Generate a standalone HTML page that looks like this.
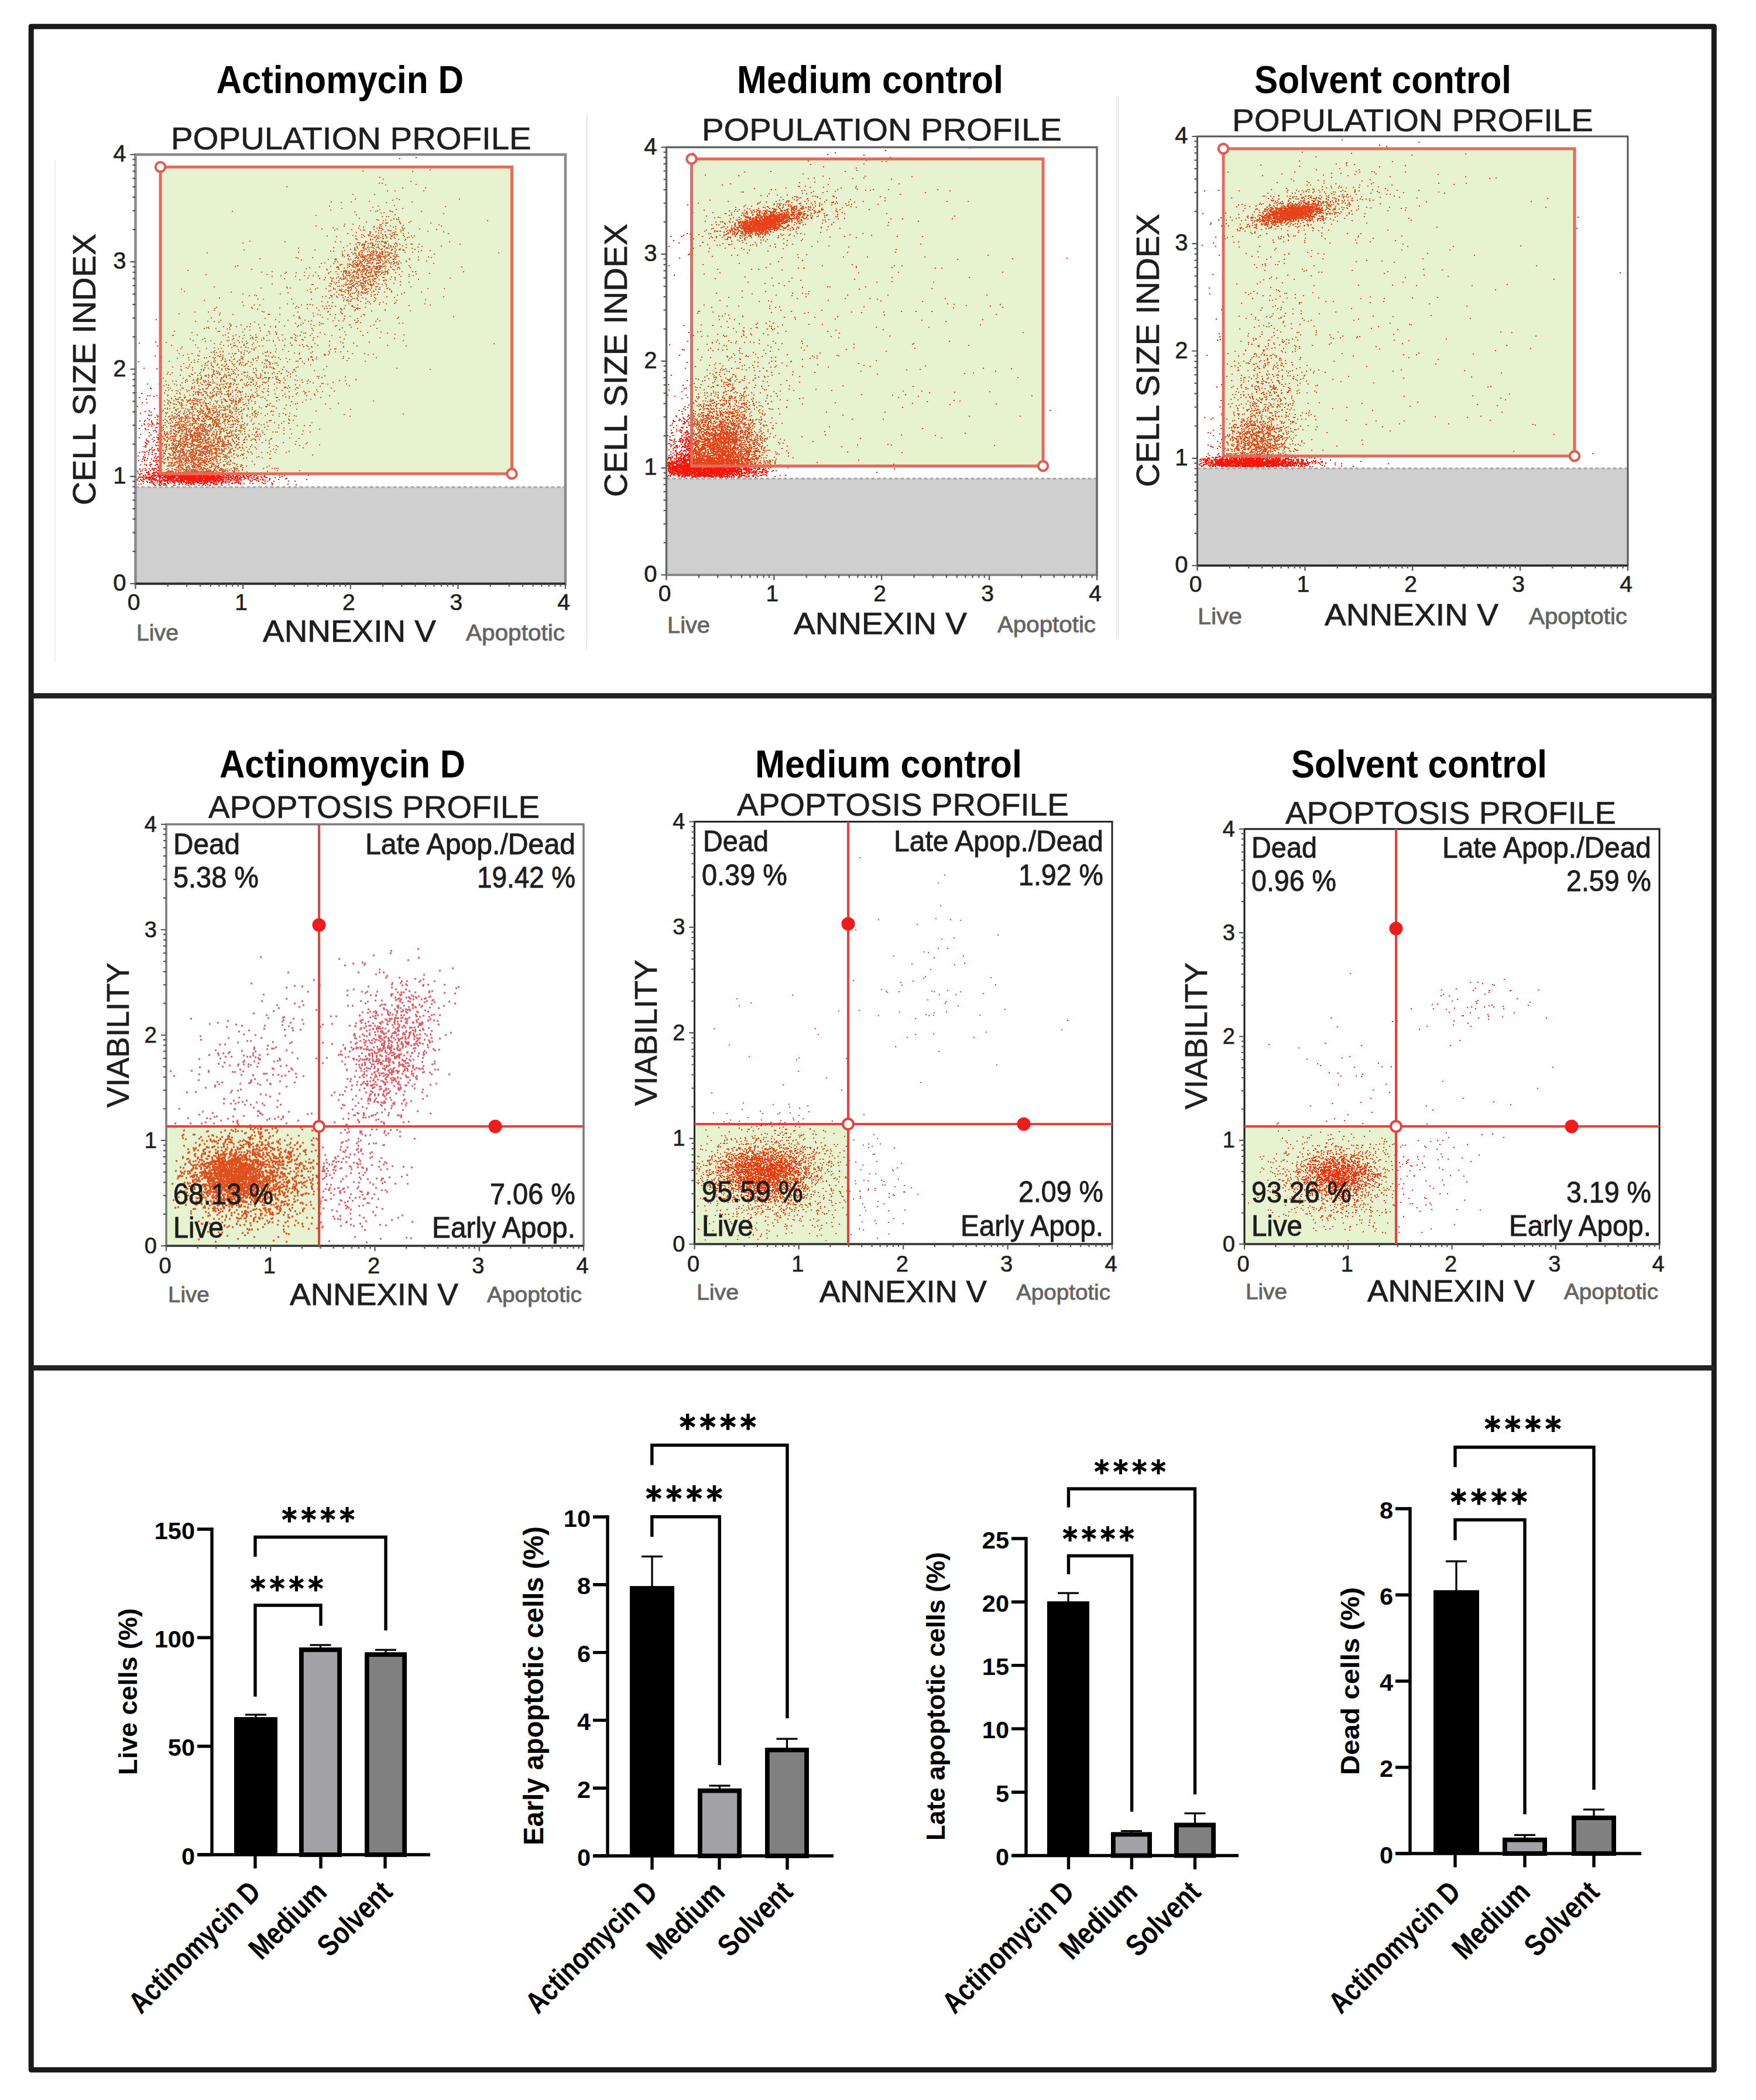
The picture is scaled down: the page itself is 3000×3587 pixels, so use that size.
<!DOCTYPE html><html><head><meta charset="utf-8"><style>html,body{margin:0;padding:0;background:#fff;width:3000px;height:3587px;overflow:hidden}text{font-family:"Liberation Sans",sans-serif}</style></head><body><svg width="3000" height="3587" viewBox="0 0 3000 3587" style="display:block;font-family:'Liberation Sans',sans-serif"><rect x="0.0" y="0.0" width="3000.0" height="3587.0" fill="#fff"/><line x1="94.0" y1="272.0" x2="94.0" y2="1131.0" stroke="#ececec" stroke-width="2"/><line x1="1002.0" y1="200.0" x2="1002.0" y2="1112.0" stroke="#ececec" stroke-width="2"/><rect x="231.5" y="264.0" width="734.5" height="733.0" fill="#ffffff"/><rect x="231.5" y="832.0" width="734.5" height="165.0" fill="#cfcfcf"/><line x1="231.5" y1="832.0" x2="966.0" y2="832.0" stroke="#a8a8a8" stroke-width="3" stroke-dasharray="6 4"/><rect x="274.0" y="285.2" width="600.5" height="524.0" fill="#e7f2d0"/><path d="M233 819h2M234 694h2M234 805h2M234 820h2M235 779h2M235 808h2M235 817h2M236 618h2M236 787h2M236 815h2M236 827h2M237 586h2M237 679h2M237 732h2M237 748h2M237 773h2M237 815h2M237 822h2M238 719h2M238 801h2M238 802h2M238 810h2M238 812h2M238 815h2M239 706h2M239 742h2M239 794h2M239 805h2M239 819h2M240 809h2M240 815h2M240 827h2M241 672h2M241 727h2M241 809h2M241 815h2M241 820h2M241 821h2M242 688h2M242 772h2M242 788h2M242 804h2M243 784h2M243 801h2M243 815h2M243 822h2M244 780h2M244 812h2M244 817h2M244 819h2M244 822h2M244 825h2M245 629h2M245 724h2M245 763h2M245 772h2M245 782h2M245 814h2M245 819h2M246 720h2M246 725h2M246 777h2M246 785h2M246 787h2M246 793h2M246 819h2M247 703h2M247 718h2M247 732h2M247 756h2M247 773h2M247 781h2M247 800h2M247 803h2M247 811h2M247 816h2M248 734h2M248 761h2M248 763h2M248 764h2M248 813h2M248 817h2M249 682h2M249 750h2M249 753h2M249 757h2M249 794h2M249 795h2M249 803h2M249 807h2M249 815h2M250 688h2M250 753h2M250 758h2M250 759h2M250 771h2M250 786h2M250 807h2M250 815h2M250 817h2M250 818h2M250 822h2M251 656h2M251 676h2M251 715h2M251 783h2M251 824h2M252 724h2M252 734h2M252 753h2M252 807h2M252 809h2M252 811h2M252 815h2M253 709h2M253 728h2M253 755h2M253 773h2M253 776h2M253 805h2M253 810h2M253 815h2M253 816h2M253 818h2M253 819h2M254 702h2M254 717h2M254 739h2M254 745h2M254 770h2M254 801h2M254 808h2M254 817h2M254 818h2M254 819h2M254 820h2M255 676h2M255 710h2M255 725h2M255 768h2M255 790h2M255 794h2M255 811h2M255 815h2M255 818h2M255 824h2M255 825h2M256 663h2M256 796h2M256 804h2M256 817h2M256 818h2M257 664h2M257 704h2M257 743h2M257 793h2M257 815h2M257 819h2M257 821h2M257 823h2M258 709h2M258 719h2M258 721h2M258 728h2M258 767h2M258 784h2M258 793h2M258 813h2M258 815h2M259 723h2M259 725h2M259 750h2M259 764h2M259 770h2M259 773h2M259 776h2M259 800h2M259 802h2M259 809h2M259 812h2M259 813h2M259 816h2M259 818h2M259 822h2M259 823h2M259 824h2M259 825h2M260 723h2M260 813h2M260 816h2M260 819h2M261 736h2M261 754h2M261 769h2M261 787h2M261 807h2M261 809h2M261 812h2M261 815h2M261 817h2M261 818h2M261 826h2M262 677h2M262 726h2M262 747h2M262 788h2M262 800h2M262 801h2M262 803h2M262 804h2M262 810h2M262 817h2M262 819h2M262 820h2M262 825h2M262 828h2M263 698h2M263 752h2M263 768h2M263 781h2M263 782h2M263 807h2M263 811h2M263 813h2M263 828h2M264 608h2M264 713h2M264 735h2M264 775h2M264 787h2M264 795h2M264 800h2M264 807h2M264 808h2M264 813h2M264 818h2M264 820h2M265 584h2M265 731h2M265 760h2M265 779h2M265 812h2M265 820h2M265 821h2M265 829h2M266 546h2M266 737h2M266 738h2M266 761h2M266 775h2M266 783h2M266 784h2M266 787h2M266 790h2M266 793h2M266 801h2M266 806h2M266 815h2M266 816h2M266 819h2M266 820h2M267 630h2M267 676h2M267 709h2M267 724h2M267 730h2M267 747h2M267 756h2M267 806h2M267 807h2M267 812h2M268 591h2M268 712h2M268 717h2M268 722h2M268 767h2M268 781h2M268 787h2M268 793h2M268 794h2M268 803h2M268 809h2M268 822h2M268 825h2M269 711h2M269 724h2M269 743h2M269 747h2M269 750h2M269 751h2M269 755h2M269 761h2M269 766h2M269 770h2M269 780h2M269 797h2M269 799h2M269 803h2M269 809h2M269 810h2M269 813h2M269 814h2M269 820h2M269 821h2M270 748h2M270 769h2M270 787h2M270 799h2M270 804h2M270 808h2M270 811h2M270 812h2M270 813h2M271 656h2M271 680h2M271 723h2M271 740h2M271 750h2M271 790h2M271 801h2M271 805h2M271 811h2M271 815h2M271 816h2M271 823h2M271 827h2M271 829h2M272 647h2M272 682h2M272 722h2M272 728h2M272 729h2M272 731h2M272 741h2M272 746h2M272 787h2M272 790h2M272 792h2M272 803h2M272 813h2M272 818h2M272 819h2M272 821h2M272 823h2M272 825h2M272 826h2M273 668h2M273 697h2M273 720h2M273 722h2M273 735h2M273 751h2M273 752h2M273 768h2M273 776h2M273 799h2M273 801h2M273 807h2M273 815h2M273 817h2M273 829h2M274 810h2M274 811h2M274 813h2M274 822h2M274 824h2M275 821h2M275 822h2M275 825h2M275 827h2M276 812h2M276 816h2M276 821h2M277 811h2M277 816h2M277 817h2M277 819h2M278 811h2M278 815h2M278 819h2M278 820h2M279 810h2M279 813h2M279 826h2M279 828h2M279 829h2M280 812h2M280 813h2M280 815h2M280 819h2M280 821h2M280 822h2M280 827h2M281 811h2M281 812h2M281 815h2M281 817h2M281 820h2M281 822h2M281 826h2M282 814h2M282 815h2M282 816h2M282 820h2M282 828h2M283 811h2M283 813h2M283 814h2M283 816h2M283 821h2M283 829h2M284 810h2M284 812h2M284 816h2M284 820h2M284 822h2M285 811h2M285 812h2M285 815h2M285 818h2M285 819h2M285 820h2M285 824h2M286 813h2M286 816h2M286 817h2M286 818h2M286 821h2M286 823h2M286 826h2M287 810h2M287 811h2M287 814h2M287 815h2M287 819h2M287 820h2M287 826h2M288 811h2M288 812h2M288 814h2M288 815h2M288 816h2M288 818h2M289 810h2M289 811h2M289 815h2M289 816h2M289 819h2M289 822h2M289 823h2M290 814h2M290 816h2M290 818h2M290 824h2M291 812h2M291 815h2M291 817h2M291 819h2M291 821h2M292 813h2M292 815h2M292 816h2M292 817h2M292 818h2M293 811h2M293 812h2M293 815h2M293 817h2M293 821h2M293 822h2M294 809h2M294 810h2M294 811h2M294 812h2M294 813h2M294 814h2M294 816h2M294 818h2M294 819h2M294 821h2M294 823h2M295 811h2M295 816h2M295 817h2M295 818h2M295 819h2M295 820h2M295 823h2M295 824h2M296 809h2M296 811h2M296 812h2M296 813h2M296 815h2M296 816h2M296 817h2M296 820h2M296 823h2M296 829h2M297 810h2M297 812h2M297 815h2M297 816h2M297 821h2M297 823h2M297 824h2M297 826h2M297 829h2M298 810h2M298 812h2M298 814h2M298 815h2M298 816h2M298 825h2M298 829h2M299 811h2M299 812h2M299 816h2M299 819h2M299 820h2M299 821h2M300 810h2M300 813h2M300 816h2M300 817h2M301 812h2M301 813h2M301 819h2M301 821h2M301 822h2M302 812h2M302 813h2M302 818h2M302 819h2M302 820h2M303 809h2M303 810h2M303 815h2M303 816h2M303 818h2M303 821h2M303 823h2M304 809h2M304 810h2M304 811h2M304 812h2M304 816h2M304 817h2M304 818h2M304 821h2M305 811h2M305 812h2M305 813h2M305 814h2M305 815h2M305 816h2M305 823h2M305 824h2M305 826h2M305 828h2M306 809h2M306 812h2M306 813h2M306 816h2M306 817h2M306 821h2M306 822h2M307 809h2M307 811h2M307 814h2M307 815h2M307 816h2M307 818h2M307 819h2M307 821h2M307 822h2M308 809h2M308 811h2M308 812h2M308 813h2M308 814h2M308 815h2M308 816h2M308 818h2M308 820h2M308 821h2M308 823h2M308 824h2M309 814h2M309 815h2M309 818h2M309 820h2M309 823h2M309 825h2M310 809h2M310 813h2M310 814h2M310 815h2M310 816h2M310 819h2M310 821h2M310 822h2M311 812h2M311 813h2M311 814h2M311 815h2M311 816h2M311 817h2M311 818h2M311 821h2M311 827h2M312 809h2M312 811h2M312 812h2M312 813h2M312 814h2M312 816h2M312 819h2M312 820h2M312 821h2M312 822h2M313 813h2M313 814h2M313 819h2M313 821h2M313 823h2M313 824h2M314 809h2M314 811h2M314 813h2M314 815h2M314 816h2M314 818h2M314 819h2M314 820h2M314 822h2M314 823h2M315 810h2M315 811h2M315 814h2M315 815h2M315 816h2M316 810h2M316 812h2M316 813h2M316 814h2M316 815h2M316 817h2M316 819h2M316 824h2M316 827h2M317 811h2M317 812h2M317 813h2M317 814h2M317 815h2M317 816h2M318 809h2M318 811h2M318 812h2M318 813h2M318 814h2M318 816h2M318 817h2M318 818h2M318 819h2M318 820h2M318 821h2M318 822h2M318 824h2M318 826h2M318 827h2M319 812h2M319 814h2M319 817h2M319 818h2M319 819h2M319 821h2M320 811h2M320 813h2M320 814h2M320 815h2M320 817h2M320 820h2M320 821h2M320 824h2M321 810h2M321 811h2M321 812h2M321 813h2M321 816h2M321 818h2M321 820h2M321 822h2M321 824h2M321 825h2M321 829h2M322 809h2M322 810h2M322 811h2M322 814h2M322 815h2M322 816h2M322 818h2M322 819h2M322 823h2M322 825h2M322 826h2M323 809h2M323 811h2M323 812h2M323 813h2M323 815h2M323 816h2M323 817h2M323 818h2M323 819h2M323 820h2M323 822h2M324 810h2M324 811h2M324 814h2M324 815h2M324 816h2M324 819h2M324 824h2M324 825h2M325 810h2M325 811h2M325 812h2M325 814h2M325 815h2M325 816h2M325 817h2M325 818h2M325 819h2M325 821h2M325 827h2M326 809h2M326 810h2M326 811h2M326 812h2M326 813h2M326 814h2M326 816h2M326 817h2M326 819h2M326 820h2M326 821h2M326 822h2M326 823h2M326 826h2M326 827h2M326 828h2M327 809h2M327 810h2M327 811h2M327 813h2M327 814h2M327 815h2M327 816h2M327 818h2M327 819h2M327 820h2M327 821h2M327 824h2M328 809h2M328 810h2M328 811h2M328 812h2M328 813h2M328 815h2M328 816h2M328 817h2M328 818h2M328 819h2M328 820h2M328 822h2M328 824h2M328 825h2M329 809h2M329 810h2M329 811h2M329 812h2M329 813h2M329 814h2M329 815h2M329 817h2M329 818h2M329 819h2M329 820h2M329 821h2M329 823h2M329 827h2M330 810h2M330 811h2M330 812h2M330 813h2M330 814h2M330 815h2M330 816h2M330 817h2M330 818h2M330 819h2M330 820h2M330 821h2M330 822h2M330 823h2M330 825h2M331 809h2M331 811h2M331 812h2M331 813h2M331 814h2M331 815h2M331 816h2M331 819h2M331 820h2M331 828h2M332 811h2M332 813h2M332 814h2M332 815h2M332 816h2M332 817h2M332 818h2M332 819h2M332 821h2M332 825h2M333 811h2M333 813h2M333 814h2M333 816h2M333 817h2M333 818h2M333 819h2M333 820h2M333 821h2M333 823h2M334 809h2M334 810h2M334 811h2M334 812h2M334 814h2M334 815h2M334 816h2M334 817h2M334 818h2M334 820h2M334 821h2M335 810h2M335 812h2M335 813h2M335 816h2M335 817h2M335 818h2M335 819h2M335 821h2M335 823h2M336 811h2M336 812h2M336 813h2M336 816h2M336 818h2M336 819h2M336 822h2M336 823h2M336 824h2M337 810h2M337 811h2M337 813h2M337 814h2M337 815h2M337 816h2M337 817h2M337 818h2M337 822h2M337 825h2M338 810h2M338 812h2M338 814h2M338 815h2M338 816h2M338 817h2M338 820h2M338 822h2M338 823h2M338 824h2M339 810h2M339 811h2M339 812h2M339 813h2M339 815h2M339 817h2M339 818h2M339 819h2M339 821h2M339 823h2M339 829h2M340 809h2M340 811h2M340 812h2M340 813h2M340 814h2M340 815h2M340 816h2M340 818h2M340 821h2M340 826h2M341 810h2M341 811h2M341 812h2M341 813h2M341 814h2M341 815h2M341 817h2M341 818h2M341 820h2M341 822h2M341 823h2M341 826h2M342 809h2M342 810h2M342 811h2M342 813h2M342 814h2M342 815h2M342 816h2M342 817h2M342 818h2M342 819h2M342 821h2M343 809h2M343 811h2M343 812h2M343 814h2M343 815h2M343 816h2M343 817h2M343 818h2M343 820h2M343 821h2M343 823h2M343 826h2M344 809h2M344 810h2M344 811h2M344 812h2M344 818h2M344 819h2M344 825h2M345 811h2M345 812h2M345 813h2M345 816h2M345 817h2M345 818h2M345 819h2M345 820h2M345 829h2M346 811h2M346 812h2M346 815h2M346 817h2M346 820h2M346 822h2M346 825h2M346 828h2M347 810h2M347 812h2M347 813h2M347 814h2M347 815h2M347 816h2M347 821h2M347 825h2M347 827h2M348 809h2M348 811h2M348 812h2M348 813h2M348 814h2M348 816h2M348 817h2M348 823h2M349 812h2M349 814h2M349 815h2M349 817h2M349 819h2M349 820h2M349 821h2M349 823h2M349 825h2M349 826h2M350 809h2M350 810h2M350 812h2M350 813h2M350 814h2M350 816h2M350 817h2M350 818h2M350 821h2M350 823h2M350 824h2M350 829h2M351 810h2M351 811h2M351 812h2M351 814h2M351 816h2M351 817h2M351 818h2M351 819h2M351 821h2M351 822h2M351 823h2M351 824h2M352 810h2M352 812h2M352 814h2M352 816h2M352 817h2M352 820h2M352 821h2M352 822h2M352 826h2M353 809h2M353 811h2M353 813h2M353 814h2M353 816h2M353 817h2M353 818h2M353 822h2M353 823h2M354 810h2M354 813h2M354 815h2M354 816h2M354 817h2M354 818h2M354 819h2M354 821h2M354 823h2M354 824h2M354 828h2M355 811h2M355 812h2M355 817h2M355 818h2M355 821h2M356 810h2M356 813h2M356 815h2M356 816h2M356 819h2M356 820h2M356 821h2M357 809h2M357 810h2M357 817h2M357 818h2M357 819h2M357 820h2M357 821h2M357 822h2M357 823h2M357 829h2M358 810h2M358 811h2M358 814h2M358 815h2M358 816h2M358 817h2M358 819h2M358 828h2M358 829h2M359 809h2M359 810h2M359 811h2M359 812h2M359 813h2M359 814h2M359 817h2M359 818h2M359 819h2M359 820h2M359 823h2M359 825h2M360 810h2M360 811h2M360 812h2M360 814h2M360 815h2M360 816h2M360 818h2M360 819h2M360 822h2M360 823h2M360 824h2M360 825h2M361 809h2M361 810h2M361 811h2M361 812h2M361 815h2M361 816h2M361 817h2M361 819h2M362 809h2M362 811h2M362 813h2M362 815h2M362 817h2M362 818h2M362 819h2M362 820h2M362 824h2M363 809h2M363 811h2M363 812h2M363 814h2M363 815h2M363 819h2M363 820h2M363 821h2M363 825h2M364 812h2M364 813h2M364 815h2M364 816h2M364 817h2M364 818h2M364 819h2M364 820h2M364 821h2M364 822h2M364 825h2M364 827h2M365 810h2M365 811h2M365 812h2M365 813h2M365 815h2M365 816h2M365 817h2M365 818h2M365 819h2M365 820h2M365 825h2M366 810h2M366 815h2M366 816h2M366 817h2M366 821h2M366 823h2M366 828h2M367 809h2M367 810h2M367 814h2M367 816h2M367 817h2M367 820h2M367 822h2M367 827h2M368 813h2M368 819h2M368 820h2M368 821h2M368 823h2M369 809h2M369 810h2M369 813h2M369 817h2M369 820h2M369 825h2M369 828h2M370 812h2M370 814h2M370 816h2M370 818h2M370 819h2M370 827h2M371 813h2M371 814h2M371 815h2M371 817h2M371 820h2M371 822h2M372 809h2M372 812h2M372 814h2M372 816h2M372 821h2M372 824h2M373 809h2M373 812h2M373 813h2M373 814h2M373 815h2M373 816h2M373 817h2M373 818h2M373 821h2M373 822h2M374 810h2M374 815h2M375 813h2M375 814h2M375 815h2M375 817h2M375 818h2M375 819h2M375 821h2M375 822h2M377 809h2M377 811h2M377 814h2M377 817h2M377 819h2M377 820h2M377 825h2M377 826h2M377 827h2M378 811h2M378 815h2M378 817h2M378 818h2M378 824h2M378 829h2M379 810h2M379 815h2M379 816h2M379 819h2M379 821h2M379 825h2M380 809h2M380 813h2M380 814h2M380 816h2M380 820h2M380 821h2M380 823h2M381 810h2M381 811h2M381 816h2M381 819h2M381 822h2M381 823h2M382 813h2M382 817h2M382 822h2M383 809h2M383 815h2M384 811h2M384 824h2M385 815h2M385 816h2M385 818h2M385 819h2M385 821h2M385 822h2M385 824h2M385 825h2M386 813h2M387 810h2M387 812h2M387 813h2M387 816h2M388 811h2M388 819h2M388 820h2M388 823h2M389 811h2M389 812h2M389 814h2M389 815h2M389 818h2M389 820h2M390 816h2M390 818h2M390 824h2M390 828h2M391 811h2M391 812h2M391 823h2M392 811h2M392 812h2M392 815h2M392 819h2M392 820h2M393 814h2M393 816h2M393 821h2M394 814h2M394 816h2M395 817h2M395 818h2M395 820h2M395 826h2M396 809h2M396 813h2M396 825h2M397 811h2M397 812h2M397 816h2M397 817h2M397 826h2M398 814h2M398 820h2M399 819h2M400 815h2M400 818h2M400 825h2M401 810h2M401 816h2M401 821h2M401 824h2M402 814h2M402 818h2M402 821h2M403 813h2M403 814h2M403 815h2M403 821h2M403 824h2M404 811h2M404 814h2M404 818h2M404 820h2M404 822h2M405 811h2M405 814h2M405 816h2M406 809h2M406 813h2M406 820h2M406 824h2M407 818h2M407 822h2M407 823h2M407 824h2M407 826h2M408 810h2M408 812h2M408 816h2M409 811h2M409 817h2M409 818h2M409 819h2M410 814h2M410 817h2M410 820h2M410 825h2M410 827h2M411 816h2M412 816h2M412 820h2M414 812h2M414 814h2M415 815h2M416 813h2M416 815h2M416 819h2M416 826h2M417 816h2M417 817h2M419 817h2M420 813h2M421 809h2M421 811h2M422 814h2M423 816h2M423 818h2M423 819h2M424 809h2M424 810h2M424 814h2M425 810h2M425 813h2M426 820h2M426 825h2M427 809h2M427 812h2M427 822h2M428 811h2M428 813h2M428 816h2M428 822h2M430 817h2M430 818h2M430 821h2M431 826h2M433 813h2M433 814h2M433 816h2M433 819h2M434 809h2M434 812h2M435 819h2M436 819h2M437 812h2M437 817h2M437 821h2M438 816h2M439 816h2M439 818h2M440 814h2M440 818h2M440 821h2M441 822h2M444 819h2M445 810h2M445 814h2M446 816h2M447 824h2M448 818h2M448 819h2M448 820h2M449 820h2M449 826h2M450 814h2M451 812h2M451 814h2M452 815h2M452 820h2M452 823h2M452 826h2M454 816h2M455 816h2M456 822h2M459 820h2M460 817h2M460 819h2M463 825h2M464 828h2M465 826h2M467 822h2M469 816h2M475 819h2M476 812h2M477 815h2M481 814h2M485 812h2M487 818h2M489 817h2M491 827h2M492 822h2M495 810h2M503 822h2M505 828h2M523 819h2M526 812h2M682 271h2M710 269h2" stroke="#ff1a10" stroke-width="2"/><path d="M274 720h2M274 726h2M274 735h2M274 741h2M274 750h2M274 751h2M274 756h2M274 763h2M274 767h2M274 768h2M274 769h2M274 770h2M274 776h2M274 777h2M274 779h2M274 783h2M274 787h2M274 788h2M274 791h2M274 793h2M275 610h2M275 627h2M275 728h2M275 743h2M275 751h2M275 752h2M275 758h2M275 782h2M275 803h2M275 806h2M276 703h2M276 731h2M276 736h2M276 746h2M276 759h2M276 777h2M276 782h2M276 783h2M276 789h2M277 757h2M277 762h2M277 769h2M278 646h2M278 701h2M278 718h2M278 727h2M278 730h2M278 734h2M278 745h2M278 749h2M278 770h2M278 780h2M278 789h2M278 807h2M279 659h2M279 749h2M279 773h2M279 775h2M279 779h2M279 785h2M279 792h2M280 671h2M280 685h2M280 692h2M280 737h2M280 739h2M280 741h2M280 750h2M280 760h2M280 774h2M280 785h2M280 791h2M281 698h2M281 716h2M281 722h2M281 726h2M281 742h2M281 745h2M281 751h2M281 752h2M281 759h2M281 769h2M281 775h2M281 790h2M281 807h2M282 651h2M282 667h2M282 705h2M282 711h2M282 743h2M282 764h2M282 771h2M282 783h2M282 808h2M283 585h2M283 657h2M283 707h2M283 759h2M283 761h2M283 765h2M283 766h2M283 802h2M283 807h2M283 808h2M284 718h2M284 729h2M284 740h2M284 742h2M284 747h2M284 754h2M284 763h2M284 768h2M284 806h2M285 639h2M285 676h2M285 683h2M285 697h2M285 699h2M285 705h2M285 720h2M285 738h2M285 741h2M285 746h2M285 752h2M285 754h2M285 781h2M285 782h2M285 796h2M286 636h2M286 662h2M286 675h2M286 688h2M286 690h2M286 748h2M286 784h2M286 786h2M286 800h2M286 801h2M286 804h2M286 806h2M286 808h2M287 658h2M287 666h2M287 685h2M287 712h2M287 723h2M287 742h2M287 750h2M287 775h2M287 781h2M287 791h2M287 796h2M287 805h2M288 617h2M288 685h2M288 759h2M288 761h2M288 767h2M288 781h2M288 794h2M288 804h2M288 807h2M289 693h2M289 698h2M289 711h2M289 717h2M289 738h2M289 749h2M289 767h2M289 775h2M289 777h2M289 790h2M289 796h2M289 807h2M290 640h2M290 663h2M290 687h2M290 716h2M290 723h2M290 741h2M290 746h2M290 749h2M290 765h2M290 782h2M290 790h2M290 805h2M290 807h2M291 688h2M291 715h2M291 727h2M291 729h2M291 732h2M291 735h2M291 737h2M291 752h2M291 753h2M291 765h2M291 778h2M291 794h2M291 805h2M292 590h2M292 680h2M292 681h2M292 719h2M292 740h2M292 745h2M292 752h2M292 766h2M292 767h2M292 783h2M292 790h2M292 792h2M292 796h2M292 806h2M293 637h2M293 667h2M293 704h2M293 709h2M293 710h2M293 714h2M293 746h2M293 749h2M293 757h2M293 758h2M293 761h2M293 765h2M293 769h2M293 783h2M293 790h2M293 792h2M293 801h2M293 804h2M294 573h2M294 627h2M294 651h2M294 721h2M294 728h2M294 729h2M294 745h2M294 749h2M294 756h2M294 759h2M294 771h2M294 777h2M294 786h2M294 796h2M294 805h2M295 573h2M295 690h2M295 712h2M295 728h2M295 734h2M295 752h2M295 764h2M295 766h2M295 776h2M295 778h2M295 806h2M295 807h2M296 684h2M296 697h2M296 713h2M296 716h2M296 740h2M296 745h2M296 746h2M296 750h2M296 752h2M296 754h2M296 758h2M296 759h2M296 760h2M296 764h2M296 767h2M296 768h2M296 772h2M296 774h2M296 781h2M296 783h2M296 793h2M296 795h2M296 808h2M297 566h2M297 656h2M297 690h2M297 696h2M297 714h2M297 727h2M297 735h2M297 742h2M297 750h2M297 753h2M297 754h2M297 761h2M297 765h2M297 781h2M297 783h2M297 790h2M297 795h2M297 802h2M297 808h2M298 677h2M298 706h2M298 711h2M298 725h2M298 726h2M298 729h2M298 731h2M298 736h2M298 741h2M298 746h2M298 749h2M298 750h2M298 771h2M298 773h2M298 774h2M298 780h2M298 783h2M298 791h2M298 802h2M299 681h2M299 700h2M299 718h2M299 722h2M299 737h2M299 744h2M299 746h2M299 752h2M299 759h2M299 762h2M299 763h2M299 766h2M299 768h2M299 769h2M299 774h2M299 777h2M299 785h2M299 790h2M299 794h2M299 806h2M299 808h2M299 809h2M300 651h2M300 667h2M300 683h2M300 691h2M300 702h2M300 714h2M300 726h2M300 737h2M300 738h2M300 743h2M300 753h2M300 761h2M300 765h2M300 778h2M300 782h2M300 784h2M300 799h2M300 802h2M300 804h2M300 808h2M301 658h2M301 672h2M301 700h2M301 708h2M301 712h2M301 721h2M301 727h2M301 737h2M301 742h2M301 757h2M301 764h2M301 767h2M301 768h2M301 771h2M301 784h2M301 788h2M301 789h2M301 803h2M301 808h2M302 599h2M302 612h2M302 682h2M302 707h2M302 725h2M302 753h2M302 761h2M302 763h2M302 764h2M302 791h2M302 798h2M303 668h2M303 686h2M303 698h2M303 710h2M303 723h2M303 725h2M303 732h2M303 739h2M303 771h2M303 772h2M303 773h2M303 780h2M303 782h2M303 783h2M303 788h2M303 797h2M304 682h2M304 687h2M304 704h2M304 715h2M304 721h2M304 725h2M304 730h2M304 731h2M304 737h2M304 754h2M304 758h2M304 760h2M304 761h2M304 770h2M304 772h2M304 795h2M304 797h2M304 798h2M304 800h2M304 804h2M304 806h2M304 809h2M305 536h2M305 604h2M305 679h2M305 709h2M305 711h2M305 720h2M305 721h2M305 726h2M305 730h2M305 735h2M305 739h2M305 753h2M305 756h2M305 759h2M305 776h2M305 778h2M305 779h2M305 784h2M305 787h2M305 790h2M305 792h2M305 795h2M305 796h2M305 801h2M305 807h2M306 671h2M306 688h2M306 689h2M306 704h2M306 715h2M306 717h2M306 728h2M306 731h2M306 732h2M306 735h2M306 736h2M306 745h2M306 754h2M306 758h2M306 764h2M306 770h2M306 778h2M306 779h2M306 781h2M306 784h2M306 786h2M306 788h2M306 793h2M306 795h2M306 803h2M306 807h2M307 641h2M307 658h2M307 666h2M307 673h2M307 679h2M307 702h2M307 714h2M307 724h2M307 730h2M307 744h2M307 749h2M307 751h2M307 752h2M307 754h2M307 759h2M307 762h2M307 770h2M307 771h2M307 773h2M307 774h2M307 775h2M307 782h2M307 786h2M307 794h2M307 795h2M308 596h2M308 626h2M308 631h2M308 692h2M308 719h2M308 720h2M308 733h2M308 744h2M308 745h2M308 746h2M308 749h2M308 750h2M308 756h2M308 759h2M308 760h2M308 761h2M308 767h2M308 768h2M308 772h2M308 785h2M308 787h2M308 790h2M308 795h2M308 797h2M308 799h2M308 803h2M308 806h2M308 808h2M309 494h2M309 633h2M309 683h2M309 688h2M309 689h2M309 691h2M309 694h2M309 697h2M309 713h2M309 717h2M309 720h2M309 727h2M309 736h2M309 741h2M309 760h2M309 766h2M309 778h2M309 779h2M309 780h2M309 788h2M309 791h2M309 799h2M310 593h2M310 654h2M310 663h2M310 712h2M310 714h2M310 715h2M310 725h2M310 729h2M310 730h2M310 734h2M310 740h2M310 741h2M310 749h2M310 757h2M310 768h2M310 769h2M310 773h2M310 779h2M310 783h2M310 789h2M310 794h2M310 799h2M310 800h2M310 801h2M311 683h2M311 692h2M311 729h2M311 733h2M311 737h2M311 740h2M311 750h2M311 754h2M311 762h2M311 767h2M311 770h2M311 771h2M311 772h2M311 778h2M311 783h2M311 793h2M311 800h2M311 807h2M311 808h2M312 607h2M312 646h2M312 663h2M312 685h2M312 697h2M312 720h2M312 727h2M312 736h2M312 747h2M312 750h2M312 753h2M312 754h2M312 758h2M312 762h2M312 764h2M312 769h2M312 772h2M312 774h2M312 777h2M312 785h2M312 795h2M312 796h2M312 801h2M313 621h2M313 706h2M313 707h2M313 714h2M313 725h2M313 726h2M313 729h2M313 730h2M313 744h2M313 754h2M313 755h2M313 759h2M313 767h2M313 771h2M313 774h2M313 776h2M313 782h2M313 783h2M313 790h2M313 803h2M313 806h2M313 807h2M314 498h2M314 675h2M314 679h2M314 680h2M314 702h2M314 705h2M314 721h2M314 734h2M314 746h2M314 754h2M314 756h2M314 762h2M314 764h2M314 773h2M314 777h2M314 779h2M314 782h2M314 802h2M314 806h2M314 807h2M315 711h2M315 718h2M315 726h2M315 730h2M315 733h2M315 734h2M315 740h2M315 741h2M315 746h2M315 749h2M315 750h2M315 754h2M315 759h2M315 761h2M315 762h2M315 776h2M315 786h2M315 788h2M315 793h2M316 650h2M316 653h2M316 678h2M316 679h2M316 698h2M316 710h2M316 712h2M316 715h2M316 716h2M316 718h2M316 723h2M316 744h2M316 745h2M316 752h2M316 761h2M316 776h2M316 784h2M316 792h2M316 795h2M316 803h2M316 805h2M316 808h2M317 628h2M317 692h2M317 713h2M317 722h2M317 726h2M317 729h2M317 732h2M317 737h2M317 738h2M317 742h2M317 748h2M317 749h2M317 757h2M317 758h2M317 759h2M317 769h2M317 774h2M317 778h2M317 781h2M317 784h2M317 786h2M317 787h2M317 788h2M317 789h2M317 790h2M317 798h2M317 801h2M317 805h2M317 806h2M317 807h2M317 808h2M318 648h2M318 666h2M318 683h2M318 704h2M318 714h2M318 733h2M318 734h2M318 736h2M318 740h2M318 746h2M318 748h2M318 749h2M318 750h2M318 751h2M318 752h2M318 755h2M318 775h2M318 780h2M318 782h2M318 783h2M318 799h2M318 803h2M318 805h2M319 651h2M319 669h2M319 687h2M319 708h2M319 709h2M319 712h2M319 721h2M319 742h2M319 744h2M319 748h2M319 759h2M319 760h2M319 762h2M319 772h2M319 781h2M319 787h2M319 791h2M319 797h2M319 799h2M319 802h2M319 808h2M320 462h2M320 605h2M320 629h2M320 685h2M320 699h2M320 715h2M320 718h2M320 721h2M320 727h2M320 732h2M320 744h2M320 751h2M320 756h2M320 761h2M320 764h2M320 770h2M320 782h2M320 785h2M320 787h2M320 806h2M321 611h2M321 684h2M321 685h2M321 702h2M321 711h2M321 721h2M321 736h2M321 738h2M321 756h2M321 764h2M321 769h2M321 779h2M321 783h2M321 784h2M321 785h2M321 786h2M321 795h2M321 796h2M321 804h2M321 808h2M322 615h2M322 626h2M322 642h2M322 667h2M322 684h2M322 714h2M322 734h2M322 736h2M322 743h2M322 751h2M322 774h2M322 788h2M322 791h2M322 797h2M322 798h2M322 800h2M322 803h2M322 806h2M322 808h2M323 623h2M323 675h2M323 689h2M323 700h2M323 704h2M323 707h2M323 719h2M323 726h2M323 733h2M323 738h2M323 758h2M323 764h2M323 770h2M323 771h2M323 776h2M323 779h2M323 787h2M323 801h2M323 806h2M324 579h2M324 643h2M324 681h2M324 683h2M324 684h2M324 705h2M324 714h2M324 723h2M324 724h2M324 727h2M324 731h2M324 740h2M324 742h2M324 745h2M324 749h2M324 774h2M324 776h2M324 779h2M324 780h2M324 801h2M325 690h2M325 695h2M325 735h2M325 738h2M325 742h2M325 744h2M325 745h2M325 746h2M325 747h2M325 757h2M325 759h2M325 764h2M325 767h2M325 768h2M325 773h2M325 778h2M325 780h2M325 782h2M325 790h2M325 804h2M326 619h2M326 639h2M326 664h2M326 696h2M326 735h2M326 737h2M326 742h2M326 743h2M326 745h2M326 746h2M326 753h2M326 757h2M326 761h2M326 763h2M326 768h2M326 772h2M326 773h2M326 777h2M326 784h2M326 786h2M326 789h2M326 790h2M326 793h2M326 803h2M326 805h2M326 806h2M326 807h2M327 568h2M327 604h2M327 661h2M327 663h2M327 664h2M327 684h2M327 687h2M327 698h2M327 699h2M327 705h2M327 707h2M327 714h2M327 724h2M327 726h2M327 727h2M327 745h2M327 746h2M327 748h2M327 753h2M327 754h2M327 768h2M327 771h2M327 772h2M327 774h2M327 775h2M327 782h2M327 783h2M327 786h2M327 788h2M327 789h2M327 796h2M327 802h2M327 803h2M327 804h2M328 628h2M328 632h2M328 640h2M328 655h2M328 694h2M328 696h2M328 711h2M328 714h2M328 718h2M328 725h2M328 735h2M328 743h2M328 745h2M328 746h2M328 748h2M328 750h2M328 751h2M328 752h2M328 754h2M328 756h2M328 758h2M328 761h2M328 770h2M328 772h2M328 776h2M328 779h2M328 781h2M328 782h2M328 798h2M328 804h2M328 806h2M328 808h2M329 582h2M329 649h2M329 674h2M329 675h2M329 684h2M329 690h2M329 700h2M329 703h2M329 709h2M329 716h2M329 723h2M329 731h2M329 744h2M329 750h2M329 751h2M329 754h2M329 760h2M329 762h2M329 767h2M329 768h2M329 769h2M329 770h2M329 772h2M329 777h2M329 784h2M329 786h2M329 789h2M329 790h2M329 791h2M329 795h2M329 797h2M329 799h2M329 802h2M329 803h2M330 649h2M330 669h2M330 680h2M330 688h2M330 691h2M330 692h2M330 714h2M330 720h2M330 741h2M330 753h2M330 754h2M330 759h2M330 765h2M330 772h2M330 774h2M330 778h2M330 779h2M330 784h2M330 786h2M330 790h2M330 793h2M330 796h2M330 798h2M330 802h2M330 806h2M330 807h2M330 808h2M330 809h2M331 615h2M331 619h2M331 653h2M331 660h2M331 663h2M331 681h2M331 684h2M331 709h2M331 715h2M331 717h2M331 723h2M331 728h2M331 730h2M331 738h2M331 739h2M331 743h2M331 750h2M331 759h2M331 779h2M331 780h2M331 784h2M331 785h2M331 786h2M331 791h2M331 803h2M331 804h2M331 807h2M332 533h2M332 637h2M332 690h2M332 695h2M332 698h2M332 719h2M332 732h2M332 733h2M332 739h2M332 741h2M332 744h2M332 745h2M332 747h2M332 751h2M332 753h2M332 761h2M332 768h2M332 774h2M332 777h2M332 781h2M332 782h2M332 784h2M332 785h2M332 791h2M332 792h2M332 793h2M332 796h2M332 798h2M332 799h2M332 803h2M332 804h2M332 805h2M333 549h2M333 589h2M333 670h2M333 673h2M333 682h2M333 721h2M333 739h2M333 740h2M333 745h2M333 750h2M333 766h2M333 771h2M333 774h2M333 775h2M333 779h2M333 785h2M333 793h2M333 794h2M333 803h2M333 806h2M333 808h2M333 809h2M334 681h2M334 685h2M334 689h2M334 690h2M334 699h2M334 718h2M334 719h2M334 720h2M334 723h2M334 732h2M334 735h2M334 736h2M334 741h2M334 747h2M334 753h2M334 762h2M334 765h2M334 766h2M334 769h2M334 771h2M334 776h2M334 784h2M334 786h2M334 801h2M334 804h2M334 805h2M334 807h2M334 808h2M334 809h2M335 649h2M335 650h2M335 715h2M335 724h2M335 731h2M335 735h2M335 736h2M335 740h2M335 744h2M335 751h2M335 753h2M335 754h2M335 760h2M335 766h2M335 769h2M335 772h2M335 774h2M335 775h2M335 782h2M335 793h2M335 798h2M335 805h2M335 808h2M335 809h2M336 572h2M336 650h2M336 655h2M336 669h2M336 670h2M336 683h2M336 685h2M336 690h2M336 703h2M336 710h2M336 715h2M336 730h2M336 733h2M336 734h2M336 739h2M336 743h2M336 748h2M336 751h2M336 752h2M336 753h2M336 764h2M336 769h2M336 781h2M336 795h2M336 796h2M336 804h2M336 805h2M336 807h2M337 594h2M337 607h2M337 618h2M337 641h2M337 646h2M337 648h2M337 652h2M337 653h2M337 673h2M337 686h2M337 692h2M337 701h2M337 711h2M337 716h2M337 732h2M337 734h2M337 738h2M337 741h2M337 745h2M337 746h2M337 749h2M337 755h2M337 760h2M337 761h2M337 763h2M337 764h2M337 769h2M337 784h2M337 785h2M337 787h2M337 790h2M337 795h2M337 801h2M337 806h2M337 808h2M338 614h2M338 664h2M338 669h2M338 671h2M338 674h2M338 675h2M338 682h2M338 705h2M338 710h2M338 713h2M338 714h2M338 724h2M338 728h2M338 732h2M338 735h2M338 738h2M338 741h2M338 742h2M338 746h2M338 751h2M338 752h2M338 756h2M338 761h2M338 769h2M338 770h2M338 778h2M338 783h2M338 788h2M338 790h2M338 793h2M338 796h2M338 798h2M338 807h2M338 808h2M339 608h2M339 659h2M339 704h2M339 715h2M339 718h2M339 728h2M339 731h2M339 741h2M339 743h2M339 745h2M339 746h2M339 756h2M339 759h2M339 762h2M339 763h2M339 775h2M339 776h2M339 778h2M339 782h2M339 786h2M339 787h2M339 790h2M339 795h2M339 797h2M339 805h2M339 806h2M339 807h2M340 600h2M340 638h2M340 666h2M340 670h2M340 685h2M340 688h2M340 708h2M340 715h2M340 738h2M340 740h2M340 742h2M340 745h2M340 751h2M340 754h2M340 756h2M340 764h2M340 769h2M340 770h2M340 772h2M340 775h2M340 776h2M340 777h2M340 778h2M340 786h2M340 792h2M340 796h2M340 801h2M340 802h2M340 808h2M341 648h2M341 666h2M341 683h2M341 697h2M341 702h2M341 703h2M341 707h2M341 726h2M341 728h2M341 731h2M341 739h2M341 746h2M341 747h2M341 749h2M341 760h2M341 761h2M341 764h2M341 771h2M341 772h2M341 775h2M341 776h2M341 778h2M341 782h2M341 785h2M341 794h2M341 795h2M341 797h2M341 801h2M342 636h2M342 641h2M342 654h2M342 671h2M342 683h2M342 688h2M342 692h2M342 699h2M342 704h2M342 707h2M342 724h2M342 728h2M342 731h2M342 733h2M342 743h2M342 746h2M342 747h2M342 751h2M342 755h2M342 758h2M342 763h2M342 771h2M342 773h2M342 775h2M342 777h2M342 778h2M342 784h2M342 790h2M342 792h2M342 794h2M342 800h2M342 806h2M342 808h2M343 631h2M343 644h2M343 645h2M343 647h2M343 671h2M343 694h2M343 726h2M343 736h2M343 740h2M343 742h2M343 747h2M343 750h2M343 755h2M343 756h2M343 763h2M343 768h2M343 774h2M343 779h2M343 783h2M343 786h2M343 790h2M343 798h2M343 799h2M343 801h2M343 804h2M343 808h2M344 625h2M344 657h2M344 675h2M344 682h2M344 693h2M344 700h2M344 702h2M344 712h2M344 718h2M344 720h2M344 725h2M344 736h2M344 740h2M344 755h2M344 762h2M344 766h2M344 771h2M344 779h2M344 783h2M344 787h2M344 806h2M344 808h2M345 580h2M345 657h2M345 664h2M345 702h2M345 705h2M345 706h2M345 711h2M345 719h2M345 729h2M345 732h2M345 734h2M345 737h2M345 751h2M345 752h2M345 755h2M345 767h2M345 773h2M345 777h2M345 778h2M345 783h2M345 790h2M345 794h2M345 802h2M345 806h2M346 665h2M346 674h2M346 675h2M346 688h2M346 703h2M346 706h2M346 715h2M346 725h2M346 727h2M346 728h2M346 730h2M346 736h2M346 741h2M346 743h2M346 753h2M346 758h2M346 764h2M346 771h2M346 773h2M346 775h2M346 786h2M346 789h2M346 803h2M346 806h2M346 807h2M347 631h2M347 633h2M347 650h2M347 651h2M347 668h2M347 688h2M347 697h2M347 702h2M347 714h2M347 716h2M347 720h2M347 726h2M347 730h2M347 737h2M347 749h2M347 750h2M347 766h2M347 773h2M347 775h2M347 786h2M347 787h2M347 799h2M347 801h2M347 805h2M348 513h2M348 561h2M348 611h2M348 653h2M348 685h2M348 708h2M348 709h2M348 720h2M348 723h2M348 731h2M348 733h2M348 734h2M348 737h2M348 744h2M348 745h2M348 748h2M348 757h2M348 763h2M348 765h2M348 771h2M348 774h2M348 788h2M348 789h2M348 791h2M348 795h2M348 806h2M348 808h2M349 578h2M349 624h2M349 628h2M349 642h2M349 669h2M349 679h2M349 707h2M349 718h2M349 719h2M349 732h2M349 735h2M349 743h2M349 753h2M349 762h2M349 763h2M349 766h2M349 768h2M349 771h2M349 776h2M349 781h2M349 782h2M349 785h2M349 787h2M349 792h2M349 800h2M349 807h2M349 808h2M350 583h2M350 621h2M350 650h2M350 669h2M350 681h2M350 688h2M350 690h2M350 693h2M350 705h2M350 711h2M350 712h2M350 719h2M350 723h2M350 727h2M350 729h2M350 733h2M350 739h2M350 743h2M350 746h2M350 748h2M350 751h2M350 753h2M350 755h2M350 764h2M350 765h2M350 766h2M350 775h2M350 777h2M350 782h2M350 790h2M350 791h2M350 796h2M350 801h2M350 806h2M351 469h2M351 641h2M351 643h2M351 652h2M351 658h2M351 664h2M351 672h2M351 689h2M351 708h2M351 710h2M351 714h2M351 735h2M351 736h2M351 737h2M351 738h2M351 741h2M351 752h2M351 756h2M351 757h2M351 761h2M351 763h2M351 766h2M351 767h2M351 773h2M351 776h2M351 779h2M351 787h2M351 793h2M351 805h2M351 806h2M352 560h2M352 595h2M352 611h2M352 664h2M352 670h2M352 690h2M352 693h2M352 695h2M352 698h2M352 709h2M352 711h2M352 715h2M352 725h2M352 734h2M352 753h2M352 764h2M352 768h2M352 771h2M352 773h2M352 780h2M352 783h2M352 789h2M352 793h2M352 802h2M352 804h2M352 806h2M352 807h2M352 808h2M353 432h2M353 619h2M353 624h2M353 656h2M353 663h2M353 674h2M353 698h2M353 700h2M353 712h2M353 740h2M353 742h2M353 743h2M353 751h2M353 756h2M353 758h2M353 763h2M353 769h2M353 771h2M353 774h2M353 783h2M353 784h2M353 785h2M353 786h2M353 801h2M353 804h2M353 806h2M354 549h2M354 663h2M354 676h2M354 695h2M354 696h2M354 698h2M354 706h2M354 710h2M354 730h2M354 736h2M354 738h2M354 744h2M354 750h2M354 762h2M354 763h2M354 766h2M354 768h2M354 774h2M354 794h2M354 800h2M354 805h2M354 807h2M355 533h2M355 559h2M355 617h2M355 629h2M355 640h2M355 645h2M355 650h2M355 657h2M355 660h2M355 689h2M355 699h2M355 703h2M355 704h2M355 707h2M355 712h2M355 717h2M355 728h2M355 735h2M355 744h2M355 748h2M355 751h2M355 754h2M355 756h2M355 762h2M355 764h2M355 770h2M355 773h2M355 779h2M355 788h2M355 790h2M356 561h2M356 642h2M356 653h2M356 656h2M356 700h2M356 704h2M356 726h2M356 727h2M356 735h2M356 742h2M356 748h2M356 758h2M356 759h2M356 762h2M356 763h2M356 788h2M356 802h2M356 804h2M356 805h2M356 807h2M357 609h2M357 658h2M357 677h2M357 680h2M357 698h2M357 701h2M357 702h2M357 705h2M357 711h2M357 715h2M357 725h2M357 737h2M357 738h2M357 747h2M357 750h2M357 761h2M357 770h2M357 772h2M357 773h2M357 775h2M357 776h2M357 779h2M357 783h2M357 785h2M357 798h2M357 804h2M357 807h2M358 657h2M358 670h2M358 687h2M358 691h2M358 700h2M358 704h2M358 706h2M358 713h2M358 715h2M358 716h2M358 727h2M358 750h2M358 754h2M358 761h2M358 766h2M358 769h2M358 770h2M358 784h2M358 787h2M358 791h2M358 799h2M358 806h2M358 807h2M359 582h2M359 653h2M359 658h2M359 672h2M359 680h2M359 714h2M359 716h2M359 726h2M359 728h2M359 731h2M359 733h2M359 735h2M359 756h2M359 760h2M359 764h2M359 768h2M359 783h2M359 791h2M359 803h2M359 804h2M359 805h2M360 543h2M360 602h2M360 620h2M360 623h2M360 624h2M360 678h2M360 683h2M360 708h2M360 713h2M360 735h2M360 755h2M360 762h2M360 763h2M360 769h2M360 772h2M360 775h2M360 787h2M360 796h2M360 798h2M361 631h2M361 641h2M361 644h2M361 698h2M361 715h2M361 743h2M361 745h2M361 752h2M361 758h2M361 761h2M361 767h2M361 771h2M361 772h2M361 775h2M361 776h2M361 778h2M361 781h2M361 784h2M361 791h2M361 794h2M361 797h2M361 806h2M361 808h2M362 626h2M362 643h2M362 648h2M362 671h2M362 675h2M362 678h2M362 694h2M362 701h2M362 702h2M362 708h2M362 710h2M362 716h2M362 719h2M362 721h2M362 731h2M362 732h2M362 740h2M362 760h2M362 761h2M362 774h2M362 781h2M362 791h2M362 808h2M363 611h2M363 639h2M363 651h2M363 654h2M363 666h2M363 675h2M363 677h2M363 716h2M363 718h2M363 724h2M363 726h2M363 730h2M363 742h2M363 757h2M363 761h2M363 762h2M363 763h2M363 774h2M363 784h2M363 791h2M363 793h2M363 794h2M363 805h2M363 807h2M363 808h2M364 601h2M364 617h2M364 627h2M364 632h2M364 635h2M364 636h2M364 639h2M364 666h2M364 676h2M364 690h2M364 697h2M364 701h2M364 704h2M364 706h2M364 719h2M364 724h2M364 727h2M364 737h2M364 747h2M364 750h2M364 752h2M364 756h2M364 762h2M364 766h2M364 774h2M364 787h2M364 806h2M365 490h2M365 530h2M365 549h2M365 587h2M365 594h2M365 602h2M365 613h2M365 634h2M365 639h2M365 663h2M365 669h2M365 675h2M365 694h2M365 704h2M365 705h2M365 713h2M365 722h2M365 725h2M365 738h2M365 742h2M365 743h2M365 752h2M365 753h2M365 754h2M365 756h2M365 761h2M365 766h2M365 767h2M365 781h2M365 783h2M365 793h2M365 796h2M365 801h2M365 802h2M365 804h2M366 527h2M366 599h2M366 606h2M366 619h2M366 654h2M366 697h2M366 718h2M366 720h2M366 721h2M366 762h2M366 773h2M366 780h2M366 803h2M367 611h2M367 616h2M367 685h2M367 704h2M367 713h2M367 716h2M367 717h2M367 723h2M367 729h2M367 734h2M367 746h2M367 749h2M367 759h2M367 765h2M367 766h2M367 767h2M367 769h2M367 773h2M367 775h2M367 798h2M367 800h2M367 808h2M368 561h2M368 661h2M368 673h2M368 694h2M368 697h2M368 703h2M368 717h2M368 720h2M368 727h2M368 729h2M368 734h2M368 744h2M368 746h2M368 747h2M368 748h2M368 769h2M368 772h2M368 776h2M368 781h2M368 783h2M368 784h2M368 787h2M368 795h2M368 803h2M368 806h2M369 525h2M369 602h2M369 634h2M369 662h2M369 672h2M369 674h2M369 676h2M369 686h2M369 688h2M369 700h2M369 701h2M369 711h2M369 717h2M369 722h2M369 724h2M369 726h2M369 728h2M369 738h2M369 740h2M369 742h2M369 743h2M369 759h2M369 766h2M369 768h2M369 769h2M369 772h2M369 774h2M369 778h2M369 780h2M369 788h2M369 797h2M370 624h2M370 637h2M370 645h2M370 656h2M370 657h2M370 669h2M370 704h2M370 707h2M370 712h2M370 715h2M370 723h2M370 728h2M370 737h2M370 743h2M370 750h2M370 755h2M370 758h2M370 763h2M370 767h2M370 771h2M370 777h2M370 785h2M370 788h2M370 791h2M370 797h2M370 805h2M371 608h2M371 622h2M371 638h2M371 663h2M371 685h2M371 708h2M371 712h2M371 718h2M371 725h2M371 750h2M371 752h2M371 756h2M371 759h2M371 800h2M372 566h2M372 596h2M372 635h2M372 665h2M372 717h2M372 727h2M372 729h2M372 748h2M372 749h2M372 753h2M372 755h2M372 761h2M372 766h2M372 779h2M372 795h2M372 796h2M372 799h2M372 807h2M373 550h2M373 628h2M373 669h2M373 673h2M373 692h2M373 696h2M373 703h2M373 705h2M373 710h2M373 717h2M373 721h2M373 723h2M373 724h2M373 728h2M373 734h2M373 747h2M373 755h2M373 763h2M373 766h2M373 767h2M373 769h2M373 774h2M373 775h2M373 779h2M373 780h2M373 792h2M373 798h2M373 809h2M374 509h2M374 538h2M374 566h2M374 609h2M374 637h2M374 640h2M374 659h2M374 704h2M374 708h2M374 716h2M374 719h2M374 731h2M374 742h2M374 746h2M374 747h2M374 749h2M374 757h2M374 769h2M374 802h2M374 804h2M374 807h2M375 535h2M375 588h2M375 601h2M375 639h2M375 657h2M375 666h2M375 670h2M375 694h2M375 701h2M375 729h2M375 736h2M375 737h2M375 738h2M375 740h2M375 748h2M375 749h2M375 750h2M375 751h2M375 754h2M375 774h2M375 780h2M375 786h2M375 803h2M376 547h2M376 606h2M376 609h2M376 648h2M376 650h2M376 651h2M376 652h2M376 663h2M376 665h2M376 678h2M376 713h2M376 724h2M376 733h2M376 739h2M376 740h2M376 746h2M376 753h2M376 784h2M376 790h2M376 800h2M377 584h2M377 595h2M377 616h2M377 645h2M377 669h2M377 673h2M377 683h2M377 696h2M377 737h2M377 762h2M377 767h2M377 770h2M377 775h2M377 800h2M377 802h2M377 803h2M377 809h2M378 624h2M378 630h2M378 632h2M378 647h2M378 656h2M378 672h2M378 686h2M378 687h2M378 689h2M378 700h2M378 731h2M378 733h2M378 754h2M378 758h2M378 768h2M378 773h2M378 803h2M378 807h2M378 808h2M379 612h2M379 614h2M379 623h2M379 708h2M379 710h2M379 712h2M379 722h2M379 750h2M379 752h2M379 755h2M379 760h2M379 762h2M379 771h2M379 801h2M379 804h2M379 806h2M380 573h2M380 600h2M380 601h2M380 607h2M380 610h2M380 645h2M380 661h2M380 693h2M380 707h2M380 709h2M380 732h2M380 752h2M380 755h2M380 756h2M380 759h2M380 763h2M380 769h2M380 771h2M380 776h2M380 781h2M380 804h2M380 805h2M380 806h2M380 808h2M381 558h2M381 590h2M381 644h2M381 650h2M381 651h2M381 657h2M381 681h2M381 696h2M381 701h2M381 714h2M381 720h2M381 734h2M381 735h2M381 736h2M381 757h2M381 758h2M381 761h2M381 762h2M381 763h2M381 776h2M381 788h2M381 794h2M381 795h2M381 802h2M382 626h2M382 642h2M382 664h2M382 682h2M382 700h2M382 701h2M382 717h2M382 721h2M382 737h2M382 754h2M382 756h2M382 759h2M382 763h2M382 767h2M382 770h2M382 771h2M382 779h2M382 796h2M382 805h2M383 617h2M383 639h2M383 651h2M383 674h2M383 683h2M383 697h2M383 701h2M383 707h2M383 719h2M383 724h2M383 731h2M383 745h2M383 747h2M383 748h2M383 759h2M383 762h2M383 766h2M383 781h2M383 785h2M383 794h2M383 804h2M384 572h2M384 613h2M384 625h2M384 630h2M384 660h2M384 683h2M384 684h2M384 685h2M384 695h2M384 698h2M384 708h2M384 711h2M384 717h2M384 727h2M384 745h2M384 750h2M384 760h2M384 777h2M384 802h2M384 804h2M384 805h2M385 617h2M385 633h2M385 641h2M385 643h2M385 655h2M385 662h2M385 684h2M385 700h2M385 707h2M385 713h2M385 717h2M385 735h2M385 745h2M385 746h2M385 767h2M385 778h2M385 780h2M385 782h2M385 788h2M386 622h2M386 623h2M386 644h2M386 645h2M386 656h2M386 669h2M386 686h2M386 711h2M386 735h2M386 739h2M386 746h2M386 759h2M386 760h2M386 792h2M387 562h2M387 582h2M387 629h2M387 674h2M387 686h2M387 693h2M387 734h2M387 741h2M387 760h2M387 779h2M387 783h2M387 801h2M387 804h2M388 654h2M388 673h2M388 694h2M388 695h2M388 699h2M388 712h2M388 717h2M388 722h2M388 730h2M388 744h2M388 752h2M388 756h2M388 763h2M388 775h2M388 790h2M388 793h2M388 805h2M388 808h2M389 569h2M389 576h2M389 591h2M389 626h2M389 630h2M389 631h2M389 636h2M389 641h2M389 663h2M389 667h2M389 669h2M389 672h2M389 674h2M389 677h2M389 709h2M389 718h2M389 719h2M389 720h2M389 740h2M389 746h2M389 752h2M389 754h2M389 756h2M389 759h2M389 773h2M389 781h2M390 582h2M390 604h2M390 661h2M390 667h2M390 676h2M390 677h2M390 678h2M390 725h2M390 757h2M390 765h2M390 781h2M390 789h2M391 560h2M391 615h2M391 631h2M391 641h2M391 656h2M391 661h2M391 682h2M391 692h2M391 695h2M391 696h2M391 700h2M391 704h2M391 715h2M391 720h2M391 738h2M391 740h2M391 745h2M391 746h2M391 758h2M391 771h2M391 774h2M391 781h2M391 794h2M391 803h2M392 553h2M392 563h2M392 616h2M392 642h2M392 646h2M392 659h2M392 674h2M392 683h2M392 684h2M392 693h2M392 694h2M392 702h2M392 710h2M392 713h2M392 719h2M392 730h2M392 746h2M392 760h2M392 769h2M392 770h2M392 771h2M392 772h2M392 786h2M392 793h2M392 808h2M393 557h2M393 588h2M393 654h2M393 656h2M393 661h2M393 672h2M393 673h2M393 674h2M393 705h2M393 735h2M393 745h2M393 757h2M393 768h2M393 786h2M393 788h2M394 499h2M394 555h2M394 610h2M394 656h2M394 684h2M394 689h2M394 702h2M394 711h2M394 726h2M394 730h2M394 738h2M394 745h2M394 760h2M394 767h2M394 773h2M394 801h2M395 594h2M395 618h2M395 631h2M395 639h2M395 680h2M395 685h2M395 688h2M395 689h2M395 707h2M395 730h2M395 737h2M395 740h2M395 743h2M395 762h2M395 779h2M395 808h2M396 361h2M396 580h2M396 604h2M396 621h2M396 647h2M396 667h2M396 670h2M396 704h2M396 705h2M396 711h2M396 712h2M396 718h2M396 725h2M396 750h2M396 751h2M396 766h2M396 804h2M397 537h2M397 574h2M397 634h2M397 677h2M397 685h2M397 697h2M397 720h2M397 729h2M397 736h2M397 744h2M397 745h2M397 753h2M397 791h2M398 578h2M398 591h2M398 608h2M398 614h2M398 623h2M398 638h2M398 649h2M398 657h2M398 682h2M398 684h2M398 687h2M398 713h2M398 724h2M398 725h2M398 726h2M398 754h2M398 769h2M398 770h2M398 776h2M398 799h2M398 805h2M398 806h2M398 807h2M399 586h2M399 590h2M399 636h2M399 655h2M399 699h2M399 741h2M399 755h2M399 775h2M399 782h2M399 807h2M400 604h2M400 613h2M400 622h2M400 626h2M400 632h2M400 648h2M400 650h2M400 692h2M400 695h2M400 715h2M400 718h2M400 748h2M400 757h2M400 770h2M400 791h2M400 792h2M400 799h2M400 801h2M400 803h2M400 805h2M400 807h2M400 809h2M401 455h2M401 590h2M401 639h2M401 651h2M401 667h2M401 686h2M401 702h2M401 719h2M401 724h2M401 736h2M401 743h2M401 764h2M402 572h2M402 604h2M402 665h2M402 674h2M402 680h2M402 684h2M402 688h2M402 690h2M402 699h2M402 707h2M402 734h2M402 737h2M402 743h2M402 765h2M402 801h2M403 558h2M403 629h2M403 644h2M403 657h2M403 666h2M403 686h2M403 691h2M403 696h2M403 698h2M403 703h2M403 717h2M403 730h2M403 734h2M403 746h2M403 747h2M403 754h2M403 759h2M403 761h2M403 777h2M403 794h2M403 800h2M404 592h2M404 618h2M404 662h2M404 712h2M404 720h2M404 744h2M404 793h2M404 804h2M405 454h2M405 617h2M405 670h2M405 677h2M405 700h2M405 718h2M405 725h2M405 758h2M405 767h2M405 780h2M405 797h2M405 801h2M406 582h2M406 597h2M406 633h2M406 640h2M406 641h2M406 656h2M406 688h2M406 715h2M406 721h2M406 749h2M406 751h2M406 760h2M406 778h2M406 807h2M407 600h2M407 667h2M407 684h2M407 685h2M407 687h2M407 699h2M407 704h2M407 720h2M407 735h2M407 736h2M407 742h2M407 747h2M407 751h2M407 756h2M407 804h2M408 575h2M408 585h2M408 615h2M408 621h2M408 623h2M408 669h2M408 681h2M408 708h2M408 764h2M408 765h2M408 808h2M409 615h2M409 683h2M409 686h2M409 727h2M409 736h2M409 764h2M410 619h2M410 620h2M410 650h2M410 669h2M410 671h2M410 682h2M410 684h2M410 703h2M410 731h2M410 739h2M410 778h2M410 796h2M411 555h2M411 593h2M411 601h2M411 603h2M411 609h2M411 612h2M411 648h2M411 675h2M411 680h2M411 696h2M411 703h2M411 726h2M411 729h2M411 736h2M411 770h2M411 794h2M411 797h2M411 808h2M412 623h2M412 639h2M412 679h2M412 701h2M412 711h2M412 714h2M412 728h2M412 731h2M412 776h2M413 516h2M413 584h2M413 612h2M413 649h2M413 669h2M413 707h2M413 715h2M413 720h2M413 742h2M413 760h2M413 764h2M413 795h2M413 802h2M413 803h2M414 415h2M414 502h2M414 567h2M414 578h2M414 610h2M414 614h2M414 619h2M414 662h2M414 682h2M414 687h2M414 725h2M414 766h2M414 776h2M414 778h2M414 799h2M415 522h2M415 625h2M415 691h2M415 700h2M415 732h2M415 752h2M415 756h2M415 783h2M416 427h2M416 573h2M416 588h2M416 590h2M416 603h2M416 606h2M416 635h2M416 636h2M416 637h2M416 656h2M416 698h2M416 726h2M416 769h2M416 775h2M417 562h2M417 599h2M417 642h2M417 691h2M417 723h2M417 733h2M417 737h2M417 741h2M417 750h2M417 751h2M417 756h2M418 624h2M418 636h2M418 659h2M418 678h2M418 730h2M418 747h2M418 808h2M419 593h2M419 622h2M419 673h2M419 677h2M419 689h2M419 746h2M420 583h2M420 587h2M420 656h2M420 764h2M420 782h2M420 796h2M421 558h2M421 600h2M421 621h2M421 644h2M421 658h2M421 659h2M421 693h2M421 709h2M421 711h2M421 726h2M421 751h2M421 806h2M422 586h2M422 636h2M422 641h2M422 653h2M422 724h2M422 771h2M423 594h2M423 617h2M423 618h2M423 677h2M423 683h2M423 697h2M423 699h2M423 773h2M424 603h2M424 648h2M424 657h2M424 685h2M424 689h2M424 743h2M424 746h2M425 505h2M425 644h2M425 735h2M425 745h2M425 767h2M426 412h2M426 558h2M426 564h2M426 601h2M426 626h2M426 682h2M426 712h2M427 553h2M427 573h2M427 578h2M427 647h2M427 653h2M427 658h2M427 677h2M427 679h2M427 763h2M428 619h2M428 666h2M428 719h2M428 752h2M428 772h2M429 460h2M429 525h2M429 596h2M429 653h2M429 685h2M429 716h2M429 760h2M430 527h2M430 576h2M430 589h2M430 623h2M430 645h2M430 648h2M430 674h2M430 677h2M430 696h2M430 699h2M430 706h2M430 742h2M430 750h2M430 775h2M430 788h2M431 577h2M431 579h2M431 613h2M431 650h2M431 709h2M431 725h2M432 586h2M432 615h2M432 630h2M432 636h2M432 649h2M432 656h2M432 676h2M432 733h2M433 521h2M433 596h2M433 598h2M433 679h2M433 704h2M433 723h2M433 750h2M434 504h2M434 550h2M434 637h2M434 679h2M434 703h2M434 712h2M434 743h2M434 793h2M434 808h2M435 659h2M435 670h2M435 686h2M435 689h2M435 702h2M435 706h2M435 709h2M435 751h2M435 764h2M436 572h2M436 576h2M436 581h2M436 594h2M436 612h2M436 629h2M436 640h2M436 731h2M436 739h2M436 746h2M436 752h2M437 505h2M437 632h2M437 633h2M437 641h2M437 644h2M437 653h2M437 656h2M437 664h2M437 706h2M437 712h2M437 737h2M437 739h2M437 756h2M437 767h2M438 576h2M438 616h2M438 668h2M438 672h2M438 677h2M438 737h2M438 745h2M438 781h2M438 808h2M439 528h2M439 584h2M439 646h2M439 660h2M439 675h2M439 708h2M439 733h2M439 742h2M440 511h2M440 609h2M440 610h2M440 612h2M440 704h2M440 745h2M441 554h2M441 646h2M441 676h2M441 724h2M441 780h2M442 591h2M442 662h2M442 695h2M442 733h2M442 751h2M443 442h2M443 521h2M443 560h2M443 659h2M443 742h2M444 565h2M444 639h2M444 643h2M444 645h2M444 745h2M445 492h2M445 641h2M445 679h2M445 697h2M445 706h2M445 726h2M445 808h2M446 465h2M446 581h2M446 773h2M447 532h2M447 619h2M447 633h2M447 657h2M447 669h2M447 736h2M447 756h2M447 782h2M448 591h2M448 604h2M448 647h2M448 653h2M448 678h2M448 739h2M449 511h2M449 577h2M449 670h2M449 800h2M450 533h2M450 579h2M450 627h2M450 653h2M450 664h2M450 725h2M451 555h2M451 621h2M451 636h2M451 645h2M451 730h2M451 742h2M452 544h2M452 602h2M452 615h2M452 638h2M452 645h2M452 654h2M452 681h2M452 710h2M453 608h2M453 615h2M453 645h2M453 694h2M453 752h2M454 608h2M454 625h2M454 628h2M454 645h2M454 653h2M454 695h2M455 469h2M455 573h2M455 582h2M455 602h2M455 617h2M455 627h2M455 684h2M455 694h2M455 721h2M455 734h2M455 798h2M456 600h2M456 615h2M456 668h2M456 691h2M456 707h2M456 773h2M456 805h2M457 537h2M457 637h2M457 651h2M457 664h2M457 675h2M457 728h2M458 566h2M458 608h2M458 618h2M458 645h2M458 646h2M458 648h2M458 659h2M458 669h2M459 537h2M459 567h2M459 581h2M459 692h2M459 719h2M459 753h2M459 757h2M459 758h2M459 764h2M459 796h2M460 570h2M460 619h2M460 622h2M460 627h2M460 645h2M460 718h2M460 776h2M460 783h2M461 558h2M461 602h2M461 603h2M461 621h2M461 689h2M461 750h2M461 771h2M461 783h2M462 703h2M462 718h2M462 750h2M463 628h2M463 702h2M463 749h2M464 464h2M464 472h2M464 485h2M464 610h2M464 611h2M464 638h2M464 694h2M464 800h2M464 808h2M465 621h2M465 645h2M465 709h2M465 738h2M466 582h2M466 583h2M466 608h2M466 628h2M466 630h2M466 703h2M466 767h2M467 636h2M467 694h2M468 630h2M468 656h2M468 666h2M468 722h2M468 800h2M469 590h2M469 610h2M469 620h2M469 673h2M469 773h2M470 546h2M470 557h2M470 559h2M470 567h2M470 601h2M470 643h2M470 738h2M471 571h2M471 596h2M471 646h2M471 648h2M471 679h2M471 697h2M471 761h2M471 768h2M471 800h2M472 569h2M472 620h2M472 648h2M472 653h2M472 663h2M472 685h2M473 638h2M473 644h2M473 679h2M473 738h2M473 804h2M474 577h2M474 624h2M474 648h2M474 763h2M474 800h2M475 611h2M475 726h2M475 731h2M476 550h2M476 581h2M476 635h2M476 650h2M476 654h2M476 683h2M476 707h2M476 711h2M477 526h2M477 537h2M477 654h2M478 502h2M478 614h2M478 651h2M479 471h2M479 638h2M480 638h2M480 723h2M481 572h2M481 667h2M482 582h2M482 597h2M482 631h2M482 676h2M483 706h2M483 756h2M484 627h2M484 646h2M484 654h2M484 720h2M484 731h2M484 735h2M484 741h2M485 476h2M485 557h2M485 590h2M485 662h2M485 698h2M486 413h2M486 467h2M486 579h2M486 649h2M486 661h2M486 673h2M487 662h2M487 678h2M487 708h2M487 709h2M488 465h2M488 612h2M488 692h2M488 773h2M489 319h2M489 490h2M489 634h2M490 492h2M490 519h2M490 618h2M490 642h2M490 663h2M491 500h2M491 547h2M492 600h2M492 636h2M492 659h2M492 716h2M492 723h2M493 669h2M493 677h2M493 680h2M493 711h2M493 717h2M493 723h2M493 771h2M494 614h2M494 662h2M494 706h2M494 718h2M494 748h2M495 492h2M495 586h2M495 639h2M495 644h2M495 693h2M495 733h2M496 577h2M497 511h2M497 590h2M497 686h2M497 741h2M498 577h2M498 589h2M499 636h2M499 677h2M500 519h2M500 718h2M501 539h2M501 632h2M502 571h2M502 603h2M502 631h2M502 710h2M503 581h2M503 649h2M504 472h2M504 526h2M504 552h2M504 573h2M504 577h2M504 634h2M504 657h2M504 665h2M504 690h2M504 759h2M505 440h2M505 466h2M505 582h2M505 617h2M505 628h2M505 642h2M505 673h2M505 711h2M505 754h2M506 523h2M506 662h2M506 699h2M507 558h2M507 574h2M507 650h2M507 671h2M507 689h2M507 727h2M508 441h2M508 533h2M508 617h2M508 627h2M508 663h2M508 809h2M509 424h2M509 431h2M509 525h2M509 556h2M510 541h2M510 543h2M510 605h2M510 749h2M511 478h2M511 590h2M511 603h2M511 613h2M511 658h2M511 761h2M511 804h2M512 544h2M512 573h2M513 555h2M513 612h2M514 444h2M514 521h2M514 567h2M515 580h2M515 649h2M515 742h2M516 589h2M516 618h2M516 653h2M516 687h2M517 552h2M517 581h2M517 736h2M517 765h2M518 569h2M518 592h2M518 668h2M519 465h2M519 471h2M519 621h2M519 727h2M520 547h2M520 576h2M520 670h2M520 673h2M521 569h2M522 459h2M522 671h2M522 683h2M522 758h2M523 590h2M523 676h2M524 496h2M524 520h2M524 527h2M524 651h2M524 655h2M524 756h2M525 475h2M525 592h2M526 549h2M526 613h2M526 615h2M526 649h2M527 471h2M527 596h2M527 669h2M528 457h2M528 727h2M529 494h2M529 520h2M529 573h2M529 652h2M529 727h2M529 738h2M530 499h2M530 554h2M530 603h2M530 610h2M530 623h2M530 682h2M531 499h2M531 511h2M531 548h2M531 592h2M531 609h2M531 610h2M532 486h2M532 561h2M532 570h2M532 593h2M532 610h2M532 722h2M533 440h2M533 521h2M533 601h2M533 614h2M533 777h2M534 471h2M534 486h2M534 535h2M534 564h2M534 581h2M534 616h2M534 654h2M535 540h2M535 556h2M535 577h2M536 633h2M536 673h2M537 427h2M537 587h2M537 675h2M538 465h2M538 494h2M539 368h2M539 386h2M539 613h2M539 702h2M540 526h2M540 610h2M540 666h2M541 492h2M541 643h2M542 537h2M542 575h2M542 590h2M542 669h2M543 471h2M543 646h2M544 530h2M544 643h2M545 456h2M545 476h2M545 551h2M545 555h2M545 733h2M545 760h2M546 538h2M546 568h2M546 660h2M547 679h2M548 450h2M548 553h2M549 391h2M549 515h2M549 645h2M549 655h2M550 507h2M550 523h2M550 542h2M550 669h2M551 553h2M551 655h2M552 631h2M553 478h2M553 527h2M553 605h2M554 449h2M554 571h2M554 607h2M554 642h2M555 474h2M555 606h2M555 690h2M556 493h2M556 506h2M556 523h2M557 460h2M557 626h2M558 403h2M558 461h2M558 527h2M559 516h2M559 533h2M559 545h2M559 656h2M560 443h2M560 467h2M560 532h2M560 606h2M561 466h2M561 488h2M561 497h2M561 522h2M561 600h2M562 352h2M562 509h2M562 583h2M562 590h2M562 603h2M562 676h2M563 484h2M563 527h2M563 537h2M563 698h2M564 359h2M564 429h2M564 455h2M564 464h2M564 474h2M564 489h2M564 496h2M564 505h2M564 597h2M565 345h2M565 485h2M565 663h2M566 476h2M566 479h2M566 481h2M566 505h2M566 507h2M566 523h2M566 573h2M567 517h2M568 389h2M568 475h2M568 548h2M568 653h2M569 423h2M569 429h2M569 450h2M569 492h2M569 493h2M569 494h2M570 482h2M570 503h2M570 668h2M571 393h2M571 443h2M571 447h2M571 543h2M571 596h2M572 413h2M572 485h2M572 494h2M572 523h2M572 537h2M572 557h2M572 601h2M573 442h2M573 444h2M573 464h2M573 596h2M574 404h2M574 457h2M574 475h2M574 483h2M574 499h2M574 506h2M574 556h2M575 391h2M575 456h2M575 508h2M576 447h2M576 468h2M576 489h2M577 456h2M577 458h2M577 473h2M577 689h2M578 460h2M578 479h2M578 482h2M578 503h2M578 548h2M579 489h2M579 496h2M579 563h2M579 650h2M580 453h2M580 476h2M580 495h2M580 576h2M581 413h2M581 452h2M581 475h2M581 496h2M581 527h2M581 533h2M581 584h2M581 601h2M582 346h2M582 464h2M582 498h2M582 504h2M582 528h2M583 356h2M583 452h2M583 477h2M583 488h2M583 494h2M583 497h2M583 529h2M583 535h2M584 430h2M584 434h2M584 437h2M584 504h2M584 536h2M584 560h2M585 436h2M585 468h2M585 470h2M585 504h2M585 508h2M585 548h2M585 586h2M585 612h2M586 423h2M586 463h2M586 465h2M586 472h2M586 475h2M586 477h2M586 489h2M586 498h2M586 514h2M586 592h2M586 593h2M586 609h2M587 386h2M587 439h2M587 458h2M587 486h2M587 511h2M587 527h2M587 544h2M587 545h2M587 579h2M587 708h2M588 383h2M588 428h2M588 463h2M588 476h2M588 497h2M588 540h2M588 567h2M589 462h2M589 464h2M589 467h2M589 473h2M589 500h2M589 507h2M589 522h2M589 644h2M589 650h2M590 465h2M590 475h2M590 483h2M590 486h2M590 487h2M590 495h2M590 572h2M591 463h2M591 465h2M591 470h2M591 513h2M591 656h2M592 420h2M592 467h2M592 477h2M592 480h2M592 486h2M592 616h2M593 399h2M593 436h2M593 437h2M593 451h2M593 454h2M593 457h2M593 471h2M593 492h2M593 496h2M593 512h2M593 513h2M593 600h2M594 435h2M594 442h2M594 479h2M594 490h2M594 498h2M594 502h2M594 508h2M594 515h2M595 444h2M595 463h2M595 465h2M595 467h2M595 470h2M595 485h2M595 492h2M595 496h2M595 500h2M595 519h2M595 612h2M596 438h2M596 451h2M596 452h2M596 455h2M596 471h2M596 555h2M596 659h2M597 416h2M597 466h2M597 475h2M597 480h2M597 481h2M597 482h2M597 486h2M597 491h2M597 504h2M597 514h2M597 540h2M597 555h2M597 711h2M598 426h2M598 443h2M598 452h2M598 469h2M598 486h2M598 495h2M598 496h2M598 502h2M598 506h2M598 515h2M598 699h2M599 345h2M599 461h2M599 480h2M599 485h2M599 490h2M599 491h2M599 493h2M599 512h2M599 559h2M600 392h2M600 431h2M600 453h2M600 473h2M600 478h2M600 479h2M600 480h2M600 507h2M600 523h2M601 449h2M601 454h2M601 466h2M601 475h2M601 480h2M601 484h2M601 488h2M601 489h2M601 501h2M601 522h2M601 604h2M602 332h2M602 383h2M602 402h2M602 434h2M602 446h2M602 454h2M602 456h2M602 471h2M602 510h2M602 524h2M603 434h2M603 447h2M603 452h2M603 456h2M603 464h2M603 465h2M603 470h2M603 473h2M603 483h2M603 487h2M603 489h2M603 586h2M604 450h2M604 462h2M604 463h2M604 464h2M604 465h2M604 478h2M604 487h2M604 501h2M605 362h2M605 423h2M605 425h2M605 427h2M605 432h2M605 445h2M605 456h2M605 464h2M605 473h2M605 476h2M605 480h2M605 510h2M605 525h2M605 531h2M605 547h2M606 340h2M606 441h2M606 445h2M606 452h2M606 464h2M606 485h2M606 491h2M606 500h2M606 529h2M607 403h2M607 408h2M607 417h2M607 428h2M607 433h2M607 436h2M607 440h2M607 449h2M607 458h2M607 493h2M607 551h2M607 648h2M607 649h2M608 367h2M608 397h2M608 440h2M608 448h2M608 452h2M608 453h2M608 455h2M608 466h2M608 468h2M608 472h2M608 473h2M608 481h2M608 484h2M608 497h2M608 527h2M609 409h2M609 421h2M609 422h2M609 438h2M609 452h2M609 453h2M609 463h2M609 464h2M609 475h2M609 489h2M609 495h2M609 509h2M609 511h2M609 550h2M609 591h2M610 414h2M610 424h2M610 441h2M610 446h2M610 450h2M610 453h2M610 455h2M610 460h2M610 465h2M610 476h2M610 484h2M610 485h2M610 504h2M610 521h2M610 526h2M610 528h2M610 544h2M610 561h2M611 441h2M611 452h2M611 462h2M611 468h2M611 473h2M611 475h2M611 481h2M611 500h2M611 506h2M611 513h2M611 527h2M611 548h2M612 390h2M612 415h2M612 432h2M612 434h2M612 436h2M612 440h2M612 444h2M612 454h2M612 461h2M612 462h2M612 470h2M612 475h2M612 488h2M612 498h2M612 502h2M613 373h2M613 386h2M613 418h2M613 434h2M613 436h2M613 450h2M613 451h2M613 459h2M613 462h2M613 481h2M614 415h2M614 430h2M614 446h2M614 448h2M614 461h2M614 462h2M614 487h2M614 527h2M615 393h2M615 438h2M615 446h2M615 455h2M615 465h2M615 479h2M615 483h2M615 487h2M615 515h2M615 551h2M615 566h2M616 428h2M616 435h2M616 440h2M616 448h2M616 450h2M616 453h2M616 469h2M616 473h2M616 485h2M616 500h2M616 504h2M616 540h2M617 401h2M617 405h2M617 419h2M617 428h2M617 431h2M617 440h2M617 463h2M617 483h2M617 484h2M617 488h2M617 490h2M617 498h2M617 500h2M618 417h2M618 431h2M618 432h2M618 435h2M618 438h2M618 440h2M618 447h2M618 451h2M618 461h2M618 462h2M618 465h2M618 468h2M618 469h2M618 472h2M618 484h2M618 489h2M618 491h2M618 494h2M618 500h2M618 509h2M619 292h2M619 418h2M619 423h2M619 436h2M619 437h2M619 443h2M619 446h2M619 453h2M619 455h2M619 456h2M619 460h2M619 473h2M619 478h2M619 479h2M619 489h2M619 493h2M619 501h2M619 573h2M620 388h2M620 393h2M620 402h2M620 417h2M620 424h2M620 428h2M620 438h2M620 439h2M620 445h2M620 454h2M620 464h2M620 474h2M620 476h2M620 477h2M620 484h2M620 486h2M620 537h2M621 420h2M621 422h2M621 425h2M621 428h2M621 438h2M621 440h2M621 458h2M621 460h2M621 461h2M621 463h2M621 474h2M621 481h2M621 488h2M621 491h2M621 500h2M622 393h2M622 404h2M622 417h2M622 418h2M622 419h2M622 440h2M622 442h2M622 443h2M622 449h2M622 454h2M622 456h2M622 460h2M622 475h2M622 481h2M622 495h2M622 538h2M622 604h2M623 414h2M623 437h2M623 441h2M623 445h2M623 446h2M623 459h2M623 467h2M623 468h2M623 469h2M623 474h2M623 480h2M623 482h2M623 484h2M623 496h2M623 501h2M623 525h2M623 617h2M624 412h2M624 425h2M624 437h2M624 461h2M624 467h2M624 475h2M624 479h2M624 489h2M624 493h2M624 500h2M624 510h2M624 511h2M624 518h2M625 379h2M625 413h2M625 426h2M625 438h2M625 443h2M625 453h2M625 458h2M625 465h2M625 466h2M625 467h2M625 470h2M625 493h2M625 495h2M626 446h2M626 450h2M626 454h2M626 461h2M626 463h2M626 480h2M626 494h2M626 499h2M627 423h2M627 430h2M627 435h2M627 436h2M627 444h2M627 454h2M627 472h2M627 474h2M627 483h2M627 502h2M627 515h2M627 568h2M628 401h2M628 416h2M628 420h2M628 435h2M628 441h2M628 447h2M628 448h2M628 450h2M628 457h2M628 462h2M628 478h2M628 485h2M628 498h2M628 606h2M629 403h2M629 426h2M629 446h2M629 455h2M629 465h2M629 467h2M629 472h2M629 473h2M629 478h2M629 486h2M629 493h2M630 344h2M630 402h2M630 423h2M630 429h2M630 435h2M630 439h2M630 457h2M630 516h2M630 584h2M631 396h2M631 399h2M631 402h2M631 416h2M631 437h2M631 438h2M631 442h2M631 445h2M631 448h2M631 450h2M631 455h2M631 457h2M631 458h2M631 461h2M631 465h2M631 471h2M631 477h2M631 481h2M632 360h2M632 396h2M632 398h2M632 408h2M632 410h2M632 432h2M632 435h2M632 441h2M632 468h2M632 472h2M632 480h2M632 481h2M632 482h2M632 485h2M632 487h2M632 488h2M632 495h2M632 519h2M632 557h2M633 415h2M633 423h2M633 437h2M633 444h2M633 465h2M633 466h2M633 472h2M633 487h2M633 503h2M633 506h2M634 404h2M634 430h2M634 433h2M634 442h2M634 451h2M634 459h2M634 461h2M634 462h2M634 463h2M634 486h2M634 489h2M634 492h2M634 499h2M634 531h2M635 415h2M635 418h2M635 420h2M635 429h2M635 435h2M635 441h2M635 448h2M635 449h2M635 458h2M635 470h2M635 471h2M635 477h2M636 354h2M636 401h2M636 409h2M636 416h2M636 423h2M636 432h2M636 436h2M636 439h2M636 444h2M636 449h2M636 473h2M636 480h2M636 487h2M637 419h2M637 428h2M637 444h2M637 454h2M637 456h2M637 471h2M637 479h2M637 484h2M637 486h2M637 497h2M637 605h2M637 685h2M638 387h2M638 388h2M638 392h2M638 424h2M638 430h2M638 432h2M638 435h2M638 442h2M638 463h2M638 476h2M638 498h2M638 504h2M638 515h2M638 555h2M639 332h2M639 405h2M639 406h2M639 420h2M639 443h2M639 455h2M639 465h2M639 476h2M639 477h2M639 481h2M639 508h2M640 405h2M640 458h2M640 459h2M640 466h2M640 467h2M640 469h2M640 481h2M640 503h2M640 513h2M641 361h2M641 396h2M641 412h2M641 417h2M641 427h2M641 430h2M641 436h2M641 442h2M641 458h2M641 464h2M641 468h2M641 470h2M641 476h2M641 490h2M641 494h2M641 510h2M641 549h2M642 402h2M642 403h2M642 409h2M642 423h2M642 433h2M642 436h2M642 445h2M642 451h2M642 455h2M642 456h2M642 460h2M642 469h2M642 472h2M642 483h2M642 490h2M642 611h2M643 375h2M643 390h2M643 430h2M643 432h2M643 437h2M643 439h2M643 449h2M643 455h2M643 458h2M643 459h2M643 464h2M643 465h2M643 468h2M643 561h2M644 360h2M644 405h2M644 407h2M644 413h2M644 442h2M644 449h2M644 450h2M644 456h2M644 458h2M644 474h2M644 489h2M644 503h2M644 545h2M645 352h2M645 376h2M645 417h2M645 418h2M645 421h2M645 423h2M645 436h2M645 439h2M645 441h2M645 445h2M645 450h2M645 461h2M645 464h2M645 465h2M645 485h2M646 394h2M646 398h2M646 403h2M646 407h2M646 423h2M646 435h2M646 440h2M646 449h2M646 450h2M646 454h2M646 471h2M646 485h2M646 494h2M646 499h2M647 313h2M647 388h2M647 390h2M647 413h2M647 425h2M647 438h2M647 440h2M647 444h2M647 445h2M647 454h2M647 455h2M647 457h2M647 460h2M647 465h2M647 478h2M647 520h2M648 303h2M648 358h2M648 384h2M648 431h2M648 433h2M648 436h2M648 446h2M648 447h2M648 458h2M648 464h2M648 491h2M648 494h2M648 517h2M648 548h2M648 577h2M649 406h2M649 438h2M649 440h2M649 441h2M649 443h2M649 449h2M649 454h2M649 456h2M649 459h2M649 469h2M650 364h2M650 384h2M650 387h2M650 390h2M650 394h2M650 398h2M650 417h2M650 426h2M650 434h2M650 454h2M650 567h2M651 412h2M651 413h2M651 426h2M651 430h2M651 434h2M651 438h2M651 444h2M651 456h2M651 466h2M651 467h2M652 313h2M652 370h2M652 391h2M652 412h2M652 425h2M652 429h2M652 432h2M652 463h2M652 466h2M652 486h2M653 381h2M653 392h2M653 401h2M653 404h2M653 408h2M653 420h2M653 430h2M653 431h2M653 434h2M653 435h2M653 446h2M653 452h2M653 456h2M653 474h2M654 306h2M654 377h2M654 407h2M654 413h2M654 438h2M654 439h2M654 450h2M654 465h2M654 479h2M654 516h2M655 363h2M655 421h2M655 455h2M655 469h2M655 474h2M655 480h2M656 415h2M656 422h2M656 427h2M656 439h2M656 442h2M656 449h2M656 499h2M657 396h2M657 401h2M657 413h2M657 416h2M657 420h2M657 430h2M657 431h2M657 432h2M657 436h2M657 437h2M657 439h2M657 441h2M657 446h2M657 449h2M657 453h2M657 459h2M657 463h2M657 465h2M657 468h2M657 478h2M657 484h2M657 529h2M657 530h2M658 316h2M658 376h2M658 381h2M658 385h2M658 402h2M658 403h2M658 414h2M658 416h2M658 456h2M658 464h2M658 478h2M659 346h2M659 370h2M659 381h2M659 415h2M659 424h2M659 446h2M659 479h2M659 486h2M659 489h2M659 519h2M660 405h2M660 406h2M660 423h2M660 430h2M660 437h2M660 438h2M660 448h2M660 464h2M660 493h2M660 507h2M661 326h2M661 381h2M661 412h2M661 423h2M661 424h2M661 444h2M661 463h2M661 465h2M661 468h2M661 569h2M661 590h2M662 393h2M662 394h2M662 431h2M662 435h2M662 466h2M662 467h2M662 492h2M663 370h2M663 417h2M663 420h2M663 434h2M663 437h2M663 446h2M663 461h2M664 424h2M664 435h2M664 442h2M664 449h2M665 360h2M665 394h2M665 400h2M665 432h2M665 433h2M665 449h2M665 494h2M665 495h2M666 386h2M666 407h2M666 420h2M666 439h2M666 455h2M666 477h2M667 361h2M667 376h2M667 394h2M667 403h2M667 408h2M667 420h2M667 422h2M667 432h2M667 440h2M667 451h2M667 457h2M668 404h2M668 426h2M668 428h2M668 448h2M668 473h2M668 497h2M668 499h2M669 398h2M669 403h2M669 433h2M670 342h2M670 362h2M670 426h2M670 443h2M670 460h2M671 388h2M671 401h2M671 421h2M671 422h2M671 437h2M671 447h2M671 451h2M672 374h2M672 397h2M672 405h2M672 443h2M672 446h2M672 461h2M672 484h2M673 351h2M673 398h2M673 401h2M673 417h2M673 438h2M673 441h2M673 449h2M673 450h2M673 461h2M673 508h2M673 518h2M673 578h2M674 326h2M674 367h2M674 407h2M674 424h2M674 429h2M674 431h2M674 432h2M674 435h2M674 474h2M674 475h2M674 478h2M674 571h2M675 387h2M675 391h2M675 396h2M675 415h2M675 421h2M675 439h2M675 443h2M675 454h2M675 466h2M675 517h2M676 358h2M676 401h2M676 416h2M676 427h2M676 449h2M677 339h2M677 374h2M677 375h2M677 417h2M677 435h2M677 437h2M677 438h2M677 447h2M677 513h2M677 629h2M678 401h2M678 420h2M678 460h2M678 504h2M678 544h2M679 449h2M679 452h2M679 457h2M680 372h2M680 375h2M680 409h2M680 438h2M680 451h2M680 542h2M681 341h2M681 379h2M681 426h2M681 446h2M681 457h2M681 469h2M681 552h2M682 378h2M682 417h2M682 427h2M682 459h2M683 381h2M683 382h2M683 425h2M683 481h2M683 487h2M684 393h2M684 396h2M684 449h2M684 472h2M685 502h2M686 388h2M686 464h2M687 321h2M687 356h2M687 390h2M687 393h2M687 420h2M687 427h2M687 552h2M688 385h2M688 393h2M688 399h2M688 402h2M688 582h2M688 707h2M689 427h2M689 428h2M689 572h2M690 390h2M690 404h2M690 500h2M691 410h2M691 431h2M692 409h2M693 418h2M693 423h2M693 446h2M693 447h2M693 591h2M695 406h2M697 398h2M698 380h2M698 405h2M698 442h2M698 454h2M698 469h2M698 472h2M698 482h2M698 522h2M699 443h2M700 457h2M700 531h2M701 310h2M701 378h2M701 417h2M701 490h2M702 403h2M703 345h2M703 417h2M703 424h2M704 293h2M704 406h2M704 431h2M704 464h2M705 471h2M707 403h2M708 426h2M709 464h2M710 315h2M710 468h2M713 422h2M714 430h2M714 439h2M714 444h2M714 477h2M715 417h2M716 391h2M719 361h2M719 428h2M719 499h2M720 421h2M723 326h2M725 519h2M726 321h2M726 512h2M728 446h2M730 395h2M730 493h2M731 439h2M733 467h2M734 290h2M734 428h2M734 521h2M734 631h2M735 381h2M736 440h2M740 450h2M741 434h2M745 392h2M749 384h2M753 386h2M753 420h2M757 365h2M757 396h2M757 507h2M758 493h2M760 353h2M765 399h2M767 413h2M768 475h2M774 541h2M784 340h2M785 417h2M788 456h2M791 464h2M832 377h2M843 587h2M851 432h2" stroke="#d9552c" stroke-width="2"/><rect x="274.0" y="285.2" width="600.5" height="524.0" fill="none" stroke="#e46a5c" stroke-width="5"/><circle cx="274" cy="285.2" r="8.2" fill="#fff" stroke="#dc5e55" stroke-width="4.2"/><circle cx="874.5" cy="809.2" r="8.2" fill="#fff" stroke="#dc5e55" stroke-width="4.2"/><rect x="231.5" y="264.0" width="734.5" height="733.0" fill="none" stroke="#8a8a8a" stroke-width="4.5"/><line x1="231.5" y1="997.0" x2="966.0" y2="997.0" stroke="#2a2a2a" stroke-width="3.5"/><path d="M222.5 997.0H231.5M226.5 941.8H231.5M226.5 909.6H231.5M226.5 886.7H231.5M226.5 868.9H231.5M226.5 854.4H231.5M226.5 842.1H231.5M226.5 831.5H231.5M226.5 822.1H231.5M222.5 813.8H231.5M226.5 758.6H231.5M226.5 726.3H231.5M226.5 703.4H231.5M226.5 685.7H231.5M226.5 671.2H231.5M226.5 658.9H231.5M226.5 648.3H231.5M226.5 638.9H231.5M222.5 630.5H231.5M226.5 575.3H231.5M226.5 543.1H231.5M226.5 520.2H231.5M226.5 502.4H231.5M226.5 487.9H231.5M226.5 475.6H231.5M226.5 465.0H231.5M226.5 455.6H231.5M222.5 447.2H231.5M226.5 392.1H231.5M226.5 359.8H231.5M226.5 336.9H231.5M226.5 319.2H231.5M226.5 304.7H231.5M226.5 292.4H231.5M226.5 281.8H231.5M226.5 272.4H231.5M222.5 264.0H231.5" stroke="#555" stroke-width="2.2" fill="none"/><path d="M231.5 997.0V1006.0M286.8 997.0V1002.0M319.1 997.0V1002.0M342.1 997.0V1002.0M359.8 997.0V1002.0M374.4 997.0V1002.0M386.7 997.0V1002.0M397.3 997.0V1002.0M406.7 997.0V1002.0M415.1 997.0V1006.0M470.4 997.0V1002.0M502.7 997.0V1002.0M525.7 997.0V1002.0M543.5 997.0V1002.0M558.0 997.0V1002.0M570.3 997.0V1002.0M581.0 997.0V1002.0M590.3 997.0V1002.0M598.8 997.0V1006.0M654.0 997.0V1002.0M686.4 997.0V1002.0M709.3 997.0V1002.0M727.1 997.0V1002.0M741.6 997.0V1002.0M753.9 997.0V1002.0M764.6 997.0V1002.0M774.0 997.0V1002.0M782.4 997.0V1006.0M837.7 997.0V1002.0M870.0 997.0V1002.0M892.9 997.0V1002.0M910.7 997.0V1002.0M925.3 997.0V1002.0M937.6 997.0V1002.0M948.2 997.0V1002.0M957.6 997.0V1002.0M966.0 997.0V1006.0" stroke="#555" stroke-width="2.2" fill="none"/><text x="215.5" y="1009.0" font-size="40" font-weight="normal" fill="#1e1e1e" text-anchor="end" stroke="#222" stroke-width="0.6">0</text><text x="228.5" y="1042.0" font-size="39" font-weight="normal" fill="#1e1e1e" text-anchor="middle" stroke="#222" stroke-width="0.6">0</text><text x="215.5" y="825.8" font-size="40" font-weight="normal" fill="#1e1e1e" text-anchor="end" stroke="#222" stroke-width="0.6">1</text><text x="412.1" y="1042.0" font-size="39" font-weight="normal" fill="#1e1e1e" text-anchor="middle" stroke="#222" stroke-width="0.6">1</text><text x="215.5" y="642.5" font-size="40" font-weight="normal" fill="#1e1e1e" text-anchor="end" stroke="#222" stroke-width="0.6">2</text><text x="595.8" y="1042.0" font-size="39" font-weight="normal" fill="#1e1e1e" text-anchor="middle" stroke="#222" stroke-width="0.6">2</text><text x="215.5" y="459.2" font-size="40" font-weight="normal" fill="#1e1e1e" text-anchor="end" stroke="#222" stroke-width="0.6">3</text><text x="779.4" y="1042.0" font-size="39" font-weight="normal" fill="#1e1e1e" text-anchor="middle" stroke="#222" stroke-width="0.6">3</text><text x="215.5" y="276.0" font-size="40" font-weight="normal" fill="#1e1e1e" text-anchor="end" stroke="#222" stroke-width="0.6">4</text><text x="963.0" y="1042.0" font-size="39" font-weight="normal" fill="#1e1e1e" text-anchor="middle" stroke="#222" stroke-width="0.6">4</text><text x="369.5" y="159.0" font-size="67" font-weight="bold" fill="#000" text-anchor="start" textLength="422.5" lengthAdjust="spacingAndGlyphs">Actinomycin D</text><text x="292.0" y="254.9" font-size="53.5" font-weight="normal" fill="#1e1e1e" text-anchor="start" textLength="615.6" lengthAdjust="spacingAndGlyphs" stroke="#1e1e1e" stroke-width="0.6">POPULATION PROFILE</text><text transform="translate(163.0,863.0) rotate(-90)" x="0" y="0" font-size="56" font-weight="normal" fill="#1e1e1e" text-anchor="start" textLength="464.0" lengthAdjust="spacingAndGlyphs" stroke="#1e1e1e" stroke-width="0.6">CELL SIZE INDEX</text><text x="233.0" y="1094.0" font-size="39" font-weight="normal" fill="#646464" text-anchor="start" textLength="72.0" lengthAdjust="spacingAndGlyphs" stroke="#646464" stroke-width="0.8">Live</text><text x="449.0" y="1096.0" font-size="52" font-weight="normal" fill="#1e1e1e" text-anchor="start" textLength="296.0" lengthAdjust="spacingAndGlyphs" stroke="#1e1e1e" stroke-width="0.8">ANNEXIN V</text><text x="796.0" y="1094.0" font-size="39" font-weight="normal" fill="#646464" text-anchor="start" textLength="169.0" lengthAdjust="spacingAndGlyphs" stroke="#646464" stroke-width="0.8">Apoptotic</text><line x1="1003.0" y1="194.0" x2="1003.0" y2="1091.0" stroke="#ececec" stroke-width="2"/><line x1="1911.0" y1="163.0" x2="1911.0" y2="1091.0" stroke="#ececec" stroke-width="2"/><rect x="1138.5" y="251.5" width="735.5" height="730.5" fill="#ffffff"/><rect x="1138.5" y="817.5" width="735.5" height="164.5" fill="#cfcfcf"/><line x1="1138.5" y1="817.5" x2="1874.0" y2="817.5" stroke="#a8a8a8" stroke-width="3" stroke-dasharray="6 4"/><rect x="1181.5" y="271.5" width="600.5" height="524.5" fill="#e7f2d0"/><path d="M1181 432h2M1181 700h2M1181 742h2M1181 750h2M1181 755h2M1181 759h2M1181 765h2M1181 775h2M1181 787h2M1181 793h2M1181 794h2M1181 795h2M1182 392h2M1182 629h2M1182 672h2M1182 690h2M1182 723h2M1182 729h2M1182 736h2M1182 737h2M1182 751h2M1182 755h2M1182 759h2M1182 767h2M1182 778h2M1182 780h2M1182 781h2M1182 784h2M1182 787h2M1182 788h2M1182 789h2M1182 791h2M1182 792h2M1182 793h2M1183 363h2M1183 715h2M1183 733h2M1183 752h2M1183 760h2M1183 763h2M1183 774h2M1183 775h2M1183 779h2M1183 782h2M1183 785h2M1183 787h2M1183 788h2M1183 790h2M1183 792h2M1183 793h2M1183 794h2M1183 795h2M1184 408h2M1184 424h2M1184 573h2M1184 688h2M1184 689h2M1184 701h2M1184 706h2M1184 709h2M1184 712h2M1184 718h2M1184 724h2M1184 726h2M1184 729h2M1184 736h2M1184 739h2M1184 740h2M1184 741h2M1184 745h2M1184 750h2M1184 752h2M1184 758h2M1184 759h2M1184 769h2M1184 771h2M1184 773h2M1184 776h2M1184 783h2M1184 786h2M1184 787h2M1184 790h2M1184 791h2M1184 792h2M1184 794h2M1184 795h2M1185 655h2M1185 711h2M1185 723h2M1185 736h2M1185 743h2M1185 751h2M1185 757h2M1185 767h2M1185 779h2M1185 782h2M1185 784h2M1185 786h2M1185 787h2M1185 788h2M1185 790h2M1185 792h2M1185 793h2M1185 794h2M1185 795h2M1186 715h2M1186 720h2M1186 721h2M1186 722h2M1186 726h2M1186 754h2M1186 756h2M1186 757h2M1186 759h2M1186 766h2M1186 768h2M1186 769h2M1186 771h2M1186 775h2M1186 779h2M1186 780h2M1186 784h2M1186 785h2M1186 787h2M1186 790h2M1186 791h2M1186 792h2M1186 794h2M1186 795h2M1187 626h2M1187 661h2M1187 684h2M1187 703h2M1187 707h2M1187 717h2M1187 724h2M1187 741h2M1187 742h2M1187 747h2M1187 754h2M1187 756h2M1187 758h2M1187 761h2M1187 764h2M1187 766h2M1187 767h2M1187 768h2M1187 770h2M1187 771h2M1187 772h2M1187 773h2M1187 786h2M1187 787h2M1187 790h2M1187 791h2M1187 792h2M1187 794h2M1187 795h2M1188 647h2M1188 666h2M1188 728h2M1188 748h2M1188 749h2M1188 751h2M1188 755h2M1188 759h2M1188 761h2M1188 764h2M1188 768h2M1188 773h2M1188 775h2M1188 777h2M1188 785h2M1188 786h2M1189 678h2M1189 686h2M1189 717h2M1189 725h2M1189 731h2M1189 741h2M1189 743h2M1189 748h2M1189 753h2M1189 758h2M1189 760h2M1189 761h2M1189 762h2M1189 769h2M1189 772h2M1189 774h2M1189 779h2M1189 781h2M1189 782h2M1189 784h2M1189 788h2M1189 789h2M1189 791h2M1189 792h2M1189 793h2M1189 794h2M1190 662h2M1190 693h2M1190 716h2M1190 719h2M1190 722h2M1190 723h2M1190 727h2M1190 754h2M1190 757h2M1190 761h2M1190 763h2M1190 771h2M1190 775h2M1190 777h2M1190 783h2M1190 785h2M1190 786h2M1190 787h2M1190 789h2M1190 792h2M1190 793h2M1190 794h2M1190 795h2M1191 535h2M1191 567h2M1191 597h2M1191 681h2M1191 709h2M1191 719h2M1191 720h2M1191 725h2M1191 734h2M1191 741h2M1191 745h2M1191 752h2M1191 754h2M1191 755h2M1191 756h2M1191 760h2M1191 764h2M1191 765h2M1191 772h2M1191 777h2M1191 782h2M1191 787h2M1191 789h2M1191 790h2M1191 791h2M1191 793h2M1191 794h2M1192 347h2M1192 532h2M1192 648h2M1192 673h2M1192 678h2M1192 721h2M1192 724h2M1192 731h2M1192 738h2M1192 759h2M1192 763h2M1192 766h2M1192 768h2M1192 774h2M1192 776h2M1192 777h2M1192 778h2M1192 781h2M1192 783h2M1192 784h2M1192 785h2M1192 786h2M1192 788h2M1192 789h2M1192 793h2M1192 794h2M1192 795h2M1193 401h2M1193 678h2M1193 679h2M1193 691h2M1193 694h2M1193 707h2M1193 712h2M1193 725h2M1193 729h2M1193 733h2M1193 739h2M1193 740h2M1193 745h2M1193 746h2M1193 747h2M1193 748h2M1193 752h2M1193 754h2M1193 755h2M1193 757h2M1193 764h2M1193 768h2M1193 769h2M1193 771h2M1193 772h2M1193 779h2M1193 782h2M1193 783h2M1193 786h2M1193 788h2M1193 790h2M1193 791h2M1193 793h2M1193 794h2M1193 795h2M1194 532h2M1194 700h2M1194 711h2M1194 722h2M1194 725h2M1194 727h2M1194 735h2M1194 736h2M1194 738h2M1194 743h2M1194 753h2M1194 767h2M1194 774h2M1194 776h2M1194 778h2M1194 783h2M1194 784h2M1194 786h2M1194 787h2M1194 788h2M1194 789h2M1194 790h2M1194 791h2M1194 792h2M1194 794h2M1194 795h2M1195 420h2M1195 662h2M1195 708h2M1195 719h2M1195 726h2M1195 728h2M1195 734h2M1195 735h2M1195 744h2M1195 748h2M1195 749h2M1195 761h2M1195 766h2M1195 767h2M1195 769h2M1195 772h2M1195 776h2M1195 779h2M1195 780h2M1195 782h2M1195 783h2M1195 785h2M1195 786h2M1195 788h2M1195 789h2M1195 790h2M1195 791h2M1195 792h2M1195 793h2M1195 795h2M1196 566h2M1196 615h2M1196 691h2M1196 692h2M1196 699h2M1196 716h2M1196 719h2M1196 730h2M1196 735h2M1196 746h2M1196 749h2M1196 754h2M1196 767h2M1196 768h2M1196 769h2M1196 771h2M1196 772h2M1196 775h2M1196 776h2M1196 780h2M1196 785h2M1196 786h2M1196 787h2M1196 788h2M1196 789h2M1196 790h2M1196 795h2M1197 555h2M1197 657h2M1197 694h2M1197 705h2M1197 711h2M1197 732h2M1197 737h2M1197 738h2M1197 740h2M1197 747h2M1197 748h2M1197 750h2M1197 751h2M1197 755h2M1197 765h2M1197 770h2M1197 777h2M1197 783h2M1197 784h2M1197 790h2M1197 793h2M1197 795h2M1198 575h2M1198 610h2M1198 706h2M1198 717h2M1198 718h2M1198 722h2M1198 723h2M1198 732h2M1198 733h2M1198 750h2M1198 751h2M1198 755h2M1198 759h2M1198 763h2M1198 764h2M1198 766h2M1198 767h2M1198 768h2M1198 769h2M1198 775h2M1198 778h2M1198 779h2M1198 782h2M1198 784h2M1198 786h2M1198 787h2M1198 788h2M1198 789h2M1198 790h2M1198 791h2M1198 793h2M1199 404h2M1199 414h2M1199 651h2M1199 709h2M1199 720h2M1199 742h2M1199 743h2M1199 755h2M1199 761h2M1199 763h2M1199 764h2M1199 765h2M1199 766h2M1199 768h2M1199 773h2M1199 779h2M1199 781h2M1199 783h2M1199 785h2M1199 786h2M1199 790h2M1199 791h2M1199 792h2M1200 414h2M1200 452h2M1200 685h2M1200 697h2M1200 705h2M1200 710h2M1200 713h2M1200 714h2M1200 717h2M1200 718h2M1200 722h2M1200 727h2M1200 728h2M1200 732h2M1200 737h2M1200 744h2M1200 746h2M1200 751h2M1200 754h2M1200 755h2M1200 759h2M1200 760h2M1200 762h2M1200 764h2M1200 766h2M1200 768h2M1200 773h2M1200 778h2M1200 781h2M1200 784h2M1200 785h2M1200 790h2M1200 792h2M1200 793h2M1200 794h2M1201 690h2M1201 693h2M1201 695h2M1201 700h2M1201 705h2M1201 709h2M1201 710h2M1201 711h2M1201 725h2M1201 727h2M1201 733h2M1201 737h2M1201 742h2M1201 745h2M1201 746h2M1201 755h2M1201 756h2M1201 760h2M1201 765h2M1201 766h2M1201 773h2M1201 775h2M1201 776h2M1201 783h2M1201 784h2M1201 786h2M1201 787h2M1201 790h2M1201 791h2M1201 793h2M1201 794h2M1201 795h2M1202 359h2M1202 468h2M1202 521h2M1202 666h2M1202 690h2M1202 716h2M1202 729h2M1202 739h2M1202 741h2M1202 745h2M1202 748h2M1202 750h2M1202 751h2M1202 755h2M1202 758h2M1202 759h2M1202 760h2M1202 763h2M1202 766h2M1202 767h2M1202 774h2M1202 776h2M1202 777h2M1202 779h2M1202 780h2M1202 783h2M1202 784h2M1202 785h2M1202 786h2M1202 791h2M1202 792h2M1202 793h2M1202 794h2M1203 395h2M1203 644h2M1203 650h2M1203 671h2M1203 675h2M1203 698h2M1203 715h2M1203 719h2M1203 722h2M1203 725h2M1203 734h2M1203 735h2M1203 740h2M1203 741h2M1203 750h2M1203 753h2M1203 754h2M1203 760h2M1203 761h2M1203 765h2M1203 773h2M1203 776h2M1203 779h2M1203 780h2M1203 786h2M1203 788h2M1203 790h2M1203 793h2M1203 795h2M1204 299h2M1204 378h2M1204 685h2M1204 710h2M1204 715h2M1204 720h2M1204 722h2M1204 727h2M1204 739h2M1204 740h2M1204 748h2M1204 751h2M1204 753h2M1204 754h2M1204 757h2M1204 758h2M1204 760h2M1204 761h2M1204 762h2M1204 765h2M1204 767h2M1204 769h2M1204 772h2M1204 774h2M1204 781h2M1204 786h2M1204 787h2M1204 790h2M1204 791h2M1204 792h2M1204 793h2M1204 794h2M1205 680h2M1205 692h2M1205 711h2M1205 718h2M1205 719h2M1205 721h2M1205 722h2M1205 734h2M1205 742h2M1205 757h2M1205 758h2M1205 761h2M1205 762h2M1205 765h2M1205 769h2M1205 770h2M1205 772h2M1205 778h2M1205 779h2M1205 784h2M1205 785h2M1205 787h2M1205 788h2M1205 793h2M1205 794h2M1205 795h2M1206 369h2M1206 393h2M1206 698h2M1206 710h2M1206 711h2M1206 712h2M1206 729h2M1206 737h2M1206 739h2M1206 742h2M1206 743h2M1206 750h2M1206 751h2M1206 753h2M1206 761h2M1206 780h2M1206 784h2M1206 786h2M1206 788h2M1206 789h2M1206 792h2M1206 794h2M1207 588h2M1207 632h2M1207 642h2M1207 671h2M1207 692h2M1207 709h2M1207 713h2M1207 715h2M1207 717h2M1207 718h2M1207 726h2M1207 732h2M1207 733h2M1207 734h2M1207 737h2M1207 741h2M1207 744h2M1207 747h2M1207 749h2M1207 750h2M1207 751h2M1207 753h2M1207 779h2M1207 780h2M1207 782h2M1207 783h2M1207 784h2M1207 785h2M1207 786h2M1207 787h2M1207 788h2M1207 789h2M1207 790h2M1207 793h2M1207 795h2M1208 418h2M1208 574h2M1208 677h2M1208 686h2M1208 698h2M1208 707h2M1208 713h2M1208 725h2M1208 727h2M1208 730h2M1208 738h2M1208 750h2M1208 756h2M1208 758h2M1208 759h2M1208 760h2M1208 761h2M1208 762h2M1208 764h2M1208 768h2M1208 769h2M1208 773h2M1208 774h2M1208 776h2M1208 777h2M1208 779h2M1208 780h2M1208 781h2M1208 782h2M1208 784h2M1208 786h2M1208 788h2M1208 789h2M1208 792h2M1208 794h2M1208 795h2M1209 598h2M1209 660h2M1209 693h2M1209 698h2M1209 700h2M1209 703h2M1209 708h2M1209 710h2M1209 714h2M1209 715h2M1209 721h2M1209 723h2M1209 725h2M1209 728h2M1209 729h2M1209 731h2M1209 734h2M1209 740h2M1209 741h2M1209 749h2M1209 750h2M1209 752h2M1209 755h2M1209 757h2M1209 759h2M1209 761h2M1209 763h2M1209 768h2M1209 771h2M1209 772h2M1209 773h2M1209 775h2M1209 776h2M1209 777h2M1209 779h2M1209 781h2M1209 782h2M1209 785h2M1209 788h2M1209 790h2M1209 791h2M1209 792h2M1209 793h2M1209 794h2M1209 795h2M1210 399h2M1210 430h2M1210 647h2M1210 692h2M1210 693h2M1210 711h2M1210 723h2M1210 731h2M1210 732h2M1210 738h2M1210 741h2M1210 745h2M1210 751h2M1210 752h2M1210 753h2M1210 772h2M1210 779h2M1210 781h2M1210 782h2M1210 783h2M1210 784h2M1210 785h2M1210 786h2M1210 790h2M1210 791h2M1210 792h2M1210 793h2M1210 794h2M1210 795h2M1211 407h2M1211 424h2M1211 624h2M1211 706h2M1211 710h2M1211 716h2M1211 720h2M1211 730h2M1211 733h2M1211 740h2M1211 742h2M1211 743h2M1211 746h2M1211 750h2M1211 752h2M1211 754h2M1211 756h2M1211 762h2M1211 764h2M1211 765h2M1211 775h2M1211 779h2M1211 780h2M1211 781h2M1211 784h2M1211 786h2M1211 788h2M1211 789h2M1211 790h2M1211 791h2M1211 795h2M1212 342h2M1212 638h2M1212 685h2M1212 690h2M1212 702h2M1212 703h2M1212 704h2M1212 714h2M1212 735h2M1212 741h2M1212 750h2M1212 751h2M1212 753h2M1212 757h2M1212 759h2M1212 761h2M1212 762h2M1212 765h2M1212 767h2M1212 775h2M1212 780h2M1212 782h2M1212 783h2M1212 784h2M1212 786h2M1212 787h2M1212 789h2M1212 790h2M1212 793h2M1212 794h2M1213 399h2M1213 595h2M1213 611h2M1213 682h2M1213 692h2M1213 697h2M1213 717h2M1213 718h2M1213 719h2M1213 722h2M1213 727h2M1213 729h2M1213 744h2M1213 750h2M1213 756h2M1213 760h2M1213 762h2M1213 764h2M1213 765h2M1213 768h2M1213 770h2M1213 774h2M1213 778h2M1213 779h2M1213 780h2M1213 783h2M1213 784h2M1213 786h2M1213 787h2M1213 788h2M1213 789h2M1213 791h2M1213 793h2M1213 794h2M1213 795h2M1214 404h2M1214 662h2M1214 672h2M1214 675h2M1214 685h2M1214 686h2M1214 693h2M1214 698h2M1214 699h2M1214 704h2M1214 710h2M1214 712h2M1214 721h2M1214 722h2M1214 733h2M1214 739h2M1214 740h2M1214 741h2M1214 743h2M1214 748h2M1214 749h2M1214 758h2M1214 761h2M1214 765h2M1214 766h2M1214 768h2M1214 771h2M1214 774h2M1214 782h2M1214 783h2M1214 784h2M1214 786h2M1214 787h2M1214 788h2M1214 789h2M1214 791h2M1214 792h2M1214 793h2M1214 794h2M1214 795h2M1215 384h2M1215 391h2M1215 525h2M1215 715h2M1215 724h2M1215 733h2M1215 739h2M1215 744h2M1215 758h2M1215 762h2M1215 772h2M1215 773h2M1215 778h2M1215 782h2M1215 784h2M1215 786h2M1215 789h2M1215 790h2M1215 791h2M1215 792h2M1215 793h2M1215 794h2M1215 795h2M1216 406h2M1216 438h2M1216 585h2M1216 586h2M1216 684h2M1216 689h2M1216 699h2M1216 705h2M1216 706h2M1216 712h2M1216 732h2M1216 734h2M1216 739h2M1216 743h2M1216 750h2M1216 755h2M1216 758h2M1216 759h2M1216 761h2M1216 765h2M1216 766h2M1216 767h2M1216 768h2M1216 769h2M1216 773h2M1216 774h2M1216 778h2M1216 783h2M1216 784h2M1216 785h2M1216 786h2M1216 787h2M1216 788h2M1216 791h2M1216 792h2M1216 793h2M1216 794h2M1217 363h2M1217 533h2M1217 556h2M1217 599h2M1217 639h2M1217 654h2M1217 660h2M1217 683h2M1217 689h2M1217 713h2M1217 728h2M1217 731h2M1217 735h2M1217 736h2M1217 741h2M1217 742h2M1217 745h2M1217 747h2M1217 748h2M1217 750h2M1217 751h2M1217 752h2M1217 756h2M1217 759h2M1217 763h2M1217 764h2M1217 766h2M1217 767h2M1217 768h2M1217 770h2M1217 773h2M1217 774h2M1217 777h2M1217 779h2M1217 781h2M1217 782h2M1217 783h2M1217 784h2M1217 787h2M1217 791h2M1217 792h2M1217 793h2M1217 794h2M1217 795h2M1218 390h2M1218 661h2M1218 668h2M1218 671h2M1218 684h2M1218 693h2M1218 698h2M1218 703h2M1218 710h2M1218 712h2M1218 715h2M1218 723h2M1218 724h2M1218 727h2M1218 732h2M1218 733h2M1218 735h2M1218 741h2M1218 746h2M1218 748h2M1218 750h2M1218 753h2M1218 755h2M1218 756h2M1218 761h2M1218 771h2M1218 773h2M1218 777h2M1218 784h2M1218 786h2M1218 788h2M1218 789h2M1218 791h2M1218 793h2M1218 794h2M1218 795h2M1219 642h2M1219 645h2M1219 688h2M1219 700h2M1219 720h2M1219 728h2M1219 732h2M1219 736h2M1219 743h2M1219 745h2M1219 746h2M1219 747h2M1219 749h2M1219 756h2M1219 757h2M1219 759h2M1219 760h2M1219 763h2M1219 765h2M1219 767h2M1219 768h2M1219 769h2M1219 771h2M1219 775h2M1219 778h2M1219 784h2M1219 786h2M1219 787h2M1219 790h2M1219 791h2M1219 793h2M1219 794h2M1219 795h2M1220 372h2M1220 394h2M1220 395h2M1220 396h2M1220 411h2M1220 623h2M1220 652h2M1220 677h2M1220 687h2M1220 703h2M1220 719h2M1220 729h2M1220 736h2M1220 741h2M1220 743h2M1220 745h2M1220 747h2M1220 749h2M1220 753h2M1220 756h2M1220 760h2M1220 763h2M1220 765h2M1220 771h2M1220 775h2M1220 777h2M1220 781h2M1220 783h2M1220 784h2M1220 787h2M1220 789h2M1220 793h2M1220 794h2M1220 795h2M1221 476h2M1221 629h2M1221 648h2M1221 713h2M1221 721h2M1221 723h2M1221 731h2M1221 735h2M1221 737h2M1221 739h2M1221 742h2M1221 746h2M1221 747h2M1221 750h2M1221 751h2M1221 752h2M1221 754h2M1221 758h2M1221 759h2M1221 760h2M1221 763h2M1221 767h2M1221 771h2M1221 773h2M1221 774h2M1221 781h2M1221 787h2M1221 788h2M1221 789h2M1221 791h2M1221 794h2M1221 795h2M1222 379h2M1222 620h2M1222 637h2M1222 644h2M1222 670h2M1222 673h2M1222 693h2M1222 695h2M1222 714h2M1222 715h2M1222 729h2M1222 730h2M1222 739h2M1222 741h2M1222 743h2M1222 744h2M1222 748h2M1222 749h2M1222 750h2M1222 752h2M1222 757h2M1222 758h2M1222 768h2M1222 775h2M1222 776h2M1222 777h2M1222 783h2M1222 787h2M1222 788h2M1222 790h2M1222 792h2M1222 794h2M1223 384h2M1223 395h2M1223 404h2M1223 406h2M1223 501h2M1223 584h2M1223 636h2M1223 645h2M1223 686h2M1223 690h2M1223 692h2M1223 698h2M1223 702h2M1223 707h2M1223 713h2M1223 730h2M1223 731h2M1223 739h2M1223 753h2M1223 755h2M1223 758h2M1223 762h2M1223 763h2M1223 764h2M1223 766h2M1223 767h2M1223 772h2M1223 775h2M1223 776h2M1223 777h2M1223 778h2M1223 779h2M1223 780h2M1223 787h2M1223 788h2M1223 789h2M1223 791h2M1223 792h2M1223 793h2M1223 794h2M1223 795h2M1224 419h2M1224 658h2M1224 690h2M1224 697h2M1224 704h2M1224 707h2M1224 709h2M1224 716h2M1224 721h2M1224 727h2M1224 729h2M1224 730h2M1224 732h2M1224 740h2M1224 741h2M1224 744h2M1224 745h2M1224 750h2M1224 751h2M1224 760h2M1224 761h2M1224 762h2M1224 770h2M1224 771h2M1224 772h2M1224 773h2M1224 774h2M1224 782h2M1224 783h2M1224 784h2M1224 787h2M1224 790h2M1224 791h2M1224 792h2M1224 794h2M1224 795h2M1225 395h2M1225 460h2M1225 571h2M1225 581h2M1225 678h2M1225 710h2M1225 714h2M1225 726h2M1225 735h2M1225 742h2M1225 743h2M1225 749h2M1225 751h2M1225 756h2M1225 757h2M1225 759h2M1225 761h2M1225 764h2M1225 765h2M1225 766h2M1225 769h2M1225 771h2M1225 774h2M1225 775h2M1225 776h2M1225 782h2M1225 783h2M1225 784h2M1225 785h2M1225 789h2M1225 791h2M1225 792h2M1225 795h2M1226 371h2M1226 597h2M1226 658h2M1226 670h2M1226 675h2M1226 680h2M1226 709h2M1226 713h2M1226 716h2M1226 726h2M1226 734h2M1226 745h2M1226 749h2M1226 752h2M1226 754h2M1226 761h2M1226 764h2M1226 767h2M1226 772h2M1226 778h2M1226 779h2M1226 783h2M1226 788h2M1226 789h2M1226 792h2M1226 794h2M1226 795h2M1227 384h2M1227 540h2M1227 689h2M1227 729h2M1227 734h2M1227 735h2M1227 741h2M1227 742h2M1227 745h2M1227 748h2M1227 750h2M1227 751h2M1227 752h2M1227 759h2M1227 763h2M1227 764h2M1227 765h2M1227 769h2M1227 770h2M1227 771h2M1227 776h2M1227 778h2M1227 780h2M1227 781h2M1227 783h2M1227 785h2M1227 786h2M1227 789h2M1227 790h2M1227 791h2M1227 792h2M1227 794h2M1227 795h2M1228 546h2M1228 587h2M1228 640h2M1228 698h2M1228 702h2M1228 720h2M1228 724h2M1228 726h2M1228 728h2M1228 731h2M1228 740h2M1228 743h2M1228 744h2M1228 748h2M1228 754h2M1228 757h2M1228 762h2M1228 764h2M1228 767h2M1228 768h2M1228 772h2M1228 775h2M1228 777h2M1228 779h2M1228 783h2M1228 784h2M1228 785h2M1228 786h2M1228 787h2M1228 788h2M1228 792h2M1228 794h2M1228 795h2M1229 372h2M1229 395h2M1229 402h2M1229 419h2M1229 466h2M1229 513h2M1229 621h2M1229 636h2M1229 684h2M1229 705h2M1229 711h2M1229 718h2M1229 721h2M1229 729h2M1229 736h2M1229 740h2M1229 741h2M1229 742h2M1229 743h2M1229 746h2M1229 751h2M1229 754h2M1229 755h2M1229 760h2M1229 761h2M1229 764h2M1229 771h2M1229 776h2M1229 781h2M1229 782h2M1229 787h2M1229 788h2M1229 789h2M1230 379h2M1230 395h2M1230 632h2M1230 643h2M1230 685h2M1230 692h2M1230 703h2M1230 707h2M1230 709h2M1230 710h2M1230 720h2M1230 721h2M1230 723h2M1230 725h2M1230 726h2M1230 738h2M1230 741h2M1230 743h2M1230 745h2M1230 746h2M1230 748h2M1230 749h2M1230 751h2M1230 753h2M1230 754h2M1230 756h2M1230 757h2M1230 765h2M1230 767h2M1230 768h2M1230 769h2M1230 770h2M1230 773h2M1230 778h2M1230 779h2M1230 780h2M1230 781h2M1230 784h2M1230 789h2M1230 790h2M1230 792h2M1230 794h2M1230 795h2M1231 389h2M1231 558h2M1231 691h2M1231 697h2M1231 705h2M1231 707h2M1231 729h2M1231 731h2M1231 732h2M1231 733h2M1231 736h2M1231 740h2M1231 742h2M1231 743h2M1231 746h2M1231 748h2M1231 753h2M1231 755h2M1231 756h2M1231 758h2M1231 759h2M1231 763h2M1231 767h2M1231 769h2M1231 770h2M1231 773h2M1231 778h2M1231 779h2M1231 780h2M1231 781h2M1231 783h2M1231 784h2M1231 786h2M1231 788h2M1231 789h2M1231 791h2M1231 792h2M1231 795h2M1232 629h2M1232 649h2M1232 651h2M1232 660h2M1232 683h2M1232 701h2M1232 708h2M1232 714h2M1232 720h2M1232 722h2M1232 723h2M1232 725h2M1232 728h2M1232 733h2M1232 734h2M1232 736h2M1232 737h2M1232 747h2M1232 749h2M1232 750h2M1232 753h2M1232 755h2M1232 761h2M1232 762h2M1232 769h2M1232 771h2M1232 775h2M1232 777h2M1232 780h2M1232 785h2M1232 786h2M1232 788h2M1232 789h2M1232 790h2M1232 791h2M1232 792h2M1232 794h2M1233 316h2M1233 379h2M1233 406h2M1233 540h2M1233 632h2M1233 678h2M1233 679h2M1233 690h2M1233 692h2M1233 720h2M1233 726h2M1233 730h2M1233 732h2M1233 736h2M1233 737h2M1233 739h2M1233 740h2M1233 747h2M1233 755h2M1233 756h2M1233 757h2M1233 765h2M1233 767h2M1233 770h2M1233 771h2M1233 773h2M1233 775h2M1233 779h2M1233 780h2M1233 781h2M1233 783h2M1233 785h2M1233 787h2M1233 790h2M1233 792h2M1233 794h2M1233 795h2M1234 379h2M1234 388h2M1234 416h2M1234 598h2M1234 625h2M1234 693h2M1234 704h2M1234 708h2M1234 710h2M1234 711h2M1234 716h2M1234 717h2M1234 720h2M1234 721h2M1234 729h2M1234 733h2M1234 734h2M1234 743h2M1234 745h2M1234 749h2M1234 750h2M1234 755h2M1234 756h2M1234 757h2M1234 763h2M1234 764h2M1234 766h2M1234 767h2M1234 768h2M1234 770h2M1234 771h2M1234 773h2M1234 774h2M1234 775h2M1234 777h2M1234 778h2M1234 783h2M1234 785h2M1234 786h2M1234 787h2M1234 788h2M1234 789h2M1234 791h2M1234 792h2M1234 793h2M1234 794h2M1235 573h2M1235 656h2M1235 670h2M1235 671h2M1235 676h2M1235 684h2M1235 693h2M1235 720h2M1235 721h2M1235 724h2M1235 728h2M1235 735h2M1235 739h2M1235 742h2M1235 744h2M1235 751h2M1235 752h2M1235 756h2M1235 757h2M1235 759h2M1235 761h2M1235 763h2M1235 764h2M1235 765h2M1235 766h2M1235 773h2M1235 775h2M1235 776h2M1235 778h2M1235 782h2M1235 784h2M1235 786h2M1235 788h2M1235 792h2M1235 793h2M1235 794h2M1236 387h2M1236 396h2M1236 397h2M1236 401h2M1236 402h2M1236 403h2M1236 590h2M1236 631h2M1236 653h2M1236 660h2M1236 671h2M1236 680h2M1236 681h2M1236 689h2M1236 690h2M1236 699h2M1236 705h2M1236 716h2M1236 719h2M1236 728h2M1236 731h2M1236 736h2M1236 737h2M1236 738h2M1236 740h2M1236 742h2M1236 746h2M1236 748h2M1236 749h2M1236 752h2M1236 754h2M1236 758h2M1236 759h2M1236 763h2M1236 765h2M1236 770h2M1236 771h2M1236 775h2M1236 777h2M1236 783h2M1236 784h2M1236 786h2M1236 788h2M1236 789h2M1236 791h2M1236 792h2M1236 794h2M1236 795h2M1237 381h2M1237 575h2M1237 639h2M1237 680h2M1237 684h2M1237 691h2M1237 725h2M1237 726h2M1237 728h2M1237 738h2M1237 741h2M1237 746h2M1237 748h2M1237 755h2M1237 756h2M1237 757h2M1237 759h2M1237 764h2M1237 769h2M1237 772h2M1237 773h2M1237 776h2M1237 778h2M1237 785h2M1237 787h2M1237 791h2M1237 795h2M1238 365h2M1238 383h2M1238 409h2M1238 424h2M1238 536h2M1238 653h2M1238 664h2M1238 668h2M1238 703h2M1238 711h2M1238 718h2M1238 721h2M1238 730h2M1238 731h2M1238 734h2M1238 739h2M1238 740h2M1238 748h2M1238 749h2M1238 751h2M1238 752h2M1238 754h2M1238 756h2M1238 758h2M1238 761h2M1238 762h2M1238 763h2M1238 766h2M1238 767h2M1238 768h2M1238 769h2M1238 771h2M1238 773h2M1238 774h2M1238 775h2M1238 781h2M1238 786h2M1238 787h2M1239 365h2M1239 391h2M1239 401h2M1239 630h2M1239 646h2M1239 703h2M1239 706h2M1239 712h2M1239 714h2M1239 721h2M1239 726h2M1239 733h2M1239 735h2M1239 738h2M1239 740h2M1239 741h2M1239 742h2M1239 748h2M1239 751h2M1239 752h2M1239 755h2M1239 757h2M1239 758h2M1239 761h2M1239 767h2M1239 768h2M1239 773h2M1239 775h2M1239 777h2M1239 779h2M1239 783h2M1239 785h2M1239 786h2M1239 787h2M1239 790h2M1239 791h2M1239 792h2M1239 793h2M1239 794h2M1240 395h2M1240 400h2M1240 574h2M1240 591h2M1240 657h2M1240 669h2M1240 674h2M1240 684h2M1240 686h2M1240 687h2M1240 689h2M1240 705h2M1240 713h2M1240 723h2M1240 737h2M1240 739h2M1240 743h2M1240 745h2M1240 750h2M1240 752h2M1240 756h2M1240 763h2M1240 765h2M1240 771h2M1240 778h2M1240 780h2M1240 784h2M1240 786h2M1240 788h2M1240 789h2M1240 791h2M1240 793h2M1240 795h2M1241 409h2M1241 523h2M1241 549h2M1241 597h2M1241 608h2M1241 634h2M1241 653h2M1241 699h2M1241 706h2M1241 713h2M1241 717h2M1241 722h2M1241 723h2M1241 729h2M1241 730h2M1241 731h2M1241 733h2M1241 740h2M1241 741h2M1241 742h2M1241 743h2M1241 744h2M1241 747h2M1241 748h2M1241 749h2M1241 750h2M1241 754h2M1241 756h2M1241 765h2M1241 767h2M1241 770h2M1241 772h2M1241 778h2M1241 781h2M1241 782h2M1241 783h2M1241 785h2M1241 786h2M1241 787h2M1241 789h2M1241 791h2M1241 792h2M1241 793h2M1241 795h2M1242 388h2M1242 394h2M1242 399h2M1242 407h2M1242 409h2M1242 610h2M1242 648h2M1242 658h2M1242 705h2M1242 706h2M1242 716h2M1242 718h2M1242 727h2M1242 730h2M1242 737h2M1242 739h2M1242 742h2M1242 746h2M1242 748h2M1242 756h2M1242 757h2M1242 762h2M1242 763h2M1242 767h2M1242 768h2M1242 769h2M1242 771h2M1242 776h2M1242 780h2M1242 781h2M1242 783h2M1242 784h2M1242 786h2M1242 788h2M1242 789h2M1242 790h2M1242 791h2M1242 794h2M1242 795h2M1243 344h2M1243 397h2M1243 398h2M1243 405h2M1243 559h2M1243 649h2M1243 657h2M1243 660h2M1243 667h2M1243 695h2M1243 702h2M1243 705h2M1243 712h2M1243 716h2M1243 717h2M1243 728h2M1243 734h2M1243 740h2M1243 742h2M1243 745h2M1243 747h2M1243 751h2M1243 753h2M1243 755h2M1243 756h2M1243 757h2M1243 759h2M1243 761h2M1243 763h2M1243 769h2M1243 771h2M1243 773h2M1243 774h2M1243 777h2M1243 778h2M1243 781h2M1243 784h2M1243 785h2M1243 788h2M1243 791h2M1243 792h2M1243 793h2M1243 794h2M1244 399h2M1244 418h2M1244 508h2M1244 538h2M1244 582h2M1244 615h2M1244 650h2M1244 656h2M1244 684h2M1244 687h2M1244 694h2M1244 708h2M1244 711h2M1244 712h2M1244 723h2M1244 725h2M1244 730h2M1244 734h2M1244 740h2M1244 742h2M1244 744h2M1244 748h2M1244 750h2M1244 754h2M1244 756h2M1244 759h2M1244 764h2M1244 765h2M1244 766h2M1244 770h2M1244 771h2M1244 773h2M1244 775h2M1244 776h2M1244 780h2M1244 782h2M1244 784h2M1244 787h2M1244 788h2M1244 790h2M1244 791h2M1244 792h2M1244 795h2M1245 360h2M1245 368h2M1245 378h2M1245 393h2M1245 405h2M1245 635h2M1245 649h2M1245 677h2M1245 678h2M1245 679h2M1245 680h2M1245 681h2M1245 690h2M1245 705h2M1245 708h2M1245 713h2M1245 721h2M1245 729h2M1245 730h2M1245 736h2M1245 739h2M1245 743h2M1245 744h2M1245 747h2M1245 749h2M1245 750h2M1245 751h2M1245 753h2M1245 757h2M1245 772h2M1245 777h2M1245 779h2M1245 783h2M1245 784h2M1245 785h2M1245 786h2M1245 787h2M1245 789h2M1245 792h2M1246 380h2M1246 395h2M1246 418h2M1246 544h2M1246 612h2M1246 648h2M1246 656h2M1246 684h2M1246 689h2M1246 690h2M1246 692h2M1246 698h2M1246 703h2M1246 718h2M1246 730h2M1246 735h2M1246 736h2M1246 737h2M1246 738h2M1246 740h2M1246 746h2M1246 749h2M1246 750h2M1246 757h2M1246 760h2M1246 762h2M1246 766h2M1246 768h2M1246 773h2M1246 776h2M1246 779h2M1246 780h2M1246 786h2M1246 787h2M1246 789h2M1246 793h2M1246 794h2M1246 795h2M1247 314h2M1247 374h2M1247 396h2M1247 397h2M1247 405h2M1247 407h2M1247 646h2M1247 650h2M1247 651h2M1247 657h2M1247 668h2M1247 681h2M1247 695h2M1247 705h2M1247 720h2M1247 733h2M1247 734h2M1247 738h2M1247 744h2M1247 746h2M1247 751h2M1247 754h2M1247 756h2M1247 760h2M1247 762h2M1247 764h2M1247 766h2M1247 768h2M1247 770h2M1247 771h2M1247 774h2M1247 777h2M1247 780h2M1247 782h2M1247 783h2M1247 784h2M1247 787h2M1247 789h2M1247 790h2M1247 792h2M1247 793h2M1247 795h2M1248 391h2M1248 394h2M1248 585h2M1248 676h2M1248 677h2M1248 679h2M1248 704h2M1248 705h2M1248 706h2M1248 722h2M1248 724h2M1248 730h2M1248 731h2M1248 740h2M1248 744h2M1248 750h2M1248 751h2M1248 760h2M1248 768h2M1248 779h2M1248 780h2M1248 785h2M1248 786h2M1248 788h2M1248 789h2M1248 791h2M1248 792h2M1248 794h2M1249 364h2M1249 367h2M1249 386h2M1249 389h2M1249 392h2M1249 412h2M1249 417h2M1249 436h2M1249 610h2M1249 629h2M1249 667h2M1249 707h2M1249 712h2M1249 715h2M1249 723h2M1249 725h2M1249 726h2M1249 739h2M1249 740h2M1249 742h2M1249 746h2M1249 750h2M1249 755h2M1249 756h2M1249 757h2M1249 768h2M1249 769h2M1249 772h2M1249 773h2M1249 775h2M1249 777h2M1249 779h2M1249 780h2M1249 785h2M1249 787h2M1249 788h2M1249 790h2M1249 791h2M1249 792h2M1249 794h2M1249 795h2M1250 393h2M1250 401h2M1250 644h2M1250 662h2M1250 665h2M1250 678h2M1250 705h2M1250 706h2M1250 710h2M1250 715h2M1250 723h2M1250 727h2M1250 733h2M1250 743h2M1250 748h2M1250 752h2M1250 754h2M1250 765h2M1250 766h2M1250 773h2M1250 782h2M1250 787h2M1250 790h2M1250 791h2M1250 792h2M1250 793h2M1250 794h2M1251 379h2M1251 391h2M1251 395h2M1251 398h2M1251 400h2M1251 640h2M1251 656h2M1251 659h2M1251 681h2M1251 699h2M1251 703h2M1251 704h2M1251 707h2M1251 710h2M1251 711h2M1251 717h2M1251 718h2M1251 720h2M1251 726h2M1251 733h2M1251 737h2M1251 741h2M1251 742h2M1251 747h2M1251 748h2M1251 750h2M1251 751h2M1251 753h2M1251 758h2M1251 768h2M1251 769h2M1251 770h2M1251 773h2M1251 775h2M1251 776h2M1251 777h2M1251 780h2M1251 787h2M1251 788h2M1251 789h2M1251 790h2M1251 791h2M1251 795h2M1252 372h2M1252 561h2M1252 604h2M1252 663h2M1252 665h2M1252 706h2M1252 712h2M1252 722h2M1252 724h2M1252 731h2M1252 734h2M1252 737h2M1252 739h2M1252 740h2M1252 742h2M1252 744h2M1252 745h2M1252 749h2M1252 753h2M1252 754h2M1252 755h2M1252 756h2M1252 763h2M1252 764h2M1252 765h2M1252 766h2M1252 770h2M1252 771h2M1252 772h2M1252 774h2M1252 777h2M1252 778h2M1252 779h2M1252 783h2M1252 784h2M1252 785h2M1252 789h2M1252 790h2M1252 791h2M1252 792h2M1252 793h2M1252 794h2M1253 389h2M1253 390h2M1253 396h2M1253 640h2M1253 671h2M1253 694h2M1253 700h2M1253 710h2M1253 726h2M1253 727h2M1253 728h2M1253 731h2M1253 732h2M1253 740h2M1253 743h2M1253 748h2M1253 751h2M1253 754h2M1253 756h2M1253 762h2M1253 765h2M1253 766h2M1253 774h2M1253 777h2M1253 781h2M1253 782h2M1253 783h2M1253 785h2M1253 787h2M1253 789h2M1253 790h2M1253 791h2M1253 793h2M1254 361h2M1254 383h2M1254 385h2M1254 393h2M1254 396h2M1254 399h2M1254 400h2M1254 401h2M1254 424h2M1254 546h2M1254 607h2M1254 663h2M1254 680h2M1254 684h2M1254 698h2M1254 699h2M1254 707h2M1254 710h2M1254 719h2M1254 724h2M1254 727h2M1254 734h2M1254 739h2M1254 740h2M1254 752h2M1254 755h2M1254 757h2M1254 759h2M1254 761h2M1254 762h2M1254 763h2M1254 770h2M1254 772h2M1254 774h2M1254 781h2M1254 785h2M1254 786h2M1254 788h2M1254 789h2M1254 792h2M1254 793h2M1254 795h2M1255 381h2M1255 383h2M1255 387h2M1255 391h2M1255 392h2M1255 393h2M1255 397h2M1255 403h2M1255 404h2M1255 618h2M1255 651h2M1255 678h2M1255 680h2M1255 690h2M1255 702h2M1255 711h2M1255 712h2M1255 723h2M1255 727h2M1255 730h2M1255 731h2M1255 742h2M1255 743h2M1255 745h2M1255 747h2M1255 750h2M1255 751h2M1255 754h2M1255 756h2M1255 758h2M1255 759h2M1255 765h2M1255 766h2M1255 767h2M1255 775h2M1255 777h2M1255 780h2M1255 782h2M1255 785h2M1256 354h2M1256 358h2M1256 386h2M1256 392h2M1256 393h2M1256 586h2M1256 642h2M1256 644h2M1256 669h2M1256 678h2M1256 704h2M1256 716h2M1256 726h2M1256 727h2M1256 736h2M1256 739h2M1256 741h2M1256 749h2M1256 750h2M1256 751h2M1256 752h2M1256 753h2M1256 754h2M1256 755h2M1256 760h2M1256 764h2M1256 772h2M1256 773h2M1256 774h2M1256 780h2M1256 784h2M1256 785h2M1256 787h2M1256 790h2M1257 376h2M1257 393h2M1257 399h2M1257 400h2M1257 401h2M1257 567h2M1257 583h2M1257 684h2M1257 686h2M1257 687h2M1257 693h2M1257 701h2M1257 715h2M1257 719h2M1257 726h2M1257 728h2M1257 735h2M1257 736h2M1257 738h2M1257 739h2M1257 741h2M1257 742h2M1257 746h2M1257 754h2M1257 757h2M1257 766h2M1257 769h2M1257 777h2M1257 780h2M1257 781h2M1257 785h2M1257 787h2M1257 788h2M1257 789h2M1257 790h2M1257 791h2M1257 795h2M1258 389h2M1258 393h2M1258 629h2M1258 648h2M1258 671h2M1258 705h2M1258 709h2M1258 710h2M1258 713h2M1258 721h2M1258 726h2M1258 728h2M1258 736h2M1258 738h2M1258 745h2M1258 748h2M1258 749h2M1258 751h2M1258 753h2M1258 754h2M1258 756h2M1258 760h2M1258 776h2M1258 778h2M1258 779h2M1258 781h2M1258 785h2M1258 786h2M1258 787h2M1258 788h2M1258 791h2M1258 793h2M1258 794h2M1258 795h2M1259 361h2M1259 376h2M1259 388h2M1259 390h2M1259 397h2M1259 398h2M1259 399h2M1259 410h2M1259 436h2M1259 671h2M1259 702h2M1259 708h2M1259 713h2M1259 714h2M1259 732h2M1259 733h2M1259 738h2M1259 743h2M1259 750h2M1259 751h2M1259 759h2M1259 760h2M1259 764h2M1259 766h2M1259 768h2M1259 778h2M1259 787h2M1259 788h2M1259 790h2M1259 791h2M1259 795h2M1260 379h2M1260 392h2M1260 396h2M1260 694h2M1260 695h2M1260 699h2M1260 705h2M1260 709h2M1260 713h2M1260 715h2M1260 719h2M1260 723h2M1260 724h2M1260 729h2M1260 730h2M1260 738h2M1260 743h2M1260 752h2M1260 764h2M1260 766h2M1260 773h2M1260 775h2M1260 780h2M1260 782h2M1260 785h2M1260 787h2M1260 789h2M1260 790h2M1260 791h2M1260 792h2M1260 793h2M1260 795h2M1261 300h2M1261 379h2M1261 381h2M1261 383h2M1261 389h2M1261 393h2M1261 394h2M1261 395h2M1261 523h2M1261 629h2M1261 688h2M1261 727h2M1261 732h2M1261 742h2M1261 752h2M1261 761h2M1261 769h2M1261 772h2M1261 773h2M1261 775h2M1261 776h2M1261 779h2M1261 782h2M1261 784h2M1261 785h2M1261 786h2M1261 787h2M1261 789h2M1261 792h2M1261 793h2M1261 795h2M1262 358h2M1262 371h2M1262 375h2M1262 385h2M1262 387h2M1262 394h2M1262 412h2M1262 450h2M1262 553h2M1262 599h2M1262 653h2M1262 702h2M1262 711h2M1262 718h2M1262 724h2M1262 725h2M1262 729h2M1262 747h2M1262 750h2M1262 753h2M1262 762h2M1262 772h2M1262 777h2M1262 781h2M1262 788h2M1262 791h2M1262 792h2M1262 794h2M1263 380h2M1263 381h2M1263 387h2M1263 402h2M1263 406h2M1263 595h2M1263 603h2M1263 613h2M1263 619h2M1263 676h2M1263 684h2M1263 695h2M1263 698h2M1263 708h2M1263 709h2M1263 716h2M1263 721h2M1263 729h2M1263 737h2M1263 747h2M1263 751h2M1263 752h2M1263 758h2M1263 760h2M1263 761h2M1263 768h2M1263 771h2M1263 777h2M1263 781h2M1263 785h2M1263 788h2M1263 792h2M1263 793h2M1263 795h2M1264 378h2M1264 379h2M1264 380h2M1264 385h2M1264 387h2M1264 388h2M1264 395h2M1264 402h2M1264 407h2M1264 614h2M1264 652h2M1264 672h2M1264 720h2M1264 729h2M1264 730h2M1264 736h2M1264 737h2M1264 740h2M1264 741h2M1264 745h2M1264 746h2M1264 752h2M1264 753h2M1264 757h2M1264 760h2M1264 763h2M1264 771h2M1264 773h2M1264 776h2M1264 778h2M1264 779h2M1264 780h2M1264 793h2M1264 795h2M1265 374h2M1265 379h2M1265 381h2M1265 384h2M1265 385h2M1265 390h2M1265 395h2M1265 398h2M1265 403h2M1265 680h2M1265 683h2M1265 696h2M1265 705h2M1265 712h2M1265 720h2M1265 723h2M1265 732h2M1265 735h2M1265 739h2M1265 745h2M1265 748h2M1265 749h2M1265 753h2M1265 754h2M1265 763h2M1265 766h2M1265 769h2M1265 770h2M1265 771h2M1265 773h2M1265 775h2M1265 783h2M1265 784h2M1265 787h2M1265 794h2M1265 795h2M1266 328h2M1266 368h2M1266 383h2M1266 385h2M1266 390h2M1266 391h2M1266 398h2M1266 399h2M1266 424h2M1266 575h2M1266 675h2M1266 679h2M1266 690h2M1266 691h2M1266 695h2M1266 712h2M1266 736h2M1266 748h2M1266 756h2M1266 759h2M1266 762h2M1266 763h2M1266 764h2M1266 768h2M1266 771h2M1266 777h2M1266 781h2M1266 784h2M1266 785h2M1266 787h2M1266 788h2M1266 789h2M1266 790h2M1266 792h2M1266 794h2M1266 795h2M1267 364h2M1267 378h2M1267 386h2M1267 388h2M1267 391h2M1267 396h2M1267 397h2M1267 405h2M1267 411h2M1267 497h2M1267 508h2M1267 604h2M1267 625h2M1267 631h2M1267 649h2M1267 676h2M1267 689h2M1267 695h2M1267 704h2M1267 708h2M1267 713h2M1267 718h2M1267 721h2M1267 735h2M1267 738h2M1267 746h2M1267 759h2M1267 764h2M1267 771h2M1267 775h2M1267 779h2M1267 780h2M1267 781h2M1267 782h2M1267 783h2M1267 785h2M1267 788h2M1267 789h2M1267 790h2M1267 794h2M1267 795h2M1268 380h2M1268 381h2M1268 385h2M1268 390h2M1268 391h2M1268 395h2M1268 397h2M1268 398h2M1268 399h2M1268 402h2M1268 414h2M1268 540h2M1268 541h2M1268 565h2M1268 715h2M1268 717h2M1268 724h2M1268 737h2M1268 739h2M1268 746h2M1268 752h2M1268 764h2M1268 767h2M1268 780h2M1268 781h2M1268 783h2M1268 788h2M1268 792h2M1268 793h2M1268 794h2M1269 328h2M1269 379h2M1269 381h2M1269 383h2M1269 385h2M1269 386h2M1269 387h2M1269 388h2M1269 389h2M1269 391h2M1269 571h2M1269 674h2M1269 677h2M1269 690h2M1269 696h2M1269 709h2M1269 724h2M1269 742h2M1269 745h2M1269 748h2M1269 749h2M1269 756h2M1269 759h2M1269 763h2M1269 764h2M1269 768h2M1269 777h2M1269 780h2M1269 781h2M1269 782h2M1269 792h2M1269 794h2M1269 795h2M1270 353h2M1270 364h2M1270 367h2M1270 369h2M1270 382h2M1270 383h2M1270 384h2M1270 385h2M1270 387h2M1270 389h2M1270 392h2M1270 393h2M1270 400h2M1270 426h2M1270 560h2M1270 566h2M1270 567h2M1270 573h2M1270 650h2M1270 664h2M1270 671h2M1270 681h2M1270 684h2M1270 688h2M1270 703h2M1270 712h2M1270 714h2M1270 723h2M1270 725h2M1270 729h2M1270 730h2M1270 747h2M1270 756h2M1270 759h2M1270 768h2M1270 771h2M1270 778h2M1270 782h2M1270 783h2M1270 784h2M1270 790h2M1270 793h2M1270 795h2M1271 294h2M1271 359h2M1271 378h2M1271 380h2M1271 382h2M1271 384h2M1271 390h2M1271 391h2M1271 393h2M1271 395h2M1271 403h2M1271 408h2M1271 409h2M1271 585h2M1271 624h2M1271 643h2M1271 646h2M1271 663h2M1271 669h2M1271 678h2M1271 689h2M1271 692h2M1271 698h2M1271 702h2M1271 708h2M1271 710h2M1271 711h2M1271 715h2M1271 723h2M1271 738h2M1271 742h2M1271 752h2M1271 759h2M1271 766h2M1271 775h2M1271 776h2M1271 783h2M1271 787h2M1271 792h2M1271 795h2M1272 351h2M1272 369h2M1272 375h2M1272 382h2M1272 385h2M1272 388h2M1272 389h2M1272 391h2M1272 392h2M1272 396h2M1272 398h2M1272 401h2M1272 402h2M1272 406h2M1272 407h2M1272 410h2M1272 473h2M1272 669h2M1272 690h2M1272 702h2M1272 715h2M1272 716h2M1272 722h2M1272 725h2M1272 726h2M1272 727h2M1272 735h2M1272 740h2M1272 742h2M1272 754h2M1272 755h2M1272 759h2M1272 762h2M1272 767h2M1272 770h2M1272 774h2M1272 775h2M1272 783h2M1272 785h2M1272 794h2M1273 365h2M1273 371h2M1273 375h2M1273 378h2M1273 379h2M1273 381h2M1273 384h2M1273 385h2M1273 386h2M1273 389h2M1273 391h2M1273 394h2M1273 400h2M1273 609h2M1273 715h2M1273 731h2M1273 736h2M1273 738h2M1273 743h2M1273 747h2M1273 768h2M1273 770h2M1273 774h2M1273 778h2M1273 780h2M1273 783h2M1273 784h2M1273 785h2M1273 787h2M1273 788h2M1273 789h2M1273 793h2M1273 794h2M1273 795h2M1274 363h2M1274 370h2M1274 371h2M1274 372h2M1274 377h2M1274 378h2M1274 379h2M1274 381h2M1274 383h2M1274 384h2M1274 385h2M1274 387h2M1274 390h2M1274 391h2M1274 392h2M1274 394h2M1274 396h2M1274 397h2M1274 399h2M1274 416h2M1274 576h2M1274 607h2M1274 632h2M1274 661h2M1274 676h2M1274 688h2M1274 691h2M1274 695h2M1274 700h2M1274 704h2M1274 713h2M1274 725h2M1274 730h2M1274 735h2M1274 749h2M1274 750h2M1274 759h2M1274 763h2M1274 770h2M1274 771h2M1274 773h2M1274 785h2M1274 789h2M1274 790h2M1275 361h2M1275 363h2M1275 371h2M1275 372h2M1275 377h2M1275 380h2M1275 381h2M1275 388h2M1275 389h2M1275 395h2M1275 405h2M1275 663h2M1275 746h2M1275 748h2M1275 749h2M1275 750h2M1275 752h2M1275 766h2M1275 769h2M1275 775h2M1275 776h2M1275 783h2M1275 789h2M1275 790h2M1275 791h2M1275 792h2M1275 793h2M1276 356h2M1276 365h2M1276 366h2M1276 372h2M1276 376h2M1276 378h2M1276 379h2M1276 384h2M1276 385h2M1276 386h2M1276 387h2M1276 388h2M1276 390h2M1276 391h2M1276 392h2M1276 395h2M1276 396h2M1276 432h2M1276 684h2M1276 696h2M1276 732h2M1276 733h2M1276 737h2M1276 742h2M1276 743h2M1276 745h2M1276 747h2M1276 748h2M1276 754h2M1276 764h2M1276 770h2M1276 771h2M1276 773h2M1276 777h2M1276 781h2M1276 783h2M1276 785h2M1276 787h2M1276 791h2M1276 792h2M1276 795h2M1277 370h2M1277 380h2M1277 382h2M1277 384h2M1277 386h2M1277 389h2M1277 390h2M1277 392h2M1277 393h2M1277 395h2M1277 397h2M1277 399h2M1277 482h2M1277 609h2M1277 699h2M1277 718h2M1277 730h2M1277 731h2M1277 738h2M1277 741h2M1277 754h2M1277 756h2M1277 766h2M1277 770h2M1277 778h2M1277 779h2M1277 784h2M1277 786h2M1277 790h2M1277 791h2M1278 372h2M1278 381h2M1278 384h2M1278 386h2M1278 388h2M1278 391h2M1278 392h2M1278 395h2M1278 396h2M1278 399h2M1278 403h2M1278 675h2M1278 723h2M1278 724h2M1278 726h2M1278 733h2M1278 734h2M1278 735h2M1278 739h2M1278 747h2M1278 756h2M1278 766h2M1278 772h2M1278 774h2M1278 775h2M1278 776h2M1278 779h2M1278 781h2M1278 785h2M1278 787h2M1278 792h2M1279 374h2M1279 377h2M1279 380h2M1279 389h2M1279 391h2M1279 393h2M1279 396h2M1279 403h2M1279 427h2M1279 628h2M1279 654h2M1279 687h2M1279 693h2M1279 698h2M1279 728h2M1279 733h2M1279 741h2M1279 742h2M1279 746h2M1279 750h2M1279 756h2M1279 759h2M1279 761h2M1279 764h2M1279 768h2M1279 770h2M1279 774h2M1280 357h2M1280 372h2M1280 375h2M1280 379h2M1280 381h2M1280 384h2M1280 385h2M1280 386h2M1280 387h2M1280 388h2M1280 391h2M1280 393h2M1280 394h2M1280 397h2M1280 400h2M1280 401h2M1280 699h2M1280 707h2M1280 711h2M1280 718h2M1280 726h2M1280 731h2M1280 738h2M1280 740h2M1280 754h2M1280 759h2M1280 765h2M1280 772h2M1280 776h2M1280 777h2M1280 785h2M1280 786h2M1280 788h2M1280 789h2M1281 371h2M1281 372h2M1281 373h2M1281 375h2M1281 378h2M1281 379h2M1281 380h2M1281 381h2M1281 382h2M1281 383h2M1281 384h2M1281 385h2M1281 386h2M1281 387h2M1281 389h2M1281 390h2M1281 391h2M1281 394h2M1281 396h2M1281 398h2M1281 404h2M1281 419h2M1281 570h2M1281 584h2M1281 716h2M1281 730h2M1281 744h2M1281 751h2M1281 762h2M1281 765h2M1281 769h2M1281 789h2M1281 791h2M1281 794h2M1281 795h2M1282 360h2M1282 375h2M1282 380h2M1282 381h2M1282 385h2M1282 389h2M1282 391h2M1282 392h2M1282 394h2M1282 396h2M1282 402h2M1282 404h2M1282 561h2M1282 704h2M1282 718h2M1282 724h2M1282 734h2M1282 743h2M1282 752h2M1282 760h2M1282 765h2M1282 766h2M1282 771h2M1282 783h2M1282 785h2M1282 792h2M1282 793h2M1282 794h2M1283 352h2M1283 364h2M1283 378h2M1283 382h2M1283 383h2M1283 384h2M1283 385h2M1283 388h2M1283 389h2M1283 390h2M1283 391h2M1283 394h2M1283 398h2M1283 406h2M1283 460h2M1283 572h2M1283 671h2M1283 682h2M1283 710h2M1283 722h2M1283 735h2M1283 738h2M1283 739h2M1283 746h2M1283 750h2M1283 751h2M1283 764h2M1283 766h2M1283 777h2M1283 782h2M1283 788h2M1283 791h2M1284 362h2M1284 373h2M1284 376h2M1284 377h2M1284 379h2M1284 380h2M1284 382h2M1284 383h2M1284 384h2M1284 388h2M1284 392h2M1284 393h2M1284 394h2M1284 396h2M1284 397h2M1284 502h2M1284 728h2M1284 739h2M1284 742h2M1284 753h2M1284 788h2M1284 791h2M1284 793h2M1284 795h2M1285 366h2M1285 368h2M1285 374h2M1285 375h2M1285 379h2M1285 380h2M1285 384h2M1285 385h2M1285 386h2M1285 387h2M1285 389h2M1285 391h2M1285 392h2M1285 393h2M1285 396h2M1285 400h2M1285 418h2M1285 624h2M1285 685h2M1285 686h2M1285 717h2M1285 718h2M1285 720h2M1285 721h2M1285 727h2M1285 732h2M1285 757h2M1285 776h2M1285 780h2M1285 783h2M1285 784h2M1285 785h2M1285 793h2M1286 359h2M1286 372h2M1286 374h2M1286 377h2M1286 379h2M1286 381h2M1286 384h2M1286 385h2M1286 387h2M1286 388h2M1286 389h2M1286 391h2M1286 392h2M1286 393h2M1286 602h2M1286 649h2M1286 650h2M1286 680h2M1286 681h2M1286 689h2M1286 692h2M1286 724h2M1286 743h2M1286 753h2M1286 756h2M1286 758h2M1286 763h2M1286 771h2M1286 772h2M1287 359h2M1287 374h2M1287 379h2M1287 380h2M1287 381h2M1287 382h2M1287 383h2M1287 384h2M1287 386h2M1287 387h2M1287 388h2M1287 389h2M1287 390h2M1287 391h2M1287 392h2M1287 393h2M1287 395h2M1287 585h2M1287 628h2M1287 675h2M1287 690h2M1287 724h2M1287 753h2M1287 759h2M1287 766h2M1287 772h2M1287 776h2M1287 779h2M1287 784h2M1287 789h2M1288 322h2M1288 362h2M1288 377h2M1288 379h2M1288 381h2M1288 382h2M1288 384h2M1288 385h2M1288 386h2M1288 387h2M1288 388h2M1288 389h2M1288 390h2M1288 391h2M1288 394h2M1288 395h2M1288 618h2M1288 633h2M1288 662h2M1288 693h2M1288 699h2M1288 729h2M1288 737h2M1288 750h2M1288 753h2M1288 756h2M1288 757h2M1288 763h2M1288 773h2M1288 785h2M1288 786h2M1288 792h2M1289 372h2M1289 375h2M1289 376h2M1289 377h2M1289 379h2M1289 381h2M1289 384h2M1289 385h2M1289 386h2M1289 387h2M1289 388h2M1289 389h2M1289 391h2M1289 392h2M1289 394h2M1289 395h2M1289 398h2M1289 414h2M1289 641h2M1289 646h2M1289 724h2M1289 752h2M1289 753h2M1289 760h2M1289 769h2M1289 771h2M1289 772h2M1289 775h2M1289 778h2M1289 780h2M1289 790h2M1289 793h2M1289 795h2M1290 370h2M1290 374h2M1290 376h2M1290 377h2M1290 379h2M1290 380h2M1290 381h2M1290 382h2M1290 384h2M1290 385h2M1290 386h2M1290 387h2M1290 390h2M1290 393h2M1290 395h2M1290 399h2M1290 401h2M1290 402h2M1290 605h2M1290 646h2M1290 658h2M1290 717h2M1290 739h2M1290 745h2M1290 748h2M1290 751h2M1290 761h2M1290 766h2M1290 769h2M1290 778h2M1290 783h2M1290 792h2M1291 362h2M1291 372h2M1291 373h2M1291 375h2M1291 376h2M1291 378h2M1291 381h2M1291 383h2M1291 384h2M1291 387h2M1291 391h2M1291 394h2M1291 396h2M1291 397h2M1291 399h2M1291 417h2M1291 554h2M1291 559h2M1291 687h2M1291 751h2M1291 755h2M1291 770h2M1291 771h2M1291 778h2M1291 782h2M1291 784h2M1292 358h2M1292 366h2M1292 369h2M1292 371h2M1292 373h2M1292 374h2M1292 375h2M1292 376h2M1292 377h2M1292 379h2M1292 382h2M1292 384h2M1292 385h2M1292 387h2M1292 388h2M1292 389h2M1292 390h2M1292 392h2M1292 395h2M1292 420h2M1292 696h2M1292 716h2M1292 742h2M1292 756h2M1292 757h2M1292 766h2M1292 781h2M1292 783h2M1292 789h2M1293 349h2M1293 360h2M1293 365h2M1293 368h2M1293 376h2M1293 377h2M1293 379h2M1293 380h2M1293 383h2M1293 384h2M1293 386h2M1293 387h2M1293 389h2M1293 392h2M1293 395h2M1293 400h2M1293 552h2M1293 560h2M1293 742h2M1293 744h2M1293 745h2M1293 748h2M1293 752h2M1293 755h2M1293 759h2M1293 765h2M1293 769h2M1293 771h2M1293 783h2M1293 786h2M1293 794h2M1294 347h2M1294 367h2M1294 372h2M1294 377h2M1294 378h2M1294 380h2M1294 381h2M1294 382h2M1294 383h2M1294 384h2M1294 385h2M1294 387h2M1294 389h2M1294 391h2M1294 392h2M1294 394h2M1294 399h2M1294 401h2M1294 611h2M1294 619h2M1294 626h2M1294 749h2M1294 752h2M1294 784h2M1294 794h2M1295 356h2M1295 359h2M1295 368h2M1295 371h2M1295 377h2M1295 379h2M1295 381h2M1295 383h2M1295 384h2M1295 385h2M1295 386h2M1295 387h2M1295 388h2M1295 389h2M1295 390h2M1295 391h2M1295 393h2M1295 394h2M1295 395h2M1295 402h2M1295 404h2M1295 460h2M1295 644h2M1295 702h2M1295 758h2M1295 761h2M1295 768h2M1295 771h2M1295 782h2M1296 347h2M1296 361h2M1296 363h2M1296 369h2M1296 374h2M1296 377h2M1296 378h2M1296 379h2M1296 381h2M1296 383h2M1296 385h2M1296 386h2M1296 388h2M1296 390h2M1296 391h2M1296 393h2M1296 394h2M1296 395h2M1296 397h2M1296 401h2M1296 515h2M1296 581h2M1296 587h2M1296 687h2M1296 693h2M1296 717h2M1296 721h2M1296 738h2M1296 778h2M1296 780h2M1296 790h2M1296 791h2M1297 363h2M1297 365h2M1297 367h2M1297 373h2M1297 374h2M1297 375h2M1297 376h2M1297 378h2M1297 379h2M1297 380h2M1297 381h2M1297 382h2M1297 384h2M1297 386h2M1297 388h2M1297 392h2M1297 395h2M1297 398h2M1297 634h2M1297 700h2M1297 705h2M1297 734h2M1297 746h2M1297 759h2M1297 762h2M1297 771h2M1297 773h2M1298 345h2M1298 360h2M1298 361h2M1298 369h2M1298 372h2M1298 375h2M1298 377h2M1298 381h2M1298 382h2M1298 383h2M1298 384h2M1298 386h2M1298 387h2M1298 388h2M1298 391h2M1298 392h2M1298 393h2M1298 399h2M1298 400h2M1298 405h2M1298 671h2M1298 725h2M1298 744h2M1298 749h2M1298 751h2M1298 779h2M1298 787h2M1298 790h2M1299 334h2M1299 371h2M1299 372h2M1299 377h2M1299 378h2M1299 382h2M1299 383h2M1299 384h2M1299 385h2M1299 386h2M1299 387h2M1299 388h2M1299 390h2M1299 391h2M1299 393h2M1299 397h2M1299 398h2M1299 399h2M1299 410h2M1299 415h2M1299 693h2M1299 712h2M1299 718h2M1299 723h2M1299 731h2M1299 736h2M1299 737h2M1299 752h2M1299 792h2M1300 369h2M1300 370h2M1300 372h2M1300 373h2M1300 376h2M1300 377h2M1300 378h2M1300 379h2M1300 380h2M1300 381h2M1300 382h2M1300 383h2M1300 385h2M1300 386h2M1300 387h2M1300 388h2M1300 389h2M1300 390h2M1300 391h2M1300 393h2M1300 394h2M1300 396h2M1300 660h2M1300 716h2M1300 741h2M1300 746h2M1300 747h2M1300 756h2M1300 763h2M1300 765h2M1300 767h2M1300 782h2M1300 795h2M1301 364h2M1301 370h2M1301 371h2M1301 373h2M1301 376h2M1301 379h2M1301 380h2M1301 381h2M1301 382h2M1301 383h2M1301 384h2M1301 385h2M1301 386h2M1301 387h2M1301 389h2M1301 390h2M1301 391h2M1301 393h2M1301 395h2M1301 398h2M1301 609h2M1301 706h2M1301 741h2M1301 777h2M1302 374h2M1302 375h2M1302 376h2M1302 379h2M1302 381h2M1302 382h2M1302 383h2M1302 384h2M1302 385h2M1302 386h2M1302 387h2M1302 389h2M1302 390h2M1302 391h2M1302 392h2M1302 394h2M1302 396h2M1302 400h2M1302 406h2M1302 663h2M1302 695h2M1302 702h2M1302 708h2M1302 749h2M1302 753h2M1302 757h2M1302 762h2M1302 773h2M1302 777h2M1303 354h2M1303 360h2M1303 369h2M1303 374h2M1303 376h2M1303 377h2M1303 378h2M1303 380h2M1303 381h2M1303 383h2M1303 384h2M1303 385h2M1303 386h2M1303 390h2M1303 392h2M1303 394h2M1303 395h2M1303 396h2M1303 404h2M1303 410h2M1303 570h2M1303 629h2M1303 651h2M1303 726h2M1303 739h2M1303 769h2M1304 364h2M1304 366h2M1304 368h2M1304 369h2M1304 374h2M1304 375h2M1304 377h2M1304 378h2M1304 379h2M1304 380h2M1304 381h2M1304 382h2M1304 383h2M1304 384h2M1304 385h2M1304 387h2M1304 388h2M1304 392h2M1304 393h2M1304 395h2M1304 399h2M1304 598h2M1304 726h2M1304 728h2M1304 766h2M1304 769h2M1304 782h2M1304 786h2M1304 789h2M1304 793h2M1304 794h2M1305 366h2M1305 369h2M1305 371h2M1305 372h2M1305 373h2M1305 374h2M1305 375h2M1305 377h2M1305 378h2M1305 381h2M1305 382h2M1305 383h2M1305 384h2M1305 385h2M1305 387h2M1305 389h2M1305 391h2M1305 393h2M1305 643h2M1305 666h2M1305 709h2M1305 744h2M1305 750h2M1305 753h2M1305 765h2M1305 770h2M1305 773h2M1306 355h2M1306 360h2M1306 363h2M1306 365h2M1306 366h2M1306 371h2M1306 374h2M1306 375h2M1306 376h2M1306 377h2M1306 378h2M1306 380h2M1306 381h2M1306 383h2M1306 384h2M1306 386h2M1306 387h2M1306 388h2M1306 391h2M1306 392h2M1306 397h2M1306 400h2M1306 402h2M1306 484h2M1306 645h2M1306 707h2M1306 720h2M1306 754h2M1306 764h2M1306 788h2M1306 791h2M1307 361h2M1307 368h2M1307 371h2M1307 372h2M1307 373h2M1307 374h2M1307 375h2M1307 377h2M1307 379h2M1307 380h2M1307 382h2M1307 385h2M1307 387h2M1307 388h2M1307 389h2M1307 390h2M1307 391h2M1307 395h2M1307 399h2M1307 400h2M1307 412h2M1307 498h2M1307 604h2M1307 685h2M1307 749h2M1307 791h2M1308 345h2M1308 359h2M1308 362h2M1308 365h2M1308 369h2M1308 371h2M1308 372h2M1308 373h2M1308 374h2M1308 376h2M1308 377h2M1308 378h2M1308 379h2M1308 380h2M1308 381h2M1308 382h2M1308 384h2M1308 386h2M1308 387h2M1308 388h2M1308 389h2M1308 392h2M1308 393h2M1308 397h2M1308 398h2M1308 457h2M1308 552h2M1308 666h2M1308 726h2M1308 770h2M1308 782h2M1308 794h2M1309 362h2M1309 364h2M1309 365h2M1309 369h2M1309 370h2M1309 371h2M1309 373h2M1309 374h2M1309 375h2M1309 377h2M1309 378h2M1309 380h2M1309 382h2M1309 384h2M1309 385h2M1309 386h2M1309 388h2M1309 389h2M1309 390h2M1309 391h2M1309 394h2M1309 633h2M1309 634h2M1309 680h2M1309 727h2M1309 750h2M1309 778h2M1309 787h2M1309 794h2M1310 335h2M1310 353h2M1310 359h2M1310 369h2M1310 370h2M1310 372h2M1310 375h2M1310 377h2M1310 379h2M1310 380h2M1310 381h2M1310 382h2M1310 384h2M1310 385h2M1310 387h2M1310 389h2M1310 390h2M1310 396h2M1310 409h2M1310 562h2M1310 652h2M1310 675h2M1310 676h2M1310 748h2M1310 761h2M1311 366h2M1311 370h2M1311 371h2M1311 373h2M1311 375h2M1311 376h2M1311 377h2M1311 380h2M1311 381h2M1311 382h2M1311 384h2M1311 387h2M1311 388h2M1311 390h2M1311 391h2M1311 395h2M1311 397h2M1311 399h2M1311 429h2M1311 572h2M1311 590h2M1311 643h2M1311 689h2M1311 690h2M1311 734h2M1311 737h2M1311 769h2M1311 788h2M1311 789h2M1311 791h2M1312 354h2M1312 361h2M1312 371h2M1312 372h2M1312 373h2M1312 374h2M1312 376h2M1312 377h2M1312 378h2M1312 379h2M1312 381h2M1312 382h2M1312 384h2M1312 387h2M1312 388h2M1312 390h2M1312 391h2M1312 392h2M1312 514h2M1312 659h2M1312 794h2M1313 331h2M1313 361h2M1313 368h2M1313 370h2M1313 371h2M1313 373h2M1313 374h2M1313 375h2M1313 377h2M1313 378h2M1313 379h2M1313 380h2M1313 381h2M1313 383h2M1313 384h2M1313 385h2M1313 386h2M1313 387h2M1313 388h2M1313 389h2M1313 390h2M1313 620h2M1313 698h2M1314 356h2M1314 361h2M1314 369h2M1314 370h2M1314 372h2M1314 373h2M1314 374h2M1314 375h2M1314 376h2M1314 377h2M1314 378h2M1314 379h2M1314 380h2M1314 381h2M1314 382h2M1314 383h2M1314 386h2M1314 392h2M1314 394h2M1314 401h2M1314 523h2M1314 527h2M1314 549h2M1314 557h2M1314 746h2M1314 769h2M1314 786h2M1314 788h2M1314 791h2M1315 363h2M1315 364h2M1315 366h2M1315 368h2M1315 369h2M1315 370h2M1315 372h2M1315 373h2M1315 374h2M1315 375h2M1315 376h2M1315 377h2M1315 380h2M1315 381h2M1315 382h2M1315 383h2M1315 384h2M1315 385h2M1315 386h2M1315 388h2M1315 389h2M1315 392h2M1315 395h2M1315 396h2M1315 420h2M1315 451h2M1315 600h2M1315 741h2M1315 787h2M1315 789h2M1315 793h2M1316 293h2M1316 362h2M1316 364h2M1316 369h2M1316 373h2M1316 375h2M1316 377h2M1316 378h2M1316 379h2M1316 384h2M1316 385h2M1316 389h2M1316 390h2M1316 391h2M1316 396h2M1316 593h2M1316 627h2M1316 677h2M1316 699h2M1316 722h2M1317 324h2M1317 364h2M1317 367h2M1317 370h2M1317 372h2M1317 373h2M1317 374h2M1317 375h2M1317 376h2M1317 378h2M1317 379h2M1317 380h2M1317 382h2M1317 383h2M1317 384h2M1317 385h2M1317 386h2M1317 387h2M1317 388h2M1317 515h2M1317 534h2M1317 558h2M1317 561h2M1317 611h2M1317 617h2M1317 636h2M1317 686h2M1318 362h2M1318 363h2M1318 366h2M1318 368h2M1318 370h2M1318 374h2M1318 375h2M1318 377h2M1318 378h2M1318 379h2M1318 381h2M1318 382h2M1318 383h2M1318 392h2M1318 475h2M1318 641h2M1318 714h2M1318 731h2M1319 356h2M1319 367h2M1319 375h2M1319 376h2M1319 377h2M1319 378h2M1319 380h2M1319 381h2M1319 382h2M1319 383h2M1319 384h2M1319 385h2M1319 386h2M1319 389h2M1319 563h2M1319 699h2M1319 786h2M1320 362h2M1320 366h2M1320 368h2M1320 369h2M1320 370h2M1320 371h2M1320 372h2M1320 374h2M1320 375h2M1320 376h2M1320 377h2M1320 378h2M1320 379h2M1320 381h2M1320 382h2M1320 384h2M1320 385h2M1320 387h2M1320 388h2M1320 390h2M1320 391h2M1320 397h2M1320 488h2M1320 552h2M1320 583h2M1320 727h2M1320 732h2M1321 350h2M1321 357h2M1321 359h2M1321 361h2M1321 364h2M1321 365h2M1321 366h2M1321 367h2M1321 370h2M1321 373h2M1321 374h2M1321 377h2M1321 378h2M1321 379h2M1321 380h2M1321 381h2M1321 382h2M1321 386h2M1321 669h2M1321 747h2M1322 348h2M1322 361h2M1322 363h2M1322 369h2M1322 370h2M1322 372h2M1322 375h2M1322 377h2M1322 379h2M1322 380h2M1322 381h2M1322 383h2M1322 385h2M1322 387h2M1322 388h2M1322 389h2M1322 391h2M1322 392h2M1322 394h2M1322 562h2M1322 781h2M1323 357h2M1323 367h2M1323 369h2M1323 371h2M1323 373h2M1323 374h2M1323 376h2M1323 377h2M1323 378h2M1323 379h2M1323 380h2M1323 382h2M1323 385h2M1323 386h2M1323 387h2M1323 388h2M1323 390h2M1323 417h2M1323 627h2M1323 789h2M1323 790h2M1323 792h2M1324 324h2M1324 358h2M1324 359h2M1324 361h2M1324 369h2M1324 371h2M1324 372h2M1324 373h2M1324 374h2M1324 375h2M1324 378h2M1324 379h2M1324 380h2M1324 381h2M1324 384h2M1324 386h2M1324 391h2M1324 422h2M1324 525h2M1324 586h2M1324 610h2M1324 617h2M1324 744h2M1324 772h2M1324 787h2M1325 344h2M1325 365h2M1325 368h2M1325 370h2M1325 371h2M1325 376h2M1325 378h2M1325 379h2M1325 382h2M1325 384h2M1325 387h2M1325 389h2M1325 391h2M1325 394h2M1325 504h2M1325 625h2M1325 672h2M1325 723h2M1325 776h2M1325 784h2M1326 352h2M1326 358h2M1326 363h2M1326 369h2M1326 370h2M1326 372h2M1326 373h2M1326 374h2M1326 375h2M1326 377h2M1326 378h2M1326 379h2M1326 382h2M1326 384h2M1326 388h2M1326 390h2M1327 333h2M1327 348h2M1327 373h2M1327 375h2M1327 376h2M1327 379h2M1327 380h2M1327 387h2M1327 388h2M1327 390h2M1327 392h2M1327 677h2M1327 774h2M1328 366h2M1328 368h2M1328 370h2M1328 371h2M1328 372h2M1328 373h2M1328 374h2M1328 376h2M1328 377h2M1328 378h2M1328 380h2M1328 383h2M1328 406h2M1328 558h2M1328 569h2M1329 353h2M1329 355h2M1329 363h2M1329 367h2M1329 368h2M1329 370h2M1329 371h2M1329 372h2M1329 374h2M1329 375h2M1329 376h2M1329 378h2M1329 379h2M1329 380h2M1329 382h2M1329 383h2M1329 385h2M1329 386h2M1329 389h2M1329 403h2M1329 406h2M1329 447h2M1329 597h2M1329 698h2M1329 756h2M1330 348h2M1330 363h2M1330 368h2M1330 372h2M1330 373h2M1330 375h2M1330 379h2M1330 380h2M1330 381h2M1330 382h2M1330 384h2M1330 389h2M1330 390h2M1330 391h2M1330 484h2M1330 638h2M1330 776h2M1331 342h2M1331 350h2M1331 356h2M1331 365h2M1331 366h2M1331 368h2M1331 369h2M1331 370h2M1331 371h2M1331 372h2M1331 374h2M1331 376h2M1331 377h2M1331 379h2M1331 382h2M1331 386h2M1331 387h2M1331 524h2M1331 707h2M1331 758h2M1332 351h2M1332 357h2M1332 365h2M1332 366h2M1332 367h2M1332 376h2M1332 377h2M1332 378h2M1332 383h2M1332 385h2M1332 386h2M1332 668h2M1332 683h2M1332 750h2M1332 794h2M1333 337h2M1333 348h2M1333 359h2M1333 361h2M1333 366h2M1333 367h2M1333 371h2M1333 372h2M1333 375h2M1333 377h2M1333 378h2M1333 379h2M1333 385h2M1333 386h2M1333 392h2M1333 400h2M1333 530h2M1333 657h2M1334 370h2M1334 375h2M1334 376h2M1334 379h2M1334 382h2M1334 387h2M1335 360h2M1335 361h2M1335 364h2M1335 366h2M1335 368h2M1335 369h2M1335 371h2M1335 372h2M1335 374h2M1335 375h2M1335 376h2M1335 377h2M1335 380h2M1335 382h2M1335 402h2M1335 440h2M1335 461h2M1335 587h2M1335 620h2M1335 723h2M1335 766h2M1336 355h2M1336 366h2M1336 370h2M1336 382h2M1336 387h2M1336 555h2M1337 341h2M1337 351h2M1337 354h2M1337 367h2M1337 370h2M1337 371h2M1337 373h2M1337 374h2M1337 375h2M1337 376h2M1337 377h2M1337 379h2M1337 380h2M1337 389h2M1337 393h2M1337 425h2M1337 757h2M1338 349h2M1338 363h2M1338 368h2M1338 374h2M1338 375h2M1338 381h2M1338 390h2M1338 401h2M1338 408h2M1338 416h2M1339 359h2M1339 364h2M1339 365h2M1339 366h2M1339 368h2M1339 369h2M1339 371h2M1339 372h2M1339 373h2M1339 374h2M1339 378h2M1339 382h2M1339 488h2M1339 542h2M1339 752h2M1340 360h2M1340 365h2M1340 369h2M1340 371h2M1340 373h2M1340 378h2M1340 380h2M1340 381h2M1340 389h2M1340 390h2M1341 350h2M1341 359h2M1341 367h2M1341 368h2M1341 369h2M1341 370h2M1341 371h2M1341 373h2M1341 378h2M1341 380h2M1342 321h2M1342 346h2M1342 362h2M1342 363h2M1342 367h2M1342 368h2M1342 369h2M1342 370h2M1342 376h2M1342 378h2M1342 389h2M1342 566h2M1343 344h2M1343 358h2M1343 362h2M1343 365h2M1343 367h2M1343 368h2M1343 369h2M1343 370h2M1343 371h2M1343 372h2M1343 375h2M1343 376h2M1343 380h2M1343 419h2M1343 625h2M1343 650h2M1343 695h2M1343 696h2M1343 770h2M1344 333h2M1344 359h2M1344 367h2M1344 368h2M1344 373h2M1344 376h2M1344 377h2M1344 378h2M1344 379h2M1344 385h2M1344 387h2M1344 411h2M1344 606h2M1344 684h2M1344 762h2M1345 343h2M1345 357h2M1345 360h2M1345 362h2M1345 366h2M1345 370h2M1345 378h2M1345 392h2M1346 345h2M1346 349h2M1346 352h2M1346 357h2M1346 363h2M1346 366h2M1346 367h2M1346 371h2M1346 372h2M1346 375h2M1346 384h2M1346 385h2M1346 386h2M1346 774h2M1346 779h2M1347 343h2M1347 352h2M1347 364h2M1347 368h2M1347 372h2M1347 374h2M1347 378h2M1347 385h2M1347 402h2M1347 481h2M1347 665h2M1348 370h2M1348 371h2M1348 374h2M1348 377h2M1348 378h2M1348 659h2M1349 350h2M1349 373h2M1349 391h2M1349 394h2M1349 400h2M1350 353h2M1350 366h2M1350 367h2M1350 375h2M1350 618h2M1351 352h2M1351 356h2M1351 358h2M1351 360h2M1351 368h2M1351 373h2M1351 374h2M1351 532h2M1351 617h2M1352 346h2M1352 354h2M1352 362h2M1352 363h2M1352 366h2M1352 368h2M1352 369h2M1352 373h2M1352 375h2M1352 377h2M1352 378h2M1352 379h2M1352 388h2M1352 475h2M1352 505h2M1353 338h2M1353 356h2M1353 358h2M1353 362h2M1353 364h2M1353 365h2M1353 367h2M1353 373h2M1353 389h2M1353 417h2M1353 501h2M1353 640h2M1354 355h2M1354 357h2M1354 363h2M1354 364h2M1354 365h2M1354 366h2M1354 367h2M1354 392h2M1354 635h2M1354 782h2M1355 353h2M1355 359h2M1355 366h2M1355 367h2M1355 370h2M1355 373h2M1355 374h2M1355 391h2M1355 667h2M1356 341h2M1356 355h2M1356 356h2M1356 359h2M1356 361h2M1356 363h2M1356 366h2M1356 368h2M1356 371h2M1356 372h2M1356 384h2M1356 403h2M1357 336h2M1357 352h2M1357 353h2M1357 380h2M1357 542h2M1358 357h2M1358 358h2M1358 374h2M1358 545h2M1359 358h2M1359 362h2M1359 366h2M1359 370h2M1359 371h2M1359 372h2M1359 373h2M1359 396h2M1360 336h2M1360 343h2M1360 352h2M1360 354h2M1360 355h2M1360 357h2M1360 366h2M1360 382h2M1360 391h2M1361 337h2M1361 341h2M1361 368h2M1361 369h2M1361 372h2M1361 374h2M1361 376h2M1361 388h2M1361 399h2M1361 510h2M1362 360h2M1362 365h2M1362 370h2M1362 379h2M1362 435h2M1363 318h2M1363 359h2M1363 363h2M1363 365h2M1363 367h2M1363 374h2M1363 378h2M1363 390h2M1363 440h2M1363 458h2M1364 338h2M1364 348h2M1364 362h2M1364 370h2M1364 371h2M1364 374h2M1364 377h2M1364 381h2M1364 388h2M1365 312h2M1365 319h2M1365 359h2M1365 364h2M1365 366h2M1365 367h2M1365 372h2M1365 382h2M1365 643h2M1365 653h2M1365 681h2M1366 348h2M1366 356h2M1366 362h2M1366 364h2M1366 368h2M1366 379h2M1366 382h2M1367 338h2M1367 347h2M1367 351h2M1367 366h2M1367 376h2M1367 399h2M1367 479h2M1368 356h2M1368 357h2M1368 363h2M1368 375h2M1368 411h2M1368 594h2M1369 326h2M1369 354h2M1369 357h2M1369 364h2M1369 365h2M1369 371h2M1369 377h2M1369 380h2M1369 583h2M1369 746h2M1370 330h2M1370 357h2M1370 370h2M1370 371h2M1370 409h2M1370 445h2M1370 491h2M1370 501h2M1370 587h2M1370 614h2M1370 626h2M1370 690h2M1371 297h2M1371 352h2M1371 353h2M1371 355h2M1371 367h2M1371 371h2M1371 384h2M1371 680h2M1372 356h2M1372 362h2M1372 365h2M1372 373h2M1372 458h2M1373 366h2M1373 368h2M1373 458h2M1373 598h2M1374 325h2M1374 344h2M1374 361h2M1374 365h2M1374 374h2M1374 400h2M1374 535h2M1375 318h2M1375 365h2M1375 383h2M1376 354h2M1376 355h2M1376 373h2M1376 502h2M1376 507h2M1377 331h2M1377 348h2M1377 371h2M1377 435h2M1378 340h2M1378 367h2M1378 369h2M1378 591h2M1379 339h2M1379 361h2M1379 374h2M1380 275h2M1380 305h2M1380 343h2M1380 353h2M1380 357h2M1380 368h2M1380 502h2M1380 534h2M1381 354h2M1381 358h2M1381 498h2M1381 554h2M1383 320h2M1383 359h2M1383 612h2M1384 281h2M1384 353h2M1384 355h2M1384 368h2M1385 329h2M1385 347h2M1385 364h2M1385 365h2M1385 371h2M1385 373h2M1386 373h2M1386 421h2M1387 350h2M1387 358h2M1387 369h2M1387 608h2M1388 335h2M1388 754h2M1389 327h2M1389 355h2M1390 304h2M1390 360h2M1390 364h2M1390 610h2M1391 311h2M1391 344h2M1391 542h2M1391 636h2M1392 335h2M1392 347h2M1392 352h2M1392 361h2M1392 363h2M1393 665h2M1395 336h2M1395 363h2M1395 370h2M1395 608h2M1395 612h2M1395 790h2M1396 337h2M1396 413h2M1396 623h2M1397 369h2M1398 360h2M1398 362h2M1399 347h2M1399 350h2M1399 352h2M1400 339h2M1400 361h2M1400 362h2M1400 603h2M1401 397h2M1402 388h2M1402 389h2M1403 349h2M1403 356h2M1403 358h2M1403 359h2M1403 530h2M1404 381h2M1404 454h2M1404 554h2M1405 301h2M1405 329h2M1405 358h2M1405 376h2M1406 285h2M1406 320h2M1407 365h2M1408 345h2M1408 368h2M1408 371h2M1408 737h2M1409 376h2M1409 743h2M1410 379h2M1411 342h2M1411 368h2M1411 704h2M1412 327h2M1412 367h2M1412 393h2M1413 490h2M1413 566h2M1414 315h2M1414 387h2M1414 513h2M1414 627h2M1415 375h2M1415 420h2M1416 305h2M1416 729h2M1417 405h2M1417 490h2M1419 575h2M1420 346h2M1420 350h2M1420 383h2M1420 384h2M1420 667h2M1422 335h2M1422 346h2M1423 335h2M1423 345h2M1423 380h2M1424 336h2M1426 327h2M1426 348h2M1426 545h2M1426 688h2M1427 360h2M1427 370h2M1427 564h2M1428 338h2M1428 345h2M1428 357h2M1428 361h2M1429 607h2M1430 324h2M1430 347h2M1430 362h2M1430 366h2M1430 367h2M1430 370h2M1430 541h2M1431 374h2M1432 577h2M1432 608h2M1433 569h2M1434 358h2M1434 390h2M1436 321h2M1437 763h2M1438 355h2M1438 363h2M1439 659h2M1439 709h2M1440 439h2M1442 365h2M1442 373h2M1442 404h2M1443 293h2M1443 510h2M1444 348h2M1445 597h2M1446 351h2M1447 431h2M1447 504h2M1447 772h2M1449 345h2M1449 350h2M1449 422h2M1451 401h2M1452 341h2M1453 353h2M1454 349h2M1454 533h2M1455 452h2M1455 716h2M1456 305h2M1458 588h2M1458 594h2M1459 345h2M1459 477h2M1461 321h2M1462 287h2M1462 318h2M1462 354h2M1462 406h2M1462 455h2M1462 457h2M1463 291h2M1464 323h2M1464 760h2M1466 466h2M1466 621h2M1466 786h2M1467 494h2M1469 749h2M1470 634h2M1471 534h2M1471 674h2M1473 399h2M1474 344h2M1475 280h2M1475 304h2M1475 524h2M1475 624h2M1477 301h2M1478 325h2M1478 490h2M1479 274h2M1481 439h2M1484 358h2M1485 510h2M1486 325h2M1486 626h2M1488 402h2M1491 324h2M1496 559h2M1496 616h2M1497 482h2M1498 511h2M1498 639h2M1499 349h2M1503 336h2M1504 514h2M1506 276h2M1508 563h2M1508 716h2M1509 533h2M1510 538h2M1511 338h2M1511 343h2M1511 704h2M1513 276h2M1513 600h2M1514 365h2M1516 385h2M1516 504h2M1516 759h2M1517 324h2M1517 380h2M1519 574h2M1521 374h2M1522 306h2M1522 760h2M1523 457h2M1523 474h2M1523 481h2M1524 675h2M1526 793h2M1527 454h2M1529 431h2M1530 426h2M1532 404h2M1534 465h2M1534 679h2M1535 314h2M1537 332h2M1539 532h2M1539 743h2M1540 454h2M1540 773h2M1541 374h2M1541 696h2M1542 668h2M1546 674h2M1548 632h2M1557 302h2M1558 588h2M1558 689h2M1559 660h2M1560 587h2M1562 595h2M1564 532h2M1568 378h2M1568 677h2M1571 631h2M1572 417h2M1574 547h2M1574 668h2M1575 404h2M1575 515h2M1575 732h2M1579 439h2M1580 329h2M1580 625h2M1583 686h2M1586 559h2M1587 671h2M1591 493h2M1591 532h2M1594 482h2M1597 458h2M1597 744h2M1601 324h2M1608 458h2M1608 748h2M1614 510h2M1615 549h2M1617 344h2M1618 519h2M1621 583h2M1622 326h2M1622 691h2M1626 374h2M1628 526h2M1629 520h2M1629 684h2M1630 369h2M1630 670h2M1635 443h2M1639 685h2M1647 638h2M1648 740h2M1650 522h2M1653 344h2M1654 590h2M1655 474h2M1655 711h2M1662 637h2M1674 555h2M1678 546h2M1679 629h2M1685 504h2M1687 436h2M1690 669h2M1691 523h2M1698 761h2M1700 634h2M1701 537h2M1701 690h2M1708 520h2M1712 465h2M1712 525h2M1727 630h2M1729 442h2M1738 645h2M1742 711h2M1747 568h2M1762 676h2" stroke="#e8421a" stroke-width="2"/><path d="M1140 675h2M1140 744h2M1140 785h2M1140 791h2M1140 792h2M1140 795h2M1140 796h2M1140 814h2M1141 657h2M1141 758h2M1141 781h2M1141 783h2M1141 790h2M1141 793h2M1141 795h2M1141 797h2M1141 800h2M1141 802h2M1141 803h2M1141 804h2M1141 812h2M1142 421h2M1142 454h2M1142 666h2M1142 768h2M1142 778h2M1142 789h2M1142 791h2M1142 796h2M1142 797h2M1142 799h2M1142 801h2M1142 806h2M1143 589h2M1143 746h2M1143 751h2M1143 758h2M1143 782h2M1143 790h2M1143 792h2M1143 795h2M1143 805h2M1143 808h2M1144 727h2M1144 746h2M1144 781h2M1144 786h2M1144 791h2M1144 792h2M1144 793h2M1144 797h2M1144 799h2M1144 800h2M1144 801h2M1144 803h2M1144 805h2M1144 806h2M1144 807h2M1144 812h2M1144 814h2M1145 404h2M1145 752h2M1145 760h2M1145 763h2M1145 772h2M1145 776h2M1145 783h2M1145 785h2M1145 793h2M1145 794h2M1145 798h2M1145 801h2M1145 802h2M1145 803h2M1145 806h2M1145 811h2M1146 641h2M1146 735h2M1146 740h2M1146 782h2M1146 789h2M1146 790h2M1146 792h2M1146 793h2M1146 794h2M1146 801h2M1146 802h2M1146 807h2M1146 808h2M1146 810h2M1147 726h2M1147 739h2M1147 752h2M1147 761h2M1147 779h2M1147 782h2M1147 787h2M1147 788h2M1147 790h2M1147 793h2M1147 795h2M1147 798h2M1147 800h2M1147 801h2M1147 802h2M1147 805h2M1148 723h2M1148 739h2M1148 781h2M1148 789h2M1148 790h2M1148 793h2M1148 794h2M1148 795h2M1148 797h2M1148 798h2M1148 799h2M1148 800h2M1148 804h2M1148 806h2M1148 807h2M1148 809h2M1149 718h2M1149 744h2M1149 766h2M1149 769h2M1149 774h2M1149 791h2M1149 793h2M1149 795h2M1149 800h2M1149 802h2M1149 806h2M1149 807h2M1149 810h2M1149 811h2M1150 411h2M1150 720h2M1150 730h2M1150 755h2M1150 759h2M1150 789h2M1150 791h2M1150 792h2M1150 797h2M1150 799h2M1150 801h2M1150 804h2M1150 810h2M1150 811h2M1151 470h2M1151 750h2M1151 753h2M1151 764h2M1151 777h2M1151 783h2M1151 786h2M1151 790h2M1151 791h2M1151 796h2M1151 797h2M1151 798h2M1151 799h2M1151 801h2M1151 808h2M1151 809h2M1151 810h2M1151 812h2M1152 677h2M1152 720h2M1152 750h2M1152 757h2M1152 765h2M1152 783h2M1152 789h2M1152 792h2M1152 796h2M1152 799h2M1152 801h2M1152 802h2M1152 804h2M1152 805h2M1152 806h2M1152 807h2M1153 770h2M1153 771h2M1153 792h2M1153 796h2M1153 797h2M1153 798h2M1153 799h2M1153 800h2M1153 801h2M1153 802h2M1153 804h2M1153 809h2M1154 710h2M1154 754h2M1154 761h2M1154 763h2M1154 769h2M1154 772h2M1154 778h2M1154 785h2M1154 788h2M1154 790h2M1154 791h2M1154 792h2M1154 797h2M1154 799h2M1154 802h2M1154 803h2M1154 804h2M1154 806h2M1154 809h2M1155 712h2M1155 727h2M1155 733h2M1155 736h2M1155 774h2M1155 775h2M1155 777h2M1155 778h2M1155 780h2M1155 781h2M1155 783h2M1155 787h2M1155 791h2M1155 792h2M1155 794h2M1155 795h2M1155 797h2M1155 798h2M1155 799h2M1155 801h2M1155 802h2M1155 804h2M1155 806h2M1155 809h2M1156 761h2M1156 763h2M1156 765h2M1156 787h2M1156 788h2M1156 790h2M1156 794h2M1156 795h2M1156 796h2M1156 798h2M1156 800h2M1156 801h2M1156 802h2M1156 805h2M1156 808h2M1156 809h2M1156 811h2M1157 774h2M1157 793h2M1157 794h2M1157 796h2M1157 797h2M1157 799h2M1157 800h2M1157 803h2M1157 804h2M1157 805h2M1157 806h2M1157 809h2M1157 811h2M1158 776h2M1158 782h2M1158 783h2M1158 784h2M1158 785h2M1158 787h2M1158 788h2M1158 794h2M1158 795h2M1158 799h2M1158 800h2M1158 803h2M1158 804h2M1158 805h2M1158 807h2M1158 810h2M1158 813h2M1158 814h2M1159 415h2M1159 701h2M1159 718h2M1159 736h2M1159 754h2M1159 783h2M1159 791h2M1159 792h2M1159 794h2M1159 795h2M1159 796h2M1159 799h2M1159 802h2M1159 803h2M1159 805h2M1159 806h2M1159 808h2M1159 812h2M1159 813h2M1160 441h2M1160 607h2M1160 716h2M1160 751h2M1160 754h2M1160 762h2M1160 773h2M1160 776h2M1160 782h2M1160 786h2M1160 789h2M1160 794h2M1160 796h2M1160 797h2M1160 798h2M1160 799h2M1160 802h2M1160 803h2M1160 804h2M1160 805h2M1160 806h2M1160 807h2M1160 811h2M1160 812h2M1160 813h2M1161 717h2M1161 734h2M1161 749h2M1161 753h2M1161 771h2M1161 776h2M1161 781h2M1161 783h2M1161 786h2M1161 787h2M1161 788h2M1161 795h2M1161 796h2M1161 797h2M1161 798h2M1161 799h2M1161 802h2M1161 803h2M1161 807h2M1161 809h2M1161 811h2M1162 735h2M1162 738h2M1162 752h2M1162 755h2M1162 771h2M1162 780h2M1162 783h2M1162 791h2M1162 792h2M1162 794h2M1162 795h2M1162 796h2M1162 797h2M1162 799h2M1162 800h2M1162 805h2M1162 807h2M1162 808h2M1162 809h2M1163 730h2M1163 739h2M1163 749h2M1163 759h2M1163 769h2M1163 774h2M1163 775h2M1163 776h2M1163 777h2M1163 779h2M1163 783h2M1163 784h2M1163 786h2M1163 792h2M1163 793h2M1163 795h2M1163 796h2M1163 797h2M1163 800h2M1163 801h2M1163 804h2M1163 805h2M1164 404h2M1164 669h2M1164 681h2M1164 703h2M1164 719h2M1164 730h2M1164 736h2M1164 744h2M1164 746h2M1164 750h2M1164 764h2M1164 765h2M1164 779h2M1164 785h2M1164 788h2M1164 790h2M1164 795h2M1164 798h2M1164 799h2M1164 800h2M1164 801h2M1164 802h2M1164 803h2M1164 804h2M1164 805h2M1164 806h2M1164 808h2M1164 809h2M1164 812h2M1164 813h2M1164 815h2M1165 597h2M1165 707h2M1165 731h2M1165 753h2M1165 755h2M1165 756h2M1165 762h2M1165 774h2M1165 784h2M1165 788h2M1165 789h2M1165 791h2M1165 794h2M1165 795h2M1165 796h2M1165 797h2M1165 799h2M1165 800h2M1165 801h2M1165 805h2M1165 808h2M1165 809h2M1165 813h2M1165 814h2M1166 658h2M1166 713h2M1166 724h2M1166 730h2M1166 751h2M1166 752h2M1166 763h2M1166 771h2M1166 776h2M1166 782h2M1166 783h2M1166 789h2M1166 795h2M1166 799h2M1166 800h2M1166 802h2M1166 803h2M1166 805h2M1166 807h2M1166 809h2M1166 811h2M1167 402h2M1167 556h2M1167 698h2M1167 715h2M1167 742h2M1167 753h2M1167 763h2M1167 770h2M1167 778h2M1167 781h2M1167 784h2M1167 786h2M1167 788h2M1167 789h2M1167 790h2M1167 791h2M1167 792h2M1167 795h2M1167 796h2M1167 797h2M1167 798h2M1167 799h2M1167 801h2M1167 802h2M1167 804h2M1167 806h2M1167 808h2M1167 810h2M1168 598h2M1168 664h2M1168 720h2M1168 722h2M1168 724h2M1168 747h2M1168 748h2M1168 760h2M1168 764h2M1168 770h2M1168 779h2M1168 782h2M1168 783h2M1168 785h2M1168 787h2M1168 789h2M1168 790h2M1168 793h2M1168 794h2M1168 795h2M1168 796h2M1168 797h2M1168 799h2M1168 800h2M1168 801h2M1168 802h2M1168 804h2M1168 806h2M1168 807h2M1168 808h2M1168 809h2M1168 810h2M1168 811h2M1168 812h2M1168 815h2M1169 695h2M1169 716h2M1169 739h2M1169 758h2M1169 769h2M1169 778h2M1169 779h2M1169 781h2M1169 782h2M1169 784h2M1169 786h2M1169 788h2M1169 789h2M1169 791h2M1169 792h2M1169 793h2M1169 795h2M1169 796h2M1169 797h2M1169 800h2M1169 801h2M1169 803h2M1169 804h2M1169 805h2M1169 806h2M1169 807h2M1169 809h2M1169 810h2M1169 812h2M1169 814h2M1170 629h2M1170 700h2M1170 722h2M1170 751h2M1170 757h2M1170 760h2M1170 761h2M1170 763h2M1170 764h2M1170 770h2M1170 775h2M1170 776h2M1170 780h2M1170 784h2M1170 791h2M1170 796h2M1170 797h2M1170 798h2M1170 803h2M1170 804h2M1170 805h2M1170 808h2M1170 810h2M1170 812h2M1170 814h2M1171 663h2M1171 675h2M1171 738h2M1171 740h2M1171 743h2M1171 746h2M1171 748h2M1171 752h2M1171 754h2M1171 755h2M1171 756h2M1171 762h2M1171 765h2M1171 772h2M1171 777h2M1171 785h2M1171 787h2M1171 789h2M1171 791h2M1171 794h2M1171 796h2M1171 801h2M1171 802h2M1171 803h2M1171 805h2M1171 807h2M1171 808h2M1171 812h2M1172 719h2M1172 730h2M1172 736h2M1172 743h2M1172 750h2M1172 755h2M1172 767h2M1172 768h2M1172 777h2M1172 778h2M1172 779h2M1172 785h2M1172 786h2M1172 787h2M1172 788h2M1172 789h2M1172 791h2M1172 792h2M1172 793h2M1172 794h2M1172 795h2M1172 798h2M1172 799h2M1172 801h2M1172 802h2M1172 803h2M1172 806h2M1172 807h2M1172 810h2M1172 811h2M1173 399h2M1173 619h2M1173 650h2M1173 718h2M1173 720h2M1173 730h2M1173 736h2M1173 762h2M1173 776h2M1173 777h2M1173 778h2M1173 785h2M1173 787h2M1173 792h2M1173 794h2M1173 796h2M1173 799h2M1173 800h2M1173 803h2M1173 804h2M1173 806h2M1173 807h2M1173 808h2M1173 809h2M1173 812h2M1173 813h2M1174 350h2M1174 583h2M1174 679h2M1174 696h2M1174 712h2M1174 737h2M1174 739h2M1174 742h2M1174 748h2M1174 749h2M1174 750h2M1174 752h2M1174 758h2M1174 759h2M1174 764h2M1174 767h2M1174 769h2M1174 778h2M1174 782h2M1174 785h2M1174 787h2M1174 792h2M1174 793h2M1174 794h2M1174 795h2M1174 796h2M1174 797h2M1174 798h2M1174 799h2M1174 801h2M1174 802h2M1174 803h2M1174 806h2M1174 807h2M1174 809h2M1174 810h2M1174 811h2M1175 435h2M1175 709h2M1175 716h2M1175 724h2M1175 740h2M1175 746h2M1175 752h2M1175 754h2M1175 760h2M1175 762h2M1175 766h2M1175 767h2M1175 770h2M1175 775h2M1175 777h2M1175 780h2M1175 781h2M1175 784h2M1175 785h2M1175 792h2M1175 794h2M1175 795h2M1175 796h2M1175 798h2M1175 799h2M1175 800h2M1175 802h2M1175 803h2M1175 804h2M1175 809h2M1175 810h2M1175 812h2M1175 813h2M1176 568h2M1176 692h2M1176 710h2M1176 721h2M1176 727h2M1176 741h2M1176 754h2M1176 757h2M1176 767h2M1176 770h2M1176 774h2M1176 784h2M1176 785h2M1176 786h2M1176 792h2M1176 793h2M1176 795h2M1176 797h2M1176 798h2M1176 799h2M1176 800h2M1176 801h2M1176 804h2M1176 806h2M1176 810h2M1176 811h2M1176 812h2M1177 434h2M1177 714h2M1177 746h2M1177 747h2M1177 750h2M1177 753h2M1177 755h2M1177 758h2M1177 762h2M1177 765h2M1177 770h2M1177 773h2M1177 777h2M1177 778h2M1177 779h2M1177 781h2M1177 785h2M1177 786h2M1177 787h2M1177 789h2M1177 790h2M1177 794h2M1177 796h2M1177 800h2M1177 802h2M1177 804h2M1177 807h2M1177 809h2M1177 810h2M1177 811h2M1177 812h2M1177 813h2M1178 400h2M1178 658h2M1178 726h2M1178 750h2M1178 753h2M1178 757h2M1178 759h2M1178 766h2M1178 768h2M1178 771h2M1178 783h2M1178 784h2M1178 785h2M1178 787h2M1178 792h2M1178 793h2M1178 796h2M1178 797h2M1178 799h2M1178 800h2M1178 801h2M1178 805h2M1178 806h2M1178 808h2M1178 809h2M1178 810h2M1179 374h2M1179 702h2M1179 703h2M1179 743h2M1179 751h2M1179 753h2M1179 761h2M1179 764h2M1179 765h2M1179 773h2M1179 776h2M1179 780h2M1179 781h2M1179 783h2M1179 784h2M1179 785h2M1179 786h2M1179 787h2M1179 788h2M1179 790h2M1179 791h2M1179 793h2M1179 795h2M1179 796h2M1179 797h2M1179 799h2M1179 800h2M1179 801h2M1179 803h2M1179 804h2M1179 806h2M1179 808h2M1179 811h2M1180 358h2M1180 622h2M1180 627h2M1180 697h2M1180 736h2M1180 738h2M1180 740h2M1180 751h2M1180 759h2M1180 761h2M1180 765h2M1180 770h2M1180 775h2M1180 777h2M1180 781h2M1180 782h2M1180 786h2M1180 787h2M1180 792h2M1180 793h2M1180 794h2M1180 797h2M1180 798h2M1180 799h2M1180 800h2M1180 801h2M1180 802h2M1180 804h2M1180 805h2M1180 806h2M1180 807h2M1181 392h2M1181 397h2M1181 666h2M1181 698h2M1181 760h2M1181 779h2M1181 786h2M1181 788h2M1181 789h2M1181 791h2M1181 792h2M1181 793h2M1181 798h2M1181 799h2M1181 802h2M1181 805h2M1181 806h2M1181 807h2M1181 808h2M1181 809h2M1181 811h2M1181 812h2M1181 813h2M1181 815h2M1182 796h2M1182 797h2M1182 798h2M1182 799h2M1182 801h2M1182 802h2M1182 805h2M1182 806h2M1182 807h2M1182 809h2M1182 810h2M1182 813h2M1183 262h2M1183 796h2M1183 797h2M1183 798h2M1183 801h2M1183 802h2M1183 804h2M1183 805h2M1183 806h2M1183 808h2M1183 815h2M1184 796h2M1184 797h2M1184 798h2M1184 799h2M1184 800h2M1184 801h2M1184 802h2M1184 803h2M1184 804h2M1184 806h2M1184 807h2M1184 809h2M1184 810h2M1184 814h2M1185 796h2M1185 798h2M1185 799h2M1185 800h2M1185 801h2M1185 803h2M1185 804h2M1185 805h2M1185 806h2M1185 807h2M1185 808h2M1185 809h2M1185 810h2M1185 811h2M1185 812h2M1185 814h2M1186 796h2M1186 797h2M1186 798h2M1186 801h2M1186 803h2M1186 804h2M1186 806h2M1186 807h2M1186 812h2M1187 797h2M1187 798h2M1187 799h2M1187 800h2M1187 802h2M1187 803h2M1187 804h2M1187 805h2M1187 806h2M1187 808h2M1187 809h2M1187 810h2M1187 811h2M1187 812h2M1187 813h2M1187 814h2M1187 815h2M1188 796h2M1188 797h2M1188 798h2M1188 800h2M1188 801h2M1188 802h2M1188 803h2M1188 804h2M1188 807h2M1188 808h2M1188 809h2M1188 810h2M1188 811h2M1188 815h2M1189 796h2M1189 797h2M1189 799h2M1189 800h2M1189 801h2M1189 802h2M1189 805h2M1189 806h2M1190 797h2M1190 798h2M1190 800h2M1190 803h2M1190 805h2M1190 806h2M1190 809h2M1190 810h2M1190 811h2M1190 812h2M1190 813h2M1190 814h2M1191 796h2M1191 797h2M1191 798h2M1191 799h2M1191 801h2M1191 804h2M1191 805h2M1191 806h2M1191 807h2M1191 809h2M1191 810h2M1191 812h2M1191 813h2M1192 797h2M1192 798h2M1192 799h2M1192 800h2M1192 801h2M1192 802h2M1192 803h2M1192 804h2M1192 805h2M1192 806h2M1192 807h2M1192 808h2M1192 809h2M1192 812h2M1193 796h2M1193 798h2M1193 799h2M1193 800h2M1193 801h2M1193 802h2M1193 803h2M1193 804h2M1193 806h2M1193 807h2M1193 808h2M1193 809h2M1193 810h2M1193 811h2M1193 814h2M1194 796h2M1194 797h2M1194 798h2M1194 799h2M1194 800h2M1194 802h2M1194 806h2M1194 808h2M1194 809h2M1194 810h2M1194 811h2M1194 813h2M1195 797h2M1195 798h2M1195 799h2M1195 801h2M1195 802h2M1195 803h2M1195 805h2M1195 806h2M1195 807h2M1195 810h2M1195 813h2M1195 814h2M1196 796h2M1196 797h2M1196 798h2M1196 799h2M1196 800h2M1196 801h2M1196 802h2M1196 803h2M1196 804h2M1196 805h2M1196 806h2M1196 807h2M1196 808h2M1196 809h2M1196 810h2M1196 812h2M1197 796h2M1197 797h2M1197 799h2M1197 800h2M1197 801h2M1197 802h2M1197 805h2M1197 806h2M1197 807h2M1197 808h2M1197 809h2M1197 810h2M1197 812h2M1197 813h2M1198 796h2M1198 797h2M1198 799h2M1198 801h2M1198 802h2M1198 803h2M1198 806h2M1198 807h2M1198 808h2M1198 812h2M1199 796h2M1199 797h2M1199 806h2M1199 807h2M1199 809h2M1199 810h2M1199 813h2M1200 796h2M1200 797h2M1200 798h2M1200 802h2M1200 803h2M1200 804h2M1200 805h2M1200 806h2M1200 807h2M1200 811h2M1201 796h2M1201 799h2M1201 801h2M1201 802h2M1201 803h2M1201 805h2M1201 806h2M1201 807h2M1201 808h2M1201 812h2M1201 814h2M1202 796h2M1202 797h2M1202 798h2M1202 799h2M1202 800h2M1202 801h2M1202 802h2M1202 804h2M1202 805h2M1202 806h2M1202 807h2M1202 810h2M1202 811h2M1203 796h2M1203 800h2M1203 802h2M1203 803h2M1203 804h2M1203 806h2M1203 807h2M1203 808h2M1203 809h2M1203 810h2M1203 811h2M1203 813h2M1203 815h2M1204 796h2M1204 797h2M1204 800h2M1204 801h2M1204 802h2M1204 803h2M1204 804h2M1204 805h2M1204 806h2M1204 807h2M1204 809h2M1204 812h2M1204 814h2M1205 797h2M1205 798h2M1205 799h2M1205 800h2M1205 801h2M1205 802h2M1205 803h2M1205 804h2M1205 805h2M1205 807h2M1205 808h2M1205 810h2M1205 811h2M1205 813h2M1206 796h2M1206 797h2M1206 798h2M1206 799h2M1206 800h2M1206 801h2M1206 802h2M1206 806h2M1206 807h2M1206 809h2M1206 811h2M1206 812h2M1207 796h2M1207 797h2M1207 798h2M1207 801h2M1207 806h2M1207 807h2M1207 809h2M1207 810h2M1207 813h2M1208 796h2M1208 798h2M1208 799h2M1208 800h2M1208 802h2M1208 803h2M1208 804h2M1208 810h2M1208 811h2M1208 812h2M1208 813h2M1208 814h2M1209 797h2M1209 798h2M1209 800h2M1209 801h2M1209 806h2M1209 807h2M1209 808h2M1209 813h2M1209 814h2M1210 796h2M1210 798h2M1210 799h2M1210 800h2M1210 801h2M1210 802h2M1210 803h2M1210 804h2M1210 805h2M1210 808h2M1210 810h2M1210 811h2M1210 812h2M1210 814h2M1211 796h2M1211 800h2M1211 802h2M1211 803h2M1211 805h2M1211 808h2M1211 809h2M1211 812h2M1211 813h2M1211 814h2M1212 798h2M1212 799h2M1212 801h2M1212 802h2M1212 803h2M1212 806h2M1212 807h2M1212 809h2M1212 813h2M1213 797h2M1213 798h2M1213 799h2M1213 800h2M1213 802h2M1213 803h2M1213 804h2M1213 806h2M1213 807h2M1213 808h2M1213 810h2M1213 811h2M1213 812h2M1213 813h2M1213 814h2M1214 796h2M1214 797h2M1214 798h2M1214 799h2M1214 800h2M1214 801h2M1214 803h2M1214 804h2M1214 806h2M1214 808h2M1214 812h2M1214 813h2M1214 814h2M1214 815h2M1215 796h2M1215 797h2M1215 799h2M1215 800h2M1215 801h2M1215 802h2M1215 803h2M1215 804h2M1215 805h2M1215 806h2M1215 807h2M1215 811h2M1216 796h2M1216 797h2M1216 798h2M1216 799h2M1216 800h2M1216 801h2M1216 802h2M1216 803h2M1216 805h2M1216 806h2M1216 807h2M1216 809h2M1216 810h2M1216 811h2M1216 813h2M1216 815h2M1217 796h2M1217 797h2M1217 798h2M1217 799h2M1217 800h2M1217 801h2M1217 802h2M1217 804h2M1217 805h2M1217 806h2M1217 808h2M1217 809h2M1217 810h2M1217 815h2M1218 796h2M1218 798h2M1218 801h2M1218 802h2M1218 803h2M1218 804h2M1218 805h2M1218 808h2M1218 810h2M1218 814h2M1219 796h2M1219 797h2M1219 798h2M1219 801h2M1219 802h2M1219 803h2M1219 804h2M1219 806h2M1219 807h2M1219 810h2M1219 812h2M1220 796h2M1220 798h2M1220 799h2M1220 801h2M1220 802h2M1220 803h2M1220 804h2M1220 805h2M1220 806h2M1220 807h2M1220 809h2M1220 810h2M1220 813h2M1221 796h2M1221 797h2M1221 799h2M1221 800h2M1221 801h2M1221 806h2M1221 813h2M1222 796h2M1222 797h2M1222 799h2M1222 800h2M1222 801h2M1222 802h2M1222 803h2M1222 804h2M1222 805h2M1222 806h2M1222 807h2M1222 808h2M1222 809h2M1222 811h2M1222 812h2M1222 813h2M1222 815h2M1223 796h2M1223 799h2M1223 800h2M1223 802h2M1223 803h2M1223 804h2M1223 807h2M1223 808h2M1223 809h2M1223 811h2M1223 813h2M1224 797h2M1224 798h2M1224 800h2M1224 801h2M1224 803h2M1224 804h2M1224 805h2M1224 806h2M1224 812h2M1225 796h2M1225 798h2M1225 801h2M1225 803h2M1225 804h2M1225 805h2M1225 806h2M1225 808h2M1225 809h2M1225 810h2M1225 813h2M1226 796h2M1226 797h2M1226 798h2M1226 799h2M1226 801h2M1226 802h2M1226 803h2M1226 804h2M1226 807h2M1226 810h2M1226 813h2M1227 796h2M1227 797h2M1227 798h2M1227 799h2M1227 801h2M1227 802h2M1227 806h2M1227 809h2M1227 812h2M1227 814h2M1228 797h2M1228 798h2M1228 799h2M1228 800h2M1228 801h2M1228 802h2M1228 803h2M1228 804h2M1228 805h2M1228 807h2M1228 809h2M1228 810h2M1228 812h2M1228 813h2M1229 796h2M1229 799h2M1229 800h2M1229 801h2M1229 802h2M1229 803h2M1229 804h2M1229 805h2M1229 807h2M1229 808h2M1229 810h2M1229 812h2M1229 814h2M1229 815h2M1230 797h2M1230 798h2M1230 799h2M1230 800h2M1230 803h2M1230 810h2M1230 814h2M1231 799h2M1231 800h2M1231 801h2M1231 803h2M1231 804h2M1231 808h2M1231 812h2M1231 814h2M1231 815h2M1232 796h2M1232 797h2M1232 799h2M1232 800h2M1232 801h2M1232 802h2M1232 803h2M1232 805h2M1232 806h2M1232 809h2M1232 810h2M1233 796h2M1233 797h2M1233 798h2M1233 799h2M1233 800h2M1233 801h2M1233 802h2M1233 803h2M1233 804h2M1233 805h2M1233 808h2M1233 809h2M1233 810h2M1233 812h2M1233 813h2M1233 815h2M1234 797h2M1234 799h2M1234 800h2M1234 801h2M1234 802h2M1234 805h2M1234 806h2M1234 807h2M1234 808h2M1234 809h2M1234 810h2M1234 813h2M1234 814h2M1234 815h2M1235 797h2M1235 798h2M1235 799h2M1235 800h2M1235 802h2M1235 803h2M1235 804h2M1235 805h2M1235 806h2M1235 808h2M1235 809h2M1235 813h2M1236 796h2M1236 797h2M1236 799h2M1236 801h2M1236 802h2M1236 805h2M1236 807h2M1236 808h2M1236 812h2M1237 796h2M1237 797h2M1237 798h2M1237 799h2M1237 800h2M1237 802h2M1237 803h2M1237 804h2M1237 805h2M1237 806h2M1237 808h2M1237 809h2M1237 811h2M1237 814h2M1238 796h2M1238 797h2M1238 798h2M1238 800h2M1238 801h2M1238 802h2M1238 803h2M1238 805h2M1238 806h2M1238 811h2M1238 815h2M1239 798h2M1239 803h2M1239 805h2M1239 810h2M1239 811h2M1240 797h2M1240 798h2M1240 801h2M1240 802h2M1240 805h2M1240 806h2M1240 807h2M1240 809h2M1240 811h2M1240 814h2M1241 797h2M1241 798h2M1241 799h2M1241 801h2M1241 802h2M1241 803h2M1241 804h2M1241 805h2M1241 808h2M1241 809h2M1241 811h2M1241 813h2M1242 797h2M1242 800h2M1242 805h2M1242 807h2M1242 808h2M1242 809h2M1242 810h2M1242 812h2M1242 813h2M1242 815h2M1243 798h2M1243 799h2M1243 800h2M1243 805h2M1243 806h2M1243 807h2M1243 809h2M1244 796h2M1244 798h2M1244 799h2M1244 800h2M1244 801h2M1244 802h2M1244 804h2M1244 806h2M1244 807h2M1244 809h2M1244 813h2M1245 796h2M1245 797h2M1245 798h2M1245 800h2M1245 804h2M1245 805h2M1245 806h2M1245 808h2M1245 810h2M1245 811h2M1245 814h2M1245 815h2M1246 797h2M1246 799h2M1246 800h2M1246 801h2M1246 803h2M1246 805h2M1246 810h2M1246 811h2M1246 814h2M1247 796h2M1247 797h2M1247 799h2M1247 801h2M1247 804h2M1247 805h2M1247 806h2M1247 809h2M1248 797h2M1248 800h2M1248 802h2M1248 803h2M1248 804h2M1248 805h2M1248 806h2M1248 807h2M1248 810h2M1249 796h2M1249 799h2M1249 800h2M1249 802h2M1249 804h2M1249 805h2M1249 807h2M1249 808h2M1249 809h2M1249 813h2M1249 815h2M1250 796h2M1250 798h2M1250 799h2M1250 800h2M1250 801h2M1250 802h2M1250 803h2M1250 804h2M1250 806h2M1250 807h2M1250 808h2M1250 809h2M1250 810h2M1250 813h2M1251 797h2M1251 806h2M1251 810h2M1251 812h2M1252 796h2M1252 799h2M1252 801h2M1252 802h2M1252 804h2M1252 806h2M1252 811h2M1253 797h2M1253 800h2M1253 802h2M1253 804h2M1253 807h2M1253 808h2M1253 809h2M1253 812h2M1253 813h2M1253 814h2M1253 815h2M1254 799h2M1254 801h2M1254 802h2M1254 805h2M1254 806h2M1255 797h2M1255 799h2M1255 800h2M1255 801h2M1255 802h2M1255 803h2M1255 806h2M1255 810h2M1255 811h2M1256 799h2M1256 800h2M1256 802h2M1256 803h2M1256 804h2M1256 805h2M1256 806h2M1257 797h2M1257 798h2M1257 799h2M1257 806h2M1257 807h2M1257 808h2M1257 812h2M1258 796h2M1258 803h2M1258 804h2M1258 806h2M1258 811h2M1258 812h2M1259 796h2M1259 797h2M1259 798h2M1259 799h2M1259 800h2M1259 802h2M1259 804h2M1259 806h2M1259 807h2M1259 808h2M1259 810h2M1260 796h2M1260 798h2M1260 799h2M1260 801h2M1260 802h2M1260 804h2M1260 805h2M1260 808h2M1260 809h2M1260 815h2M1261 796h2M1261 798h2M1261 802h2M1261 805h2M1261 806h2M1261 807h2M1262 800h2M1262 805h2M1262 806h2M1262 809h2M1262 810h2M1262 811h2M1262 813h2M1262 815h2M1263 796h2M1263 797h2M1263 798h2M1263 800h2M1263 801h2M1263 802h2M1263 805h2M1263 806h2M1263 809h2M1263 811h2M1263 815h2M1264 796h2M1264 797h2M1264 806h2M1265 796h2M1265 797h2M1265 802h2M1265 804h2M1265 805h2M1265 811h2M1265 813h2M1265 814h2M1266 797h2M1266 798h2M1266 801h2M1266 802h2M1266 804h2M1266 806h2M1266 807h2M1266 808h2M1266 810h2M1267 808h2M1267 809h2M1267 812h2M1268 797h2M1268 812h2M1269 800h2M1269 802h2M1269 808h2M1270 800h2M1270 802h2M1270 808h2M1270 812h2M1270 813h2M1271 800h2M1271 802h2M1271 807h2M1271 808h2M1272 799h2M1272 800h2M1272 803h2M1272 808h2M1272 810h2M1272 813h2M1273 797h2M1273 799h2M1273 800h2M1273 801h2M1273 802h2M1274 798h2M1274 799h2M1274 800h2M1274 802h2M1274 804h2M1274 805h2M1274 806h2M1274 808h2M1274 814h2M1275 799h2M1275 800h2M1275 801h2M1275 804h2M1275 807h2M1275 815h2M1276 804h2M1276 810h2M1277 796h2M1277 801h2M1277 803h2M1277 805h2M1277 810h2M1278 796h2M1278 798h2M1278 800h2M1278 808h2M1278 813h2M1278 814h2M1279 801h2M1279 802h2M1279 805h2M1279 806h2M1279 809h2M1279 813h2M1280 797h2M1280 804h2M1280 807h2M1281 797h2M1281 798h2M1281 801h2M1282 803h2M1282 806h2M1283 797h2M1283 801h2M1283 802h2M1283 803h2M1283 808h2M1284 798h2M1284 802h2M1284 813h2M1285 797h2M1285 806h2M1285 807h2M1285 813h2M1286 797h2M1286 805h2M1286 807h2M1286 812h2M1286 814h2M1287 798h2M1287 800h2M1287 804h2M1287 807h2M1287 808h2M1287 811h2M1288 799h2M1288 807h2M1288 808h2M1288 811h2M1289 799h2M1289 805h2M1289 806h2M1290 801h2M1290 806h2M1290 808h2M1290 811h2M1290 815h2M1291 796h2M1292 798h2M1292 804h2M1292 806h2M1292 809h2M1292 812h2M1293 801h2M1294 802h2M1294 814h2M1295 799h2M1295 800h2M1295 809h2M1296 799h2M1296 801h2M1296 806h2M1297 800h2M1297 801h2M1297 802h2M1297 806h2M1298 796h2M1298 812h2M1299 798h2M1299 806h2M1300 806h2M1300 808h2M1300 812h2M1301 807h2M1302 798h2M1302 802h2M1302 803h2M1302 805h2M1302 807h2M1302 811h2M1303 811h2M1304 800h2M1304 801h2M1304 803h2M1305 797h2M1305 803h2M1306 806h2M1306 811h2M1307 800h2M1307 803h2M1307 807h2M1308 796h2M1308 804h2M1308 811h2M1309 806h2M1309 808h2M1309 813h2M1311 805h2M1312 800h2M1316 799h2M1318 805h2M1319 796h2M1320 804h2M1323 814h2M1325 797h2M1325 804h2M1332 797h2M1332 812h2M1341 812h2M1345 799h2M1348 797h2M1413 264h2M1426 261h2M1475 265h2M1497 807h2M1512 257h2M1520 269h2M1527 801h2M1656 253h2M1793 701h2M1822 441h2" stroke="#ff1408" stroke-width="2"/><rect x="1181.5" y="271.5" width="600.5" height="524.5" fill="none" stroke="#e46a5c" stroke-width="5"/><circle cx="1181.5" cy="271.5" r="8.2" fill="#fff" stroke="#dc5e55" stroke-width="4.2"/><circle cx="1782" cy="796" r="8.2" fill="#fff" stroke="#dc5e55" stroke-width="4.2"/><rect x="1138.5" y="251.5" width="735.5" height="730.5" fill="none" stroke="#666" stroke-width="3.5"/><line x1="1138.5" y1="982.0" x2="1874.0" y2="982.0" stroke="#8a8a8a" stroke-width="3.5"/><path d="M1129.5 982.0H1138.5M1133.5 927.0H1138.5M1133.5 894.9H1138.5M1133.5 872.0H1138.5M1133.5 854.4H1138.5M1133.5 839.9H1138.5M1133.5 827.7H1138.5M1133.5 817.1H1138.5M1133.5 807.7H1138.5M1129.5 799.4H1138.5M1133.5 744.4H1138.5M1133.5 712.2H1138.5M1133.5 689.4H1138.5M1133.5 671.7H1138.5M1133.5 657.3H1138.5M1133.5 645.0H1138.5M1133.5 634.4H1138.5M1133.5 625.1H1138.5M1129.5 616.8H1138.5M1133.5 561.8H1138.5M1133.5 529.6H1138.5M1133.5 506.8H1138.5M1133.5 489.1H1138.5M1133.5 474.6H1138.5M1133.5 462.4H1138.5M1133.5 451.8H1138.5M1133.5 442.5H1138.5M1129.5 434.1H1138.5M1133.5 379.1H1138.5M1133.5 347.0H1138.5M1133.5 324.2H1138.5M1133.5 306.5H1138.5M1133.5 292.0H1138.5M1133.5 279.8H1138.5M1133.5 269.2H1138.5M1133.5 259.9H1138.5M1129.5 251.5H1138.5" stroke="#555" stroke-width="2.2" fill="none"/><path d="M1138.5 982.0V991.0M1193.9 982.0V987.0M1226.2 982.0V987.0M1249.2 982.0V987.0M1267.0 982.0V987.0M1281.6 982.0V987.0M1293.9 982.0V987.0M1304.6 982.0V987.0M1314.0 982.0V987.0M1322.4 982.0V991.0M1377.7 982.0V987.0M1410.1 982.0V987.0M1433.1 982.0V987.0M1450.9 982.0V987.0M1465.5 982.0V987.0M1477.8 982.0V987.0M1488.4 982.0V987.0M1497.8 982.0V987.0M1506.2 982.0V991.0M1561.6 982.0V987.0M1594.0 982.0V987.0M1617.0 982.0V987.0M1634.8 982.0V987.0M1649.3 982.0V987.0M1661.6 982.0V987.0M1672.3 982.0V987.0M1681.7 982.0V987.0M1690.1 982.0V991.0M1745.5 982.0V987.0M1777.9 982.0V987.0M1800.8 982.0V987.0M1818.6 982.0V987.0M1833.2 982.0V987.0M1845.5 982.0V987.0M1856.2 982.0V987.0M1865.6 982.0V987.0M1874.0 982.0V991.0" stroke="#555" stroke-width="2.2" fill="none"/><text x="1122.5" y="994.0" font-size="40" font-weight="normal" fill="#1e1e1e" text-anchor="end" stroke="#222" stroke-width="0.6">0</text><text x="1135.5" y="1027.0" font-size="39" font-weight="normal" fill="#1e1e1e" text-anchor="middle" stroke="#222" stroke-width="0.6">0</text><text x="1122.5" y="811.4" font-size="40" font-weight="normal" fill="#1e1e1e" text-anchor="end" stroke="#222" stroke-width="0.6">1</text><text x="1319.4" y="1027.0" font-size="39" font-weight="normal" fill="#1e1e1e" text-anchor="middle" stroke="#222" stroke-width="0.6">1</text><text x="1122.5" y="628.8" font-size="40" font-weight="normal" fill="#1e1e1e" text-anchor="end" stroke="#222" stroke-width="0.6">2</text><text x="1503.2" y="1027.0" font-size="39" font-weight="normal" fill="#1e1e1e" text-anchor="middle" stroke="#222" stroke-width="0.6">2</text><text x="1122.5" y="446.1" font-size="40" font-weight="normal" fill="#1e1e1e" text-anchor="end" stroke="#222" stroke-width="0.6">3</text><text x="1687.1" y="1027.0" font-size="39" font-weight="normal" fill="#1e1e1e" text-anchor="middle" stroke="#222" stroke-width="0.6">3</text><text x="1122.5" y="263.5" font-size="40" font-weight="normal" fill="#1e1e1e" text-anchor="end" stroke="#222" stroke-width="0.6">4</text><text x="1871.0" y="1027.0" font-size="39" font-weight="normal" fill="#1e1e1e" text-anchor="middle" stroke="#222" stroke-width="0.6">4</text><text x="1259.0" y="159.0" font-size="67" font-weight="bold" fill="#000" text-anchor="start" textLength="455.0" lengthAdjust="spacingAndGlyphs">Medium control</text><text x="1199.0" y="239.5" font-size="53.5" font-weight="normal" fill="#1e1e1e" text-anchor="start" textLength="615.0" lengthAdjust="spacingAndGlyphs" stroke="#1e1e1e" stroke-width="0.6">POPULATION PROFILE</text><text transform="translate(1071.0,849.0) rotate(-90)" x="0" y="0" font-size="56" font-weight="normal" fill="#1e1e1e" text-anchor="start" textLength="467.0" lengthAdjust="spacingAndGlyphs" stroke="#1e1e1e" stroke-width="0.6">CELL SIZE INDEX</text><text x="1140.0" y="1081.0" font-size="38" font-weight="normal" fill="#646464" text-anchor="start" textLength="73.0" lengthAdjust="spacingAndGlyphs" stroke="#646464" stroke-width="0.8">Live</text><text x="1356.0" y="1082.5" font-size="51" font-weight="normal" fill="#1e1e1e" text-anchor="start" textLength="296.0" lengthAdjust="spacingAndGlyphs" stroke="#1e1e1e" stroke-width="0.8">ANNEXIN V</text><text x="1704.0" y="1080.0" font-size="38.5" font-weight="normal" fill="#646464" text-anchor="start" textLength="168.0" lengthAdjust="spacingAndGlyphs" stroke="#646464" stroke-width="0.8">Apoptotic</text><line x1="1908.0" y1="163.0" x2="1908.0" y2="1091.0" stroke="#ececec" stroke-width="2"/><rect x="2045.5" y="233.0" width="735.5" height="733.0" fill="#ffffff"/><rect x="2045.5" y="800.0" width="735.5" height="166.0" fill="#cfcfcf"/><line x1="2045.5" y1="800.0" x2="2781.0" y2="800.0" stroke="#a8a8a8" stroke-width="3" stroke-dasharray="6 4"/><rect x="2090.0" y="254.0" width="600.0" height="525.0" fill="#e7f2d0"/><path d="M2090 700h2M2090 767h2M2091 403h2M2091 751h2M2092 408h2M2092 748h2M2092 766h2M2093 364h2M2093 746h2M2094 376h2M2094 382h2M2095 643h2M2095 716h2M2095 755h2M2095 769h2M2095 775h2M2096 406h2M2096 622h2M2096 743h2M2096 744h2M2096 756h2M2096 778h2M2097 294h2M2097 604h2M2097 757h2M2097 760h2M2097 767h2M2097 776h2M2097 778h2M2098 386h2M2098 690h2M2098 746h2M2098 769h2M2099 731h2M2099 744h2M2099 775h2M2100 724h2M2100 742h2M2101 371h2M2101 695h2M2101 750h2M2101 752h2M2102 682h2M2102 767h2M2102 775h2M2102 777h2M2103 338h2M2103 626h2M2103 650h2M2103 662h2M2103 730h2M2103 731h2M2103 735h2M2103 760h2M2104 376h2M2104 639h2M2104 689h2M2104 746h2M2104 748h2M2104 749h2M2104 759h2M2104 761h2M2104 768h2M2104 771h2M2105 404h2M2105 674h2M2105 719h2M2105 736h2M2105 738h2M2105 741h2M2105 746h2M2105 753h2M2105 778h2M2106 660h2M2106 727h2M2106 729h2M2106 751h2M2106 752h2M2106 762h2M2106 775h2M2106 778h2M2107 414h2M2107 704h2M2107 707h2M2107 729h2M2107 736h2M2107 748h2M2107 759h2M2108 617h2M2108 679h2M2108 710h2M2108 718h2M2108 725h2M2108 731h2M2108 738h2M2108 767h2M2108 770h2M2108 771h2M2109 600h2M2109 625h2M2109 749h2M2109 776h2M2110 674h2M2110 725h2M2110 730h2M2110 766h2M2110 774h2M2110 776h2M2111 373h2M2111 669h2M2111 693h2M2111 726h2M2111 750h2M2111 755h2M2111 764h2M2111 766h2M2111 775h2M2111 778h2M2112 353h2M2112 485h2M2112 740h2M2112 746h2M2112 749h2M2112 751h2M2112 762h2M2112 763h2M2112 767h2M2112 778h2M2113 392h2M2113 664h2M2113 697h2M2113 730h2M2113 731h2M2113 753h2M2113 754h2M2113 756h2M2113 759h2M2113 769h2M2114 394h2M2114 628h2M2114 633h2M2114 683h2M2114 698h2M2114 701h2M2114 707h2M2114 737h2M2114 746h2M2114 756h2M2114 760h2M2114 761h2M2114 763h2M2114 764h2M2114 766h2M2114 768h2M2114 774h2M2115 350h2M2115 366h2M2115 413h2M2115 608h2M2115 620h2M2115 632h2M2115 670h2M2115 709h2M2115 715h2M2115 730h2M2115 739h2M2115 750h2M2115 753h2M2115 754h2M2115 760h2M2115 769h2M2116 326h2M2116 372h2M2116 422h2M2116 540h2M2116 692h2M2116 707h2M2116 739h2M2116 745h2M2116 757h2M2116 760h2M2116 767h2M2116 770h2M2117 394h2M2117 562h2M2117 742h2M2117 746h2M2117 777h2M2118 383h2M2118 389h2M2118 391h2M2118 625h2M2118 727h2M2118 739h2M2118 741h2M2118 746h2M2118 748h2M2118 749h2M2118 762h2M2118 773h2M2119 583h2M2119 646h2M2119 650h2M2119 659h2M2119 674h2M2119 679h2M2119 721h2M2119 728h2M2119 741h2M2119 746h2M2119 750h2M2119 758h2M2120 377h2M2120 389h2M2120 518h2M2120 641h2M2120 657h2M2120 662h2M2120 690h2M2120 725h2M2120 732h2M2120 736h2M2120 749h2M2120 750h2M2120 753h2M2120 755h2M2120 757h2M2120 766h2M2120 774h2M2120 775h2M2121 349h2M2121 716h2M2121 719h2M2121 722h2M2121 733h2M2121 739h2M2121 763h2M2121 773h2M2121 777h2M2122 708h2M2122 719h2M2122 728h2M2122 743h2M2122 746h2M2122 764h2M2122 770h2M2122 775h2M2122 778h2M2123 360h2M2123 391h2M2123 669h2M2123 697h2M2123 737h2M2123 741h2M2123 751h2M2123 752h2M2123 755h2M2123 764h2M2123 765h2M2123 772h2M2123 773h2M2124 605h2M2124 617h2M2124 645h2M2124 649h2M2124 653h2M2124 674h2M2124 676h2M2124 716h2M2124 718h2M2124 733h2M2124 750h2M2124 752h2M2124 756h2M2124 760h2M2124 768h2M2125 707h2M2125 719h2M2125 725h2M2125 727h2M2125 733h2M2125 736h2M2125 743h2M2125 748h2M2125 749h2M2125 751h2M2125 752h2M2125 762h2M2125 765h2M2125 775h2M2126 351h2M2126 356h2M2126 395h2M2126 645h2M2126 740h2M2126 741h2M2126 745h2M2126 753h2M2126 757h2M2126 758h2M2126 760h2M2126 761h2M2126 764h2M2126 765h2M2126 767h2M2126 768h2M2126 773h2M2126 776h2M2127 376h2M2127 500h2M2127 598h2M2127 599h2M2127 662h2M2127 724h2M2127 731h2M2127 740h2M2127 741h2M2127 746h2M2127 747h2M2127 748h2M2127 754h2M2127 757h2M2127 760h2M2127 761h2M2127 768h2M2128 388h2M2128 433h2M2128 544h2M2128 620h2M2128 662h2M2128 665h2M2128 679h2M2128 690h2M2128 731h2M2128 738h2M2128 746h2M2128 748h2M2128 754h2M2129 700h2M2129 720h2M2129 721h2M2129 725h2M2129 728h2M2129 741h2M2129 742h2M2129 775h2M2130 370h2M2130 384h2M2130 387h2M2130 702h2M2130 715h2M2130 724h2M2130 730h2M2130 737h2M2130 739h2M2130 740h2M2130 747h2M2130 752h2M2130 757h2M2130 758h2M2130 767h2M2131 369h2M2131 372h2M2131 574h2M2131 620h2M2131 633h2M2131 664h2M2131 685h2M2131 700h2M2131 718h2M2131 727h2M2131 740h2M2131 749h2M2131 753h2M2131 760h2M2131 761h2M2131 775h2M2132 383h2M2132 503h2M2132 570h2M2132 585h2M2132 588h2M2132 651h2M2132 674h2M2132 713h2M2132 724h2M2132 729h2M2132 733h2M2132 736h2M2132 737h2M2132 753h2M2132 756h2M2132 759h2M2132 760h2M2132 766h2M2132 767h2M2132 768h2M2133 621h2M2133 644h2M2133 699h2M2133 739h2M2133 740h2M2133 746h2M2133 747h2M2133 750h2M2133 753h2M2133 757h2M2133 759h2M2133 765h2M2133 767h2M2134 353h2M2134 386h2M2134 388h2M2134 678h2M2134 720h2M2134 722h2M2134 727h2M2134 732h2M2134 738h2M2134 739h2M2134 740h2M2134 746h2M2134 750h2M2134 754h2M2134 762h2M2134 773h2M2134 778h2M2135 617h2M2135 680h2M2135 688h2M2135 692h2M2135 716h2M2135 737h2M2135 743h2M2135 756h2M2135 764h2M2135 772h2M2135 773h2M2135 776h2M2136 372h2M2136 397h2M2136 501h2M2136 614h2M2136 695h2M2136 703h2M2136 708h2M2136 711h2M2136 712h2M2136 715h2M2136 719h2M2136 721h2M2136 724h2M2136 726h2M2136 742h2M2136 762h2M2136 765h2M2136 772h2M2136 776h2M2137 371h2M2137 376h2M2137 537h2M2137 588h2M2137 647h2M2137 698h2M2137 742h2M2137 745h2M2137 747h2M2137 748h2M2137 758h2M2137 761h2M2137 769h2M2137 771h2M2137 777h2M2138 373h2M2138 399h2M2138 438h2M2138 588h2M2138 611h2M2138 658h2M2138 660h2M2138 673h2M2138 677h2M2138 701h2M2138 706h2M2138 711h2M2138 719h2M2138 725h2M2138 727h2M2138 730h2M2138 733h2M2138 735h2M2138 736h2M2138 742h2M2138 744h2M2138 746h2M2138 749h2M2138 756h2M2138 759h2M2138 768h2M2138 771h2M2138 774h2M2139 367h2M2139 372h2M2139 377h2M2139 381h2M2139 385h2M2139 510h2M2139 677h2M2139 679h2M2139 680h2M2139 689h2M2139 692h2M2139 724h2M2139 736h2M2139 738h2M2139 739h2M2139 753h2M2139 754h2M2139 756h2M2139 759h2M2139 760h2M2139 773h2M2139 778h2M2140 371h2M2140 578h2M2140 622h2M2140 682h2M2140 693h2M2140 709h2M2140 727h2M2140 743h2M2140 751h2M2140 753h2M2140 767h2M2140 777h2M2140 778h2M2141 498h2M2141 581h2M2141 609h2M2141 632h2M2141 642h2M2141 686h2M2141 690h2M2141 702h2M2141 721h2M2141 725h2M2141 726h2M2141 727h2M2141 733h2M2141 734h2M2141 740h2M2141 742h2M2141 748h2M2141 749h2M2141 751h2M2141 758h2M2141 759h2M2141 760h2M2141 768h2M2141 772h2M2141 777h2M2141 778h2M2142 362h2M2142 379h2M2142 389h2M2142 452h2M2142 559h2M2142 605h2M2142 623h2M2142 633h2M2142 695h2M2142 710h2M2142 720h2M2142 721h2M2142 727h2M2142 731h2M2142 743h2M2142 750h2M2142 752h2M2142 761h2M2142 762h2M2142 775h2M2142 777h2M2143 377h2M2143 384h2M2143 389h2M2143 396h2M2143 398h2M2143 604h2M2143 629h2M2143 661h2M2143 664h2M2143 688h2M2143 701h2M2143 709h2M2143 723h2M2143 740h2M2143 753h2M2143 759h2M2143 762h2M2143 767h2M2143 778h2M2144 358h2M2144 372h2M2144 542h2M2144 545h2M2144 579h2M2144 690h2M2144 698h2M2144 712h2M2144 713h2M2144 725h2M2144 727h2M2144 733h2M2144 744h2M2144 750h2M2144 751h2M2144 761h2M2144 765h2M2144 769h2M2144 772h2M2145 352h2M2145 357h2M2145 385h2M2145 386h2M2145 388h2M2145 579h2M2145 605h2M2145 621h2M2145 647h2M2145 659h2M2145 665h2M2145 706h2M2145 719h2M2145 738h2M2145 741h2M2145 742h2M2145 747h2M2145 754h2M2145 760h2M2145 763h2M2145 769h2M2145 775h2M2145 776h2M2146 357h2M2146 377h2M2146 383h2M2146 390h2M2146 457h2M2146 608h2M2146 652h2M2146 666h2M2146 669h2M2146 670h2M2146 682h2M2146 689h2M2146 693h2M2146 694h2M2146 701h2M2146 705h2M2146 732h2M2146 738h2M2146 743h2M2146 745h2M2146 747h2M2146 748h2M2146 749h2M2146 752h2M2146 759h2M2146 763h2M2146 764h2M2146 765h2M2146 767h2M2146 769h2M2146 775h2M2146 777h2M2147 357h2M2147 375h2M2147 377h2M2147 378h2M2147 485h2M2147 501h2M2147 626h2M2147 639h2M2147 642h2M2147 652h2M2147 700h2M2147 706h2M2147 716h2M2147 719h2M2147 722h2M2147 728h2M2147 739h2M2147 755h2M2147 756h2M2147 757h2M2147 758h2M2147 759h2M2147 771h2M2147 773h2M2147 776h2M2148 369h2M2148 430h2M2148 591h2M2148 627h2M2148 645h2M2148 654h2M2148 661h2M2148 684h2M2148 699h2M2148 727h2M2148 738h2M2148 740h2M2148 744h2M2148 745h2M2148 750h2M2148 754h2M2148 756h2M2148 760h2M2148 762h2M2148 765h2M2148 776h2M2148 777h2M2149 376h2M2149 405h2M2149 439h2M2149 547h2M2149 652h2M2149 660h2M2149 694h2M2149 710h2M2149 729h2M2149 730h2M2149 736h2M2149 739h2M2149 740h2M2149 745h2M2149 758h2M2149 760h2M2149 763h2M2149 765h2M2150 359h2M2150 367h2M2150 375h2M2150 557h2M2150 590h2M2150 592h2M2150 610h2M2150 630h2M2150 663h2M2150 685h2M2150 700h2M2150 704h2M2150 729h2M2150 737h2M2150 740h2M2150 744h2M2150 745h2M2150 764h2M2150 766h2M2150 767h2M2150 771h2M2150 776h2M2151 349h2M2151 363h2M2151 372h2M2151 374h2M2151 379h2M2151 421h2M2151 618h2M2151 629h2M2151 636h2M2151 666h2M2151 680h2M2151 704h2M2151 706h2M2151 722h2M2151 731h2M2151 733h2M2151 737h2M2151 739h2M2151 747h2M2151 753h2M2151 764h2M2151 765h2M2151 766h2M2151 772h2M2151 775h2M2151 777h2M2152 347h2M2152 368h2M2152 375h2M2152 378h2M2152 402h2M2152 482h2M2152 575h2M2152 703h2M2152 706h2M2152 720h2M2152 721h2M2152 737h2M2152 739h2M2152 755h2M2152 762h2M2153 282h2M2153 368h2M2153 378h2M2153 530h2M2153 616h2M2153 682h2M2153 687h2M2153 711h2M2153 721h2M2153 725h2M2153 749h2M2153 750h2M2153 754h2M2153 766h2M2153 769h2M2153 770h2M2153 776h2M2154 349h2M2154 369h2M2154 376h2M2154 382h2M2154 384h2M2154 392h2M2154 606h2M2154 655h2M2154 672h2M2154 688h2M2154 715h2M2154 716h2M2154 726h2M2154 733h2M2154 738h2M2154 747h2M2154 752h2M2154 753h2M2154 757h2M2154 763h2M2154 765h2M2154 775h2M2154 778h2M2155 370h2M2155 526h2M2155 567h2M2155 571h2M2155 643h2M2155 652h2M2155 663h2M2155 683h2M2155 709h2M2155 713h2M2155 731h2M2155 734h2M2155 735h2M2155 736h2M2155 739h2M2155 748h2M2155 750h2M2155 751h2M2155 754h2M2155 757h2M2155 768h2M2155 773h2M2155 775h2M2155 778h2M2156 300h2M2156 363h2M2156 369h2M2156 370h2M2156 371h2M2156 373h2M2156 374h2M2156 376h2M2156 377h2M2156 379h2M2156 384h2M2156 452h2M2156 603h2M2156 647h2M2156 648h2M2156 656h2M2156 671h2M2156 681h2M2156 703h2M2156 724h2M2156 728h2M2156 730h2M2156 731h2M2156 734h2M2156 751h2M2156 756h2M2156 760h2M2156 763h2M2156 772h2M2156 774h2M2157 335h2M2157 348h2M2157 364h2M2157 366h2M2157 371h2M2157 372h2M2157 375h2M2157 376h2M2157 382h2M2157 505h2M2157 598h2M2157 655h2M2157 700h2M2157 703h2M2157 719h2M2157 721h2M2157 737h2M2157 740h2M2157 741h2M2157 745h2M2157 746h2M2157 749h2M2157 750h2M2157 752h2M2157 754h2M2157 765h2M2157 770h2M2157 771h2M2158 361h2M2158 370h2M2158 375h2M2158 376h2M2158 378h2M2158 478h2M2158 556h2M2158 600h2M2158 625h2M2158 628h2M2158 651h2M2158 670h2M2158 671h2M2158 674h2M2158 700h2M2158 726h2M2158 731h2M2158 742h2M2158 744h2M2158 745h2M2158 746h2M2158 759h2M2158 764h2M2158 768h2M2158 774h2M2159 369h2M2159 371h2M2159 379h2M2159 598h2M2159 605h2M2159 607h2M2159 616h2M2159 628h2M2159 674h2M2159 678h2M2159 691h2M2159 697h2M2159 720h2M2159 728h2M2159 743h2M2159 747h2M2159 753h2M2159 762h2M2159 764h2M2159 767h2M2159 771h2M2159 778h2M2160 335h2M2160 357h2M2160 359h2M2160 361h2M2160 368h2M2160 373h2M2160 377h2M2160 378h2M2160 379h2M2160 382h2M2160 383h2M2160 385h2M2160 451h2M2160 462h2M2160 621h2M2160 664h2M2160 724h2M2160 729h2M2160 735h2M2160 749h2M2160 753h2M2160 757h2M2160 758h2M2160 766h2M2160 768h2M2160 770h2M2160 775h2M2161 367h2M2161 368h2M2161 371h2M2161 374h2M2161 375h2M2161 384h2M2161 451h2M2161 454h2M2161 592h2M2161 623h2M2161 625h2M2161 652h2M2161 695h2M2161 700h2M2161 702h2M2161 723h2M2161 741h2M2161 750h2M2161 757h2M2161 767h2M2161 769h2M2161 772h2M2162 357h2M2162 362h2M2162 367h2M2162 368h2M2162 380h2M2162 381h2M2162 382h2M2162 384h2M2162 390h2M2162 391h2M2162 652h2M2162 679h2M2162 682h2M2162 683h2M2162 691h2M2162 711h2M2162 740h2M2162 741h2M2162 753h2M2162 759h2M2162 765h2M2162 767h2M2162 768h2M2162 769h2M2162 770h2M2163 354h2M2163 359h2M2163 365h2M2163 366h2M2163 368h2M2163 371h2M2163 372h2M2163 373h2M2163 377h2M2163 380h2M2163 399h2M2163 443h2M2163 541h2M2163 558h2M2163 607h2M2163 639h2M2163 653h2M2163 672h2M2163 677h2M2163 682h2M2163 730h2M2163 732h2M2163 740h2M2163 753h2M2163 760h2M2163 762h2M2163 767h2M2163 768h2M2163 777h2M2163 778h2M2164 354h2M2164 359h2M2164 365h2M2164 368h2M2164 370h2M2164 375h2M2164 377h2M2164 383h2M2164 385h2M2164 596h2M2164 607h2M2164 612h2M2164 615h2M2164 641h2M2164 647h2M2164 726h2M2164 727h2M2164 729h2M2164 731h2M2164 734h2M2164 737h2M2164 738h2M2164 739h2M2164 747h2M2164 754h2M2164 772h2M2164 776h2M2165 330h2M2165 358h2M2165 362h2M2165 365h2M2165 369h2M2165 371h2M2165 375h2M2165 382h2M2165 387h2M2165 614h2M2165 619h2M2165 622h2M2165 634h2M2165 647h2M2165 696h2M2165 699h2M2165 702h2M2165 715h2M2165 722h2M2165 743h2M2165 751h2M2165 755h2M2165 757h2M2165 760h2M2165 762h2M2165 765h2M2165 774h2M2165 776h2M2166 339h2M2166 356h2M2166 362h2M2166 369h2M2166 371h2M2166 373h2M2166 377h2M2166 379h2M2166 381h2M2166 581h2M2166 587h2M2166 590h2M2166 645h2M2166 668h2M2166 698h2M2166 731h2M2166 733h2M2166 739h2M2166 741h2M2166 744h2M2166 746h2M2166 747h2M2166 751h2M2166 772h2M2167 352h2M2167 364h2M2167 367h2M2167 368h2M2167 370h2M2167 372h2M2167 373h2M2167 376h2M2167 384h2M2167 390h2M2167 552h2M2167 558h2M2167 619h2M2167 639h2M2167 654h2M2167 688h2M2167 694h2M2167 713h2M2167 720h2M2167 727h2M2167 731h2M2167 734h2M2167 736h2M2167 751h2M2167 757h2M2167 763h2M2167 765h2M2167 770h2M2167 776h2M2168 349h2M2168 359h2M2168 365h2M2168 369h2M2168 370h2M2168 373h2M2168 374h2M2168 377h2M2168 476h2M2168 513h2M2168 581h2M2168 671h2M2168 675h2M2168 705h2M2168 716h2M2168 729h2M2168 730h2M2168 736h2M2168 740h2M2168 742h2M2168 750h2M2168 757h2M2168 764h2M2169 351h2M2169 355h2M2169 358h2M2169 359h2M2169 361h2M2169 366h2M2169 368h2M2169 369h2M2169 371h2M2169 374h2M2169 389h2M2169 505h2M2169 542h2M2169 608h2M2169 659h2M2169 661h2M2169 670h2M2169 671h2M2169 705h2M2169 713h2M2169 729h2M2169 732h2M2169 738h2M2169 741h2M2169 743h2M2169 744h2M2169 745h2M2169 751h2M2169 753h2M2169 758h2M2169 759h2M2169 760h2M2169 761h2M2169 763h2M2170 335h2M2170 355h2M2170 361h2M2170 362h2M2170 366h2M2170 368h2M2170 374h2M2170 378h2M2170 439h2M2170 491h2M2170 690h2M2170 692h2M2170 718h2M2170 735h2M2170 757h2M2170 758h2M2170 765h2M2170 767h2M2170 770h2M2170 772h2M2170 778h2M2171 324h2M2171 342h2M2171 358h2M2171 360h2M2171 361h2M2171 362h2M2171 363h2M2171 366h2M2171 372h2M2171 378h2M2171 381h2M2171 382h2M2171 386h2M2171 388h2M2171 389h2M2171 473h2M2171 556h2M2171 607h2M2171 612h2M2171 649h2M2171 666h2M2171 675h2M2171 692h2M2171 705h2M2171 721h2M2171 724h2M2171 726h2M2171 729h2M2171 734h2M2171 750h2M2171 776h2M2172 343h2M2172 354h2M2172 356h2M2172 363h2M2172 367h2M2172 375h2M2172 379h2M2172 540h2M2172 576h2M2172 595h2M2172 661h2M2172 682h2M2172 695h2M2172 705h2M2172 706h2M2172 715h2M2172 744h2M2172 751h2M2172 761h2M2172 764h2M2173 339h2M2173 362h2M2173 364h2M2173 365h2M2173 367h2M2173 369h2M2173 377h2M2173 380h2M2173 384h2M2173 513h2M2173 640h2M2173 653h2M2173 664h2M2173 695h2M2173 710h2M2173 715h2M2173 717h2M2173 732h2M2173 734h2M2173 745h2M2173 760h2M2173 771h2M2174 343h2M2174 356h2M2174 358h2M2174 361h2M2174 364h2M2174 366h2M2174 369h2M2174 373h2M2174 380h2M2174 382h2M2174 410h2M2174 524h2M2174 536h2M2174 605h2M2174 630h2M2174 631h2M2174 664h2M2174 681h2M2174 695h2M2174 710h2M2174 715h2M2174 717h2M2174 730h2M2174 745h2M2174 762h2M2174 765h2M2174 767h2M2174 775h2M2175 336h2M2175 342h2M2175 351h2M2175 361h2M2175 363h2M2175 364h2M2175 366h2M2175 367h2M2175 368h2M2175 369h2M2175 370h2M2175 371h2M2175 372h2M2175 374h2M2175 377h2M2175 378h2M2175 414h2M2175 568h2M2175 586h2M2175 627h2M2175 643h2M2175 658h2M2175 659h2M2175 661h2M2175 663h2M2175 664h2M2175 669h2M2175 690h2M2175 717h2M2175 728h2M2175 731h2M2175 747h2M2175 748h2M2176 347h2M2176 353h2M2176 360h2M2176 362h2M2176 365h2M2176 366h2M2176 367h2M2176 368h2M2176 371h2M2176 373h2M2176 377h2M2176 378h2M2176 380h2M2176 384h2M2176 385h2M2176 561h2M2176 573h2M2176 588h2M2176 624h2M2176 661h2M2176 664h2M2176 665h2M2176 683h2M2176 734h2M2176 737h2M2176 744h2M2176 745h2M2176 747h2M2176 750h2M2176 754h2M2176 761h2M2176 762h2M2176 766h2M2176 769h2M2177 360h2M2177 361h2M2177 362h2M2177 363h2M2177 365h2M2177 367h2M2177 370h2M2177 371h2M2177 372h2M2177 374h2M2177 379h2M2177 381h2M2177 384h2M2177 385h2M2177 427h2M2177 594h2M2177 607h2M2177 665h2M2177 670h2M2177 672h2M2177 703h2M2177 732h2M2177 750h2M2177 752h2M2177 753h2M2177 755h2M2177 757h2M2177 760h2M2177 766h2M2177 778h2M2178 344h2M2178 355h2M2178 361h2M2178 363h2M2178 364h2M2178 367h2M2178 369h2M2178 372h2M2178 376h2M2178 378h2M2178 381h2M2178 391h2M2178 452h2M2178 522h2M2178 663h2M2178 707h2M2178 710h2M2178 711h2M2178 738h2M2178 752h2M2178 758h2M2178 760h2M2178 764h2M2178 770h2M2178 777h2M2179 347h2M2179 356h2M2179 357h2M2179 358h2M2179 362h2M2179 365h2M2179 367h2M2179 368h2M2179 369h2M2179 373h2M2179 380h2M2179 383h2M2179 424h2M2179 511h2M2179 610h2M2179 627h2M2179 662h2M2179 681h2M2179 703h2M2179 711h2M2179 739h2M2179 749h2M2179 778h2M2180 355h2M2180 357h2M2180 358h2M2180 360h2M2180 363h2M2180 364h2M2180 365h2M2180 366h2M2180 371h2M2180 372h2M2180 374h2M2180 375h2M2180 379h2M2180 380h2M2180 475h2M2180 495h2M2180 608h2M2180 620h2M2180 641h2M2180 670h2M2180 716h2M2180 732h2M2180 747h2M2180 754h2M2180 760h2M2180 763h2M2180 766h2M2180 777h2M2180 778h2M2181 312h2M2181 346h2M2181 350h2M2181 351h2M2181 355h2M2181 357h2M2181 362h2M2181 363h2M2181 369h2M2181 370h2M2181 371h2M2181 372h2M2181 373h2M2181 374h2M2181 376h2M2181 377h2M2181 387h2M2181 564h2M2181 650h2M2181 665h2M2181 676h2M2181 694h2M2181 696h2M2181 705h2M2181 726h2M2181 731h2M2181 747h2M2181 752h2M2181 753h2M2181 754h2M2181 767h2M2182 343h2M2182 362h2M2182 363h2M2182 364h2M2182 365h2M2182 366h2M2182 367h2M2182 368h2M2182 369h2M2182 373h2M2182 379h2M2182 380h2M2182 452h2M2182 527h2M2182 577h2M2182 624h2M2182 629h2M2182 640h2M2182 645h2M2182 650h2M2182 685h2M2182 691h2M2182 746h2M2182 758h2M2182 765h2M2182 777h2M2183 334h2M2183 340h2M2183 356h2M2183 357h2M2183 358h2M2183 359h2M2183 362h2M2183 363h2M2183 364h2M2183 365h2M2183 369h2M2183 370h2M2183 374h2M2183 376h2M2183 386h2M2183 405h2M2183 496h2M2183 641h2M2183 650h2M2183 652h2M2183 675h2M2183 677h2M2183 712h2M2183 732h2M2183 744h2M2183 752h2M2183 760h2M2183 773h2M2184 335h2M2184 340h2M2184 348h2M2184 360h2M2184 362h2M2184 363h2M2184 370h2M2184 373h2M2184 374h2M2184 375h2M2184 379h2M2184 408h2M2184 447h2M2184 544h2M2184 635h2M2184 651h2M2184 692h2M2184 693h2M2184 703h2M2184 711h2M2184 732h2M2184 737h2M2184 742h2M2184 746h2M2184 749h2M2184 752h2M2184 768h2M2184 775h2M2185 356h2M2185 359h2M2185 361h2M2185 364h2M2185 366h2M2185 371h2M2185 372h2M2185 374h2M2185 375h2M2185 376h2M2185 377h2M2185 378h2M2185 380h2M2185 498h2M2185 589h2M2185 612h2M2185 615h2M2185 654h2M2185 655h2M2185 681h2M2185 736h2M2185 737h2M2185 750h2M2185 759h2M2185 764h2M2186 346h2M2186 347h2M2186 355h2M2186 356h2M2186 357h2M2186 358h2M2186 364h2M2186 365h2M2186 366h2M2186 367h2M2186 368h2M2186 369h2M2186 370h2M2186 372h2M2186 373h2M2186 375h2M2186 376h2M2186 378h2M2186 379h2M2186 380h2M2186 506h2M2186 686h2M2186 695h2M2186 719h2M2186 731h2M2186 763h2M2186 777h2M2187 356h2M2187 358h2M2187 359h2M2187 360h2M2187 362h2M2187 363h2M2187 365h2M2187 366h2M2187 367h2M2187 368h2M2187 370h2M2187 371h2M2187 372h2M2187 373h2M2187 377h2M2187 380h2M2187 383h2M2187 408h2M2187 529h2M2187 543h2M2187 567h2M2187 612h2M2187 624h2M2187 682h2M2187 684h2M2187 690h2M2187 730h2M2187 734h2M2187 744h2M2187 747h2M2187 775h2M2187 777h2M2188 348h2M2188 352h2M2188 355h2M2188 356h2M2188 362h2M2188 363h2M2188 364h2M2188 367h2M2188 371h2M2188 372h2M2188 376h2M2188 377h2M2188 378h2M2188 381h2M2188 391h2M2188 404h2M2188 525h2M2188 542h2M2188 599h2M2188 615h2M2188 620h2M2188 667h2M2188 672h2M2188 684h2M2188 722h2M2188 734h2M2188 736h2M2188 757h2M2188 758h2M2189 297h2M2189 357h2M2189 358h2M2189 359h2M2189 361h2M2189 362h2M2189 364h2M2189 366h2M2189 368h2M2189 369h2M2189 370h2M2189 374h2M2189 377h2M2189 379h2M2189 380h2M2189 381h2M2189 385h2M2189 624h2M2189 632h2M2189 657h2M2189 671h2M2189 701h2M2189 711h2M2189 720h2M2189 723h2M2189 730h2M2189 745h2M2189 747h2M2189 759h2M2189 761h2M2189 763h2M2190 344h2M2190 348h2M2190 355h2M2190 360h2M2190 361h2M2190 362h2M2190 363h2M2190 365h2M2190 367h2M2190 369h2M2190 371h2M2190 372h2M2190 374h2M2190 376h2M2190 377h2M2190 378h2M2190 483h2M2190 580h2M2190 583h2M2190 601h2M2190 621h2M2190 632h2M2190 642h2M2190 644h2M2190 648h2M2190 690h2M2190 700h2M2190 745h2M2190 751h2M2191 347h2M2191 348h2M2191 351h2M2191 352h2M2191 354h2M2191 355h2M2191 362h2M2191 365h2M2191 366h2M2191 367h2M2191 368h2M2191 370h2M2191 371h2M2191 372h2M2191 373h2M2191 374h2M2191 516h2M2191 551h2M2191 585h2M2191 740h2M2191 749h2M2191 759h2M2191 770h2M2191 774h2M2192 356h2M2192 359h2M2192 361h2M2192 362h2M2192 364h2M2192 365h2M2192 369h2M2192 371h2M2192 372h2M2192 373h2M2192 374h2M2192 375h2M2192 376h2M2192 405h2M2192 413h2M2192 549h2M2192 595h2M2192 626h2M2192 660h2M2192 723h2M2192 728h2M2192 741h2M2192 758h2M2193 364h2M2193 365h2M2193 367h2M2193 368h2M2193 369h2M2193 370h2M2193 371h2M2193 372h2M2193 373h2M2193 374h2M2193 381h2M2193 443h2M2193 450h2M2193 540h2M2193 583h2M2193 679h2M2193 758h2M2193 765h2M2193 767h2M2193 778h2M2194 352h2M2194 354h2M2194 355h2M2194 356h2M2194 358h2M2194 359h2M2194 360h2M2194 361h2M2194 362h2M2194 363h2M2194 364h2M2194 365h2M2194 366h2M2194 367h2M2194 368h2M2194 369h2M2194 372h2M2194 373h2M2194 375h2M2194 380h2M2194 435h2M2194 501h2M2194 557h2M2194 696h2M2194 721h2M2194 732h2M2194 748h2M2194 756h2M2194 762h2M2194 764h2M2194 772h2M2194 777h2M2195 354h2M2195 355h2M2195 356h2M2195 357h2M2195 359h2M2195 360h2M2195 362h2M2195 363h2M2195 364h2M2195 367h2M2195 368h2M2195 369h2M2195 370h2M2195 371h2M2195 373h2M2195 375h2M2195 377h2M2195 378h2M2195 535h2M2195 602h2M2195 616h2M2195 656h2M2195 681h2M2195 690h2M2195 713h2M2195 753h2M2196 356h2M2196 358h2M2196 361h2M2196 362h2M2196 363h2M2196 364h2M2196 365h2M2196 367h2M2196 368h2M2196 371h2M2196 375h2M2196 376h2M2196 377h2M2196 378h2M2196 384h2M2196 588h2M2196 621h2M2196 689h2M2196 704h2M2196 709h2M2196 736h2M2196 764h2M2196 776h2M2197 322h2M2197 356h2M2197 357h2M2197 358h2M2197 359h2M2197 361h2M2197 362h2M2197 364h2M2197 366h2M2197 367h2M2197 372h2M2197 373h2M2197 374h2M2197 375h2M2197 501h2M2197 580h2M2197 634h2M2197 705h2M2197 711h2M2197 730h2M2197 739h2M2197 748h2M2197 751h2M2197 777h2M2198 328h2M2198 335h2M2198 351h2M2198 353h2M2198 356h2M2198 359h2M2198 360h2M2198 362h2M2198 364h2M2198 365h2M2198 367h2M2198 368h2M2198 369h2M2198 370h2M2198 371h2M2198 375h2M2198 376h2M2198 381h2M2198 383h2M2198 509h2M2198 670h2M2198 699h2M2198 742h2M2198 748h2M2199 325h2M2199 348h2M2199 358h2M2199 359h2M2199 360h2M2199 361h2M2199 362h2M2199 364h2M2199 365h2M2199 366h2M2199 367h2M2199 368h2M2199 369h2M2199 372h2M2199 373h2M2199 375h2M2199 394h2M2199 400h2M2199 470h2M2199 642h2M2199 748h2M2199 765h2M2200 344h2M2200 349h2M2200 350h2M2200 352h2M2200 354h2M2200 356h2M2200 357h2M2200 358h2M2200 360h2M2200 361h2M2200 362h2M2200 363h2M2200 364h2M2200 365h2M2200 366h2M2200 367h2M2200 368h2M2200 370h2M2200 371h2M2200 373h2M2200 375h2M2200 376h2M2200 381h2M2200 402h2M2200 410h2M2200 411h2M2200 637h2M2200 662h2M2200 669h2M2200 670h2M2200 691h2M2200 693h2M2200 711h2M2200 729h2M2200 737h2M2200 740h2M2201 342h2M2201 349h2M2201 352h2M2201 353h2M2201 355h2M2201 356h2M2201 357h2M2201 360h2M2201 361h2M2201 363h2M2201 364h2M2201 366h2M2201 367h2M2201 368h2M2201 370h2M2201 371h2M2201 373h2M2201 374h2M2201 375h2M2201 379h2M2201 387h2M2201 404h2M2201 433h2M2201 434h2M2201 581h2M2201 586h2M2201 667h2M2201 717h2M2201 766h2M2201 778h2M2202 339h2M2202 347h2M2202 360h2M2202 361h2M2202 362h2M2202 363h2M2202 364h2M2202 366h2M2202 367h2M2202 368h2M2202 371h2M2202 372h2M2202 373h2M2202 379h2M2202 655h2M2202 663h2M2202 707h2M2202 746h2M2202 770h2M2203 335h2M2203 354h2M2203 355h2M2203 357h2M2203 358h2M2203 359h2M2203 360h2M2203 363h2M2203 364h2M2203 365h2M2203 367h2M2203 369h2M2203 370h2M2203 371h2M2203 375h2M2203 376h2M2203 378h2M2203 384h2M2203 634h2M2203 642h2M2203 664h2M2203 667h2M2203 690h2M2203 700h2M2203 759h2M2204 340h2M2204 346h2M2204 350h2M2204 351h2M2204 354h2M2204 355h2M2204 357h2M2204 359h2M2204 360h2M2204 361h2M2204 362h2M2204 365h2M2204 366h2M2204 367h2M2204 369h2M2204 370h2M2204 372h2M2204 375h2M2204 376h2M2204 378h2M2204 381h2M2204 720h2M2204 724h2M2204 732h2M2204 771h2M2205 306h2M2205 347h2M2205 353h2M2205 354h2M2205 355h2M2205 357h2M2205 358h2M2205 359h2M2205 360h2M2205 361h2M2205 362h2M2205 363h2M2205 364h2M2205 366h2M2205 367h2M2205 371h2M2205 374h2M2205 377h2M2205 381h2M2205 553h2M2205 697h2M2205 737h2M2205 750h2M2206 351h2M2206 353h2M2206 354h2M2206 356h2M2206 357h2M2206 358h2M2206 359h2M2206 360h2M2206 361h2M2206 362h2M2206 363h2M2206 365h2M2206 366h2M2206 369h2M2206 371h2M2206 372h2M2206 561h2M2206 619h2M2206 677h2M2206 680h2M2207 330h2M2207 348h2M2207 350h2M2207 351h2M2207 354h2M2207 358h2M2207 360h2M2207 361h2M2207 362h2M2207 363h2M2207 364h2M2207 365h2M2207 366h2M2207 367h2M2207 368h2M2207 371h2M2207 374h2M2207 378h2M2207 579h2M2207 601h2M2207 623h2M2207 633h2M2207 692h2M2207 720h2M2207 722h2M2207 753h2M2207 777h2M2208 336h2M2208 338h2M2208 350h2M2208 352h2M2208 356h2M2208 357h2M2208 359h2M2208 360h2M2208 361h2M2208 362h2M2208 363h2M2208 364h2M2208 365h2M2208 366h2M2208 367h2M2208 369h2M2208 370h2M2208 371h2M2208 372h2M2208 374h2M2208 384h2M2208 528h2M2208 536h2M2208 646h2M2208 684h2M2208 689h2M2208 738h2M2208 758h2M2209 309h2M2209 344h2M2209 354h2M2209 355h2M2209 356h2M2209 357h2M2209 358h2M2209 359h2M2209 360h2M2209 362h2M2209 365h2M2209 366h2M2209 369h2M2209 374h2M2209 375h2M2209 377h2M2209 384h2M2209 403h2M2209 643h2M2209 647h2M2209 713h2M2209 720h2M2209 721h2M2209 748h2M2209 771h2M2209 778h2M2210 351h2M2210 354h2M2210 357h2M2210 358h2M2210 359h2M2210 360h2M2210 361h2M2210 363h2M2210 364h2M2210 365h2M2210 367h2M2210 368h2M2210 370h2M2210 371h2M2210 372h2M2210 373h2M2210 378h2M2210 477h2M2210 686h2M2210 700h2M2211 294h2M2211 336h2M2211 350h2M2211 351h2M2211 352h2M2211 353h2M2211 354h2M2211 355h2M2211 357h2M2211 359h2M2211 360h2M2211 362h2M2211 363h2M2211 364h2M2211 366h2M2211 367h2M2211 368h2M2211 369h2M2211 370h2M2211 371h2M2211 374h2M2211 590h2M2211 713h2M2211 734h2M2211 767h2M2212 330h2M2212 348h2M2212 349h2M2212 354h2M2212 355h2M2212 356h2M2212 357h2M2212 358h2M2212 360h2M2212 361h2M2212 363h2M2212 364h2M2212 365h2M2212 366h2M2212 367h2M2212 368h2M2212 369h2M2212 370h2M2212 371h2M2212 372h2M2212 373h2M2212 382h2M2212 403h2M2212 503h2M2212 509h2M2212 596h2M2212 600h2M2212 708h2M2212 760h2M2212 768h2M2213 340h2M2213 349h2M2213 353h2M2213 354h2M2213 355h2M2213 356h2M2213 358h2M2213 359h2M2213 360h2M2213 361h2M2213 363h2M2213 364h2M2213 365h2M2213 366h2M2213 368h2M2213 371h2M2213 372h2M2213 374h2M2213 375h2M2213 377h2M2213 387h2M2213 576h2M2213 592h2M2213 648h2M2213 723h2M2213 734h2M2213 744h2M2214 325h2M2214 336h2M2214 351h2M2214 354h2M2214 357h2M2214 360h2M2214 362h2M2214 365h2M2214 366h2M2214 367h2M2214 369h2M2214 371h2M2214 374h2M2214 630h2M2214 769h2M2215 349h2M2215 351h2M2215 355h2M2215 357h2M2215 358h2M2215 359h2M2215 363h2M2215 365h2M2215 367h2M2215 368h2M2215 369h2M2215 371h2M2215 374h2M2215 568h2M2215 650h2M2215 668h2M2215 672h2M2216 340h2M2216 351h2M2216 356h2M2216 358h2M2216 359h2M2216 361h2M2216 363h2M2216 364h2M2216 367h2M2216 368h2M2216 382h2M2216 383h2M2216 389h2M2216 581h2M2216 641h2M2216 658h2M2216 716h2M2216 769h2M2217 340h2M2217 348h2M2217 352h2M2217 353h2M2217 354h2M2217 356h2M2217 357h2M2217 358h2M2217 359h2M2217 361h2M2217 363h2M2217 365h2M2217 366h2M2217 367h2M2217 369h2M2217 371h2M2217 372h2M2217 374h2M2217 378h2M2217 387h2M2217 397h2M2217 733h2M2217 759h2M2218 327h2M2218 345h2M2218 354h2M2218 355h2M2218 357h2M2218 359h2M2218 360h2M2218 361h2M2218 362h2M2218 363h2M2218 364h2M2218 365h2M2218 367h2M2218 368h2M2218 376h2M2218 378h2M2218 379h2M2218 394h2M2218 568h2M2218 666h2M2219 275h2M2219 284h2M2219 346h2M2219 349h2M2219 352h2M2219 353h2M2219 355h2M2219 356h2M2219 358h2M2219 359h2M2219 360h2M2219 361h2M2219 362h2M2219 364h2M2219 365h2M2219 366h2M2219 369h2M2219 372h2M2219 517h2M2219 519h2M2219 592h2M2219 595h2M2219 671h2M2220 350h2M2220 352h2M2220 356h2M2220 357h2M2220 359h2M2220 360h2M2220 361h2M2220 362h2M2220 364h2M2220 365h2M2220 366h2M2220 367h2M2220 369h2M2220 370h2M2220 373h2M2220 386h2M2220 554h2M2220 614h2M2220 628h2M2220 655h2M2220 761h2M2221 332h2M2221 343h2M2221 355h2M2221 356h2M2221 358h2M2221 359h2M2221 360h2M2221 361h2M2221 364h2M2221 365h2M2221 366h2M2221 369h2M2221 370h2M2221 371h2M2221 372h2M2221 382h2M2221 572h2M2221 611h2M2221 648h2M2221 710h2M2221 728h2M2222 333h2M2222 343h2M2222 346h2M2222 347h2M2222 348h2M2222 354h2M2222 355h2M2222 356h2M2222 358h2M2222 360h2M2222 363h2M2222 364h2M2222 365h2M2222 366h2M2222 367h2M2222 368h2M2222 370h2M2222 372h2M2222 373h2M2222 517h2M2222 531h2M2222 536h2M2223 338h2M2223 353h2M2223 354h2M2223 355h2M2223 356h2M2223 358h2M2223 360h2M2223 362h2M2223 363h2M2223 365h2M2223 367h2M2223 370h2M2223 371h2M2223 373h2M2223 376h2M2223 636h2M2223 716h2M2223 753h2M2223 755h2M2224 260h2M2224 325h2M2224 337h2M2224 339h2M2224 351h2M2224 352h2M2224 354h2M2224 355h2M2224 357h2M2224 358h2M2224 359h2M2224 360h2M2224 361h2M2224 362h2M2224 364h2M2224 369h2M2224 377h2M2224 460h2M2224 544h2M2224 705h2M2225 344h2M2225 352h2M2225 353h2M2225 356h2M2225 357h2M2225 358h2M2225 359h2M2225 362h2M2225 364h2M2225 365h2M2225 366h2M2225 367h2M2225 369h2M2225 370h2M2225 371h2M2225 374h2M2225 734h2M2225 778h2M2226 328h2M2226 337h2M2226 342h2M2226 346h2M2226 349h2M2226 354h2M2226 357h2M2226 360h2M2226 361h2M2226 364h2M2226 365h2M2226 367h2M2226 370h2M2226 373h2M2226 380h2M2226 505h2M2226 646h2M2227 351h2M2227 353h2M2227 354h2M2227 355h2M2227 361h2M2227 363h2M2227 365h2M2227 366h2M2227 367h2M2227 372h2M2227 386h2M2227 393h2M2227 463h2M2227 547h2M2227 642h2M2227 757h2M2228 339h2M2228 342h2M2228 345h2M2228 346h2M2228 352h2M2228 353h2M2228 354h2M2228 356h2M2228 357h2M2228 358h2M2228 359h2M2228 361h2M2228 362h2M2228 363h2M2228 365h2M2228 367h2M2228 368h2M2228 375h2M2228 385h2M2228 411h2M2228 414h2M2228 641h2M2229 335h2M2229 348h2M2229 352h2M2229 354h2M2229 356h2M2229 358h2M2229 360h2M2229 361h2M2229 362h2M2229 366h2M2229 368h2M2229 369h2M2229 371h2M2229 374h2M2229 400h2M2229 407h2M2229 778h2M2230 327h2M2230 335h2M2230 347h2M2230 349h2M2230 352h2M2230 353h2M2230 354h2M2230 356h2M2230 357h2M2230 359h2M2230 360h2M2230 363h2M2230 364h2M2230 365h2M2230 366h2M2230 369h2M2230 370h2M2230 373h2M2230 716h2M2231 326h2M2231 349h2M2231 353h2M2231 354h2M2231 355h2M2231 359h2M2231 360h2M2231 361h2M2231 363h2M2231 364h2M2231 365h2M2231 366h2M2231 370h2M2231 377h2M2231 462h2M2231 634h2M2231 651h2M2231 706h2M2232 310h2M2232 316h2M2232 347h2M2232 350h2M2232 353h2M2232 354h2M2232 355h2M2232 356h2M2232 360h2M2232 362h2M2232 364h2M2232 365h2M2232 368h2M2232 369h2M2232 383h2M2232 624h2M2232 671h2M2233 324h2M2233 347h2M2233 352h2M2233 354h2M2233 355h2M2233 356h2M2233 358h2M2233 359h2M2233 360h2M2233 362h2M2233 365h2M2233 366h2M2233 368h2M2233 369h2M2233 370h2M2233 376h2M2233 379h2M2233 431h2M2234 335h2M2234 339h2M2234 344h2M2234 345h2M2234 348h2M2234 349h2M2234 354h2M2234 355h2M2234 357h2M2234 360h2M2234 366h2M2234 367h2M2234 368h2M2234 384h2M2234 386h2M2234 549h2M2234 656h2M2234 689h2M2234 727h2M2235 312h2M2235 328h2M2235 346h2M2235 350h2M2235 351h2M2235 353h2M2235 355h2M2235 359h2M2235 360h2M2235 361h2M2235 362h2M2235 364h2M2235 368h2M2235 370h2M2235 372h2M2235 376h2M2235 705h2M2235 710h2M2236 324h2M2236 334h2M2236 345h2M2236 349h2M2236 355h2M2236 356h2M2236 358h2M2236 359h2M2236 360h2M2236 362h2M2236 363h2M2236 364h2M2236 367h2M2236 370h2M2236 374h2M2236 702h2M2237 354h2M2237 355h2M2237 357h2M2237 358h2M2237 359h2M2237 361h2M2237 362h2M2237 364h2M2237 371h2M2237 372h2M2237 373h2M2237 376h2M2237 378h2M2238 316h2M2238 337h2M2238 352h2M2238 354h2M2238 355h2M2238 356h2M2238 357h2M2238 358h2M2238 365h2M2238 366h2M2238 367h2M2238 369h2M2238 370h2M2238 373h2M2238 632h2M2239 335h2M2239 338h2M2239 349h2M2239 353h2M2239 360h2M2239 363h2M2239 366h2M2239 370h2M2239 376h2M2239 384h2M2239 438h2M2239 471h2M2239 547h2M2239 708h2M2240 342h2M2240 350h2M2240 355h2M2240 358h2M2240 359h2M2240 360h2M2240 361h2M2240 364h2M2240 369h2M2240 375h2M2240 428h2M2240 751h2M2240 769h2M2241 347h2M2241 352h2M2241 354h2M2241 356h2M2241 363h2M2241 371h2M2241 373h2M2241 389h2M2241 590h2M2242 323h2M2242 329h2M2242 343h2M2242 349h2M2242 353h2M2242 354h2M2242 355h2M2242 356h2M2242 357h2M2242 360h2M2242 362h2M2242 366h2M2242 370h2M2242 376h2M2242 394h2M2242 500h2M2243 339h2M2243 345h2M2243 348h2M2243 353h2M2243 358h2M2243 369h2M2243 379h2M2243 390h2M2243 637h2M2244 324h2M2244 327h2M2244 343h2M2244 350h2M2244 355h2M2244 359h2M2244 360h2M2244 362h2M2244 369h2M2244 370h2M2244 454h2M2244 488h2M2244 557h2M2244 634h2M2245 339h2M2245 343h2M2245 344h2M2245 349h2M2245 350h2M2245 353h2M2245 358h2M2245 366h2M2245 367h2M2245 371h2M2245 668h2M2245 711h2M2246 339h2M2246 347h2M2246 356h2M2246 358h2M2246 366h2M2247 268h2M2247 341h2M2247 349h2M2247 351h2M2247 360h2M2247 361h2M2247 364h2M2247 365h2M2247 366h2M2247 367h2M2247 572h2M2247 659h2M2247 717h2M2247 734h2M2248 290h2M2248 337h2M2248 338h2M2248 352h2M2248 353h2M2248 355h2M2248 356h2M2248 357h2M2248 358h2M2248 361h2M2248 364h2M2248 367h2M2248 565h2M2248 568h2M2248 670h2M2249 351h2M2249 353h2M2249 356h2M2249 358h2M2249 363h2M2249 729h2M2250 343h2M2250 349h2M2250 356h2M2250 357h2M2250 359h2M2250 362h2M2250 363h2M2250 374h2M2250 376h2M2250 377h2M2250 658h2M2251 308h2M2251 343h2M2251 346h2M2251 348h2M2251 349h2M2251 350h2M2251 358h2M2251 361h2M2251 365h2M2251 374h2M2251 433h2M2252 325h2M2252 338h2M2252 345h2M2252 347h2M2252 351h2M2252 355h2M2252 356h2M2252 357h2M2252 361h2M2252 374h2M2252 394h2M2252 465h2M2252 509h2M2252 632h2M2253 339h2M2253 344h2M2253 351h2M2253 355h2M2253 356h2M2253 357h2M2253 360h2M2253 364h2M2253 369h2M2253 373h2M2253 536h2M2253 688h2M2254 328h2M2254 334h2M2254 354h2M2254 359h2M2254 362h2M2255 340h2M2255 345h2M2255 358h2M2255 361h2M2255 362h2M2255 364h2M2255 373h2M2255 377h2M2256 347h2M2256 349h2M2256 350h2M2256 351h2M2256 357h2M2256 358h2M2256 360h2M2256 363h2M2256 370h2M2257 337h2M2257 356h2M2257 359h2M2257 363h2M2257 369h2M2257 398h2M2257 403h2M2257 465h2M2258 319h2M2258 324h2M2258 354h2M2258 355h2M2258 370h2M2258 374h2M2258 389h2M2259 345h2M2259 347h2M2259 348h2M2259 358h2M2259 360h2M2259 364h2M2259 369h2M2259 371h2M2259 375h2M2259 442h2M2259 769h2M2260 299h2M2260 344h2M2260 346h2M2260 364h2M2260 370h2M2260 373h2M2260 374h2M2260 377h2M2261 309h2M2261 313h2M2261 381h2M2261 434h2M2262 328h2M2262 351h2M2263 345h2M2263 359h2M2263 374h2M2263 408h2M2263 636h2M2264 331h2M2264 364h2M2264 515h2M2265 321h2M2265 335h2M2265 339h2M2265 340h2M2265 344h2M2265 345h2M2265 351h2M2265 354h2M2265 357h2M2265 367h2M2265 372h2M2266 348h2M2266 365h2M2266 366h2M2266 739h2M2267 346h2M2267 355h2M2267 365h2M2268 337h2M2268 341h2M2268 342h2M2268 349h2M2268 352h2M2268 356h2M2268 361h2M2269 334h2M2269 337h2M2269 351h2M2269 393h2M2270 349h2M2270 357h2M2270 364h2M2270 588h2M2271 353h2M2271 358h2M2271 366h2M2271 415h2M2271 572h2M2272 344h2M2272 346h2M2272 351h2M2272 353h2M2272 364h2M2272 374h2M2273 318h2M2273 576h2M2273 586h2M2274 296h2M2274 303h2M2274 321h2M2274 331h2M2274 350h2M2274 383h2M2275 343h2M2275 365h2M2276 338h2M2276 359h2M2276 648h2M2276 698h2M2277 328h2M2277 346h2M2277 349h2M2277 376h2M2277 515h2M2277 578h2M2278 332h2M2278 357h2M2278 358h2M2278 362h2M2278 617h2M2279 338h2M2279 366h2M2280 328h2M2280 339h2M2280 355h2M2280 356h2M2280 358h2M2280 364h2M2280 371h2M2281 314h2M2281 343h2M2281 345h2M2281 352h2M2281 363h2M2281 533h2M2282 280h2M2282 340h2M2282 344h2M2282 364h2M2283 762h2M2284 348h2M2284 369h2M2284 378h2M2285 348h2M2285 363h2M2285 567h2M2286 321h2M2286 341h2M2286 342h2M2286 343h2M2286 349h2M2287 318h2M2287 335h2M2287 357h2M2288 288h2M2288 365h2M2289 577h2M2290 296h2M2290 320h2M2290 327h2M2290 362h2M2290 652h2M2291 354h2M2292 335h2M2292 343h2M2292 347h2M2292 604h2M2293 325h2M2293 332h2M2293 358h2M2293 574h2M2294 338h2M2294 345h2M2295 335h2M2295 336h2M2295 355h2M2296 342h2M2296 373h2M2297 327h2M2297 347h2M2299 280h2M2299 321h2M2299 336h2M2299 718h2M2300 278h2M2300 283h2M2300 333h2M2300 351h2M2300 355h2M2300 368h2M2300 696h2M2301 332h2M2301 356h2M2301 399h2M2302 300h2M2302 337h2M2302 342h2M2302 349h2M2303 643h2M2304 346h2M2304 347h2M2304 352h2M2304 363h2M2304 365h2M2305 349h2M2306 335h2M2306 350h2M2308 262h2M2308 342h2M2308 360h2M2308 527h2M2309 339h2M2309 366h2M2309 377h2M2309 462h2M2310 343h2M2311 320h2M2311 608h2M2312 547h2M2313 281h2M2313 328h2M2314 298h2M2314 324h2M2314 326h2M2314 328h2M2315 410h2M2316 293h2M2316 332h2M2316 447h2M2317 359h2M2317 415h2M2317 577h2M2318 342h2M2318 575h2M2319 405h2M2320 352h2M2320 357h2M2320 403h2M2320 487h2M2320 545h2M2321 290h2M2321 320h2M2321 326h2M2322 294h2M2322 316h2M2322 575h2M2323 340h2M2324 399h2M2324 510h2M2325 336h2M2326 309h2M2326 689h2M2326 752h2M2327 341h2M2327 759h2M2330 370h2M2331 365h2M2333 340h2M2333 725h2M2334 354h2M2334 381h2M2334 445h2M2334 626h2M2336 318h2M2339 340h2M2339 343h2M2340 307h2M2340 413h2M2340 507h2M2340 517h2M2341 330h2M2341 355h2M2342 314h2M2342 561h2M2343 293h2M2344 324h2M2344 701h2M2345 312h2M2345 342h2M2345 407h2M2345 540h2M2346 654h2M2347 294h2M2350 297h2M2350 592h2M2350 719h2M2352 327h2M2354 319h2M2354 558h2M2355 329h2M2356 285h2M2356 596h2M2357 337h2M2357 348h2M2360 446h2M2361 729h2M2363 515h2M2364 467h2M2364 510h2M2366 322h2M2368 332h2M2370 325h2M2370 360h2M2370 393h2M2370 464h2M2373 354h2M2374 302h2M2374 332h2M2374 552h2M2374 736h2M2377 316h2M2378 276h2M2378 487h2M2379 541h2M2379 634h2M2380 571h2M2381 335h2M2381 448h2M2381 581h2M2383 411h2M2386 325h2M2387 563h2M2390 337h2M2390 724h2M2393 356h2M2393 632h2M2394 403h2M2394 427h2M2395 587h2M2396 417h2M2396 482h2M2397 329h2M2397 606h2M2397 646h2M2398 677h2M2398 719h2M2400 283h2M2400 294h2M2400 359h2M2400 474h2M2401 355h2M2404 421h2M2406 373h2M2406 582h2M2406 611h2M2407 554h2M2408 694h2M2410 376h2M2410 555h2M2411 265h2M2412 509h2M2419 488h2M2419 606h2M2420 338h2M2421 687h2M2423 325h2M2423 603h2M2424 352h2M2430 442h2M2431 460h2M2432 470h2M2436 345h2M2438 433h2M2441 519h2M2444 539h2M2451 712h2M2452 622h2M2454 388h2M2455 508h2M2456 298h2M2456 614h2M2457 313h2M2457 328h2M2463 461h2M2467 330h2M2470 579h2M2473 472h2M2474 724h2M2476 427h2M2482 421h2M2483 315h2M2501 633h2M2503 263h2M2503 302h2M2504 313h2M2505 523h2M2506 713h2M2511 544h2M2513 644h2M2514 488h2M2515 676h2M2516 605h2M2518 436h2M2523 691h2M2529 711h2M2541 661h2M2544 305h2M2545 718h2M2546 660h2M2554 495h2M2554 599h2M2555 304h2M2557 693h2M2563 567h2M2563 680h2M2564 637h2M2565 704h2M2571 683h2M2573 590h2M2574 486h2M2578 673h2M2582 568h2M2585 771h2M2597 420h2M2614 595h2M2615 344h2M2618 725h2M2622 726h2M2623 574h2M2624 454h2M2640 354h2M2643 339h2M2654 477h2M2654 742h2" stroke="#e8421a" stroke-width="2"/><path d="M2048 793h2M2049 785h2M2049 788h2M2049 795h2M2050 785h2M2050 792h2M2051 784h2M2052 787h2M2052 791h2M2052 796h2M2052 797h2M2053 419h2M2053 796h2M2054 365h2M2054 784h2M2055 786h2M2055 790h2M2055 793h2M2055 794h2M2055 795h2M2056 784h2M2057 326h2M2057 713h2M2057 793h2M2058 784h2M2058 785h2M2058 787h2M2058 789h2M2058 790h2M2059 785h2M2059 788h2M2059 793h2M2060 780h2M2060 787h2M2060 788h2M2060 789h2M2060 790h2M2060 791h2M2060 793h2M2061 607h2M2061 786h2M2061 791h2M2061 793h2M2062 783h2M2062 785h2M2062 786h2M2062 787h2M2063 739h2M2063 760h2M2063 775h2M2063 783h2M2063 787h2M2064 782h2M2064 789h2M2064 791h2M2064 794h2M2064 795h2M2065 492h2M2065 778h2M2065 783h2M2065 785h2M2065 794h2M2066 502h2M2066 791h2M2066 797h2M2067 383h2M2067 740h2M2067 762h2M2067 791h2M2067 794h2M2067 795h2M2068 381h2M2068 716h2M2068 786h2M2068 787h2M2068 788h2M2068 790h2M2068 791h2M2068 794h2M2069 763h2M2069 786h2M2069 791h2M2069 792h2M2070 781h2M2070 786h2M2070 787h2M2070 790h2M2070 796h2M2071 469h2M2071 714h2M2071 764h2M2071 788h2M2071 789h2M2071 793h2M2071 795h2M2071 797h2M2072 415h2M2072 735h2M2072 744h2M2072 782h2M2072 791h2M2072 795h2M2072 796h2M2073 785h2M2073 794h2M2074 786h2M2074 793h2M2075 783h2M2075 785h2M2075 787h2M2075 788h2M2075 792h2M2075 795h2M2075 796h2M2076 405h2M2076 421h2M2076 781h2M2076 782h2M2076 786h2M2076 787h2M2076 790h2M2076 793h2M2076 795h2M2076 797h2M2077 545h2M2077 781h2M2077 782h2M2077 785h2M2077 789h2M2077 792h2M2077 793h2M2078 661h2M2078 781h2M2078 785h2M2078 788h2M2078 789h2M2078 791h2M2079 581h2M2079 754h2M2079 766h2M2079 777h2M2079 781h2M2079 785h2M2079 786h2M2079 789h2M2079 791h2M2079 793h2M2079 794h2M2079 795h2M2080 781h2M2080 787h2M2080 791h2M2080 795h2M2081 325h2M2081 376h2M2081 775h2M2081 787h2M2081 788h2M2081 789h2M2081 793h2M2081 795h2M2082 436h2M2082 570h2M2082 762h2M2082 779h2M2082 785h2M2082 786h2M2082 789h2M2082 790h2M2082 792h2M2082 794h2M2083 575h2M2083 695h2M2083 741h2M2083 781h2M2083 784h2M2083 788h2M2083 790h2M2083 791h2M2083 793h2M2083 795h2M2083 796h2M2084 580h2M2084 727h2M2084 757h2M2084 764h2M2084 780h2M2084 785h2M2084 787h2M2084 790h2M2084 791h2M2084 793h2M2084 794h2M2085 372h2M2085 684h2M2085 732h2M2085 784h2M2085 788h2M2085 789h2M2085 791h2M2085 793h2M2085 794h2M2086 386h2M2086 529h2M2086 657h2M2086 707h2M2086 751h2M2086 783h2M2086 786h2M2086 792h2M2086 795h2M2086 796h2M2086 797h2M2087 710h2M2087 781h2M2087 784h2M2087 786h2M2087 787h2M2087 788h2M2087 790h2M2087 794h2M2087 795h2M2087 797h2M2088 379h2M2088 731h2M2088 749h2M2088 754h2M2088 781h2M2088 782h2M2088 784h2M2088 786h2M2088 789h2M2088 792h2M2088 793h2M2088 794h2M2088 795h2M2089 727h2M2089 779h2M2089 786h2M2089 789h2M2089 790h2M2089 794h2M2089 795h2M2089 796h2M2090 781h2M2090 782h2M2090 785h2M2090 792h2M2090 793h2M2090 796h2M2091 780h2M2091 785h2M2091 789h2M2091 793h2M2091 794h2M2092 786h2M2092 787h2M2092 789h2M2092 790h2M2092 792h2M2092 793h2M2092 795h2M2093 779h2M2093 784h2M2093 788h2M2093 790h2M2093 791h2M2093 792h2M2093 793h2M2093 796h2M2093 797h2M2094 781h2M2094 785h2M2094 787h2M2094 790h2M2094 793h2M2094 795h2M2094 796h2M2095 783h2M2095 786h2M2095 787h2M2095 789h2M2095 791h2M2095 792h2M2095 793h2M2095 795h2M2095 796h2M2095 797h2M2096 784h2M2096 788h2M2096 790h2M2096 792h2M2096 793h2M2096 796h2M2097 780h2M2097 785h2M2097 786h2M2097 787h2M2097 788h2M2097 790h2M2097 792h2M2097 793h2M2097 795h2M2098 787h2M2098 788h2M2098 789h2M2098 792h2M2098 794h2M2098 796h2M2099 787h2M2099 788h2M2099 789h2M2099 790h2M2099 791h2M2099 792h2M2099 793h2M2099 794h2M2099 795h2M2099 796h2M2100 780h2M2100 783h2M2100 784h2M2100 785h2M2100 788h2M2100 789h2M2100 790h2M2100 793h2M2100 795h2M2101 781h2M2101 782h2M2101 785h2M2101 786h2M2101 787h2M2101 788h2M2101 789h2M2101 790h2M2101 792h2M2101 793h2M2101 794h2M2102 780h2M2102 782h2M2102 785h2M2102 786h2M2102 787h2M2102 788h2M2102 789h2M2102 790h2M2102 791h2M2102 795h2M2102 797h2M2103 784h2M2103 788h2M2103 790h2M2103 791h2M2103 792h2M2103 796h2M2104 779h2M2104 780h2M2104 782h2M2104 787h2M2104 788h2M2104 790h2M2104 791h2M2104 794h2M2104 796h2M2105 780h2M2105 782h2M2105 786h2M2105 788h2M2105 789h2M2105 791h2M2105 794h2M2105 795h2M2105 797h2M2106 784h2M2106 789h2M2106 790h2M2106 794h2M2106 796h2M2107 783h2M2107 785h2M2107 788h2M2107 790h2M2107 791h2M2107 793h2M2107 796h2M2108 784h2M2108 786h2M2108 788h2M2108 791h2M2108 795h2M2109 782h2M2109 783h2M2109 784h2M2109 787h2M2109 790h2M2109 791h2M2109 795h2M2109 796h2M2110 783h2M2110 784h2M2110 786h2M2110 787h2M2110 788h2M2110 789h2M2110 790h2M2110 791h2M2110 792h2M2110 793h2M2110 794h2M2110 797h2M2111 783h2M2111 787h2M2111 791h2M2111 793h2M2111 795h2M2111 796h2M2111 797h2M2112 781h2M2112 782h2M2112 783h2M2112 785h2M2112 787h2M2112 788h2M2112 791h2M2112 792h2M2112 793h2M2112 795h2M2113 779h2M2113 782h2M2113 786h2M2113 787h2M2113 788h2M2113 789h2M2113 790h2M2113 793h2M2113 794h2M2113 795h2M2113 796h2M2114 786h2M2114 792h2M2114 793h2M2114 794h2M2114 796h2M2114 797h2M2115 788h2M2115 789h2M2115 790h2M2115 791h2M2115 792h2M2115 794h2M2115 796h2M2116 782h2M2116 784h2M2116 785h2M2116 788h2M2116 791h2M2116 793h2M2116 794h2M2116 795h2M2117 783h2M2117 784h2M2117 785h2M2117 787h2M2117 790h2M2117 791h2M2117 792h2M2117 795h2M2118 779h2M2118 786h2M2118 787h2M2118 789h2M2118 790h2M2118 792h2M2118 796h2M2118 797h2M2119 785h2M2119 787h2M2119 789h2M2119 790h2M2119 793h2M2119 794h2M2120 781h2M2120 782h2M2120 783h2M2120 785h2M2120 787h2M2120 788h2M2120 790h2M2120 792h2M2120 793h2M2121 782h2M2121 783h2M2121 787h2M2121 790h2M2121 792h2M2121 794h2M2121 795h2M2121 797h2M2122 782h2M2122 784h2M2122 787h2M2122 791h2M2122 792h2M2122 793h2M2122 794h2M2122 795h2M2122 797h2M2123 779h2M2123 782h2M2123 784h2M2123 785h2M2123 786h2M2123 788h2M2123 791h2M2123 792h2M2123 793h2M2123 797h2M2124 779h2M2124 785h2M2124 788h2M2124 790h2M2124 792h2M2124 793h2M2124 795h2M2124 797h2M2125 780h2M2125 786h2M2125 789h2M2125 790h2M2125 791h2M2125 792h2M2125 793h2M2125 794h2M2125 795h2M2125 796h2M2126 781h2M2126 783h2M2126 785h2M2126 786h2M2126 788h2M2126 789h2M2126 790h2M2126 792h2M2126 793h2M2126 794h2M2126 797h2M2127 781h2M2127 783h2M2127 784h2M2127 786h2M2127 788h2M2127 789h2M2127 790h2M2127 792h2M2127 794h2M2127 795h2M2127 796h2M2127 797h2M2128 779h2M2128 785h2M2128 786h2M2128 787h2M2128 789h2M2128 790h2M2128 791h2M2128 792h2M2128 793h2M2128 794h2M2129 781h2M2129 783h2M2129 785h2M2129 788h2M2129 789h2M2129 790h2M2129 791h2M2129 793h2M2129 795h2M2129 796h2M2130 779h2M2130 784h2M2130 785h2M2130 787h2M2130 789h2M2130 790h2M2130 792h2M2130 793h2M2130 796h2M2130 797h2M2131 779h2M2131 780h2M2131 783h2M2131 786h2M2131 787h2M2131 789h2M2131 790h2M2131 792h2M2131 793h2M2131 794h2M2131 795h2M2131 796h2M2132 780h2M2132 785h2M2132 786h2M2132 787h2M2132 788h2M2132 789h2M2132 790h2M2132 791h2M2132 795h2M2132 796h2M2133 783h2M2133 788h2M2133 789h2M2133 791h2M2133 793h2M2133 794h2M2133 795h2M2133 796h2M2133 797h2M2134 782h2M2134 785h2M2134 786h2M2134 788h2M2134 790h2M2134 791h2M2134 792h2M2134 794h2M2134 795h2M2134 797h2M2135 781h2M2135 782h2M2135 783h2M2135 784h2M2135 785h2M2135 787h2M2135 790h2M2135 791h2M2135 792h2M2135 793h2M2135 796h2M2135 797h2M2136 783h2M2136 785h2M2136 786h2M2136 787h2M2136 788h2M2136 789h2M2136 791h2M2136 794h2M2136 795h2M2136 797h2M2137 780h2M2137 781h2M2137 785h2M2137 786h2M2137 791h2M2137 792h2M2137 795h2M2137 796h2M2137 797h2M2138 783h2M2138 785h2M2138 786h2M2138 788h2M2138 789h2M2138 790h2M2138 792h2M2138 795h2M2138 796h2M2138 797h2M2139 782h2M2139 784h2M2139 787h2M2139 788h2M2139 789h2M2139 790h2M2139 792h2M2139 794h2M2139 795h2M2140 783h2M2140 784h2M2140 785h2M2140 789h2M2140 790h2M2140 792h2M2140 794h2M2140 795h2M2140 797h2M2141 780h2M2141 785h2M2141 787h2M2141 789h2M2141 790h2M2141 791h2M2141 793h2M2141 794h2M2142 780h2M2142 783h2M2142 787h2M2142 788h2M2142 790h2M2142 791h2M2142 792h2M2142 793h2M2142 795h2M2142 796h2M2143 782h2M2143 786h2M2143 789h2M2143 790h2M2143 791h2M2143 795h2M2143 796h2M2143 797h2M2144 781h2M2144 782h2M2144 786h2M2144 787h2M2144 789h2M2144 790h2M2144 791h2M2144 792h2M2144 793h2M2144 794h2M2144 795h2M2145 782h2M2145 783h2M2145 784h2M2145 786h2M2145 787h2M2145 788h2M2145 793h2M2145 794h2M2146 780h2M2146 783h2M2146 784h2M2146 785h2M2146 786h2M2146 787h2M2146 789h2M2146 790h2M2146 791h2M2146 793h2M2146 794h2M2146 795h2M2146 796h2M2146 797h2M2147 782h2M2147 784h2M2147 785h2M2147 787h2M2147 788h2M2147 789h2M2147 790h2M2147 791h2M2147 792h2M2147 795h2M2147 796h2M2147 797h2M2148 781h2M2148 783h2M2148 784h2M2148 787h2M2148 789h2M2148 790h2M2148 793h2M2148 794h2M2148 795h2M2148 796h2M2148 797h2M2149 779h2M2149 780h2M2149 782h2M2149 787h2M2149 789h2M2149 790h2M2149 791h2M2149 793h2M2149 794h2M2149 795h2M2149 796h2M2149 797h2M2150 779h2M2150 784h2M2150 786h2M2150 787h2M2150 788h2M2150 789h2M2150 790h2M2150 791h2M2150 792h2M2150 793h2M2150 794h2M2150 795h2M2150 796h2M2150 797h2M2151 780h2M2151 781h2M2151 782h2M2151 785h2M2151 786h2M2151 787h2M2151 789h2M2151 790h2M2151 791h2M2151 793h2M2151 794h2M2151 795h2M2151 796h2M2152 781h2M2152 782h2M2152 783h2M2152 785h2M2152 786h2M2152 787h2M2152 788h2M2152 789h2M2152 790h2M2152 791h2M2152 792h2M2152 793h2M2152 795h2M2153 785h2M2153 786h2M2153 789h2M2153 790h2M2153 793h2M2153 794h2M2153 795h2M2153 797h2M2154 783h2M2154 786h2M2154 790h2M2154 792h2M2154 793h2M2154 794h2M2154 796h2M2154 797h2M2155 779h2M2155 784h2M2155 786h2M2155 787h2M2155 788h2M2155 789h2M2155 790h2M2155 791h2M2155 792h2M2155 794h2M2155 795h2M2156 781h2M2156 785h2M2156 786h2M2156 787h2M2156 789h2M2156 790h2M2156 792h2M2156 793h2M2156 794h2M2156 795h2M2156 796h2M2157 783h2M2157 784h2M2157 786h2M2157 789h2M2157 790h2M2157 792h2M2157 793h2M2157 794h2M2157 796h2M2158 784h2M2158 792h2M2158 794h2M2158 796h2M2158 797h2M2159 783h2M2159 784h2M2159 789h2M2159 791h2M2159 793h2M2159 794h2M2159 795h2M2160 784h2M2160 789h2M2160 791h2M2160 792h2M2160 793h2M2160 794h2M2160 795h2M2161 780h2M2161 781h2M2161 788h2M2161 791h2M2161 792h2M2161 795h2M2162 781h2M2162 784h2M2162 785h2M2162 786h2M2162 788h2M2162 789h2M2162 790h2M2162 791h2M2162 793h2M2162 795h2M2163 780h2M2163 783h2M2163 786h2M2163 787h2M2163 788h2M2163 789h2M2163 791h2M2163 792h2M2163 794h2M2163 796h2M2163 797h2M2164 783h2M2164 784h2M2164 787h2M2164 791h2M2164 794h2M2164 796h2M2164 797h2M2165 779h2M2165 781h2M2165 785h2M2165 786h2M2165 787h2M2165 788h2M2165 789h2M2165 792h2M2165 793h2M2165 794h2M2165 795h2M2165 796h2M2166 785h2M2166 786h2M2166 788h2M2166 789h2M2166 790h2M2166 791h2M2166 793h2M2166 795h2M2166 796h2M2166 797h2M2167 780h2M2167 784h2M2167 787h2M2167 788h2M2167 789h2M2167 790h2M2167 792h2M2167 796h2M2167 797h2M2168 782h2M2168 787h2M2168 788h2M2168 789h2M2168 790h2M2168 791h2M2168 793h2M2168 796h2M2168 797h2M2169 780h2M2169 781h2M2169 786h2M2169 787h2M2169 788h2M2169 789h2M2169 790h2M2169 791h2M2169 792h2M2169 796h2M2170 790h2M2170 795h2M2171 781h2M2171 786h2M2171 787h2M2171 788h2M2171 789h2M2171 791h2M2171 793h2M2171 794h2M2171 796h2M2172 782h2M2172 784h2M2172 787h2M2172 788h2M2172 790h2M2172 791h2M2172 793h2M2172 794h2M2172 796h2M2172 797h2M2173 779h2M2173 784h2M2173 785h2M2173 786h2M2173 787h2M2173 791h2M2173 792h2M2173 793h2M2173 794h2M2173 796h2M2173 797h2M2174 786h2M2174 789h2M2174 790h2M2174 791h2M2174 793h2M2174 795h2M2175 780h2M2175 783h2M2175 784h2M2175 787h2M2175 788h2M2175 789h2M2175 793h2M2175 794h2M2175 795h2M2175 796h2M2176 786h2M2176 788h2M2176 789h2M2176 791h2M2176 792h2M2176 793h2M2177 781h2M2177 788h2M2177 789h2M2177 792h2M2177 793h2M2177 794h2M2177 796h2M2178 781h2M2178 782h2M2178 784h2M2178 786h2M2178 790h2M2178 793h2M2178 796h2M2179 780h2M2179 781h2M2179 788h2M2179 790h2M2179 791h2M2179 794h2M2179 795h2M2180 782h2M2180 784h2M2180 787h2M2180 788h2M2180 789h2M2180 790h2M2180 791h2M2180 793h2M2180 795h2M2180 797h2M2181 786h2M2181 789h2M2181 791h2M2181 795h2M2182 784h2M2182 786h2M2182 787h2M2182 788h2M2182 791h2M2182 792h2M2182 793h2M2183 781h2M2183 782h2M2183 784h2M2183 787h2M2183 788h2M2183 790h2M2183 793h2M2183 794h2M2183 797h2M2184 779h2M2184 784h2M2184 785h2M2184 786h2M2184 791h2M2184 793h2M2184 794h2M2184 795h2M2184 796h2M2185 779h2M2185 784h2M2185 785h2M2185 786h2M2185 788h2M2185 792h2M2185 794h2M2186 781h2M2186 782h2M2186 787h2M2186 792h2M2186 793h2M2187 784h2M2187 787h2M2187 790h2M2187 793h2M2187 794h2M2188 789h2M2188 791h2M2188 795h2M2189 789h2M2189 790h2M2189 792h2M2189 794h2M2189 796h2M2190 787h2M2190 790h2M2190 792h2M2190 795h2M2190 796h2M2191 781h2M2191 784h2M2191 785h2M2191 788h2M2191 790h2M2191 794h2M2191 795h2M2192 781h2M2192 785h2M2192 786h2M2192 787h2M2192 791h2M2192 792h2M2192 797h2M2193 785h2M2193 787h2M2193 790h2M2193 791h2M2193 796h2M2194 780h2M2194 787h2M2194 788h2M2194 789h2M2194 791h2M2194 794h2M2194 795h2M2194 796h2M2195 783h2M2195 785h2M2195 787h2M2195 789h2M2195 790h2M2195 792h2M2195 795h2M2195 797h2M2196 782h2M2196 785h2M2196 789h2M2196 790h2M2197 780h2M2197 783h2M2197 789h2M2197 792h2M2197 793h2M2197 795h2M2198 783h2M2198 793h2M2198 797h2M2199 780h2M2199 784h2M2199 789h2M2199 790h2M2199 793h2M2199 794h2M2199 795h2M2199 796h2M2200 782h2M2200 784h2M2200 785h2M2200 786h2M2200 789h2M2200 790h2M2200 792h2M2200 794h2M2200 795h2M2201 785h2M2201 786h2M2201 789h2M2201 790h2M2201 795h2M2202 792h2M2203 785h2M2203 789h2M2203 791h2M2203 794h2M2203 796h2M2204 781h2M2204 785h2M2204 791h2M2204 793h2M2205 780h2M2205 781h2M2205 786h2M2205 788h2M2205 790h2M2205 792h2M2205 796h2M2206 782h2M2206 785h2M2206 795h2M2207 789h2M2207 793h2M2208 787h2M2208 789h2M2208 790h2M2208 791h2M2208 793h2M2208 794h2M2208 795h2M2209 785h2M2209 787h2M2209 791h2M2209 792h2M2210 792h2M2210 793h2M2210 796h2M2211 782h2M2211 790h2M2211 795h2M2211 796h2M2212 789h2M2212 792h2M2213 782h2M2213 790h2M2213 792h2M2214 785h2M2214 792h2M2214 794h2M2214 795h2M2215 786h2M2215 788h2M2215 792h2M2216 785h2M2216 787h2M2216 790h2M2216 791h2M2217 784h2M2217 786h2M2217 788h2M2217 795h2M2218 789h2M2218 797h2M2219 791h2M2220 792h2M2220 794h2M2221 791h2M2221 792h2M2221 797h2M2222 784h2M2222 789h2M2222 790h2M2222 792h2M2222 795h2M2223 786h2M2223 788h2M2223 792h2M2223 794h2M2223 795h2M2224 785h2M2224 786h2M2224 788h2M2224 789h2M2224 792h2M2224 793h2M2224 797h2M2225 787h2M2225 788h2M2225 790h2M2225 792h2M2226 786h2M2227 792h2M2227 794h2M2228 781h2M2228 791h2M2228 792h2M2228 794h2M2228 797h2M2229 791h2M2229 793h2M2230 795h2M2231 786h2M2231 792h2M2232 784h2M2232 788h2M2232 792h2M2232 795h2M2233 789h2M2233 790h2M2234 791h2M2234 794h2M2235 792h2M2236 782h2M2236 790h2M2237 790h2M2237 797h2M2240 782h2M2240 788h2M2241 790h2M2241 791h2M2241 797h2M2243 787h2M2244 789h2M2245 783h2M2246 788h2M2246 792h2M2247 787h2M2247 790h2M2251 790h2M2253 791h2M2255 784h2M2255 793h2M2256 789h2M2258 788h2M2258 790h2M2258 795h2M2262 796h2M2264 791h2M2264 792h2M2272 786h2M2280 791h2M2280 794h2M2291 792h2M2291 796h2M2292 239h2M2311 797h2M2324 788h2M2356 248h2M2368 250h2M2371 792h2M2423 243h2M2693 390h2M2695 371h2M2720 775h2M2767 466h2" stroke="#ff1408" stroke-width="2"/><rect x="2090.0" y="254.0" width="600.0" height="525.0" fill="none" stroke="#e46a5c" stroke-width="5"/><circle cx="2090" cy="254" r="8.2" fill="#fff" stroke="#dc5e55" stroke-width="4.2"/><circle cx="2690" cy="779" r="8.2" fill="#fff" stroke="#dc5e55" stroke-width="4.2"/><rect x="2045.5" y="233.0" width="735.5" height="733.0" fill="none" stroke="#555" stroke-width="3"/><line x1="2045.5" y1="966.0" x2="2781.0" y2="966.0" stroke="#2a2a2a" stroke-width="3.5"/><path d="M2036.5 966.0H2045.5M2040.5 910.8H2045.5M2040.5 878.6H2045.5M2040.5 855.7H2045.5M2040.5 837.9H2045.5M2040.5 823.4H2045.5M2040.5 811.1H2045.5M2040.5 800.5H2045.5M2040.5 791.1H2045.5M2036.5 782.8H2045.5M2040.5 727.6H2045.5M2040.5 695.3H2045.5M2040.5 672.4H2045.5M2040.5 654.7H2045.5M2040.5 640.2H2045.5M2040.5 627.9H2045.5M2040.5 617.3H2045.5M2040.5 607.9H2045.5M2036.5 599.5H2045.5M2040.5 544.3H2045.5M2040.5 512.1H2045.5M2040.5 489.2H2045.5M2040.5 471.4H2045.5M2040.5 456.9H2045.5M2040.5 444.6H2045.5M2040.5 434.0H2045.5M2040.5 424.6H2045.5M2036.5 416.2H2045.5M2040.5 361.1H2045.5M2040.5 328.8H2045.5M2040.5 305.9H2045.5M2040.5 288.2H2045.5M2040.5 273.7H2045.5M2040.5 261.4H2045.5M2040.5 250.8H2045.5M2040.5 241.4H2045.5M2036.5 233.0H2045.5" stroke="#555" stroke-width="2.2" fill="none"/><path d="M2045.5 966.0V975.0M2100.9 966.0V971.0M2133.2 966.0V971.0M2156.2 966.0V971.0M2174.0 966.0V971.0M2188.6 966.0V971.0M2200.9 966.0V971.0M2211.6 966.0V971.0M2221.0 966.0V971.0M2229.4 966.0V975.0M2284.7 966.0V971.0M2317.1 966.0V971.0M2340.1 966.0V971.0M2357.9 966.0V971.0M2372.5 966.0V971.0M2384.8 966.0V971.0M2395.4 966.0V971.0M2404.8 966.0V971.0M2413.2 966.0V975.0M2468.6 966.0V971.0M2501.0 966.0V971.0M2524.0 966.0V971.0M2541.8 966.0V971.0M2556.3 966.0V971.0M2568.6 966.0V971.0M2579.3 966.0V971.0M2588.7 966.0V971.0M2597.1 966.0V975.0M2652.5 966.0V971.0M2684.9 966.0V971.0M2707.8 966.0V971.0M2725.6 966.0V971.0M2740.2 966.0V971.0M2752.5 966.0V971.0M2763.2 966.0V971.0M2772.6 966.0V971.0M2781.0 966.0V975.0" stroke="#555" stroke-width="2.2" fill="none"/><text x="2029.5" y="978.0" font-size="40" font-weight="normal" fill="#1e1e1e" text-anchor="end" stroke="#222" stroke-width="0.6">0</text><text x="2042.5" y="1011.0" font-size="39" font-weight="normal" fill="#1e1e1e" text-anchor="middle" stroke="#222" stroke-width="0.6">0</text><text x="2029.5" y="794.8" font-size="40" font-weight="normal" fill="#1e1e1e" text-anchor="end" stroke="#222" stroke-width="0.6">1</text><text x="2226.4" y="1011.0" font-size="39" font-weight="normal" fill="#1e1e1e" text-anchor="middle" stroke="#222" stroke-width="0.6">1</text><text x="2029.5" y="611.5" font-size="40" font-weight="normal" fill="#1e1e1e" text-anchor="end" stroke="#222" stroke-width="0.6">2</text><text x="2410.2" y="1011.0" font-size="39" font-weight="normal" fill="#1e1e1e" text-anchor="middle" stroke="#222" stroke-width="0.6">2</text><text x="2029.5" y="428.2" font-size="40" font-weight="normal" fill="#1e1e1e" text-anchor="end" stroke="#222" stroke-width="0.6">3</text><text x="2594.1" y="1011.0" font-size="39" font-weight="normal" fill="#1e1e1e" text-anchor="middle" stroke="#222" stroke-width="0.6">3</text><text x="2029.5" y="245.0" font-size="40" font-weight="normal" fill="#1e1e1e" text-anchor="end" stroke="#222" stroke-width="0.6">4</text><text x="2778.0" y="1011.0" font-size="39" font-weight="normal" fill="#1e1e1e" text-anchor="middle" stroke="#222" stroke-width="0.6">4</text><text x="2143.0" y="159.0" font-size="67" font-weight="bold" fill="#000" text-anchor="start" textLength="439.0" lengthAdjust="spacingAndGlyphs">Solvent control</text><text x="2105.0" y="224.0" font-size="53.5" font-weight="normal" fill="#1e1e1e" text-anchor="start" textLength="617.0" lengthAdjust="spacingAndGlyphs" stroke="#1e1e1e" stroke-width="0.6">POPULATION PROFILE</text><text transform="translate(1979.5,832.0) rotate(-90)" x="0" y="0" font-size="56" font-weight="normal" fill="#1e1e1e" text-anchor="start" textLength="467.0" lengthAdjust="spacingAndGlyphs" stroke="#1e1e1e" stroke-width="0.6">CELL SIZE INDEX</text><text x="2046.0" y="1066.0" font-size="39" font-weight="normal" fill="#646464" text-anchor="start" textLength="76.0" lengthAdjust="spacingAndGlyphs" stroke="#646464" stroke-width="0.8">Live</text><text x="2263.0" y="1068.0" font-size="52" font-weight="normal" fill="#1e1e1e" text-anchor="start" textLength="297.0" lengthAdjust="spacingAndGlyphs" stroke="#1e1e1e" stroke-width="0.8">ANNEXIN V</text><text x="2612.0" y="1066.0" font-size="39" font-weight="normal" fill="#646464" text-anchor="start" textLength="168.0" lengthAdjust="spacingAndGlyphs" stroke="#646464" stroke-width="0.8">Apoptotic</text><rect x="284.0" y="1408.0" width="713.0" height="720.0" fill="#ffffff"/><rect x="284.0" y="1924.0" width="261.0" height="204.0" fill="#e7f2d0"/><path d="M293 2022h3M295 2050h3M298 2063h3M299 2000h3M300 1983h3M300 2030h3M302 2013h3M303 2009h3M303 2062h3M304 2010h3M304 2025h3M304 2045h3M306 2008h3M307 1994h3M307 2001h3M307 2033h3M308 2009h3M309 2004h3M310 1940h3M310 2003h3M310 2009h3M311 1944h3M311 1976h3M311 1978h3M312 1938h3M312 1995h3M312 2022h3M313 1931h3M313 1957h3M313 2005h3M313 2022h3M314 2001h3M314 2020h3M314 2035h3M315 1988h3M315 1989h3M315 2026h3M315 2041h3M316 1946h3M316 2028h3M316 2058h3M317 2012h3M317 2031h3M318 1980h3M318 2030h3M318 2037h3M318 2049h3M319 2001h3M319 2020h3M319 2030h3M320 1963h3M320 1969h3M320 1979h3M320 2005h3M320 2022h3M320 2042h3M321 1985h3M322 1968h3M322 2001h3M322 2026h3M323 1982h3M323 1986h3M323 2004h3M323 2021h3M324 2010h3M324 2043h3M325 1989h3M325 1999h3M325 2069h3M325 2073h3M326 2000h3M326 2009h3M326 2091h3M327 1997h3M327 2046h3M328 1991h3M328 2008h3M328 2011h3M328 2016h3M328 2019h3M328 2026h3M328 2031h3M329 1938h3M329 1961h3M329 1984h3M329 1994h3M329 1996h3M329 2016h3M329 2026h3M329 2065h3M330 1965h3M330 1990h3M330 2007h3M330 2010h3M330 2027h3M330 2065h3M331 1938h3M331 1963h3M331 1972h3M331 1990h3M331 2020h3M331 2029h3M331 2031h3M332 1971h3M332 1975h3M332 2003h3M332 2015h3M332 2021h3M332 2057h3M332 2065h3M333 1952h3M333 1961h3M333 1962h3M333 1983h3M333 1994h3M333 1996h3M333 2007h3M333 2014h3M334 1990h3M334 2046h3M334 2052h3M334 2058h3M335 1996h3M335 2007h3M335 2010h3M335 2016h3M335 2018h3M336 1979h3M336 1989h3M336 2047h3M336 2053h3M337 1965h3M337 1977h3M337 2016h3M337 2024h3M338 1985h3M338 2012h3M338 2015h3M338 2086h3M338 2117h3M339 1945h3M339 1957h3M339 1992h3M339 2018h3M339 2024h3M339 2026h3M339 2029h3M339 2046h3M340 1955h3M340 1981h3M340 2003h3M340 2017h3M340 2018h3M340 2031h3M340 2033h3M340 2040h3M340 2046h3M341 1990h3M341 2009h3M341 2025h3M341 2034h3M342 1942h3M342 1989h3M342 1994h3M342 1997h3M342 2035h3M342 2043h3M342 2047h3M343 1974h3M343 1977h3M343 1981h3M343 2002h3M343 2003h3M343 2005h3M343 2025h3M343 2026h3M343 2035h3M343 2036h3M343 2039h3M343 2056h3M343 2057h3M343 2090h3M344 1948h3M344 1971h3M344 1982h3M344 1987h3M344 2008h3M344 2014h3M344 2024h3M344 2041h3M344 2046h3M344 2091h3M345 1989h3M345 2004h3M345 2080h3M346 1964h3M346 1967h3M346 1971h3M346 1991h3M346 2001h3M346 2023h3M346 2041h3M346 2063h3M347 1984h3M347 1989h3M347 1991h3M347 1992h3M347 2002h3M347 2012h3M347 2027h3M347 2036h3M347 2045h3M348 1954h3M348 1997h3M348 2004h3M348 2007h3M348 2009h3M348 2023h3M348 2025h3M348 2060h3M349 1963h3M349 1969h3M349 1971h3M349 1988h3M349 1992h3M349 2000h3M349 2002h3M349 2004h3M349 2011h3M349 2012h3M349 2027h3M349 2031h3M349 2037h3M349 2063h3M350 2002h3M350 2011h3M350 2012h3M350 2025h3M350 2032h3M350 2046h3M350 2070h3M351 1979h3M351 1987h3M351 1988h3M351 1995h3M351 2008h3M351 2011h3M351 2023h3M351 2030h3M351 2036h3M351 2050h3M352 1933h3M352 1949h3M352 1959h3M352 1960h3M352 1994h3M352 2003h3M352 2004h3M352 2006h3M352 2037h3M352 2039h3M352 2092h3M353 1980h3M353 1986h3M353 1992h3M353 1994h3M353 1995h3M353 2006h3M353 2012h3M353 2018h3M353 2042h3M353 2057h3M354 1932h3M354 1975h3M354 2003h3M354 2010h3M354 2012h3M354 2013h3M354 2015h3M354 2025h3M354 2034h3M354 2035h3M354 2036h3M354 2043h3M354 2077h3M354 2104h3M355 1941h3M355 1960h3M355 1974h3M355 1988h3M355 1992h3M355 2005h3M355 2020h3M355 2021h3M355 2064h3M355 2072h3M356 1968h3M356 1975h3M356 1986h3M356 1988h3M356 1990h3M356 1999h3M356 2001h3M356 2003h3M356 2011h3M356 2014h3M356 2015h3M356 2016h3M356 2018h3M356 2025h3M356 2033h3M356 2039h3M357 1967h3M357 1989h3M357 1990h3M357 1994h3M357 1995h3M357 2002h3M357 2003h3M357 2009h3M357 2017h3M357 2018h3M357 2022h3M357 2028h3M357 2034h3M357 2038h3M357 2040h3M357 2059h3M357 2076h3M357 2090h3M358 1946h3M358 1948h3M358 1999h3M358 2003h3M358 2006h3M358 2010h3M358 2012h3M358 2017h3M358 2018h3M358 2030h3M358 2032h3M358 2051h3M359 1984h3M359 1986h3M359 1988h3M359 2003h3M359 2005h3M359 2008h3M359 2016h3M359 2026h3M359 2027h3M359 2035h3M360 2005h3M360 2008h3M360 2012h3M360 2014h3M360 2018h3M360 2022h3M360 2036h3M360 2053h3M360 2095h3M361 1939h3M361 1950h3M361 1960h3M361 1977h3M361 1979h3M361 1985h3M361 1987h3M361 1988h3M361 1998h3M361 1999h3M361 2013h3M361 2016h3M361 2017h3M361 2044h3M361 2057h3M362 1982h3M362 1985h3M362 1992h3M362 1993h3M362 1998h3M362 2011h3M362 2025h3M362 2027h3M362 2031h3M362 2043h3M362 2047h3M362 2064h3M363 1940h3M363 1959h3M363 1990h3M363 1991h3M363 1995h3M363 2004h3M363 2012h3M363 2013h3M363 2017h3M363 2019h3M363 2022h3M363 2024h3M363 2025h3M363 2029h3M363 2036h3M363 2041h3M363 2068h3M364 1948h3M364 1974h3M364 1982h3M364 1984h3M364 1993h3M364 1994h3M364 1996h3M364 1998h3M364 2012h3M364 2015h3M364 2018h3M364 2019h3M364 2021h3M364 2025h3M364 2026h3M364 2028h3M364 2035h3M364 2037h3M364 2045h3M364 2051h3M364 2067h3M364 2068h3M364 2082h3M365 1950h3M365 1958h3M365 1974h3M365 1986h3M365 1996h3M365 1998h3M365 2000h3M365 2003h3M365 2004h3M365 2008h3M365 2023h3M365 2061h3M365 2064h3M365 2067h3M366 1983h3M366 1989h3M366 1993h3M366 1999h3M366 2001h3M366 2003h3M366 2007h3M366 2009h3M366 2013h3M366 2014h3M366 2021h3M366 2024h3M366 2031h3M366 2036h3M366 2046h3M366 2064h3M367 1964h3M367 1969h3M367 1975h3M367 1983h3M367 1987h3M367 1997h3M367 2002h3M367 2003h3M367 2004h3M367 2005h3M367 2020h3M367 2024h3M367 2033h3M367 2036h3M367 2037h3M367 2042h3M367 2047h3M367 2069h3M367 2121h3M368 1950h3M368 1970h3M368 1983h3M368 1984h3M368 1998h3M368 2004h3M368 2007h3M368 2013h3M368 2019h3M368 2030h3M368 2034h3M368 2035h3M368 2047h3M369 1942h3M369 1978h3M369 1984h3M369 1989h3M369 1993h3M369 1995h3M369 1997h3M369 2008h3M369 2010h3M369 2027h3M369 2033h3M369 2041h3M369 2044h3M370 1953h3M370 1969h3M370 1970h3M370 1978h3M370 1996h3M370 1997h3M370 1999h3M370 2005h3M370 2010h3M370 2019h3M370 2026h3M370 2027h3M370 2037h3M370 2040h3M370 2050h3M370 2051h3M370 2052h3M370 2059h3M370 2064h3M370 2075h3M371 1953h3M371 1960h3M371 1966h3M371 1977h3M371 1979h3M371 1980h3M371 1981h3M371 1995h3M371 1997h3M371 2003h3M371 2009h3M371 2011h3M371 2012h3M371 2015h3M371 2019h3M371 2020h3M371 2021h3M371 2055h3M372 1948h3M372 1972h3M372 1973h3M372 1975h3M372 1979h3M372 1984h3M372 1986h3M372 1991h3M372 1993h3M372 1996h3M372 2001h3M372 2009h3M372 2014h3M372 2022h3M372 2023h3M372 2026h3M372 2028h3M372 2036h3M372 2037h3M372 2038h3M372 2045h3M372 2050h3M372 2059h3M372 2067h3M372 2105h3M373 1977h3M373 1979h3M373 1982h3M373 1983h3M373 1987h3M373 1990h3M373 1991h3M373 2000h3M373 2002h3M373 2006h3M373 2007h3M373 2015h3M373 2016h3M373 2029h3M373 2035h3M373 2041h3M373 2072h3M373 2082h3M374 1982h3M374 1984h3M374 1988h3M374 1994h3M374 1996h3M374 2000h3M374 2002h3M374 2004h3M374 2005h3M374 2009h3M374 2015h3M374 2016h3M374 2017h3M374 2020h3M374 2021h3M374 2023h3M374 2031h3M374 2033h3M374 2035h3M374 2036h3M374 2044h3M374 2052h3M375 1945h3M375 1946h3M375 1979h3M375 1992h3M375 1993h3M375 1995h3M375 1996h3M375 1997h3M375 2000h3M375 2007h3M375 2011h3M375 2013h3M375 2014h3M375 2016h3M375 2021h3M375 2048h3M375 2070h3M376 1934h3M376 1972h3M376 1973h3M376 1974h3M376 1985h3M376 1990h3M376 1993h3M376 1998h3M376 2001h3M376 2003h3M376 2008h3M376 2009h3M376 2011h3M376 2014h3M376 2018h3M376 2024h3M376 2027h3M376 2029h3M376 2039h3M376 2045h3M376 2046h3M376 2065h3M377 1960h3M377 1965h3M377 1985h3M377 1988h3M377 1989h3M377 1990h3M377 1997h3M377 2000h3M377 2005h3M377 2007h3M377 2010h3M377 2013h3M377 2018h3M377 2026h3M377 2028h3M377 2029h3M377 2033h3M377 2036h3M377 2052h3M378 1942h3M378 1972h3M378 1978h3M378 1979h3M378 1981h3M378 1982h3M378 1984h3M378 1988h3M378 1989h3M378 1999h3M378 2001h3M378 2003h3M378 2015h3M378 2019h3M378 2023h3M378 2027h3M378 2028h3M378 2029h3M378 2030h3M378 2050h3M378 2078h3M378 2088h3M378 2105h3M379 1979h3M379 1981h3M379 1985h3M379 1988h3M379 1994h3M379 1995h3M379 1997h3M379 2001h3M379 2017h3M379 2020h3M379 2022h3M379 2027h3M379 2028h3M379 2032h3M379 2042h3M379 2048h3M379 2059h3M379 2069h3M380 1954h3M380 1968h3M380 1970h3M380 1973h3M380 1977h3M380 1991h3M380 1996h3M380 2007h3M380 2009h3M380 2015h3M380 2026h3M380 2029h3M380 2040h3M380 2041h3M380 2050h3M380 2062h3M381 1956h3M381 1959h3M381 1984h3M381 1985h3M381 1986h3M381 1989h3M381 1996h3M381 1998h3M381 2000h3M381 2001h3M381 2006h3M381 2007h3M381 2009h3M381 2012h3M381 2016h3M381 2018h3M381 2019h3M381 2020h3M381 2021h3M381 2026h3M381 2028h3M381 2044h3M381 2047h3M381 2062h3M381 2064h3M382 1952h3M382 1971h3M382 1978h3M382 1983h3M382 1984h3M382 1989h3M382 1993h3M382 1996h3M382 1999h3M382 2001h3M382 2007h3M382 2012h3M382 2018h3M382 2019h3M382 2022h3M382 2023h3M382 2027h3M382 2029h3M382 2033h3M382 2034h3M382 2051h3M382 2063h3M382 2093h3M382 2094h3M383 1931h3M383 1951h3M383 1967h3M383 1972h3M383 1975h3M383 1980h3M383 1981h3M383 1984h3M383 1990h3M383 1993h3M383 1995h3M383 2000h3M383 2003h3M383 2007h3M383 2025h3M383 2031h3M383 2033h3M383 2034h3M383 2040h3M383 2056h3M383 2084h3M384 1947h3M384 1948h3M384 1963h3M384 1984h3M384 1989h3M384 1990h3M384 1991h3M384 1998h3M384 1999h3M384 2004h3M384 2008h3M384 2010h3M384 2025h3M384 2048h3M384 2049h3M385 1988h3M385 1989h3M385 1996h3M385 1999h3M385 2007h3M385 2014h3M385 2015h3M385 2016h3M385 2018h3M385 2023h3M385 2027h3M385 2048h3M385 2059h3M385 2076h3M385 2079h3M386 1964h3M386 1971h3M386 1985h3M386 1987h3M386 1990h3M386 1991h3M386 1999h3M386 2000h3M386 2001h3M386 2002h3M386 2003h3M386 2004h3M386 2005h3M386 2007h3M386 2008h3M386 2011h3M386 2015h3M386 2020h3M386 2021h3M386 2022h3M386 2024h3M386 2032h3M386 2034h3M386 2037h3M386 2059h3M387 1946h3M387 1955h3M387 1960h3M387 1987h3M387 1994h3M387 1998h3M387 2004h3M387 2006h3M387 2008h3M387 2012h3M387 2013h3M387 2014h3M387 2015h3M387 2018h3M387 2019h3M387 2021h3M387 2024h3M387 2042h3M387 2047h3M387 2049h3M387 2050h3M387 2096h3M387 2111h3M388 1941h3M388 1945h3M388 1986h3M388 1988h3M388 2000h3M388 2002h3M388 2004h3M388 2006h3M388 2007h3M388 2008h3M388 2009h3M388 2012h3M388 2018h3M388 2019h3M388 2027h3M388 2034h3M388 2037h3M388 2041h3M388 2042h3M388 2045h3M388 2051h3M389 1940h3M389 1978h3M389 1983h3M389 1984h3M389 1985h3M389 1987h3M389 1996h3M389 2001h3M389 2003h3M389 2006h3M389 2009h3M389 2010h3M389 2012h3M389 2016h3M389 2017h3M389 2021h3M389 2026h3M390 1942h3M390 1951h3M390 1983h3M390 1988h3M390 1990h3M390 1998h3M390 2000h3M390 2002h3M390 2003h3M390 2004h3M390 2013h3M390 2015h3M390 2016h3M390 2019h3M390 2020h3M390 2027h3M390 2032h3M390 2037h3M390 2050h3M390 2051h3M390 2057h3M390 2061h3M390 2068h3M390 2094h3M391 1936h3M391 1946h3M391 1970h3M391 1971h3M391 1976h3M391 1982h3M391 1984h3M391 1985h3M391 1987h3M391 1989h3M391 1993h3M391 1998h3M391 2002h3M391 2004h3M391 2006h3M391 2013h3M391 2021h3M391 2033h3M391 2035h3M391 2037h3M391 2039h3M391 2044h3M391 2045h3M391 2056h3M391 2066h3M391 2082h3M392 1946h3M392 1967h3M392 1971h3M392 1973h3M392 1987h3M392 1994h3M392 1999h3M392 2004h3M392 2007h3M392 2008h3M392 2009h3M392 2015h3M392 2021h3M392 2024h3M392 2025h3M392 2030h3M392 2039h3M392 2044h3M392 2052h3M392 2056h3M393 1951h3M393 1981h3M393 1984h3M393 1986h3M393 1989h3M393 1996h3M393 1999h3M393 2000h3M393 2002h3M393 2004h3M393 2005h3M393 2006h3M393 2007h3M393 2009h3M393 2013h3M393 2014h3M393 2019h3M393 2020h3M393 2023h3M393 2025h3M393 2026h3M393 2032h3M393 2033h3M393 2040h3M393 2044h3M393 2047h3M393 2058h3M394 1930h3M394 1948h3M394 1963h3M394 1966h3M394 1970h3M394 1981h3M394 1990h3M394 1994h3M394 1996h3M394 2002h3M394 2003h3M394 2006h3M394 2007h3M394 2008h3M394 2011h3M394 2015h3M394 2017h3M394 2018h3M394 2025h3M394 2026h3M394 2028h3M394 2037h3M394 2048h3M394 2072h3M394 2076h3M395 1943h3M395 1952h3M395 1964h3M395 1965h3M395 1974h3M395 1979h3M395 1983h3M395 1984h3M395 1986h3M395 1988h3M395 1990h3M395 1992h3M395 1996h3M395 1998h3M395 2000h3M395 2008h3M395 2013h3M395 2014h3M395 2017h3M395 2018h3M395 2019h3M395 2021h3M395 2030h3M395 2044h3M395 2050h3M395 2060h3M395 2062h3M396 1980h3M396 1987h3M396 1988h3M396 1989h3M396 1992h3M396 1996h3M396 2001h3M396 2002h3M396 2006h3M396 2007h3M396 2008h3M396 2010h3M396 2012h3M396 2016h3M396 2019h3M396 2026h3M396 2032h3M396 2048h3M396 2054h3M396 2057h3M396 2096h3M397 1932h3M397 1980h3M397 1990h3M397 2008h3M397 2011h3M397 2012h3M397 2015h3M397 2017h3M397 2025h3M397 2035h3M397 2041h3M397 2042h3M397 2044h3M397 2058h3M398 1954h3M398 1959h3M398 1973h3M398 1976h3M398 1981h3M398 1984h3M398 1989h3M398 1994h3M398 1995h3M398 2002h3M398 2007h3M398 2011h3M398 2012h3M398 2015h3M398 2016h3M398 2024h3M398 2027h3M398 2029h3M398 2039h3M399 1925h3M399 1972h3M399 1976h3M399 1980h3M399 1981h3M399 1998h3M399 2001h3M399 2003h3M399 2007h3M399 2014h3M399 2016h3M399 2017h3M399 2019h3M399 2022h3M399 2024h3M399 2028h3M399 2034h3M399 2047h3M399 2048h3M399 2056h3M399 2057h3M399 2071h3M400 1970h3M400 1972h3M400 1976h3M400 1977h3M400 1987h3M400 1994h3M400 1999h3M400 2001h3M400 2003h3M400 2006h3M400 2009h3M400 2011h3M400 2014h3M400 2016h3M400 2017h3M400 2018h3M400 2019h3M400 2021h3M400 2022h3M400 2027h3M400 2029h3M400 2030h3M400 2038h3M400 2040h3M400 2043h3M401 1929h3M401 1933h3M401 1964h3M401 1973h3M401 1980h3M401 1983h3M401 1984h3M401 1985h3M401 1987h3M401 1990h3M401 1996h3M401 1998h3M401 2000h3M401 2001h3M401 2004h3M401 2006h3M401 2008h3M401 2013h3M401 2014h3M401 2015h3M401 2021h3M401 2023h3M401 2038h3M401 2042h3M401 2043h3M401 2044h3M401 2050h3M402 1967h3M402 1968h3M402 1969h3M402 1978h3M402 1989h3M402 1990h3M402 1991h3M402 2001h3M402 2004h3M402 2010h3M402 2012h3M402 2013h3M402 2020h3M402 2022h3M402 2027h3M402 2031h3M402 2037h3M402 2053h3M403 1971h3M403 1980h3M403 1981h3M403 1982h3M403 1983h3M403 1985h3M403 1992h3M403 1999h3M403 2000h3M403 2007h3M403 2008h3M403 2012h3M403 2013h3M403 2014h3M403 2015h3M403 2016h3M403 2029h3M403 2031h3M403 2034h3M403 2036h3M403 2059h3M403 2067h3M403 2080h3M403 2090h3M403 2091h3M404 1960h3M404 1977h3M404 1981h3M404 1983h3M404 1984h3M404 1987h3M404 1996h3M404 1998h3M404 1999h3M404 2002h3M404 2007h3M404 2009h3M404 2016h3M404 2017h3M404 2019h3M404 2027h3M404 2030h3M404 2034h3M404 2041h3M404 2046h3M405 1932h3M405 1963h3M405 1976h3M405 1979h3M405 1984h3M405 2001h3M405 2007h3M405 2010h3M405 2012h3M405 2014h3M405 2016h3M405 2017h3M405 2019h3M405 2020h3M405 2022h3M405 2024h3M405 2031h3M405 2033h3M405 2038h3M405 2041h3M405 2049h3M405 2052h3M405 2054h3M405 2081h3M405 2086h3M405 2116h3M406 1951h3M406 1962h3M406 1979h3M406 1980h3M406 1982h3M406 1983h3M406 1993h3M406 1996h3M406 1997h3M406 2004h3M406 2006h3M406 2008h3M406 2014h3M406 2018h3M406 2020h3M406 2021h3M406 2022h3M406 2032h3M406 2036h3M406 2042h3M406 2057h3M406 2074h3M407 1968h3M407 1974h3M407 1978h3M407 1986h3M407 1991h3M407 1992h3M407 1999h3M407 2001h3M407 2004h3M407 2007h3M407 2009h3M407 2011h3M407 2016h3M407 2017h3M407 2018h3M407 2021h3M407 2022h3M407 2024h3M407 2029h3M407 2031h3M407 2035h3M407 2038h3M407 2041h3M407 2046h3M407 2059h3M407 2062h3M407 2082h3M408 1983h3M408 1989h3M408 1994h3M408 1997h3M408 1999h3M408 2001h3M408 2002h3M408 2004h3M408 2005h3M408 2010h3M408 2011h3M408 2012h3M408 2013h3M408 2017h3M408 2018h3M408 2026h3M408 2034h3M408 2041h3M408 2047h3M408 2049h3M408 2053h3M408 2060h3M409 1949h3M409 1956h3M409 1963h3M409 1973h3M409 1978h3M409 1981h3M409 1989h3M409 1990h3M409 1995h3M409 1996h3M409 1998h3M409 2000h3M409 2002h3M409 2007h3M409 2013h3M409 2014h3M409 2015h3M409 2018h3M409 2023h3M409 2026h3M409 2029h3M409 2031h3M409 2034h3M409 2038h3M409 2042h3M409 2093h3M410 1961h3M410 1972h3M410 1985h3M410 1987h3M410 1988h3M410 1991h3M410 1994h3M410 1997h3M410 1999h3M410 2000h3M410 2001h3M410 2003h3M410 2004h3M410 2010h3M410 2012h3M410 2016h3M410 2025h3M410 2026h3M410 2028h3M410 2038h3M410 2040h3M410 2048h3M410 2050h3M410 2051h3M410 2061h3M410 2081h3M411 1968h3M411 1979h3M411 1988h3M411 1989h3M411 1990h3M411 1998h3M411 2001h3M411 2002h3M411 2003h3M411 2008h3M411 2011h3M411 2017h3M411 2022h3M411 2032h3M411 2039h3M411 2046h3M411 2058h3M412 1932h3M412 1957h3M412 1975h3M412 1990h3M412 1991h3M412 1994h3M412 2008h3M412 2011h3M412 2015h3M412 2017h3M412 2018h3M412 2022h3M412 2023h3M412 2026h3M412 2030h3M412 2031h3M412 2032h3M412 2035h3M412 2070h3M412 2077h3M413 1949h3M413 1958h3M413 1978h3M413 1982h3M413 1987h3M413 1991h3M413 1993h3M413 1995h3M413 1996h3M413 1997h3M413 2006h3M413 2009h3M413 2011h3M413 2013h3M413 2016h3M413 2023h3M413 2025h3M413 2026h3M413 2027h3M413 2033h3M413 2034h3M413 2035h3M413 2040h3M413 2041h3M413 2046h3M413 2053h3M413 2076h3M413 2106h3M414 1960h3M414 1997h3M414 2000h3M414 2002h3M414 2005h3M414 2008h3M414 2012h3M414 2018h3M414 2020h3M414 2021h3M414 2029h3M414 2031h3M414 2040h3M414 2050h3M414 2051h3M415 1947h3M415 1955h3M415 1973h3M415 1974h3M415 1987h3M415 1990h3M415 1993h3M415 1997h3M415 1999h3M415 2000h3M415 2001h3M415 2007h3M415 2009h3M415 2019h3M415 2022h3M415 2030h3M415 2031h3M415 2032h3M415 2035h3M415 2038h3M415 2042h3M415 2044h3M415 2052h3M415 2073h3M416 1968h3M416 1974h3M416 1976h3M416 1981h3M416 1987h3M416 1990h3M416 1993h3M416 1996h3M416 2000h3M416 2001h3M416 2004h3M416 2005h3M416 2007h3M416 2013h3M416 2014h3M416 2030h3M416 2035h3M416 2039h3M416 2041h3M416 2053h3M416 2061h3M416 2081h3M416 2092h3M417 1936h3M417 1980h3M417 1989h3M417 1990h3M417 1993h3M417 1994h3M417 1995h3M417 2000h3M417 2003h3M417 2006h3M417 2008h3M417 2010h3M417 2020h3M417 2021h3M417 2024h3M417 2025h3M417 2027h3M417 2028h3M417 2034h3M417 2035h3M417 2037h3M417 2038h3M417 2052h3M417 2061h3M417 2068h3M417 2069h3M417 2071h3M417 2110h3M418 1949h3M418 1973h3M418 1976h3M418 1979h3M418 1986h3M418 1990h3M418 1992h3M418 1994h3M418 1995h3M418 2001h3M418 2004h3M418 2008h3M418 2009h3M418 2011h3M418 2015h3M418 2016h3M418 2019h3M418 2022h3M418 2023h3M418 2024h3M418 2028h3M418 2034h3M418 2035h3M418 2038h3M418 2042h3M418 2068h3M418 2072h3M418 2073h3M418 2081h3M419 1935h3M419 1954h3M419 1972h3M419 1975h3M419 1976h3M419 1977h3M419 1979h3M419 1989h3M419 1991h3M419 1996h3M419 1997h3M419 1998h3M419 2005h3M419 2007h3M419 2009h3M419 2012h3M419 2013h3M419 2015h3M419 2019h3M419 2026h3M419 2027h3M419 2034h3M419 2037h3M419 2038h3M419 2045h3M419 2046h3M419 2054h3M419 2074h3M419 2086h3M420 1950h3M420 1982h3M420 1986h3M420 1998h3M420 2000h3M420 2004h3M420 2005h3M420 2007h3M420 2008h3M420 2010h3M420 2011h3M420 2012h3M420 2014h3M420 2015h3M420 2023h3M420 2028h3M420 2036h3M420 2037h3M420 2045h3M420 2046h3M420 2053h3M420 2075h3M420 2078h3M421 1925h3M421 1952h3M421 1965h3M421 1970h3M421 1979h3M421 1981h3M421 1982h3M421 1990h3M421 1995h3M421 2001h3M421 2002h3M421 2011h3M421 2012h3M421 2014h3M421 2030h3M421 2037h3M421 2044h3M421 2070h3M421 2099h3M422 1967h3M422 1989h3M422 1991h3M422 1995h3M422 1997h3M422 2011h3M422 2013h3M422 2022h3M422 2027h3M422 2031h3M422 2032h3M422 2034h3M422 2036h3M422 2037h3M422 2040h3M422 2062h3M422 2063h3M422 2106h3M423 1943h3M423 1951h3M423 1954h3M423 1955h3M423 1992h3M423 1995h3M423 1997h3M423 2000h3M423 2003h3M423 2012h3M423 2013h3M423 2020h3M423 2022h3M423 2024h3M423 2028h3M423 2031h3M423 2038h3M423 2039h3M423 2041h3M423 2057h3M423 2071h3M424 1957h3M424 1959h3M424 1981h3M424 1990h3M424 1993h3M424 1996h3M424 2000h3M424 2005h3M424 2011h3M424 2015h3M424 2017h3M424 2019h3M424 2020h3M424 2021h3M424 2023h3M424 2026h3M424 2030h3M424 2031h3M424 2032h3M424 2101h3M425 1925h3M425 1943h3M425 1946h3M425 1951h3M425 1954h3M425 1957h3M425 1960h3M425 1966h3M425 1974h3M425 1975h3M425 1979h3M425 1988h3M425 1993h3M425 1996h3M425 2004h3M425 2005h3M425 2010h3M425 2021h3M425 2040h3M425 2046h3M425 2100h3M426 1944h3M426 1946h3M426 1969h3M426 1982h3M426 1983h3M426 1992h3M426 1995h3M426 1996h3M426 1997h3M426 2004h3M426 2008h3M426 2011h3M426 2015h3M426 2016h3M426 2026h3M426 2030h3M426 2035h3M426 2045h3M426 2089h3M427 1927h3M427 1929h3M427 1942h3M427 1982h3M427 1984h3M427 1991h3M427 1992h3M427 1993h3M427 2000h3M427 2001h3M427 2004h3M427 2005h3M427 2011h3M427 2012h3M427 2015h3M427 2020h3M427 2024h3M427 2025h3M427 2035h3M427 2036h3M427 2039h3M427 2042h3M427 2053h3M427 2057h3M427 2069h3M427 2077h3M427 2093h3M428 1955h3M428 1983h3M428 1984h3M428 1995h3M428 1997h3M428 2011h3M428 2012h3M428 2016h3M428 2017h3M428 2041h3M428 2048h3M429 1939h3M429 1983h3M429 1989h3M429 1990h3M429 1997h3M429 1998h3M429 2009h3M429 2010h3M429 2014h3M429 2018h3M429 2020h3M429 2024h3M429 2025h3M429 2028h3M429 2034h3M429 2050h3M429 2100h3M430 1945h3M430 1966h3M430 1968h3M430 1970h3M430 1972h3M430 1973h3M430 1986h3M430 1994h3M430 2005h3M430 2010h3M430 2011h3M430 2017h3M430 2018h3M430 2022h3M430 2032h3M430 2038h3M430 2041h3M431 1930h3M431 1953h3M431 1959h3M431 1963h3M431 1966h3M431 1970h3M431 1971h3M431 1985h3M431 1990h3M431 1992h3M431 1998h3M431 2001h3M431 2002h3M431 2005h3M431 2006h3M431 2008h3M431 2011h3M431 2014h3M431 2015h3M431 2016h3M431 2019h3M431 2034h3M431 2045h3M431 2067h3M432 1963h3M432 1972h3M432 1981h3M432 1982h3M432 1987h3M432 1989h3M432 1990h3M432 1994h3M432 1997h3M432 2015h3M432 2022h3M432 2025h3M432 2027h3M432 2039h3M432 2044h3M432 2052h3M432 2053h3M432 2066h3M432 2081h3M432 2083h3M432 2086h3M433 1934h3M433 1994h3M433 1997h3M433 2009h3M433 2010h3M433 2018h3M433 2019h3M433 2026h3M433 2027h3M433 2030h3M433 2033h3M433 2041h3M433 2047h3M433 2052h3M433 2113h3M434 1927h3M434 1940h3M434 1968h3M434 1971h3M434 1973h3M434 1981h3M434 1996h3M434 1998h3M434 2002h3M434 2012h3M434 2019h3M434 2020h3M434 2023h3M434 2026h3M434 2027h3M434 2037h3M434 2040h3M434 2050h3M434 2055h3M434 2056h3M434 2057h3M434 2060h3M434 2066h3M435 1964h3M435 1976h3M435 1983h3M435 1986h3M435 1996h3M435 2001h3M435 2002h3M435 2004h3M435 2007h3M435 2009h3M435 2015h3M435 2016h3M435 2018h3M435 2030h3M435 2035h3M435 2037h3M435 2044h3M435 2047h3M435 2074h3M435 2079h3M436 1957h3M436 1972h3M436 1981h3M436 1982h3M436 1985h3M436 1996h3M436 2002h3M436 2010h3M436 2012h3M436 2018h3M436 2028h3M436 2045h3M436 2055h3M437 1962h3M437 1977h3M437 1984h3M437 1985h3M437 1996h3M437 2008h3M437 2011h3M437 2012h3M437 2015h3M437 2018h3M437 2028h3M437 2035h3M437 2042h3M437 2047h3M437 2049h3M437 2065h3M438 1955h3M438 1958h3M438 1963h3M438 1968h3M438 1972h3M438 1982h3M438 1983h3M438 1987h3M438 1988h3M438 1993h3M438 1998h3M438 2001h3M438 2006h3M438 2019h3M438 2020h3M438 2035h3M438 2045h3M438 2047h3M438 2087h3M439 1928h3M439 1956h3M439 1972h3M439 1981h3M439 1985h3M439 2007h3M439 2028h3M439 2033h3M439 2034h3M439 2036h3M439 2039h3M439 2040h3M439 2049h3M439 2051h3M439 2100h3M440 1933h3M440 1970h3M440 1974h3M440 1982h3M440 1991h3M440 1993h3M440 1998h3M440 2007h3M440 2012h3M440 2018h3M440 2023h3M440 2025h3M440 2028h3M440 2031h3M440 2040h3M440 2050h3M441 1936h3M441 1966h3M441 1988h3M441 2004h3M441 2010h3M441 2013h3M441 2080h3M442 1950h3M442 1960h3M442 1964h3M442 1971h3M442 1973h3M442 1975h3M442 1988h3M442 1997h3M442 2001h3M442 2003h3M442 2009h3M442 2010h3M442 2017h3M442 2020h3M442 2027h3M442 2034h3M442 2051h3M442 2066h3M442 2080h3M442 2082h3M443 1938h3M443 1942h3M443 1944h3M443 1965h3M443 1976h3M443 1984h3M443 1990h3M443 1998h3M443 2006h3M443 2009h3M443 2017h3M443 2022h3M443 2044h3M443 2045h3M443 2047h3M444 1927h3M444 1929h3M444 1935h3M444 1937h3M444 1945h3M444 1986h3M444 1987h3M444 1989h3M444 2009h3M444 2019h3M444 2020h3M444 2023h3M444 2024h3M444 2041h3M444 2053h3M444 2068h3M444 2073h3M444 2076h3M445 1926h3M445 1934h3M445 1956h3M445 1990h3M445 1992h3M445 1995h3M445 1996h3M445 2020h3M445 2029h3M445 2038h3M446 1941h3M446 1951h3M446 1954h3M446 1965h3M446 1976h3M446 1977h3M446 1990h3M446 2001h3M446 2003h3M446 2011h3M446 2026h3M446 2027h3M446 2031h3M446 2032h3M446 2035h3M446 2043h3M446 2053h3M446 2073h3M447 1941h3M447 1955h3M447 1985h3M447 2003h3M447 2004h3M447 2008h3M447 2018h3M447 2030h3M447 2041h3M447 2050h3M447 2052h3M447 2058h3M447 2081h3M448 1962h3M448 1969h3M448 1973h3M448 1979h3M448 1988h3M448 1989h3M448 1991h3M448 2002h3M448 2006h3M448 2016h3M448 2021h3M448 2023h3M448 2025h3M448 2026h3M448 2048h3M448 2096h3M449 1972h3M449 1980h3M449 2009h3M449 2013h3M449 2017h3M449 2030h3M449 2040h3M449 2041h3M449 2064h3M450 1985h3M450 1989h3M450 2013h3M450 2016h3M450 2026h3M450 2048h3M450 2055h3M450 2059h3M451 1960h3M451 1994h3M451 2011h3M451 2014h3M451 2019h3M451 2024h3M451 2030h3M451 2035h3M451 2065h3M451 2091h3M452 1931h3M452 1948h3M452 1956h3M452 1963h3M452 1976h3M452 1989h3M452 2000h3M452 2014h3M452 2018h3M452 2044h3M452 2047h3M452 2063h3M452 2068h3M452 2076h3M453 1947h3M453 1983h3M453 1993h3M453 1999h3M453 2013h3M453 2034h3M453 2039h3M453 2041h3M453 2067h3M454 1961h3M454 1964h3M454 1969h3M454 2000h3M454 2002h3M454 2011h3M454 2012h3M454 2016h3M454 2026h3M454 2034h3M454 2036h3M454 2048h3M454 2071h3M455 1930h3M455 1971h3M455 1973h3M455 1989h3M455 2008h3M455 2015h3M455 2019h3M455 2020h3M455 2032h3M455 2040h3M455 2041h3M455 2085h3M456 1955h3M456 1981h3M456 1982h3M456 2003h3M456 2015h3M456 2017h3M456 2022h3M456 2023h3M456 2024h3M456 2026h3M456 2029h3M456 2045h3M457 1951h3M457 2003h3M457 2009h3M457 2011h3M457 2055h3M457 2065h3M457 2089h3M458 1935h3M458 1944h3M458 1954h3M458 1958h3M458 1969h3M458 1974h3M458 1985h3M458 1989h3M458 1993h3M458 2016h3M458 2035h3M458 2046h3M458 2068h3M459 1985h3M459 2009h3M459 2014h3M459 2021h3M459 2025h3M459 2031h3M459 2045h3M459 2046h3M459 2070h3M459 2087h3M460 1941h3M460 1977h3M460 1992h3M460 1998h3M460 2000h3M460 2004h3M460 2012h3M460 2019h3M460 2034h3M460 2036h3M460 2065h3M460 2066h3M460 2072h3M460 2074h3M461 1960h3M461 1966h3M461 1979h3M461 1993h3M461 2001h3M461 2004h3M461 2006h3M461 2017h3M461 2036h3M461 2052h3M462 1982h3M462 2000h3M462 2029h3M462 2058h3M462 2082h3M463 1953h3M463 2002h3M463 2017h3M463 2033h3M463 2035h3M463 2045h3M463 2047h3M463 2073h3M463 2074h3M464 1928h3M464 1961h3M464 1963h3M464 1971h3M464 1985h3M464 1986h3M464 1994h3M464 2001h3M464 2002h3M464 2005h3M464 2008h3M464 2012h3M464 2018h3M464 2040h3M464 2050h3M464 2071h3M464 2081h3M464 2088h3M465 1940h3M465 1952h3M465 1972h3M465 1983h3M465 1990h3M465 2010h3M465 2015h3M465 2016h3M465 2019h3M465 2030h3M465 2031h3M465 2074h3M465 2075h3M466 1974h3M466 1978h3M466 1993h3M466 2024h3M466 2025h3M466 2026h3M466 2041h3M466 2058h3M466 2119h3M467 1962h3M467 1964h3M467 1975h3M467 1977h3M467 1984h3M467 1993h3M467 1999h3M467 2002h3M467 2008h3M467 2016h3M467 2027h3M467 2042h3M468 1978h3M468 2010h3M468 2014h3M468 2031h3M468 2034h3M468 2042h3M469 1927h3M469 1984h3M469 1988h3M469 1995h3M469 2008h3M469 2009h3M469 2016h3M469 2039h3M469 2041h3M469 2045h3M469 2062h3M470 1927h3M470 1976h3M470 1986h3M470 2018h3M470 2023h3M470 2027h3M470 2031h3M470 2048h3M470 2055h3M470 2056h3M471 1934h3M471 1979h3M471 1985h3M471 2002h3M471 2022h3M471 2024h3M471 2031h3M472 1950h3M472 1997h3M472 2003h3M472 2009h3M472 2022h3M472 2047h3M472 2061h3M472 2064h3M472 2065h3M472 2073h3M473 1931h3M473 1960h3M473 1979h3M473 1984h3M473 1988h3M473 1999h3M473 2007h3M473 2030h3M473 2049h3M473 2092h3M474 1949h3M474 1952h3M474 1964h3M474 1965h3M474 1978h3M474 1991h3M474 1996h3M474 2020h3M474 2029h3M474 2041h3M474 2050h3M474 2060h3M474 2085h3M474 2113h3M475 1964h3M475 1995h3M475 2027h3M475 2035h3M475 2072h3M476 1971h3M476 1973h3M476 1982h3M476 1985h3M476 1989h3M476 2012h3M476 2032h3M476 2034h3M476 2035h3M476 2037h3M476 2066h3M477 1946h3M477 1954h3M477 1972h3M477 1976h3M477 2009h3M477 2019h3M477 2026h3M477 2029h3M477 2040h3M477 2062h3M477 2068h3M477 2069h3M478 1962h3M478 1968h3M478 1985h3M478 1990h3M478 2003h3M478 2004h3M478 2011h3M478 2065h3M478 2067h3M479 1968h3M479 2028h3M479 2054h3M479 2059h3M480 1978h3M480 2002h3M480 2004h3M480 2023h3M480 2028h3M480 2035h3M480 2052h3M481 1976h3M481 1977h3M481 1984h3M481 1988h3M481 1989h3M481 1995h3M481 2006h3M481 2023h3M481 2035h3M481 2054h3M482 1982h3M482 1988h3M482 1990h3M482 2005h3M482 2010h3M482 2015h3M482 2023h3M482 2038h3M482 2053h3M483 1984h3M483 1989h3M483 1995h3M483 2027h3M483 2042h3M483 2053h3M483 2075h3M483 2094h3M483 2100h3M484 1996h3M484 2007h3M484 2019h3M484 2026h3M484 2040h3M484 2042h3M484 2058h3M484 2104h3M485 1948h3M485 1966h3M485 2005h3M485 2037h3M485 2057h3M485 2071h3M486 1968h3M486 2009h3M486 2045h3M486 2052h3M486 2088h3M487 1964h3M487 1977h3M487 1997h3M487 2014h3M487 2032h3M488 2020h3M488 2025h3M488 2027h3M488 2031h3M488 2107h3M488 2121h3M489 1956h3M489 1975h3M489 1978h3M489 1991h3M489 2011h3M489 2018h3M489 2025h3M489 2027h3M489 2043h3M489 2056h3M490 1939h3M490 1985h3M490 2021h3M490 2036h3M490 2044h3M490 2059h3M490 2086h3M491 1968h3M491 1970h3M491 1976h3M491 1986h3M491 2004h3M491 2018h3M491 2034h3M491 2075h3M491 2079h3M491 2095h3M492 1967h3M492 1969h3M492 1980h3M492 1985h3M492 2016h3M492 2050h3M492 2057h3M492 2108h3M493 1955h3M493 1972h3M493 2005h3M493 2018h3M493 2019h3M493 2030h3M493 2065h3M493 2080h3M494 1977h3M494 1984h3M494 1995h3M495 1952h3M495 1960h3M495 1968h3M495 1971h3M495 2001h3M495 2068h3M496 1945h3M496 1969h3M496 1974h3M496 1976h3M496 1984h3M496 2038h3M497 1981h3M498 1966h3M498 2012h3M498 2013h3M498 2030h3M498 2036h3M498 2058h3M498 2063h3M498 2078h3M499 1962h3M499 2015h3M499 2027h3M500 2023h3M500 2027h3M500 2029h3M501 1973h3M501 2001h3M501 2048h3M501 2053h3M502 1956h3M502 1982h3M502 2011h3M502 2012h3M502 2017h3M502 2031h3M502 2033h3M502 2043h3M502 2093h3M503 1988h3M503 2018h3M503 2027h3M503 2030h3M503 2052h3M503 2069h3M504 1995h3M504 1996h3M504 2010h3M504 2018h3M504 2025h3M504 2085h3M505 1981h3M505 1997h3M505 2004h3M505 2008h3M505 2021h3M505 2024h3M506 1953h3M506 1963h3M506 1979h3M506 1989h3M506 1995h3M506 2032h3M506 2074h3M507 1951h3M507 1963h3M507 1995h3M507 2035h3M507 2038h3M507 2042h3M507 2050h3M508 1975h3M508 1995h3M508 2001h3M508 2008h3M508 2035h3M508 2089h3M509 1940h3M509 2021h3M510 1988h3M510 1991h3M510 2020h3M511 1959h3M511 1971h3M511 2072h3M512 1926h3M512 1957h3M512 1986h3M512 2055h3M513 1988h3M513 2009h3M513 2019h3M513 2041h3M514 1987h3M514 1999h3M514 2001h3M514 2008h3M514 2028h3M514 2054h3M515 1929h3M515 2008h3M515 2022h3M515 2042h3M515 2090h3M515 2091h3M516 1952h3M516 2040h3M516 2056h3M516 2066h3M516 2069h3M516 2095h3M517 1966h3M517 1991h3M517 1995h3M517 2020h3M518 2012h3M518 2025h3M518 2064h3M519 1965h3M519 1992h3M519 1997h3M519 2025h3M520 1968h3M520 2019h3M520 2039h3M521 1964h3M521 1972h3M521 1984h3M522 2028h3M522 2038h3M522 2058h3M523 1996h3M523 2017h3M523 2080h3M525 2001h3M526 1986h3M526 2011h3M526 2039h3M526 2099h3M527 1980h3M528 1924h3M528 2015h3M529 1987h3M529 1995h3M529 2001h3M529 2053h3M530 1986h3M530 2020h3M530 2021h3M530 2058h3M531 1948h3M531 1967h3M531 1986h3M531 2026h3M531 2029h3M531 2090h3M532 1931h3M532 1955h3M532 2016h3M532 2031h3M532 2080h3M533 1993h3M533 2007h3M533 2013h3M533 2023h3M534 1944h3M534 1956h3M534 1982h3M534 1983h3M534 1996h3M534 2040h3M534 2064h3M535 2035h3M538 1965h3M539 1945h3M539 2008h3M540 1988h3M540 2011h3M540 2098h3M541 2021h3M542 1947h3M542 1975h3M542 2009h3M542 2031h3M543 1943h3M543 2011h3M543 2027h3" stroke="#e0501e" stroke-width="3"/><path d="M290 1830h3M296 1838h3M298 1919h3M305 1894h3M318 1866h3M320 1910h3M324 1919h3M325 1740h3M326 1829h3M333 1865h3M338 1845h3M339 1809h3M339 1835h3M339 1904h3M340 1823h3M341 1770h3M342 1776h3M343 1919h3M345 1899h3M350 1858h3M350 1917h3M352 1910h3M355 1829h3M355 1831h3M356 1802h3M357 1749h3M358 1911h3M362 1901h3M364 1919h3M365 1908h3M366 1854h3M366 1856h3M367 1794h3M369 1907h3M370 1848h3M371 1747h3M371 1799h3M372 1802h3M372 1817h3M373 1852h3M374 1784h3M375 1808h3M376 1914h3M378 1849h3M378 1923h3M379 1822h3M380 1799h3M381 1877h3M381 1885h3M382 1815h3M382 1877h3M383 1784h3M384 1805h3M386 1754h3M388 1744h3M388 1911h3M389 1773h3M389 1799h3M391 1797h3M391 1820h3M393 1866h3M393 1885h3M394 1805h3M395 1863h3M396 1831h3M397 1907h3M397 1916h3M398 1880h3M399 1894h3M400 1831h3M400 1895h3M401 1885h3M402 1750h3M404 1914h3M404 1916h3M404 1918h3M405 1781h3M405 1820h3M405 1863h3M406 1818h3M406 1883h3M406 1921h3M407 1762h3M407 1875h3M409 1827h3M409 1851h3M410 1861h3M411 1836h3M412 1752h3M412 1795h3M413 1882h3M414 1814h3M414 1830h3M415 1767h3M415 1803h3M415 1818h3M415 1906h3M416 1812h3M417 1887h3M420 1880h3M421 1778h3M421 1805h3M423 1818h3M423 1822h3M424 1760h3M424 1850h3M426 1805h3M426 1922h3M427 1778h3M427 1819h3M427 1847h3M427 1849h3M427 1887h3M428 1680h3M428 1845h3M431 1799h3M431 1803h3M431 1836h3M431 1837h3M432 1731h3M432 1892h3M433 1789h3M433 1792h3M433 1813h3M434 1843h3M435 1768h3M435 1796h3M435 1806h3M437 1883h3M438 1822h3M439 1851h3M439 1898h3M439 1906h3M440 1807h3M440 1816h3M441 1898h3M442 1802h3M442 1810h3M442 1923h3M443 1809h3M443 1853h3M443 1901h3M444 1635h3M444 1869h3M444 1902h3M445 1773h3M446 1710h3M447 1885h3M447 1904h3M449 1699h3M449 1834h3M450 1757h3M450 1888h3M451 1752h3M452 1834h3M453 1870h3M454 1734h3M454 1834h3M455 1792h3M455 1845h3M455 1913h3M456 1786h3M456 1801h3M457 1739h3M459 1911h3M460 1851h3M460 1873h3M461 1852h3M463 1791h3M464 1825h3M465 1780h3M465 1836h3M466 1727h3M466 1791h3M466 1826h3M467 1813h3M468 1911h3M470 1789h3M472 1717h3M472 1891h3M473 1812h3M473 1880h3M474 1836h3M474 1908h3M475 1722h3M476 1808h3M476 1868h3M477 1811h3M477 1847h3M478 1821h3M478 1887h3M479 1912h3M480 1838h3M481 1745h3M481 1751h3M482 1738h3M482 1907h3M482 1909h3M483 1742h3M484 1737h3M485 1759h3M486 1769h3M486 1837h3M488 1687h3M488 1706h3M488 1794h3M488 1820h3M488 1856h3M488 1919h3M491 1661h3M492 1753h3M492 1830h3M492 1899h3M494 1782h3M495 1747h3M496 1825h3M497 1780h3M498 1756h3M498 1798h3M498 1827h3M499 1760h3M500 1740h3M502 1684h3M502 1714h3M502 1849h3M504 1834h3M505 1840h3M507 1808h3M508 1914h3M510 1720h3M512 1759h3M515 1685h3M515 1710h3M515 1742h3M517 1717h3M517 1749h3M517 1838h3M524 1903h3M525 1694h3M531 1902h3M535 1674h3M539 1725h3M539 1808h3M543 1683h3M544 1825h3M545 1683h3M545 2047h3M545 2062h3M546 1754h3M546 2056h3M546 2073h3M547 2052h3M547 2088h3M548 1929h3M549 2000h3M549 2097h3M550 1750h3M550 1781h3M550 1816h3M550 1960h3M550 2014h3M550 2045h3M550 2095h3M551 1994h3M551 1997h3M551 2001h3M551 2035h3M551 2064h3M552 1987h3M552 1992h3M553 1999h3M553 2001h3M553 2012h3M554 1973h3M554 2050h3M555 2031h3M556 1981h3M556 2005h3M556 2009h3M556 2050h3M557 1807h3M557 1986h3M557 1996h3M557 2023h3M559 2000h3M560 2033h3M561 1989h3M561 2032h3M561 2120h3M562 2007h3M562 2029h3M564 1736h3M564 2024h3M564 2038h3M564 2048h3M565 1871h3M566 1749h3M566 1783h3M566 1989h3M566 2012h3M566 2067h3M567 1984h3M568 1998h3M568 2078h3M569 1983h3M569 2004h3M569 2041h3M570 1866h3M570 1917h3M570 1993h3M570 1994h3M570 2031h3M570 2082h3M571 1977h3M572 1979h3M572 1992h3M572 1999h3M573 1736h3M573 1985h3M574 2069h3M576 1975h3M576 2029h3M576 2082h3M577 1802h3M577 1879h3M577 1984h3M577 2029h3M578 1638h3M578 2057h3M579 1870h3M579 2036h3M580 1801h3M580 1964h3M580 1996h3M580 2034h3M580 2038h3M580 2050h3M580 2077h3M580 2083h3M581 1796h3M581 1935h3M581 1959h3M581 2018h3M581 2094h3M582 1893h3M582 1952h3M582 1985h3M582 1995h3M582 2051h3M583 1802h3M583 1813h3M584 1870h3M584 1887h3M584 1951h3M584 2014h3M584 2031h3M585 1785h3M585 1911h3M585 1967h3M585 1979h3M586 2030h3M587 1888h3M587 1968h3M587 2036h3M588 1649h3M588 1790h3M588 1792h3M588 1818h3M588 1864h3M588 1930h3M588 2054h3M589 1806h3M589 1965h3M589 2059h3M590 1857h3M590 1921h3M590 1949h3M590 1976h3M590 1985h3M590 2009h3M590 2064h3M590 2088h3M591 1827h3M591 1828h3M591 1921h3M591 2087h3M592 1692h3M592 1700h3M592 1843h3M592 1935h3M592 1960h3M592 2061h3M593 1718h3M593 2028h3M593 2052h3M594 1805h3M594 1902h3M594 1911h3M594 1928h3M594 1947h3M594 2063h3M595 1933h3M595 1977h3M596 1752h3M596 1796h3M596 1992h3M596 2046h3M597 1847h3M597 1972h3M597 2073h3M598 1780h3M598 1843h3M598 1993h3M598 2004h3M598 2040h3M598 2066h3M598 2082h3M598 2092h3M599 1789h3M599 1861h3M599 1997h3M600 1854h3M601 1718h3M601 1793h3M601 1878h3M601 1895h3M601 2051h3M602 1646h3M602 1808h3M603 1690h3M603 1768h3M603 1791h3M603 1808h3M603 1810h3M603 1905h3M603 1986h3M603 2019h3M603 2094h3M604 1766h3M604 1972h3M605 1753h3M605 1769h3M605 1773h3M605 1839h3M605 1905h3M605 2113h3M606 1753h3M606 1783h3M606 1889h3M606 2046h3M607 1748h3M607 1774h3M607 1791h3M607 1818h3M607 1829h3M607 1872h3M608 1781h3M608 1789h3M608 1810h3M608 1853h3M608 1953h3M608 1964h3M608 1987h3M609 1848h3M609 1901h3M609 2030h3M610 1790h3M610 1913h3M610 1962h3M610 1989h3M610 1994h3M611 1661h3M611 1884h3M611 1902h3M611 1945h3M611 1950h3M611 1957h3M611 1968h3M611 2027h3M612 1804h3M612 1812h3M612 1819h3M612 1916h3M612 1917h3M612 1980h3M612 2004h3M612 2020h3M612 2060h3M613 1734h3M613 1735h3M613 1771h3M613 1823h3M613 1840h3M613 1862h3M613 2011h3M613 2045h3M613 2076h3M614 1744h3M614 1758h3M614 1778h3M614 1789h3M614 1809h3M614 1932h3M614 1935h3M614 1983h3M614 1988h3M614 2035h3M614 2090h3M615 1710h3M615 1791h3M615 1825h3M615 1853h3M615 1948h3M615 1965h3M615 1966h3M615 2014h3M616 1743h3M616 1747h3M616 1756h3M616 1789h3M616 1829h3M616 1877h3M616 1933h3M616 1963h3M617 1694h3M617 1799h3M617 1818h3M617 1820h3M617 1937h3M617 1994h3M617 2036h3M617 2095h3M618 1644h3M618 1729h3M618 1742h3M618 1767h3M618 1810h3M618 1837h3M618 1851h3M618 1891h3M618 1971h3M618 2041h3M619 1810h3M619 1909h3M619 1995h3M619 2007h3M619 2059h3M620 1776h3M620 1792h3M620 1835h3M620 1840h3M620 1848h3M620 1901h3M620 1902h3M620 1905h3M620 2048h3M620 2080h3M621 1648h3M621 1756h3M621 1769h3M621 1781h3M621 1826h3M621 1831h3M621 1835h3M621 1859h3M622 1646h3M622 1785h3M622 1810h3M622 1815h3M622 1818h3M622 1819h3M622 2003h3M622 2047h3M622 2101h3M623 1696h3M623 1714h3M623 1748h3M623 1780h3M623 1804h3M623 1851h3M623 1909h3M623 1939h3M623 1940h3M624 1753h3M624 1778h3M624 1792h3M624 1866h3M624 2086h3M625 1761h3M625 1770h3M625 1793h3M625 1808h3M625 1810h3M625 1824h3M625 1829h3M625 1837h3M625 1853h3M625 1893h3M625 1996h3M625 1999h3M625 2122h3M626 1694h3M626 1788h3M626 1808h3M626 1847h3M626 1854h3M626 2040h3M626 2055h3M627 1711h3M627 1730h3M627 1792h3M627 1851h3M627 1880h3M627 2014h3M627 2037h3M628 1685h3M628 1724h3M628 1745h3M628 1825h3M628 1876h3M628 1885h3M628 2038h3M629 1752h3M629 1777h3M629 1794h3M629 1800h3M629 1802h3M629 1811h3M629 1877h3M629 1908h3M629 1954h3M629 2055h3M630 1759h3M630 1765h3M630 1768h3M630 1800h3M630 1803h3M630 1809h3M630 1872h3M631 1728h3M631 1738h3M631 1781h3M631 1815h3M631 1826h3M631 1847h3M631 1869h3M631 1877h3M631 1880h3M631 1939h3M631 1970h3M631 1978h3M631 2020h3M632 1700h3M632 1752h3M632 1793h3M632 1841h3M632 1854h3M632 1864h3M632 1869h3M633 1822h3M633 1864h3M633 1906h3M634 1777h3M634 1782h3M634 1794h3M634 1799h3M634 1818h3M634 1835h3M634 1855h3M634 1929h3M634 1968h3M634 1976h3M634 1990h3M634 2047h3M635 1802h3M635 1805h3M635 1809h3M635 1853h3M635 1859h3M635 1866h3M636 1736h3M636 1748h3M636 1757h3M636 1758h3M636 1811h3M636 1813h3M636 1846h3M636 1905h3M636 2023h3M636 2070h3M637 1632h3M637 1729h3M637 1774h3M637 1789h3M637 1818h3M637 1844h3M637 1858h3M637 1953h3M638 1796h3M638 1825h3M638 1832h3M638 1852h3M638 1857h3M638 1882h3M638 2040h3M639 1739h3M639 1752h3M639 1763h3M639 1780h3M639 1799h3M639 1822h3M639 1831h3M639 1840h3M639 1869h3M639 1871h3M639 1879h3M640 1709h3M640 1727h3M640 1735h3M640 1768h3M640 1776h3M640 1813h3M640 1836h3M640 1848h3M640 1904h3M640 2076h3M641 1664h3M641 1700h3M641 1701h3M641 1731h3M641 1740h3M641 1876h3M641 1913h3M641 1953h3M641 2029h3M642 1729h3M642 1756h3M642 1758h3M642 1776h3M642 1799h3M642 1803h3M642 1806h3M642 1810h3M642 1839h3M642 1853h3M642 1929h3M642 2013h3M642 2062h3M643 1694h3M643 1788h3M643 1813h3M643 1830h3M643 1882h3M643 1901h3M644 1734h3M644 1753h3M644 1762h3M644 1792h3M644 1817h3M644 1826h3M644 1844h3M645 1757h3M645 1797h3M645 1809h3M645 1813h3M645 1827h3M645 1828h3M645 1869h3M645 1871h3M645 1883h3M645 1912h3M645 2048h3M646 1769h3M646 1771h3M646 1777h3M646 1794h3M646 1796h3M646 1833h3M646 1993h3M647 1656h3M647 1661h3M647 1747h3M647 1754h3M647 1773h3M647 1811h3M647 1815h3M647 1837h3M647 1856h3M647 1861h3M647 1984h3M648 1718h3M648 1757h3M648 1791h3M648 1802h3M648 1803h3M648 2092h3M649 1748h3M649 1749h3M649 1762h3M649 1770h3M649 1779h3M649 1793h3M649 1818h3M649 1856h3M649 1860h3M649 1887h3M649 1998h3M649 2116h3M650 1774h3M650 1795h3M650 1815h3M650 1834h3M650 1846h3M650 1860h3M650 1883h3M650 1916h3M650 1978h3M650 2016h3M651 1709h3M651 1716h3M651 1733h3M651 1745h3M651 1761h3M651 1764h3M651 1783h3M651 1785h3M651 1795h3M651 1804h3M651 1816h3M651 1818h3M651 1889h3M651 1900h3M651 2013h3M651 2033h3M652 1746h3M652 1756h3M652 1762h3M652 1776h3M652 1833h3M652 2021h3M652 2065h3M653 1790h3M653 1792h3M653 1812h3M653 1825h3M653 1847h3M653 1869h3M653 1871h3M653 1884h3M653 1956h3M653 2013h3M654 1661h3M654 1722h3M654 1765h3M654 1766h3M654 1782h3M654 1786h3M654 1788h3M654 1825h3M654 1833h3M654 1838h3M654 1849h3M654 1865h3M654 1871h3M654 1917h3M654 1989h3M655 1716h3M655 1724h3M655 1767h3M655 1772h3M655 1773h3M655 1778h3M655 1782h3M655 1784h3M655 1785h3M655 1821h3M655 1863h3M655 1881h3M655 1920h3M655 1935h3M655 1956h3M656 1772h3M656 1780h3M656 1790h3M656 1825h3M656 1827h3M656 1849h3M656 1853h3M656 1873h3M656 1883h3M656 1884h3M656 1895h3M656 1932h3M656 1985h3M656 2019h3M657 1716h3M657 1741h3M657 1757h3M657 1794h3M657 1797h3M657 1812h3M657 1836h3M657 1843h3M657 1852h3M657 2033h3M658 1670h3M658 1741h3M658 1765h3M658 1771h3M658 1804h3M658 1808h3M658 1810h3M658 1812h3M658 1844h3M658 1859h3M658 1862h3M658 1877h3M658 1939h3M658 2093h3M659 1725h3M659 1742h3M659 1798h3M659 1809h3M659 1820h3M659 1823h3M659 1835h3M659 1840h3M659 1870h3M659 1987h3M660 1667h3M660 1749h3M660 1809h3M660 1821h3M660 1848h3M660 1867h3M660 1997h3M660 2036h3M661 1727h3M661 1730h3M661 1745h3M661 1750h3M661 1788h3M661 1790h3M661 1839h3M662 1733h3M662 1762h3M662 1773h3M662 1778h3M662 1786h3M662 1801h3M662 1807h3M662 1813h3M662 1821h3M662 1829h3M662 1836h3M662 1860h3M662 1905h3M662 1936h3M663 1760h3M663 1775h3M663 1782h3M663 1788h3M663 1809h3M663 1815h3M663 1828h3M663 1867h3M663 1901h3M664 1734h3M664 1740h3M664 1744h3M664 1789h3M664 1790h3M664 1791h3M664 1814h3M664 1819h3M664 1832h3M664 2011h3M665 1730h3M665 1778h3M665 1792h3M665 1799h3M665 1809h3M665 1811h3M665 1864h3M665 1875h3M666 1628h3M666 1741h3M666 1778h3M666 1797h3M666 1826h3M666 1833h3M666 1842h3M666 1930h3M667 1624h3M667 1698h3M667 1701h3M667 1772h3M667 1785h3M667 1789h3M667 1790h3M667 1794h3M667 1879h3M667 1893h3M668 1682h3M668 1687h3M668 1717h3M668 1740h3M668 1769h3M668 1780h3M668 1787h3M668 1803h3M668 1829h3M668 1831h3M668 1833h3M668 1835h3M668 1845h3M668 1849h3M668 1889h3M668 2084h3M669 1679h3M669 1698h3M669 1733h3M669 1751h3M669 1765h3M669 1780h3M669 1798h3M669 1992h3M670 1814h3M670 1828h3M670 1841h3M670 1885h3M671 1755h3M671 1773h3M671 1798h3M671 1802h3M671 1816h3M671 1825h3M671 1831h3M671 1845h3M672 1746h3M672 1764h3M672 1792h3M672 1824h3M672 1855h3M672 1883h3M672 1886h3M673 1724h3M673 1741h3M673 1744h3M673 1749h3M673 1762h3M673 1765h3M673 1800h3M673 1805h3M673 1808h3M673 1842h3M674 1704h3M674 1738h3M674 1776h3M674 1844h3M674 2022h3M675 1690h3M675 1708h3M675 1734h3M675 1739h3M675 1758h3M675 1764h3M675 1829h3M675 1847h3M675 1868h3M676 1708h3M676 1727h3M676 1739h3M676 1769h3M676 1805h3M676 1807h3M677 1719h3M677 1727h3M677 1730h3M677 1781h3M677 1790h3M677 1791h3M677 1804h3M677 1829h3M677 1930h3M678 1695h3M678 1745h3M678 1749h3M678 1756h3M678 1761h3M678 1785h3M678 1793h3M678 1830h3M678 1833h3M678 1840h3M678 1841h3M678 1850h3M678 1905h3M679 1706h3M679 1717h3M679 1719h3M679 1722h3M679 1739h3M679 1759h3M679 1767h3M679 1774h3M679 1788h3M679 1794h3M679 1803h3M679 1852h3M679 1858h3M679 1860h3M679 2080h3M680 1754h3M680 1761h3M680 1776h3M680 1778h3M680 1801h3M680 1805h3M680 1815h3M680 1821h3M680 1830h3M680 1848h3M680 1860h3M680 1861h3M680 1905h3M681 1670h3M681 1705h3M681 1751h3M681 1776h3M681 1803h3M681 1807h3M681 1816h3M681 1818h3M681 1862h3M682 1699h3M682 1709h3M682 1711h3M682 1792h3M682 1794h3M682 1853h3M682 1933h3M682 1941h3M683 1679h3M683 1700h3M683 1722h3M683 1774h3M683 1801h3M683 1842h3M683 1857h3M683 1860h3M684 1695h3M684 1699h3M684 1707h3M684 1728h3M684 1734h3M684 1739h3M684 1744h3M684 1783h3M684 1801h3M684 1819h3M684 1905h3M684 1908h3M685 1676h3M685 1774h3M685 1780h3M685 1885h3M685 2010h3M686 1683h3M686 1713h3M686 1738h3M686 1755h3M686 1772h3M686 1783h3M686 1790h3M686 1810h3M686 1811h3M686 1818h3M686 1819h3M686 1834h3M686 2076h3M687 1725h3M687 1727h3M687 1766h3M687 1767h3M687 1785h3M687 1788h3M687 1819h3M687 1821h3M687 1896h3M688 1695h3M688 1752h3M688 1764h3M688 1819h3M688 1830h3M688 1870h3M688 1880h3M688 1917h3M688 1993h3M689 1718h3M689 1734h3M689 1752h3M689 1803h3M689 1812h3M689 1813h3M689 1822h3M690 1767h3M690 1826h3M690 1828h3M690 1864h3M690 1878h3M691 1740h3M691 1755h3M691 1771h3M691 1774h3M691 1779h3M691 1812h3M691 1822h3M691 1854h3M692 1681h3M692 1690h3M692 1724h3M692 1728h3M692 1741h3M692 1746h3M692 1747h3M692 1763h3M692 1775h3M692 1780h3M692 1788h3M692 1816h3M692 1837h3M692 1888h3M693 1704h3M693 1761h3M693 1781h3M693 1783h3M693 1808h3M693 1840h3M693 1854h3M693 1884h3M693 2114h3M694 1676h3M694 1683h3M694 1730h3M694 1744h3M694 1748h3M694 1782h3M694 1798h3M694 1825h3M694 2007h3M695 1725h3M695 1740h3M695 1797h3M695 1816h3M695 1828h3M695 1829h3M695 2022h3M696 1640h3M696 1710h3M696 1773h3M696 1780h3M696 1784h3M696 1816h3M696 1821h3M696 1840h3M696 1849h3M697 1703h3M697 1720h3M697 1771h3M697 1781h3M697 1782h3M697 1916h3M698 1693h3M698 1705h3M698 1724h3M698 1738h3M698 1764h3M698 1768h3M698 1810h3M698 1820h3M699 1711h3M699 1726h3M699 1755h3M699 1756h3M699 1765h3M699 1845h3M700 1706h3M700 1763h3M700 1804h3M700 1812h3M701 1786h3M701 1881h3M701 2115h3M702 1700h3M702 1755h3M702 1799h3M702 1830h3M702 1834h3M702 1835h3M702 1994h3M703 1716h3M703 1798h3M703 1855h3M703 2087h3M704 1716h3M704 1718h3M704 1722h3M704 1746h3M704 1747h3M704 1760h3M704 1820h3M704 1822h3M704 1824h3M704 1834h3M705 1702h3M705 1707h3M705 1747h3M705 1765h3M705 1767h3M705 1791h3M705 1810h3M705 1838h3M706 1769h3M706 1775h3M706 1785h3M707 1755h3M707 1771h3M707 1783h3M707 1795h3M707 1827h3M707 1852h3M707 1859h3M707 1945h3M708 1672h3M708 1695h3M708 1720h3M708 1759h3M708 1762h3M708 1790h3M709 1703h3M709 1721h3M709 1733h3M709 1840h3M710 1705h3M710 1736h3M710 1743h3M710 1779h3M710 1783h3M710 1824h3M710 1843h3M711 1728h3M711 1736h3M711 1746h3M711 1768h3M711 1773h3M711 1783h3M711 1838h3M711 1843h3M712 1777h3M712 1898h3M713 1621h3M713 1729h3M713 1741h3M713 1754h3M713 1786h3M713 1804h3M714 1636h3M714 1702h3M714 1774h3M714 1799h3M714 1825h3M715 1677h3M715 1716h3M715 1748h3M715 1751h3M715 1781h3M716 1737h3M716 1760h3M716 1767h3M716 1773h3M716 1826h3M717 1675h3M717 1782h3M718 1720h3M718 1748h3M718 1751h3M719 1707h3M720 1718h3M720 1746h3M720 1749h3M720 1814h3M720 1825h3M720 1866h3M721 1684h3M721 1757h3M721 1783h3M721 1807h3M721 1826h3M721 1832h3M721 1861h3M721 1877h3M722 1673h3M722 1682h3M722 1735h3M722 1759h3M722 1798h3M722 1802h3M722 1821h3M723 1665h3M723 1801h3M723 1831h3M724 1706h3M724 1712h3M724 1776h3M724 1795h3M725 1726h3M725 1766h3M726 1705h3M727 1798h3M728 1710h3M728 1769h3M728 1872h3M729 1785h3M730 1682h3M730 1728h3M730 1743h3M730 1789h3M731 1756h3M731 1777h3M732 1693h3M732 1695h3M732 1703h3M732 1737h3M733 1721h3M733 1779h3M733 1781h3M733 1832h3M734 1702h3M734 1741h3M734 1767h3M734 1853h3M734 1902h3M736 1715h3M736 1734h3M736 1761h3M736 1773h3M736 1835h3M737 1693h3M737 1709h3M737 1779h3M737 1818h3M739 1708h3M739 1792h3M740 1733h3M740 1743h3M741 1676h3M741 1712h3M741 1794h3M741 1813h3M741 1817h3M742 1794h3M742 1827h3M744 1851h3M746 1744h3M747 1827h3M748 1722h3M748 1750h3M749 1793h3M750 1658h3M750 1734h3M750 1774h3M757 1718h3M758 1682h3M758 1696h3M760 1768h3M766 1711h3M766 1835h3M769 1764h3M772 1654h3M776 1697h3M776 1714h3M778 1688h3M782 1686h3" stroke="#de5c66" stroke-width="3"/><rect x="284.0" y="1408.0" width="713.0" height="720.0" fill="none" stroke="#7a7a7a" stroke-width="3.5"/><line x1="284.0" y1="2128.0" x2="997.0" y2="2128.0" stroke="#3a3a3a" stroke-width="3.5"/><line x1="545.0" y1="1408.0" x2="545.0" y2="2128.0" stroke="#e8413c" stroke-width="4"/><line x1="284.0" y1="1924.0" x2="997.0" y2="1924.0" stroke="#e8413c" stroke-width="4"/><circle cx="545" cy="1580" r="11.5" fill="#ee1c1c"/><circle cx="846" cy="1924" r="11.5" fill="#ee1c1c"/><circle cx="545" cy="1924" r="9" fill="#fff" stroke="#e8413c" stroke-width="4"/><path d="M275.0 2128.0H284.0M279.0 2073.8H284.0M279.0 2042.1H284.0M279.0 2019.6H284.0M279.0 2002.2H284.0M279.0 1987.9H284.0M279.0 1975.9H284.0M279.0 1965.4H284.0M279.0 1956.2H284.0M275.0 1948.0H284.0M279.0 1893.8H284.0M279.0 1862.1H284.0M279.0 1839.6H284.0M279.0 1822.2H284.0M279.0 1807.9H284.0M279.0 1795.9H284.0M279.0 1785.4H284.0M279.0 1776.2H284.0M275.0 1768.0H284.0M279.0 1713.8H284.0M279.0 1682.1H284.0M279.0 1659.6H284.0M279.0 1642.2H284.0M279.0 1627.9H284.0M279.0 1615.9H284.0M279.0 1605.4H284.0M279.0 1596.2H284.0M275.0 1588.0H284.0M279.0 1533.8H284.0M279.0 1502.1H284.0M279.0 1479.6H284.0M279.0 1462.2H284.0M279.0 1447.9H284.0M279.0 1435.9H284.0M279.0 1425.4H284.0M279.0 1416.2H284.0M275.0 1408.0H284.0" stroke="#555" stroke-width="2.2" fill="none"/><path d="M284.0 2128.0V2137.0M337.7 2128.0V2133.0M369.0 2128.0V2133.0M391.3 2128.0V2133.0M408.6 2128.0V2133.0M422.7 2128.0V2133.0M434.6 2128.0V2133.0M445.0 2128.0V2133.0M454.1 2128.0V2133.0M462.2 2128.0V2137.0M515.9 2128.0V2133.0M547.3 2128.0V2133.0M569.6 2128.0V2133.0M586.8 2128.0V2133.0M601.0 2128.0V2133.0M612.9 2128.0V2133.0M623.2 2128.0V2133.0M632.3 2128.0V2133.0M640.5 2128.0V2137.0M694.2 2128.0V2133.0M725.5 2128.0V2133.0M747.8 2128.0V2133.0M765.1 2128.0V2133.0M779.2 2128.0V2133.0M791.1 2128.0V2133.0M801.5 2128.0V2133.0M810.6 2128.0V2133.0M818.8 2128.0V2137.0M872.4 2128.0V2133.0M903.8 2128.0V2133.0M926.1 2128.0V2133.0M943.3 2128.0V2133.0M957.5 2128.0V2133.0M969.4 2128.0V2133.0M979.7 2128.0V2133.0M988.8 2128.0V2133.0M997.0 2128.0V2137.0" stroke="#555" stroke-width="2.2" fill="none"/><text x="268.0" y="2140.5" font-size="38" font-weight="normal" fill="#1e1e1e" text-anchor="end" stroke="#222" stroke-width="0.6">0</text><text x="282.0" y="2175.0" font-size="38" font-weight="normal" fill="#1e1e1e" text-anchor="middle" stroke="#222" stroke-width="0.6">0</text><text x="268.0" y="1960.5" font-size="38" font-weight="normal" fill="#1e1e1e" text-anchor="end" stroke="#222" stroke-width="0.6">1</text><text x="460.2" y="2175.0" font-size="38" font-weight="normal" fill="#1e1e1e" text-anchor="middle" stroke="#222" stroke-width="0.6">1</text><text x="268.0" y="1780.5" font-size="38" font-weight="normal" fill="#1e1e1e" text-anchor="end" stroke="#222" stroke-width="0.6">2</text><text x="638.5" y="2175.0" font-size="38" font-weight="normal" fill="#1e1e1e" text-anchor="middle" stroke="#222" stroke-width="0.6">2</text><text x="268.0" y="1600.5" font-size="38" font-weight="normal" fill="#1e1e1e" text-anchor="end" stroke="#222" stroke-width="0.6">3</text><text x="816.8" y="2175.0" font-size="38" font-weight="normal" fill="#1e1e1e" text-anchor="middle" stroke="#222" stroke-width="0.6">3</text><text x="268.0" y="1420.5" font-size="38" font-weight="normal" fill="#1e1e1e" text-anchor="end" stroke="#222" stroke-width="0.6">4</text><text x="995.0" y="2175.0" font-size="38" font-weight="normal" fill="#1e1e1e" text-anchor="middle" stroke="#222" stroke-width="0.6">4</text><text x="375.0" y="1328.0" font-size="67" font-weight="bold" fill="#000" text-anchor="start" textLength="420.0" lengthAdjust="spacingAndGlyphs">Actinomycin D</text><text x="356.0" y="1397.0" font-size="53.5" font-weight="normal" fill="#1e1e1e" text-anchor="start" textLength="566.0" lengthAdjust="spacingAndGlyphs" stroke="#1e1e1e" stroke-width="0.6">APOPTOSIS PROFILE</text><text transform="translate(220.0,1892.0) rotate(-90)" x="0" y="0" font-size="54" font-weight="normal" fill="#1e1e1e" text-anchor="start" textLength="248.0" lengthAdjust="spacingAndGlyphs" stroke="#1e1e1e" stroke-width="0.6">VIABILITY</text><text x="287.0" y="2224.0" font-size="36" font-weight="normal" fill="#646464" text-anchor="start" textLength="70.6" lengthAdjust="spacingAndGlyphs" stroke="#646464" stroke-width="0.8">Live</text><text x="495.0" y="2228.5" font-size="51" font-weight="normal" fill="#1e1e1e" text-anchor="start" textLength="288.0" lengthAdjust="spacingAndGlyphs" stroke="#1e1e1e" stroke-width="0.8">ANNEXIN V</text><text x="832.0" y="2224.0" font-size="36" font-weight="normal" fill="#646464" text-anchor="start" textLength="162.0" lengthAdjust="spacingAndGlyphs" stroke="#646464" stroke-width="0.8">Apoptotic</text><text x="296.0" y="1459.0" font-size="50" font-weight="normal" fill="#1e1e1e" text-anchor="start" textLength="114.0" lengthAdjust="spacingAndGlyphs" stroke="#1e1e1e" stroke-width="0.9">Dead</text><text x="296.0" y="1516.0" font-size="50" font-weight="normal" fill="#1e1e1e" text-anchor="start" textLength="146.0" lengthAdjust="spacingAndGlyphs" stroke="#1e1e1e" stroke-width="0.9">5.38 %</text><text x="624.0" y="1459.0" font-size="50" font-weight="normal" fill="#1e1e1e" text-anchor="start" textLength="359.0" lengthAdjust="spacingAndGlyphs" stroke="#1e1e1e" stroke-width="0.9">Late Apop./Dead</text><text x="815.0" y="1516.0" font-size="50" font-weight="normal" fill="#1e1e1e" text-anchor="start" textLength="168.0" lengthAdjust="spacingAndGlyphs" stroke="#1e1e1e" stroke-width="0.9">19.42 %</text><text x="296.0" y="2057.0" font-size="50" font-weight="normal" fill="#1e1e1e" text-anchor="start" textLength="171.0" lengthAdjust="spacingAndGlyphs" stroke="#1e1e1e" stroke-width="0.9">68.13 %</text><text x="296.0" y="2114.0" font-size="50" font-weight="normal" fill="#1e1e1e" text-anchor="start" textLength="86.0" lengthAdjust="spacingAndGlyphs" stroke="#1e1e1e" stroke-width="0.9">Live</text><text x="837.0" y="2057.0" font-size="50" font-weight="normal" fill="#1e1e1e" text-anchor="start" textLength="146.0" lengthAdjust="spacingAndGlyphs" stroke="#1e1e1e" stroke-width="0.9">7.06 %</text><text x="738.0" y="2114.0" font-size="50" font-weight="normal" fill="#1e1e1e" text-anchor="start" textLength="245.0" lengthAdjust="spacingAndGlyphs" stroke="#1e1e1e" stroke-width="0.9">Early Apop.</text><rect x="1186.5" y="1403.5" width="713.5" height="721.5" fill="#ffffff"/><rect x="1186.5" y="1920.0" width="262.5" height="205.0" fill="#e7f2d0"/><path d="M1189 2005h2M1190 1993h2M1190 1996h2M1190 2020h2M1191 1975h2M1191 1987h2M1191 1996h2M1191 2060h2M1192 2016h2M1192 2022h2M1192 2099h2M1193 1976h2M1193 2000h2M1193 2020h2M1193 2100h2M1194 1988h2M1194 1997h2M1196 1963h2M1196 1993h2M1196 2013h2M1196 2047h2M1197 1957h2M1197 2009h2M1198 2016h2M1198 2025h2M1199 1964h2M1199 1984h2M1199 2012h2M1200 2003h2M1200 2018h2M1200 2048h2M1201 1990h2M1201 2006h2M1201 2022h2M1203 2035h2M1203 2060h2M1204 2118h2M1205 1930h2M1205 1965h2M1205 1991h2M1205 2068h2M1206 2000h2M1206 2002h2M1207 1954h2M1207 1991h2M1207 1999h2M1207 2007h2M1207 2015h2M1208 1941h2M1208 1982h2M1208 1984h2M1208 2008h2M1208 2015h2M1208 2019h2M1208 2021h2M1208 2026h2M1208 2077h2M1209 2011h2M1209 2054h2M1210 1983h2M1210 2008h2M1210 2024h2M1211 1975h2M1211 1982h2M1211 1986h2M1211 1988h2M1211 2000h2M1211 2003h2M1211 2006h2M1211 2032h2M1211 2090h2M1212 1989h2M1212 1990h2M1212 1998h2M1212 2023h2M1212 2025h2M1212 2028h2M1213 1981h2M1213 2006h2M1213 2018h2M1213 2026h2M1213 2028h2M1213 2055h2M1214 1948h2M1214 1988h2M1214 2019h2M1214 2021h2M1215 1967h2M1215 1976h2M1215 1978h2M1215 2005h2M1215 2015h2M1215 2019h2M1216 1974h2M1216 1981h2M1216 2002h2M1216 2017h2M1216 2029h2M1217 2028h2M1217 2102h2M1218 2001h2M1218 2004h2M1218 2025h2M1218 2029h2M1218 2087h2M1219 1984h2M1219 2014h2M1219 2016h2M1220 1972h2M1220 2022h2M1221 1975h2M1221 2012h2M1221 2038h2M1221 2076h2M1222 1982h2M1222 1983h2M1222 1992h2M1222 1995h2M1222 2002h2M1222 2021h2M1222 2023h2M1222 2029h2M1223 2019h2M1223 2033h2M1223 2044h2M1224 1984h2M1224 1985h2M1224 1999h2M1224 2004h2M1224 2008h2M1224 2030h2M1224 2034h2M1224 2041h2M1224 2052h2M1224 2059h2M1224 2068h2M1225 1958h2M1225 1965h2M1225 1969h2M1225 1988h2M1225 2003h2M1225 2023h2M1225 2025h2M1225 2030h2M1225 2056h2M1226 1959h2M1226 1977h2M1226 1993h2M1226 1995h2M1226 1999h2M1226 2003h2M1226 2015h2M1227 1926h2M1227 1956h2M1227 1959h2M1227 1979h2M1227 1984h2M1227 2000h2M1227 2007h2M1227 2012h2M1227 2013h2M1227 2017h2M1227 2022h2M1227 2025h2M1228 1994h2M1228 1995h2M1228 2019h2M1229 1983h2M1229 2001h2M1229 2008h2M1229 2017h2M1229 2023h2M1229 2073h2M1230 1953h2M1230 1959h2M1230 1971h2M1230 1977h2M1230 1982h2M1230 1988h2M1230 1995h2M1230 1999h2M1230 2005h2M1230 2008h2M1230 2010h2M1230 2023h2M1230 2067h2M1230 2068h2M1231 1989h2M1231 1992h2M1231 2004h2M1231 2026h2M1231 2027h2M1231 2048h2M1232 1940h2M1232 1982h2M1232 2004h2M1232 2011h2M1232 2038h2M1232 2052h2M1232 2076h2M1233 1987h2M1233 1994h2M1233 1998h2M1233 2008h2M1233 2025h2M1233 2034h2M1233 2074h2M1234 1975h2M1234 1985h2M1234 1994h2M1234 1995h2M1234 1997h2M1234 2002h2M1234 2047h2M1234 2051h2M1235 1953h2M1235 1982h2M1235 1985h2M1235 1998h2M1235 2010h2M1235 2015h2M1235 2030h2M1235 2034h2M1235 2041h2M1236 1920h2M1236 1994h2M1236 2002h2M1236 2018h2M1236 2025h2M1236 2038h2M1236 2048h2M1236 2053h2M1237 1948h2M1237 1949h2M1237 1953h2M1237 1968h2M1237 1984h2M1237 1986h2M1237 1987h2M1237 2010h2M1237 2015h2M1237 2020h2M1238 1940h2M1238 1983h2M1238 1985h2M1238 1996h2M1238 1998h2M1238 2026h2M1238 2029h2M1238 2030h2M1238 2047h2M1238 2074h2M1239 1943h2M1239 1975h2M1239 1983h2M1239 1989h2M1239 1991h2M1239 1997h2M1239 1998h2M1239 1999h2M1239 2003h2M1239 2021h2M1240 1969h2M1240 1975h2M1240 1977h2M1240 1985h2M1240 1995h2M1240 2013h2M1240 2035h2M1240 2051h2M1241 1946h2M1241 1947h2M1241 1953h2M1241 1963h2M1241 1972h2M1241 1974h2M1241 1991h2M1241 1994h2M1241 2010h2M1241 2021h2M1241 2036h2M1241 2045h2M1241 2048h2M1241 2066h2M1242 1985h2M1242 1990h2M1242 1992h2M1242 1997h2M1242 1999h2M1242 2002h2M1242 2007h2M1242 2013h2M1242 2014h2M1242 2016h2M1242 2018h2M1242 2021h2M1242 2042h2M1242 2044h2M1243 1962h2M1243 1970h2M1243 1971h2M1243 1980h2M1243 1986h2M1243 1991h2M1243 1992h2M1243 1993h2M1243 1999h2M1243 2000h2M1243 2002h2M1243 2010h2M1243 2011h2M1243 2024h2M1243 2054h2M1244 1964h2M1244 1979h2M1244 1989h2M1244 1992h2M1244 1994h2M1244 1996h2M1244 1997h2M1244 2012h2M1244 2017h2M1244 2018h2M1244 2020h2M1244 2022h2M1244 2028h2M1244 2074h2M1245 1933h2M1245 1971h2M1245 1975h2M1245 1977h2M1245 1981h2M1245 1994h2M1245 1995h2M1245 2000h2M1245 2008h2M1245 2083h2M1246 1981h2M1246 1994h2M1246 2007h2M1246 2011h2M1246 2014h2M1246 2016h2M1246 2017h2M1246 2019h2M1246 2022h2M1246 2035h2M1247 1969h2M1247 1983h2M1247 1989h2M1247 1998h2M1247 2026h2M1247 2087h2M1248 1945h2M1248 1972h2M1248 1982h2M1248 1990h2M1248 1991h2M1248 1994h2M1248 1995h2M1248 2008h2M1248 2016h2M1248 2018h2M1248 2022h2M1248 2033h2M1249 1947h2M1249 1962h2M1249 1976h2M1249 1979h2M1249 1983h2M1249 1994h2M1249 1995h2M1249 1996h2M1249 2006h2M1249 2023h2M1249 2029h2M1249 2031h2M1249 2090h2M1250 1972h2M1250 1979h2M1250 1982h2M1250 1983h2M1250 1984h2M1250 1987h2M1250 1988h2M1250 1996h2M1250 2002h2M1250 2009h2M1250 2012h2M1250 2015h2M1250 2025h2M1250 2030h2M1250 2050h2M1251 1963h2M1251 1966h2M1251 1980h2M1251 1992h2M1251 1996h2M1251 2003h2M1251 2004h2M1251 2015h2M1251 2018h2M1251 2019h2M1251 2029h2M1251 2031h2M1251 2038h2M1251 2046h2M1251 2053h2M1251 2078h2M1252 1973h2M1252 1994h2M1252 2004h2M1252 2006h2M1252 2010h2M1252 2014h2M1252 2015h2M1252 2017h2M1252 2020h2M1252 2030h2M1252 2033h2M1252 2035h2M1252 2073h2M1252 2105h2M1253 1960h2M1253 1975h2M1253 1984h2M1253 1997h2M1253 2001h2M1253 2011h2M1253 2030h2M1253 2043h2M1253 2045h2M1253 2049h2M1254 1960h2M1254 1971h2M1254 1978h2M1254 1989h2M1254 1998h2M1254 1999h2M1254 2006h2M1254 2010h2M1254 2011h2M1254 2047h2M1255 1945h2M1255 1977h2M1255 1992h2M1255 1994h2M1255 2009h2M1255 2017h2M1255 2019h2M1255 2024h2M1255 2026h2M1255 2046h2M1256 1974h2M1256 1979h2M1256 1982h2M1256 1988h2M1256 1989h2M1256 1990h2M1256 1999h2M1256 2003h2M1256 2017h2M1256 2023h2M1256 2031h2M1256 2035h2M1257 1965h2M1257 1989h2M1257 1992h2M1257 1993h2M1257 1999h2M1257 2001h2M1257 2002h2M1257 2004h2M1257 2005h2M1257 2012h2M1257 2015h2M1257 2019h2M1257 2025h2M1257 2065h2M1258 1949h2M1258 1951h2M1258 1963h2M1258 1964h2M1258 1965h2M1258 1974h2M1258 1978h2M1258 1979h2M1258 1981h2M1258 1986h2M1258 1987h2M1258 1990h2M1258 1995h2M1258 1996h2M1258 2001h2M1258 2008h2M1258 2015h2M1258 2019h2M1258 2020h2M1258 2032h2M1258 2042h2M1258 2070h2M1258 2074h2M1258 2078h2M1259 1986h2M1259 1987h2M1259 1990h2M1259 1993h2M1259 1997h2M1259 2002h2M1259 2005h2M1259 2008h2M1259 2019h2M1259 2041h2M1259 2053h2M1259 2117h2M1260 1972h2M1260 1986h2M1260 1998h2M1260 1999h2M1260 2004h2M1260 2006h2M1260 2008h2M1260 2013h2M1260 2017h2M1260 2018h2M1260 2020h2M1260 2021h2M1260 2026h2M1260 2030h2M1260 2031h2M1260 2043h2M1260 2049h2M1260 2073h2M1260 2111h2M1261 1960h2M1261 1962h2M1261 1976h2M1261 1978h2M1261 1982h2M1261 1991h2M1261 1994h2M1261 1995h2M1261 1997h2M1261 1998h2M1261 2003h2M1261 2009h2M1261 2012h2M1261 2013h2M1261 2016h2M1261 2019h2M1261 2021h2M1261 2024h2M1261 2025h2M1261 2027h2M1261 2030h2M1261 2033h2M1261 2036h2M1261 2064h2M1262 1922h2M1262 1927h2M1262 1955h2M1262 1961h2M1262 1971h2M1262 1976h2M1262 1979h2M1262 1984h2M1262 1987h2M1262 1988h2M1262 1989h2M1262 1993h2M1262 1997h2M1262 2002h2M1262 2003h2M1262 2004h2M1262 2010h2M1262 2028h2M1262 2049h2M1262 2051h2M1262 2061h2M1263 1963h2M1263 1970h2M1263 1983h2M1263 1988h2M1263 1989h2M1263 1991h2M1263 2000h2M1263 2002h2M1263 2003h2M1263 2008h2M1263 2010h2M1263 2012h2M1263 2018h2M1263 2021h2M1263 2022h2M1263 2025h2M1264 1944h2M1264 1961h2M1264 1971h2M1264 1975h2M1264 1979h2M1264 1991h2M1264 2003h2M1264 2006h2M1264 2009h2M1264 2012h2M1264 2014h2M1264 2015h2M1264 2017h2M1264 2021h2M1264 2028h2M1264 2031h2M1265 1950h2M1265 1970h2M1265 1976h2M1265 1977h2M1265 1989h2M1265 1990h2M1265 1993h2M1265 1995h2M1265 1998h2M1265 1999h2M1265 2002h2M1265 2003h2M1265 2010h2M1265 2014h2M1265 2016h2M1265 2026h2M1265 2031h2M1265 2036h2M1265 2041h2M1265 2043h2M1266 1930h2M1266 1954h2M1266 1970h2M1266 1973h2M1266 1975h2M1266 1976h2M1266 1981h2M1266 1984h2M1266 1985h2M1266 1986h2M1266 1991h2M1266 1992h2M1266 1999h2M1266 2000h2M1266 2002h2M1266 2010h2M1266 2012h2M1266 2016h2M1266 2017h2M1266 2026h2M1266 2027h2M1266 2034h2M1266 2036h2M1266 2040h2M1266 2064h2M1267 1964h2M1267 1970h2M1267 1971h2M1267 1988h2M1267 1991h2M1267 1997h2M1267 1999h2M1267 2002h2M1267 2003h2M1267 2015h2M1267 2029h2M1267 2071h2M1268 1970h2M1268 1972h2M1268 1976h2M1268 1979h2M1268 1984h2M1268 1985h2M1268 1988h2M1268 1993h2M1268 1995h2M1268 1998h2M1268 2001h2M1268 2015h2M1268 2021h2M1268 2026h2M1269 1955h2M1269 1972h2M1269 1975h2M1269 1979h2M1269 1990h2M1269 1992h2M1269 1993h2M1269 1994h2M1269 2003h2M1269 2004h2M1269 2010h2M1269 2011h2M1269 2012h2M1269 2015h2M1269 2023h2M1269 2024h2M1269 2025h2M1269 2059h2M1269 2084h2M1270 1966h2M1270 1967h2M1270 1975h2M1270 1980h2M1270 1982h2M1270 1993h2M1270 1994h2M1270 1998h2M1270 2002h2M1270 2006h2M1270 2011h2M1270 2012h2M1270 2013h2M1270 2016h2M1270 2017h2M1270 2020h2M1270 2021h2M1270 2026h2M1270 2028h2M1270 2030h2M1270 2031h2M1270 2032h2M1270 2034h2M1270 2043h2M1270 2049h2M1270 2067h2M1270 2080h2M1271 1972h2M1271 1980h2M1271 1985h2M1271 1987h2M1271 1989h2M1271 1993h2M1271 2001h2M1271 2006h2M1271 2012h2M1271 2013h2M1271 2014h2M1271 2015h2M1271 2020h2M1271 2025h2M1271 2032h2M1271 2036h2M1271 2037h2M1271 2047h2M1272 1943h2M1272 1948h2M1272 1962h2M1272 1963h2M1272 1977h2M1272 1984h2M1272 1986h2M1272 1987h2M1272 1989h2M1272 1991h2M1272 1992h2M1272 1993h2M1272 1994h2M1272 1997h2M1272 1998h2M1272 1999h2M1272 2001h2M1272 2002h2M1272 2005h2M1272 2009h2M1272 2016h2M1272 2032h2M1272 2034h2M1272 2037h2M1272 2050h2M1273 1945h2M1273 1955h2M1273 1972h2M1273 1973h2M1273 1982h2M1273 1983h2M1273 1984h2M1273 1988h2M1273 1990h2M1273 1992h2M1273 1993h2M1273 1997h2M1273 1998h2M1273 2000h2M1273 2001h2M1273 2002h2M1273 2003h2M1273 2004h2M1273 2005h2M1273 2008h2M1273 2009h2M1273 2016h2M1273 2017h2M1273 2035h2M1273 2042h2M1273 2051h2M1274 1955h2M1274 1966h2M1274 1969h2M1274 1977h2M1274 1979h2M1274 1982h2M1274 1988h2M1274 1989h2M1274 1994h2M1274 2000h2M1274 2001h2M1274 2008h2M1274 2011h2M1274 2012h2M1274 2017h2M1274 2021h2M1274 2022h2M1274 2027h2M1274 2037h2M1275 1949h2M1275 1953h2M1275 1964h2M1275 1968h2M1275 1976h2M1275 1988h2M1275 1994h2M1275 1995h2M1275 1998h2M1275 1999h2M1275 2001h2M1275 2002h2M1275 2011h2M1275 2014h2M1275 2017h2M1275 2024h2M1275 2027h2M1275 2028h2M1275 2029h2M1275 2032h2M1275 2034h2M1275 2042h2M1275 2052h2M1275 2067h2M1276 1933h2M1276 1969h2M1276 1970h2M1276 1974h2M1276 1975h2M1276 1978h2M1276 1980h2M1276 1982h2M1276 1985h2M1276 1986h2M1276 1994h2M1276 2000h2M1276 2001h2M1276 2002h2M1276 2004h2M1276 2005h2M1276 2010h2M1276 2011h2M1276 2012h2M1276 2015h2M1276 2018h2M1276 2020h2M1276 2023h2M1276 2027h2M1276 2029h2M1276 2031h2M1276 2033h2M1276 2043h2M1276 2044h2M1276 2048h2M1276 2099h2M1277 1929h2M1277 1954h2M1277 1969h2M1277 1975h2M1277 1987h2M1277 1988h2M1277 1991h2M1277 1997h2M1277 1998h2M1277 2001h2M1277 2002h2M1277 2003h2M1277 2005h2M1277 2006h2M1277 2008h2M1277 2009h2M1277 2010h2M1277 2012h2M1277 2014h2M1277 2016h2M1277 2022h2M1277 2023h2M1277 2028h2M1277 2033h2M1277 2037h2M1277 2048h2M1277 2060h2M1277 2073h2M1278 1954h2M1278 1961h2M1278 1967h2M1278 1975h2M1278 1980h2M1278 1986h2M1278 1990h2M1278 1992h2M1278 1994h2M1278 1995h2M1278 1998h2M1278 2001h2M1278 2002h2M1278 2003h2M1278 2005h2M1278 2009h2M1278 2013h2M1278 2014h2M1278 2017h2M1278 2018h2M1278 2022h2M1278 2032h2M1278 2038h2M1278 2040h2M1278 2043h2M1278 2055h2M1278 2063h2M1278 2083h2M1278 2088h2M1279 1929h2M1279 1961h2M1279 1965h2M1279 1977h2M1279 1990h2M1279 1991h2M1279 1992h2M1279 1995h2M1279 1998h2M1279 1999h2M1279 2001h2M1279 2002h2M1279 2003h2M1279 2004h2M1279 2008h2M1279 2021h2M1279 2022h2M1279 2024h2M1279 2027h2M1279 2028h2M1279 2030h2M1279 2031h2M1279 2037h2M1279 2065h2M1279 2114h2M1280 1959h2M1280 1963h2M1280 1981h2M1280 1987h2M1280 1989h2M1280 1990h2M1280 1991h2M1280 1998h2M1280 2004h2M1280 2009h2M1280 2010h2M1280 2013h2M1280 2016h2M1280 2018h2M1280 2026h2M1280 2032h2M1280 2102h2M1281 1960h2M1281 1963h2M1281 1966h2M1281 1980h2M1281 1981h2M1281 1982h2M1281 1985h2M1281 1986h2M1281 1988h2M1281 1989h2M1281 1993h2M1281 1997h2M1281 2004h2M1281 2005h2M1281 2006h2M1281 2007h2M1281 2009h2M1281 2014h2M1281 2015h2M1281 2017h2M1281 2019h2M1281 2035h2M1281 2040h2M1281 2044h2M1281 2046h2M1281 2048h2M1281 2058h2M1281 2081h2M1282 1954h2M1282 1960h2M1282 1980h2M1282 1991h2M1282 1993h2M1282 1997h2M1282 2001h2M1282 2002h2M1282 2007h2M1282 2008h2M1282 2012h2M1282 2013h2M1282 2014h2M1282 2017h2M1282 2023h2M1282 2024h2M1282 2026h2M1282 2028h2M1282 2029h2M1282 2036h2M1282 2038h2M1282 2040h2M1282 2075h2M1282 2079h2M1282 2103h2M1283 1925h2M1283 1966h2M1283 1974h2M1283 1977h2M1283 1978h2M1283 1980h2M1283 1982h2M1283 1985h2M1283 1988h2M1283 1991h2M1283 1992h2M1283 1994h2M1283 1996h2M1283 1997h2M1283 1999h2M1283 2003h2M1283 2004h2M1283 2008h2M1283 2012h2M1283 2013h2M1283 2014h2M1283 2017h2M1283 2018h2M1283 2020h2M1283 2021h2M1283 2035h2M1283 2038h2M1283 2066h2M1283 2080h2M1283 2095h2M1284 1941h2M1284 1968h2M1284 1970h2M1284 1979h2M1284 1982h2M1284 1984h2M1284 1996h2M1284 2005h2M1284 2007h2M1284 2010h2M1284 2014h2M1284 2016h2M1284 2018h2M1284 2036h2M1284 2037h2M1284 2043h2M1284 2063h2M1284 2095h2M1284 2100h2M1285 1944h2M1285 1966h2M1285 1976h2M1285 1978h2M1285 1981h2M1285 1985h2M1285 1991h2M1285 1992h2M1285 1998h2M1285 2006h2M1285 2010h2M1285 2011h2M1285 2012h2M1285 2015h2M1285 2016h2M1285 2018h2M1285 2021h2M1285 2022h2M1285 2024h2M1285 2025h2M1285 2039h2M1285 2041h2M1285 2044h2M1285 2065h2M1286 1932h2M1286 1968h2M1286 1969h2M1286 1970h2M1286 1980h2M1286 1986h2M1286 1991h2M1286 1993h2M1286 1994h2M1286 1998h2M1286 2000h2M1286 2003h2M1286 2011h2M1286 2017h2M1286 2018h2M1286 2019h2M1286 2029h2M1286 2048h2M1286 2109h2M1286 2110h2M1287 1944h2M1287 1953h2M1287 1971h2M1287 1972h2M1287 1973h2M1287 1975h2M1287 1987h2M1287 1988h2M1287 1990h2M1287 1991h2M1287 1992h2M1287 1993h2M1287 1996h2M1287 1997h2M1287 1999h2M1287 2000h2M1287 2005h2M1287 2009h2M1287 2013h2M1287 2021h2M1287 2025h2M1287 2027h2M1287 2032h2M1287 2035h2M1287 2049h2M1288 1958h2M1288 1960h2M1288 1963h2M1288 1965h2M1288 1977h2M1288 1979h2M1288 1981h2M1288 1985h2M1288 1986h2M1288 1989h2M1288 1990h2M1288 1991h2M1288 1996h2M1288 1997h2M1288 1998h2M1288 2004h2M1288 2014h2M1288 2015h2M1288 2018h2M1288 2019h2M1288 2029h2M1288 2033h2M1288 2039h2M1288 2062h2M1289 1940h2M1289 1951h2M1289 1958h2M1289 1961h2M1289 1973h2M1289 1978h2M1289 1981h2M1289 1989h2M1289 1996h2M1289 2001h2M1289 2002h2M1289 2003h2M1289 2005h2M1289 2011h2M1289 2020h2M1289 2022h2M1289 2026h2M1289 2030h2M1289 2033h2M1289 2047h2M1289 2051h2M1289 2052h2M1289 2071h2M1290 1948h2M1290 1957h2M1290 1972h2M1290 1976h2M1290 1977h2M1290 1986h2M1290 1987h2M1290 1991h2M1290 1997h2M1290 1998h2M1290 2003h2M1290 2006h2M1290 2007h2M1290 2008h2M1290 2009h2M1290 2012h2M1290 2015h2M1290 2019h2M1290 2020h2M1290 2021h2M1290 2023h2M1290 2024h2M1290 2025h2M1290 2034h2M1290 2037h2M1290 2038h2M1290 2039h2M1290 2044h2M1290 2046h2M1290 2055h2M1290 2075h2M1290 2098h2M1291 1945h2M1291 1971h2M1291 1974h2M1291 1975h2M1291 1977h2M1291 1978h2M1291 1979h2M1291 1981h2M1291 1984h2M1291 1987h2M1291 1989h2M1291 1990h2M1291 1995h2M1291 1997h2M1291 1998h2M1291 2002h2M1291 2007h2M1291 2011h2M1291 2012h2M1291 2013h2M1291 2016h2M1291 2018h2M1291 2021h2M1291 2022h2M1291 2025h2M1291 2035h2M1291 2038h2M1291 2061h2M1292 1924h2M1292 1947h2M1292 1979h2M1292 1982h2M1292 1987h2M1292 1988h2M1292 1991h2M1292 1993h2M1292 1996h2M1292 1997h2M1292 1999h2M1292 2000h2M1292 2001h2M1292 2002h2M1292 2010h2M1292 2018h2M1292 2020h2M1292 2028h2M1292 2029h2M1292 2031h2M1292 2034h2M1292 2036h2M1292 2051h2M1292 2073h2M1292 2089h2M1292 2101h2M1293 1970h2M1293 1978h2M1293 1982h2M1293 1983h2M1293 1986h2M1293 1987h2M1293 1988h2M1293 1990h2M1293 1993h2M1293 1996h2M1293 2000h2M1293 2001h2M1293 2006h2M1293 2009h2M1293 2019h2M1293 2022h2M1293 2029h2M1293 2034h2M1293 2044h2M1293 2049h2M1293 2052h2M1293 2065h2M1294 1945h2M1294 1958h2M1294 1960h2M1294 1966h2M1294 1970h2M1294 1971h2M1294 1972h2M1294 1975h2M1294 1979h2M1294 1982h2M1294 1986h2M1294 1987h2M1294 1988h2M1294 1990h2M1294 1991h2M1294 1994h2M1294 1997h2M1294 1998h2M1294 2001h2M1294 2003h2M1294 2005h2M1294 2009h2M1294 2013h2M1294 2014h2M1294 2016h2M1294 2017h2M1294 2018h2M1294 2020h2M1294 2022h2M1294 2028h2M1294 2030h2M1294 2034h2M1294 2036h2M1294 2043h2M1294 2060h2M1294 2065h2M1294 2070h2M1294 2117h2M1295 1928h2M1295 1944h2M1295 1983h2M1295 1993h2M1295 1997h2M1295 1998h2M1295 2002h2M1295 2003h2M1295 2004h2M1295 2005h2M1295 2006h2M1295 2009h2M1295 2011h2M1295 2013h2M1295 2014h2M1295 2016h2M1295 2017h2M1295 2021h2M1295 2025h2M1295 2038h2M1295 2039h2M1296 1975h2M1296 1977h2M1296 1979h2M1296 1981h2M1296 1987h2M1296 1991h2M1296 1996h2M1296 2000h2M1296 2002h2M1296 2007h2M1296 2011h2M1296 2012h2M1296 2016h2M1296 2018h2M1296 2024h2M1296 2027h2M1296 2045h2M1296 2061h2M1297 1967h2M1297 1970h2M1297 1971h2M1297 1974h2M1297 1979h2M1297 1982h2M1297 1988h2M1297 1989h2M1297 1993h2M1297 1995h2M1297 1999h2M1297 2004h2M1297 2007h2M1297 2014h2M1297 2016h2M1297 2017h2M1297 2025h2M1297 2029h2M1297 2037h2M1297 2040h2M1297 2045h2M1297 2046h2M1297 2061h2M1298 1922h2M1298 1948h2M1298 1981h2M1298 1983h2M1298 1984h2M1298 1985h2M1298 1990h2M1298 1991h2M1298 1992h2M1298 1994h2M1298 1997h2M1298 1999h2M1298 2002h2M1298 2003h2M1298 2004h2M1298 2005h2M1298 2006h2M1298 2007h2M1298 2012h2M1298 2021h2M1298 2022h2M1298 2023h2M1298 2025h2M1298 2027h2M1298 2030h2M1298 2033h2M1298 2039h2M1298 2042h2M1298 2045h2M1298 2112h2M1299 1949h2M1299 1951h2M1299 1968h2M1299 1976h2M1299 1979h2M1299 1983h2M1299 1986h2M1299 1989h2M1299 1991h2M1299 1997h2M1299 1998h2M1299 1999h2M1299 2001h2M1299 2007h2M1299 2008h2M1299 2010h2M1299 2011h2M1299 2014h2M1299 2019h2M1299 2024h2M1299 2030h2M1299 2034h2M1299 2074h2M1299 2111h2M1300 1923h2M1300 1938h2M1300 1970h2M1300 1976h2M1300 1987h2M1300 1988h2M1300 1994h2M1300 1996h2M1300 1997h2M1300 2004h2M1300 2005h2M1300 2006h2M1300 2007h2M1300 2008h2M1300 2012h2M1300 2018h2M1300 2020h2M1300 2026h2M1300 2028h2M1300 2029h2M1300 2047h2M1300 2059h2M1300 2064h2M1300 2108h2M1301 1961h2M1301 1978h2M1301 1980h2M1301 1983h2M1301 1984h2M1301 1987h2M1301 1997h2M1301 1999h2M1301 2000h2M1301 2002h2M1301 2004h2M1301 2016h2M1301 2017h2M1301 2020h2M1301 2021h2M1301 2024h2M1301 2027h2M1301 2029h2M1301 2033h2M1301 2044h2M1301 2048h2M1301 2051h2M1301 2054h2M1301 2071h2M1302 1965h2M1302 1968h2M1302 1975h2M1302 1978h2M1302 1980h2M1302 1982h2M1302 1995h2M1302 1996h2M1302 1998h2M1302 2003h2M1302 2004h2M1302 2007h2M1302 2008h2M1302 2013h2M1302 2016h2M1302 2019h2M1302 2022h2M1302 2023h2M1302 2030h2M1302 2068h2M1303 1946h2M1303 1958h2M1303 1968h2M1303 1970h2M1303 1972h2M1303 1974h2M1303 1984h2M1303 1985h2M1303 1987h2M1303 1993h2M1303 1995h2M1303 1997h2M1303 1999h2M1303 2000h2M1303 2004h2M1303 2005h2M1303 2007h2M1303 2012h2M1303 2013h2M1303 2017h2M1303 2019h2M1303 2024h2M1303 2028h2M1303 2030h2M1303 2031h2M1303 2039h2M1303 2042h2M1303 2048h2M1303 2058h2M1303 2070h2M1304 1943h2M1304 1967h2M1304 1970h2M1304 1987h2M1304 1990h2M1304 1991h2M1304 1995h2M1304 1997h2M1304 2011h2M1304 2012h2M1304 2015h2M1304 2016h2M1304 2020h2M1304 2022h2M1304 2023h2M1304 2024h2M1304 2025h2M1304 2034h2M1305 1968h2M1305 1969h2M1305 1973h2M1305 1974h2M1305 1980h2M1305 1982h2M1305 1990h2M1305 1993h2M1305 1994h2M1305 2000h2M1305 2001h2M1305 2002h2M1305 2004h2M1305 2006h2M1305 2007h2M1305 2009h2M1305 2011h2M1305 2014h2M1305 2018h2M1305 2022h2M1305 2025h2M1305 2028h2M1305 2029h2M1305 2032h2M1305 2034h2M1305 2035h2M1305 2039h2M1305 2051h2M1306 1936h2M1306 1950h2M1306 1962h2M1306 1964h2M1306 1972h2M1306 1977h2M1306 1978h2M1306 1979h2M1306 1985h2M1306 1986h2M1306 1998h2M1306 2003h2M1306 2005h2M1306 2006h2M1306 2008h2M1306 2009h2M1306 2010h2M1306 2014h2M1306 2015h2M1306 2017h2M1306 2018h2M1306 2019h2M1306 2024h2M1306 2025h2M1306 2032h2M1306 2043h2M1306 2048h2M1306 2054h2M1306 2086h2M1307 1922h2M1307 1955h2M1307 1974h2M1307 1980h2M1307 1981h2M1307 1984h2M1307 1989h2M1307 1995h2M1307 1998h2M1307 1999h2M1307 2002h2M1307 2003h2M1307 2008h2M1307 2009h2M1307 2011h2M1307 2016h2M1307 2017h2M1307 2018h2M1307 2020h2M1307 2021h2M1307 2023h2M1307 2025h2M1307 2028h2M1307 2030h2M1307 2033h2M1307 2034h2M1307 2035h2M1307 2038h2M1307 2048h2M1307 2060h2M1307 2078h2M1307 2085h2M1308 1943h2M1308 1962h2M1308 1963h2M1308 1969h2M1308 1980h2M1308 1981h2M1308 1985h2M1308 1995h2M1308 1996h2M1308 1998h2M1308 1999h2M1308 2008h2M1308 2009h2M1308 2010h2M1308 2013h2M1308 2021h2M1308 2036h2M1308 2045h2M1308 2047h2M1308 2054h2M1308 2066h2M1309 1954h2M1309 1964h2M1309 1970h2M1309 1972h2M1309 1980h2M1309 1981h2M1309 1987h2M1309 1990h2M1309 1992h2M1309 1994h2M1309 1995h2M1309 1997h2M1309 1998h2M1309 1999h2M1309 2001h2M1309 2006h2M1309 2009h2M1309 2014h2M1309 2015h2M1309 2019h2M1309 2025h2M1309 2034h2M1309 2036h2M1309 2040h2M1309 2101h2M1309 2107h2M1310 1937h2M1310 1970h2M1310 1977h2M1310 1981h2M1310 1989h2M1310 1992h2M1310 1993h2M1310 2000h2M1310 2002h2M1310 2005h2M1310 2015h2M1310 2019h2M1310 2020h2M1310 2023h2M1310 2026h2M1310 2027h2M1310 2035h2M1310 2042h2M1310 2044h2M1310 2115h2M1311 1949h2M1311 1963h2M1311 1966h2M1311 1969h2M1311 1975h2M1311 1977h2M1311 1979h2M1311 1981h2M1311 1982h2M1311 1984h2M1311 1992h2M1311 1993h2M1311 1995h2M1311 1996h2M1311 1998h2M1311 2001h2M1311 2002h2M1311 2003h2M1311 2004h2M1311 2007h2M1311 2008h2M1311 2010h2M1311 2014h2M1311 2015h2M1311 2016h2M1311 2018h2M1311 2026h2M1311 2027h2M1311 2032h2M1311 2042h2M1311 2061h2M1311 2063h2M1311 2066h2M1311 2079h2M1311 2092h2M1312 1969h2M1312 1972h2M1312 1979h2M1312 1982h2M1312 1992h2M1312 1995h2M1312 1998h2M1312 1999h2M1312 2000h2M1312 2001h2M1312 2005h2M1312 2006h2M1312 2019h2M1312 2020h2M1312 2021h2M1312 2024h2M1312 2027h2M1312 2045h2M1312 2050h2M1312 2054h2M1313 1963h2M1313 1983h2M1313 1986h2M1313 1990h2M1313 1992h2M1313 1995h2M1313 1997h2M1313 2000h2M1313 2001h2M1313 2002h2M1313 2007h2M1313 2009h2M1313 2011h2M1313 2013h2M1313 2014h2M1313 2015h2M1313 2016h2M1313 2018h2M1313 2023h2M1313 2043h2M1313 2048h2M1313 2103h2M1314 1958h2M1314 1961h2M1314 1981h2M1314 1986h2M1314 1989h2M1314 1995h2M1314 1997h2M1314 1998h2M1314 1999h2M1314 2002h2M1314 2007h2M1314 2009h2M1314 2012h2M1314 2016h2M1314 2019h2M1314 2020h2M1314 2025h2M1314 2027h2M1314 2028h2M1314 2033h2M1314 2042h2M1314 2048h2M1314 2050h2M1314 2066h2M1315 1967h2M1315 1979h2M1315 1981h2M1315 1982h2M1315 1985h2M1315 1986h2M1315 1988h2M1315 1990h2M1315 1992h2M1315 1995h2M1315 2002h2M1315 2003h2M1315 2004h2M1315 2006h2M1315 2008h2M1315 2012h2M1315 2013h2M1315 2015h2M1315 2016h2M1315 2019h2M1315 2028h2M1315 2053h2M1315 2065h2M1316 1962h2M1316 1969h2M1316 1974h2M1316 1976h2M1316 1977h2M1316 1983h2M1316 1987h2M1316 1991h2M1316 1993h2M1316 1995h2M1316 1997h2M1316 1998h2M1316 1999h2M1316 2001h2M1316 2002h2M1316 2005h2M1316 2008h2M1316 2011h2M1316 2016h2M1316 2017h2M1316 2018h2M1316 2024h2M1316 2034h2M1316 2038h2M1316 2039h2M1316 2044h2M1316 2048h2M1317 1945h2M1317 1950h2M1317 1960h2M1317 1977h2M1317 1983h2M1317 1989h2M1317 1990h2M1317 1995h2M1317 1998h2M1317 1999h2M1317 2000h2M1317 2001h2M1317 2004h2M1317 2007h2M1317 2012h2M1317 2020h2M1317 2024h2M1317 2034h2M1317 2035h2M1317 2053h2M1318 1924h2M1318 1941h2M1318 1951h2M1318 1960h2M1318 1967h2M1318 1973h2M1318 1974h2M1318 1979h2M1318 1980h2M1318 1981h2M1318 1987h2M1318 1989h2M1318 1992h2M1318 1993h2M1318 1995h2M1318 1999h2M1318 2002h2M1318 2005h2M1318 2009h2M1318 2010h2M1318 2011h2M1318 2023h2M1318 2033h2M1318 2035h2M1318 2043h2M1319 1962h2M1319 1975h2M1319 1978h2M1319 1979h2M1319 1980h2M1319 1989h2M1319 1991h2M1319 1992h2M1319 1993h2M1319 1995h2M1319 1997h2M1319 2002h2M1319 2006h2M1319 2007h2M1319 2008h2M1319 2010h2M1319 2013h2M1319 2015h2M1319 2020h2M1319 2021h2M1319 2022h2M1319 2024h2M1319 2025h2M1319 2028h2M1319 2032h2M1319 2037h2M1319 2041h2M1319 2046h2M1319 2062h2M1319 2068h2M1319 2089h2M1320 1955h2M1320 1964h2M1320 1970h2M1320 1974h2M1320 1980h2M1320 1990h2M1320 1992h2M1320 1997h2M1320 2001h2M1320 2005h2M1320 2006h2M1320 2009h2M1320 2010h2M1320 2013h2M1320 2014h2M1320 2015h2M1320 2018h2M1320 2020h2M1320 2028h2M1320 2029h2M1320 2034h2M1320 2046h2M1321 1962h2M1321 1966h2M1321 1969h2M1321 1981h2M1321 1984h2M1321 1989h2M1321 1996h2M1321 1997h2M1321 2001h2M1321 2002h2M1321 2003h2M1321 2005h2M1321 2007h2M1321 2009h2M1321 2011h2M1321 2014h2M1321 2016h2M1321 2017h2M1321 2026h2M1321 2032h2M1321 2044h2M1321 2094h2M1322 1931h2M1322 1946h2M1322 1964h2M1322 1972h2M1322 1976h2M1322 1977h2M1322 1981h2M1322 1986h2M1322 1990h2M1322 1991h2M1322 1994h2M1322 1996h2M1322 1999h2M1322 2003h2M1322 2006h2M1322 2007h2M1322 2008h2M1322 2011h2M1322 2014h2M1322 2015h2M1322 2019h2M1322 2023h2M1322 2024h2M1322 2036h2M1322 2037h2M1322 2039h2M1322 2045h2M1322 2049h2M1322 2051h2M1322 2074h2M1323 1936h2M1323 1952h2M1323 1966h2M1323 1981h2M1323 1982h2M1323 1991h2M1323 1998h2M1323 1999h2M1323 2000h2M1323 2001h2M1323 2004h2M1323 2006h2M1323 2008h2M1323 2009h2M1323 2011h2M1323 2012h2M1323 2014h2M1323 2020h2M1323 2021h2M1323 2027h2M1323 2029h2M1323 2030h2M1323 2036h2M1323 2045h2M1323 2048h2M1323 2053h2M1323 2056h2M1323 2083h2M1324 1931h2M1324 1967h2M1324 1972h2M1324 1979h2M1324 1980h2M1324 1987h2M1324 1988h2M1324 1993h2M1324 1994h2M1324 1995h2M1324 1996h2M1324 1997h2M1324 2002h2M1324 2005h2M1324 2011h2M1324 2024h2M1324 2026h2M1324 2034h2M1324 2039h2M1324 2043h2M1324 2044h2M1324 2051h2M1325 1950h2M1325 1952h2M1325 1965h2M1325 1970h2M1325 1975h2M1325 1976h2M1325 1980h2M1325 1986h2M1325 1989h2M1325 1990h2M1325 1993h2M1325 1996h2M1325 1997h2M1325 2004h2M1325 2009h2M1325 2012h2M1325 2013h2M1325 2015h2M1325 2022h2M1325 2026h2M1325 2030h2M1325 2032h2M1325 2040h2M1325 2059h2M1325 2072h2M1325 2074h2M1326 1949h2M1326 1964h2M1326 1977h2M1326 1984h2M1326 1985h2M1326 1986h2M1326 1993h2M1326 1994h2M1326 1995h2M1326 1999h2M1326 2000h2M1326 2004h2M1326 2007h2M1326 2013h2M1326 2014h2M1326 2019h2M1326 2020h2M1326 2022h2M1326 2030h2M1326 2034h2M1326 2035h2M1326 2046h2M1326 2049h2M1326 2077h2M1327 1969h2M1327 1974h2M1327 1978h2M1327 1988h2M1327 1989h2M1327 1991h2M1327 1998h2M1327 2005h2M1327 2010h2M1327 2013h2M1327 2016h2M1327 2018h2M1327 2021h2M1327 2022h2M1327 2024h2M1327 2029h2M1327 2044h2M1327 2045h2M1327 2050h2M1327 2084h2M1327 2111h2M1328 1939h2M1328 1951h2M1328 1974h2M1328 1982h2M1328 1986h2M1328 1988h2M1328 1989h2M1328 1995h2M1328 1998h2M1328 1999h2M1328 2001h2M1328 2002h2M1328 2005h2M1328 2006h2M1328 2008h2M1328 2009h2M1328 2012h2M1328 2018h2M1328 2021h2M1328 2024h2M1328 2026h2M1328 2030h2M1328 2032h2M1328 2033h2M1328 2035h2M1328 2053h2M1328 2071h2M1328 2077h2M1328 2088h2M1329 1970h2M1329 1971h2M1329 1974h2M1329 1982h2M1329 1985h2M1329 1986h2M1329 1990h2M1329 1991h2M1329 2002h2M1329 2009h2M1329 2010h2M1329 2012h2M1329 2015h2M1329 2017h2M1329 2020h2M1329 2031h2M1329 2034h2M1329 2037h2M1329 2039h2M1329 2051h2M1330 1939h2M1330 1953h2M1330 1956h2M1330 1958h2M1330 1968h2M1330 1975h2M1330 1976h2M1330 1979h2M1330 1984h2M1330 1985h2M1330 1986h2M1330 1993h2M1330 1998h2M1330 2000h2M1330 2005h2M1330 2007h2M1330 2014h2M1330 2015h2M1330 2019h2M1330 2030h2M1330 2033h2M1330 2037h2M1330 2061h2M1331 1927h2M1331 1961h2M1331 1979h2M1331 1989h2M1331 1990h2M1331 1992h2M1331 1993h2M1331 1994h2M1331 1998h2M1331 1999h2M1331 2001h2M1331 2004h2M1331 2006h2M1331 2016h2M1331 2018h2M1331 2024h2M1331 2027h2M1331 2029h2M1331 2033h2M1331 2043h2M1331 2044h2M1331 2061h2M1331 2080h2M1332 1936h2M1332 1949h2M1332 1967h2M1332 1975h2M1332 1984h2M1332 1986h2M1332 1988h2M1332 1990h2M1332 1993h2M1332 1994h2M1332 1996h2M1332 1999h2M1332 2003h2M1332 2004h2M1332 2007h2M1332 2009h2M1332 2018h2M1332 2019h2M1332 2020h2M1332 2027h2M1332 2028h2M1332 2033h2M1332 2040h2M1332 2044h2M1332 2045h2M1332 2047h2M1332 2066h2M1332 2077h2M1333 1956h2M1333 1969h2M1333 1980h2M1333 1982h2M1333 1984h2M1333 1995h2M1333 1999h2M1333 2001h2M1333 2004h2M1333 2009h2M1333 2010h2M1333 2015h2M1333 2023h2M1333 2024h2M1333 2028h2M1333 2032h2M1333 2037h2M1333 2040h2M1333 2041h2M1333 2046h2M1333 2080h2M1334 1960h2M1334 1967h2M1334 1974h2M1334 1979h2M1334 1982h2M1334 1984h2M1334 1986h2M1334 1991h2M1334 1993h2M1334 1997h2M1334 1998h2M1334 1999h2M1334 2000h2M1334 2005h2M1334 2010h2M1334 2021h2M1334 2022h2M1334 2023h2M1334 2047h2M1334 2059h2M1334 2064h2M1334 2069h2M1335 1934h2M1335 1948h2M1335 1972h2M1335 1977h2M1335 1978h2M1335 1979h2M1335 1981h2M1335 1983h2M1335 1984h2M1335 1985h2M1335 1991h2M1335 1995h2M1335 1996h2M1335 1998h2M1335 1999h2M1335 2001h2M1335 2002h2M1335 2004h2M1335 2008h2M1335 2011h2M1335 2020h2M1335 2053h2M1336 1943h2M1336 1974h2M1336 1975h2M1336 1987h2M1336 1989h2M1336 1993h2M1336 1996h2M1336 1997h2M1336 2000h2M1336 2020h2M1336 2021h2M1336 2022h2M1336 2025h2M1336 2031h2M1336 2036h2M1336 2043h2M1336 2046h2M1336 2055h2M1337 1925h2M1337 1939h2M1337 1961h2M1337 1966h2M1337 1975h2M1337 1989h2M1337 1994h2M1337 1995h2M1337 1997h2M1337 2000h2M1337 2001h2M1337 2002h2M1337 2007h2M1337 2010h2M1337 2014h2M1337 2016h2M1337 2028h2M1337 2032h2M1337 2036h2M1337 2039h2M1337 2040h2M1337 2044h2M1337 2066h2M1337 2071h2M1338 1955h2M1338 1956h2M1338 1961h2M1338 1968h2M1338 1978h2M1338 1988h2M1338 1994h2M1338 2000h2M1338 2003h2M1338 2006h2M1338 2008h2M1338 2012h2M1338 2019h2M1338 2023h2M1338 2024h2M1338 2028h2M1338 2037h2M1338 2049h2M1338 2068h2M1338 2072h2M1339 1955h2M1339 1963h2M1339 1972h2M1339 1979h2M1339 1982h2M1339 1985h2M1339 1986h2M1339 1995h2M1339 2000h2M1339 2003h2M1339 2012h2M1339 2017h2M1339 2024h2M1339 2029h2M1339 2046h2M1339 2052h2M1339 2054h2M1339 2067h2M1340 1936h2M1340 1975h2M1340 1988h2M1340 1991h2M1340 1996h2M1340 1998h2M1340 2002h2M1340 2008h2M1340 2009h2M1340 2010h2M1340 2011h2M1340 2016h2M1340 2021h2M1340 2031h2M1340 2038h2M1340 2046h2M1340 2052h2M1340 2075h2M1340 2095h2M1341 1929h2M1341 1969h2M1341 1971h2M1341 1980h2M1341 1981h2M1341 1983h2M1341 1985h2M1341 1990h2M1341 1992h2M1341 1994h2M1341 1996h2M1341 2004h2M1341 2006h2M1341 2010h2M1341 2011h2M1341 2012h2M1341 2025h2M1341 2026h2M1341 2031h2M1341 2038h2M1341 2054h2M1341 2073h2M1341 2091h2M1342 1935h2M1342 1943h2M1342 1960h2M1342 1962h2M1342 1980h2M1342 1985h2M1342 1991h2M1342 1992h2M1342 1994h2M1342 1999h2M1342 2001h2M1342 2007h2M1342 2008h2M1342 2009h2M1342 2015h2M1342 2017h2M1342 2025h2M1342 2035h2M1342 2051h2M1342 2065h2M1342 2107h2M1343 1929h2M1343 1936h2M1343 1948h2M1343 1967h2M1343 1976h2M1343 1984h2M1343 1991h2M1343 1993h2M1343 1998h2M1343 2003h2M1343 2004h2M1343 2006h2M1343 2014h2M1343 2023h2M1343 2026h2M1343 2042h2M1343 2060h2M1343 2094h2M1343 2099h2M1344 1963h2M1344 1972h2M1344 1982h2M1344 1985h2M1344 1990h2M1344 1991h2M1344 1995h2M1344 1996h2M1344 2004h2M1344 2009h2M1344 2013h2M1344 2014h2M1344 2019h2M1344 2021h2M1344 2022h2M1344 2023h2M1344 2025h2M1344 2033h2M1344 2063h2M1344 2094h2M1345 1961h2M1345 1986h2M1345 1988h2M1345 1990h2M1345 1992h2M1345 2003h2M1345 2005h2M1345 2015h2M1345 2016h2M1345 2019h2M1345 2020h2M1345 2027h2M1345 2030h2M1345 2033h2M1345 2034h2M1345 2044h2M1345 2055h2M1345 2057h2M1345 2082h2M1346 1943h2M1346 1948h2M1346 1962h2M1346 1974h2M1346 1975h2M1346 1988h2M1346 1989h2M1346 1999h2M1346 2003h2M1346 2006h2M1346 2019h2M1346 2025h2M1346 2038h2M1346 2040h2M1346 2049h2M1346 2050h2M1347 1943h2M1347 1953h2M1347 1975h2M1347 1976h2M1347 1979h2M1347 1988h2M1347 1989h2M1347 1991h2M1347 1992h2M1347 1996h2M1347 1997h2M1347 2000h2M1347 2022h2M1347 2031h2M1347 2034h2M1347 2055h2M1347 2056h2M1347 2076h2M1348 1958h2M1348 1966h2M1348 1978h2M1348 1984h2M1348 1987h2M1348 1992h2M1348 1994h2M1348 1995h2M1348 1998h2M1348 1999h2M1348 2001h2M1348 2005h2M1348 2007h2M1348 2012h2M1348 2021h2M1348 2026h2M1348 2035h2M1348 2036h2M1348 2039h2M1348 2043h2M1348 2045h2M1348 2055h2M1348 2063h2M1348 2072h2M1349 1942h2M1349 1967h2M1349 1972h2M1349 1975h2M1349 1982h2M1349 1989h2M1349 1992h2M1349 1993h2M1349 1994h2M1349 1996h2M1349 2000h2M1349 2003h2M1349 2007h2M1349 2011h2M1349 2013h2M1349 2014h2M1349 2015h2M1349 2018h2M1349 2027h2M1349 2032h2M1349 2036h2M1349 2051h2M1349 2065h2M1350 1937h2M1350 1965h2M1350 1968h2M1350 1969h2M1350 1977h2M1350 1995h2M1350 2002h2M1350 2003h2M1350 2004h2M1350 2011h2M1350 2013h2M1350 2021h2M1350 2022h2M1350 2024h2M1350 2029h2M1350 2041h2M1350 2045h2M1350 2057h2M1351 1954h2M1351 1960h2M1351 1975h2M1351 1983h2M1351 1986h2M1351 1988h2M1351 2001h2M1351 2006h2M1351 2007h2M1351 2020h2M1351 2029h2M1351 2041h2M1351 2049h2M1351 2051h2M1351 2094h2M1352 1966h2M1352 1981h2M1352 1982h2M1352 1986h2M1352 1990h2M1352 1993h2M1352 1994h2M1352 1996h2M1352 2007h2M1352 2016h2M1352 2019h2M1352 2020h2M1352 2033h2M1352 2042h2M1352 2066h2M1352 2069h2M1352 2106h2M1353 1921h2M1353 1970h2M1353 1977h2M1353 1978h2M1353 1984h2M1353 1996h2M1353 1999h2M1353 2000h2M1353 2006h2M1353 2014h2M1353 2031h2M1353 2032h2M1353 2034h2M1354 1948h2M1354 1949h2M1354 1970h2M1354 1977h2M1354 1998h2M1354 2002h2M1354 2005h2M1354 2006h2M1354 2008h2M1354 2013h2M1354 2014h2M1354 2031h2M1354 2032h2M1354 2055h2M1354 2058h2M1354 2083h2M1355 1932h2M1355 1978h2M1355 1981h2M1355 1985h2M1355 1994h2M1355 1996h2M1355 2002h2M1355 2016h2M1355 2022h2M1355 2028h2M1355 2031h2M1356 1973h2M1356 1979h2M1356 1983h2M1356 1996h2M1356 1997h2M1356 2008h2M1356 2009h2M1356 2011h2M1356 2014h2M1356 2017h2M1356 2029h2M1356 2030h2M1356 2032h2M1356 2049h2M1356 2057h2M1356 2069h2M1356 2077h2M1356 2084h2M1357 1931h2M1357 1956h2M1357 1962h2M1357 1965h2M1357 1967h2M1357 1983h2M1357 1984h2M1357 1986h2M1357 1992h2M1357 1997h2M1357 2000h2M1357 2002h2M1357 2005h2M1357 2014h2M1357 2018h2M1357 2022h2M1357 2027h2M1357 2041h2M1357 2049h2M1357 2058h2M1357 2066h2M1358 1924h2M1358 1962h2M1358 1965h2M1358 1977h2M1358 1981h2M1358 1984h2M1358 1987h2M1358 1993h2M1358 2004h2M1358 2013h2M1358 2016h2M1358 2023h2M1358 2030h2M1358 2033h2M1358 2039h2M1358 2043h2M1358 2063h2M1359 1947h2M1359 1965h2M1359 1970h2M1359 1988h2M1359 1990h2M1359 2000h2M1359 2002h2M1359 2018h2M1359 2022h2M1359 2023h2M1359 2030h2M1359 2041h2M1359 2053h2M1359 2058h2M1359 2063h2M1360 1959h2M1360 1976h2M1360 1979h2M1360 1984h2M1360 1990h2M1360 1994h2M1360 1999h2M1360 2003h2M1360 2012h2M1360 2013h2M1360 2015h2M1360 2030h2M1360 2031h2M1360 2042h2M1361 1954h2M1361 1968h2M1361 1970h2M1361 1987h2M1361 1988h2M1361 1995h2M1361 2004h2M1361 2016h2M1361 2037h2M1361 2043h2M1361 2046h2M1361 2054h2M1361 2075h2M1362 1951h2M1362 1963h2M1362 1999h2M1362 2000h2M1362 2006h2M1362 2009h2M1362 2013h2M1362 2022h2M1362 2026h2M1362 2045h2M1363 1976h2M1363 1996h2M1363 2000h2M1363 2001h2M1363 2003h2M1363 2008h2M1363 2014h2M1363 2018h2M1363 2020h2M1363 2025h2M1363 2068h2M1364 1939h2M1364 1954h2M1364 1969h2M1364 1973h2M1364 1984h2M1364 1986h2M1364 1988h2M1364 1990h2M1364 1996h2M1364 2002h2M1364 2006h2M1364 2021h2M1364 2027h2M1364 2030h2M1364 2034h2M1364 2041h2M1364 2043h2M1365 1925h2M1365 1942h2M1365 1984h2M1365 1991h2M1365 2006h2M1365 2007h2M1365 2036h2M1365 2049h2M1365 2053h2M1365 2060h2M1365 2085h2M1366 1963h2M1366 1966h2M1366 1967h2M1366 1984h2M1366 1988h2M1366 2003h2M1366 2007h2M1366 2019h2M1366 2020h2M1366 2025h2M1366 2026h2M1366 2040h2M1366 2082h2M1367 1940h2M1367 1971h2M1367 1982h2M1367 1990h2M1367 1995h2M1367 2012h2M1367 2013h2M1367 2015h2M1367 2016h2M1367 2017h2M1367 2019h2M1367 2020h2M1367 2057h2M1368 1939h2M1368 1960h2M1368 1967h2M1368 1987h2M1368 1997h2M1368 2004h2M1368 2011h2M1368 2030h2M1368 2086h2M1369 1939h2M1369 1979h2M1369 1982h2M1369 1987h2M1369 2015h2M1369 2046h2M1369 2058h2M1369 2062h2M1370 1958h2M1370 1969h2M1370 2000h2M1370 2022h2M1370 2024h2M1370 2027h2M1370 2028h2M1370 2045h2M1370 2078h2M1371 1961h2M1371 1964h2M1371 1968h2M1371 1974h2M1371 1980h2M1371 1981h2M1371 2011h2M1371 2013h2M1371 2014h2M1371 2019h2M1371 2047h2M1371 2066h2M1371 2094h2M1372 1938h2M1372 1947h2M1372 1977h2M1372 1985h2M1372 1993h2M1372 1994h2M1372 2008h2M1372 2014h2M1372 2020h2M1372 2026h2M1372 2030h2M1372 2033h2M1372 2035h2M1372 2040h2M1372 2066h2M1373 1921h2M1373 1960h2M1373 1975h2M1373 1996h2M1373 2002h2M1373 2010h2M1373 2011h2M1373 2012h2M1373 2044h2M1373 2046h2M1374 1945h2M1374 1958h2M1374 1972h2M1374 1985h2M1374 1997h2M1374 2003h2M1374 2005h2M1374 2010h2M1374 2011h2M1374 2028h2M1374 2029h2M1374 2031h2M1375 1963h2M1375 1983h2M1375 1985h2M1375 1986h2M1375 1992h2M1375 1994h2M1375 1997h2M1375 2005h2M1375 2023h2M1375 2026h2M1375 2035h2M1375 2042h2M1375 2058h2M1376 1977h2M1376 1979h2M1376 1996h2M1376 1999h2M1376 2001h2M1376 2002h2M1376 2004h2M1376 2005h2M1376 2006h2M1376 2024h2M1376 2029h2M1376 2070h2M1377 2004h2M1377 2008h2M1377 2012h2M1377 2046h2M1377 2059h2M1378 1960h2M1378 1995h2M1378 1998h2M1378 2011h2M1378 2031h2M1378 2032h2M1378 2041h2M1379 1972h2M1379 1995h2M1379 2026h2M1379 2030h2M1379 2039h2M1379 2062h2M1380 1983h2M1380 1988h2M1380 1992h2M1380 1999h2M1380 2003h2M1381 1978h2M1381 1979h2M1381 1996h2M1381 2006h2M1381 2013h2M1381 2029h2M1381 2056h2M1382 1960h2M1382 1972h2M1382 1992h2M1382 2003h2M1382 2012h2M1382 2034h2M1382 2107h2M1383 1928h2M1383 1929h2M1383 1986h2M1383 2012h2M1383 2048h2M1383 2055h2M1383 2057h2M1383 2084h2M1384 1960h2M1384 1962h2M1384 1976h2M1384 1977h2M1384 1991h2M1384 2011h2M1384 2059h2M1385 1982h2M1385 1987h2M1385 2008h2M1385 2010h2M1385 2040h2M1385 2044h2M1385 2067h2M1386 1970h2M1386 2005h2M1386 2014h2M1386 2017h2M1386 2022h2M1386 2027h2M1387 1976h2M1387 2005h2M1387 2020h2M1387 2093h2M1388 1937h2M1388 1967h2M1388 1975h2M1388 1980h2M1388 2035h2M1389 1944h2M1389 1968h2M1389 1989h2M1389 1997h2M1389 2015h2M1389 2041h2M1389 2082h2M1390 1932h2M1390 1963h2M1390 1965h2M1390 1975h2M1390 1978h2M1390 1980h2M1390 1995h2M1390 2003h2M1391 1972h2M1391 2009h2M1391 2012h2M1391 2034h2M1391 2037h2M1391 2096h2M1392 1950h2M1392 1986h2M1392 1997h2M1392 1998h2M1392 2023h2M1392 2024h2M1392 2052h2M1393 1938h2M1393 1952h2M1393 1970h2M1393 2016h2M1394 1968h2M1394 2001h2M1394 2009h2M1394 2010h2M1394 2021h2M1394 2068h2M1395 1962h2M1395 2008h2M1395 2072h2M1395 2086h2M1395 2111h2M1396 1960h2M1396 1993h2M1396 2007h2M1396 2010h2M1396 2019h2M1396 2057h2M1396 2067h2M1396 2074h2M1396 2094h2M1397 1995h2M1397 2015h2M1397 2016h2M1397 2037h2M1397 2055h2M1398 1970h2M1398 1993h2M1398 1994h2M1398 1995h2M1398 1999h2M1398 2068h2M1398 2084h2M1399 1969h2M1399 1997h2M1399 2044h2M1399 2101h2M1400 1980h2M1400 2014h2M1400 2054h2M1401 1987h2M1401 2000h2M1401 2011h2M1401 2061h2M1401 2064h2M1402 1952h2M1402 1999h2M1402 2098h2M1402 2110h2M1403 1959h2M1403 1994h2M1403 1996h2M1403 2009h2M1403 2013h2M1403 2093h2M1404 1990h2M1404 2071h2M1405 1963h2M1405 1980h2M1405 2018h2M1405 2030h2M1406 1931h2M1406 1986h2M1406 2042h2M1406 2048h2M1407 1944h2M1407 1962h2M1407 2046h2M1407 2073h2M1408 1957h2M1408 1971h2M1408 2061h2M1408 2062h2M1408 2074h2M1409 1933h2M1409 1956h2M1409 1971h2M1409 2004h2M1410 2035h2M1410 2119h2M1411 1966h2M1411 1989h2M1411 2017h2M1411 2018h2M1411 2073h2M1411 2089h2M1413 1965h2M1413 1998h2M1414 1986h2M1415 1985h2M1415 1991h2M1415 2001h2M1415 2068h2M1416 1976h2M1416 1983h2M1416 1986h2M1416 2024h2M1416 2025h2M1416 2050h2M1417 2040h2M1418 1963h2M1418 1970h2M1419 1966h2M1419 1984h2M1419 1992h2M1419 1993h2M1419 2007h2M1419 2030h2M1419 2032h2M1419 2044h2M1419 2051h2M1420 1987h2M1420 2001h2M1420 2034h2M1420 2043h2M1420 2054h2M1420 2088h2M1421 1974h2M1421 2059h2M1421 2075h2M1421 2095h2M1422 2005h2M1422 2038h2M1423 1921h2M1423 1990h2M1423 2033h2M1423 2080h2M1424 1936h2M1424 1955h2M1424 2013h2M1425 1978h2M1426 2012h2M1426 2067h2M1427 1958h2M1427 2025h2M1427 2056h2M1427 2107h2M1429 2014h2M1430 1955h2M1431 1975h2M1431 1986h2M1432 1991h2M1432 2019h2M1433 2000h2M1433 2001h2M1433 2010h2M1433 2035h2M1433 2091h2M1434 1969h2M1434 2054h2M1435 1985h2M1435 2036h2M1435 2038h2M1437 2043h2M1438 2027h2M1439 2044h2M1439 2063h2M1441 1966h2M1441 1977h2M1441 2050h2M1442 1941h2M1443 2012h2M1443 2053h2M1444 2010h2M1445 1958h2M1445 1990h2M1445 2075h2M1446 2012h2M1446 2034h2" stroke="#e83c10" stroke-width="2"/><path d="M1215 1867h2M1218 1901h2M1219 1757h2M1236 1916h2M1241 1902h2M1245 1785h2M1245 1918h2M1247 1913h2M1258 1706h2M1262 1718h2M1262 1915h2M1267 1895h2M1269 1884h2M1277 1909h2M1279 1805h2M1282 1713h2M1298 1898h2M1300 1913h2M1302 1902h2M1316 1917h2M1320 1887h2M1328 1903h2M1331 1901h2M1332 1918h2M1333 1914h2M1337 1853h2M1340 1917h2M1347 1886h2M1348 1891h2M1349 1901h2M1353 1700h2M1354 1910h2M1355 1913h2M1360 1810h2M1363 1830h2M1363 1916h2M1364 1807h2M1364 1905h2M1365 1893h2M1371 1911h2M1379 1889h2M1381 1899h2M1392 1757h2M1397 1767h2M1411 1841h2M1421 1915h2M1432 1727h2M1437 1862h2M1445 1808h2M1450 1982h2M1451 2035h2M1453 2109h2M1457 1675h2M1457 2048h2M1458 1947h2M1460 2017h2M1461 1588h2M1461 1985h2M1461 2022h2M1467 1726h2M1467 2099h2M1468 1465h2M1468 2034h2M1468 2035h2M1468 2076h2M1469 2044h2M1469 2047h2M1470 1998h2M1472 2087h2M1473 1990h2M1473 2056h2M1474 1956h2M1474 2101h2M1475 1904h2M1475 2016h2M1476 2062h2M1478 2068h2M1482 2017h2M1482 2033h2M1483 1954h2M1483 1960h2M1483 2031h2M1485 2005h2M1489 1958h2M1491 1972h2M1492 1938h2M1493 1971h2M1494 2030h2M1494 2033h2M1494 2085h2M1495 2005h2M1496 2090h2M1497 1984h2M1498 1945h2M1498 2061h2M1498 2115h2M1499 2052h2M1500 1571h2M1500 1735h2M1503 1954h2M1505 1690h2M1505 2016h2M1507 2024h2M1509 2018h2M1509 2056h2M1511 2024h2M1513 1693h2M1515 1695h2M1517 2068h2M1517 2088h2M1518 2039h2M1518 2045h2M1518 2108h2M1524 1998h2M1525 2000h2M1525 2041h2M1526 1633h2M1526 2081h2M1527 1961h2M1527 2042h2M1528 2027h2M1529 1788h2M1532 1995h2M1534 2014h2M1535 1694h2M1536 1729h2M1538 1678h2M1539 1987h2M1540 1683h2M1542 2090h2M1543 2036h2M1544 2025h2M1545 2036h2M1545 2067h2M1549 1772h2M1556 2029h2M1557 1647h2M1559 1676h2M1563 1740h2M1563 1767h2M1566 1579h2M1567 2040h2M1572 1849h2M1577 1671h2M1578 1626h2M1580 1668h2M1581 1733h2M1584 1708h2M1585 1627h2M1586 1735h2M1589 1656h2M1591 1693h2M1594 1734h2M1594 1766h2M1595 1636h2M1595 1694h2M1595 1730h2M1598 1569h2M1602 1508h2M1602 1620h2M1603 1796h2M1604 1699h2M1606 1547h2M1608 1604h2M1613 1495h2M1614 1714h2M1615 1711h2M1616 1728h2M1618 1620h2M1618 1692h2M1623 1571h2M1629 1602h2M1630 1648h2M1632 1699h2M1636 1718h2M1640 1572h2M1640 1694h2M1645 1633h2M1647 1645h2M1663 1772h2M1673 1734h2M1679 1697h2M1684 1763h2M1692 1670h2M1700 1682h2M1702 1819h2M1704 1597h2M1716 1724h2M1813 1759h2M1823 1743h2" stroke="#d8405a" stroke-width="2"/><rect x="1186.5" y="1403.5" width="713.5" height="721.5" fill="none" stroke="#262626" stroke-width="3"/><line x1="1186.5" y1="2125.0" x2="1900.0" y2="2125.0" stroke="#3a3a3a" stroke-width="3.5"/><line x1="1449.0" y1="1403.5" x2="1449.0" y2="2125.0" stroke="#e8413c" stroke-width="4"/><line x1="1186.5" y1="1920.0" x2="1900.0" y2="1920.0" stroke="#e8413c" stroke-width="4"/><circle cx="1449" cy="1578" r="11.5" fill="#ee1c1c"/><circle cx="1749" cy="1920" r="11.5" fill="#ee1c1c"/><circle cx="1449" cy="1920" r="9" fill="#fff" stroke="#e8413c" stroke-width="4"/><path d="M1177.5 2125.0H1186.5M1181.5 2070.7H1186.5M1181.5 2038.9H1186.5M1181.5 2016.4H1186.5M1181.5 1998.9H1186.5M1181.5 1984.6H1186.5M1181.5 1972.6H1186.5M1181.5 1962.1H1186.5M1181.5 1952.9H1186.5M1177.5 1944.6H1186.5M1181.5 1890.3H1186.5M1181.5 1858.6H1186.5M1181.5 1836.0H1186.5M1181.5 1818.5H1186.5M1181.5 1804.3H1186.5M1181.5 1792.2H1186.5M1181.5 1781.7H1186.5M1181.5 1772.5H1186.5M1177.5 1764.2H1186.5M1181.5 1710.0H1186.5M1181.5 1678.2H1186.5M1181.5 1655.7H1186.5M1181.5 1638.2H1186.5M1181.5 1623.9H1186.5M1181.5 1611.8H1186.5M1181.5 1601.4H1186.5M1181.5 1592.1H1186.5M1177.5 1583.9H1186.5M1181.5 1529.6H1186.5M1181.5 1497.8H1186.5M1181.5 1475.3H1186.5M1181.5 1457.8H1186.5M1181.5 1443.5H1186.5M1181.5 1431.4H1186.5M1181.5 1421.0H1186.5M1181.5 1411.8H1186.5M1177.5 1403.5H1186.5" stroke="#555" stroke-width="2.2" fill="none"/><path d="M1186.5 2125.0V2134.0M1240.2 2125.0V2130.0M1271.6 2125.0V2130.0M1293.9 2125.0V2130.0M1311.2 2125.0V2130.0M1325.3 2125.0V2130.0M1337.2 2125.0V2130.0M1347.6 2125.0V2130.0M1356.7 2125.0V2130.0M1364.9 2125.0V2134.0M1418.6 2125.0V2130.0M1450.0 2125.0V2130.0M1472.3 2125.0V2130.0M1489.6 2125.0V2130.0M1503.7 2125.0V2130.0M1515.6 2125.0V2130.0M1526.0 2125.0V2130.0M1535.1 2125.0V2130.0M1543.2 2125.0V2134.0M1596.9 2125.0V2130.0M1628.4 2125.0V2130.0M1650.6 2125.0V2130.0M1667.9 2125.0V2130.0M1682.1 2125.0V2130.0M1694.0 2125.0V2130.0M1704.3 2125.0V2130.0M1713.5 2125.0V2130.0M1721.6 2125.0V2134.0M1775.3 2125.0V2130.0M1806.7 2125.0V2130.0M1829.0 2125.0V2130.0M1846.3 2125.0V2130.0M1860.4 2125.0V2130.0M1872.4 2125.0V2130.0M1882.7 2125.0V2130.0M1891.8 2125.0V2130.0M1900.0 2125.0V2134.0" stroke="#555" stroke-width="2.2" fill="none"/><text x="1170.5" y="2137.5" font-size="38" font-weight="normal" fill="#1e1e1e" text-anchor="end" stroke="#222" stroke-width="0.6">0</text><text x="1184.5" y="2172.0" font-size="38" font-weight="normal" fill="#1e1e1e" text-anchor="middle" stroke="#222" stroke-width="0.6">0</text><text x="1170.5" y="1957.1" font-size="38" font-weight="normal" fill="#1e1e1e" text-anchor="end" stroke="#222" stroke-width="0.6">1</text><text x="1362.9" y="2172.0" font-size="38" font-weight="normal" fill="#1e1e1e" text-anchor="middle" stroke="#222" stroke-width="0.6">1</text><text x="1170.5" y="1776.8" font-size="38" font-weight="normal" fill="#1e1e1e" text-anchor="end" stroke="#222" stroke-width="0.6">2</text><text x="1541.2" y="2172.0" font-size="38" font-weight="normal" fill="#1e1e1e" text-anchor="middle" stroke="#222" stroke-width="0.6">2</text><text x="1170.5" y="1596.4" font-size="38" font-weight="normal" fill="#1e1e1e" text-anchor="end" stroke="#222" stroke-width="0.6">3</text><text x="1719.6" y="2172.0" font-size="38" font-weight="normal" fill="#1e1e1e" text-anchor="middle" stroke="#222" stroke-width="0.6">3</text><text x="1170.5" y="1416.0" font-size="38" font-weight="normal" fill="#1e1e1e" text-anchor="end" stroke="#222" stroke-width="0.6">4</text><text x="1898.0" y="2172.0" font-size="38" font-weight="normal" fill="#1e1e1e" text-anchor="middle" stroke="#222" stroke-width="0.6">4</text><text x="1290.0" y="1328.0" font-size="67" font-weight="bold" fill="#000" text-anchor="start" textLength="456.0" lengthAdjust="spacingAndGlyphs">Medium control</text><text x="1259.0" y="1393.3" font-size="53.5" font-weight="normal" fill="#1e1e1e" text-anchor="start" textLength="567.0" lengthAdjust="spacingAndGlyphs" stroke="#1e1e1e" stroke-width="0.6">APOPTOSIS PROFILE</text><text transform="translate(1122.0,1889.0) rotate(-90)" x="0" y="0" font-size="54" font-weight="normal" fill="#1e1e1e" text-anchor="start" textLength="250.0" lengthAdjust="spacingAndGlyphs" stroke="#1e1e1e" stroke-width="0.6">VIABILITY</text><text x="1190.0" y="2220.0" font-size="36" font-weight="normal" fill="#646464" text-anchor="start" textLength="72.0" lengthAdjust="spacingAndGlyphs" stroke="#646464" stroke-width="0.8">Live</text><text x="1400.0" y="2224.0" font-size="51" font-weight="normal" fill="#1e1e1e" text-anchor="start" textLength="286.0" lengthAdjust="spacingAndGlyphs" stroke="#1e1e1e" stroke-width="0.8">ANNEXIN V</text><text x="1736.0" y="2220.0" font-size="36" font-weight="normal" fill="#646464" text-anchor="start" textLength="161.0" lengthAdjust="spacingAndGlyphs" stroke="#646464" stroke-width="0.8">Apoptotic</text><text x="1201.0" y="1454.0" font-size="50" font-weight="normal" fill="#1e1e1e" text-anchor="start" textLength="112.0" lengthAdjust="spacingAndGlyphs" stroke="#1e1e1e" stroke-width="0.9">Dead</text><text x="1199.0" y="1512.0" font-size="50" font-weight="normal" fill="#1e1e1e" text-anchor="start" textLength="146.0" lengthAdjust="spacingAndGlyphs" stroke="#1e1e1e" stroke-width="0.9">0.39 %</text><text x="1527.0" y="1454.0" font-size="50" font-weight="normal" fill="#1e1e1e" text-anchor="start" textLength="358.0" lengthAdjust="spacingAndGlyphs" stroke="#1e1e1e" stroke-width="0.9">Late Apop./Dead</text><text x="1740.0" y="1512.0" font-size="50" font-weight="normal" fill="#1e1e1e" text-anchor="start" textLength="145.0" lengthAdjust="spacingAndGlyphs" stroke="#1e1e1e" stroke-width="0.9">1.92 %</text><text x="1199.0" y="2053.0" font-size="50" font-weight="normal" fill="#1e1e1e" text-anchor="start" textLength="173.0" lengthAdjust="spacingAndGlyphs" stroke="#1e1e1e" stroke-width="0.9">95.59 %</text><text x="1199.0" y="2111.0" font-size="50" font-weight="normal" fill="#1e1e1e" text-anchor="start" textLength="88.0" lengthAdjust="spacingAndGlyphs" stroke="#1e1e1e" stroke-width="0.9">Live</text><text x="1740.0" y="2053.0" font-size="50" font-weight="normal" fill="#1e1e1e" text-anchor="start" textLength="145.0" lengthAdjust="spacingAndGlyphs" stroke="#1e1e1e" stroke-width="0.9">2.09 %</text><text x="1641.0" y="2111.0" font-size="50" font-weight="normal" fill="#1e1e1e" text-anchor="start" textLength="244.0" lengthAdjust="spacingAndGlyphs" stroke="#1e1e1e" stroke-width="0.9">Early Apop.</text><rect x="2126.0" y="1416.0" width="709.0" height="709.0" fill="#ffffff"/><rect x="2126.0" y="1924.0" width="259.0" height="201.0" fill="#e7f2d0"/><path d="M2132 2055h2M2145 2050h2M2148 2046h2M2152 1976h2M2152 2002h2M2155 1980h2M2155 1995h2M2158 1975h2M2158 1997h2M2159 2042h2M2165 2016h2M2165 2034h2M2166 1984h2M2166 2067h2M2167 2091h2M2169 2036h2M2170 1985h2M2170 2001h2M2170 2052h2M2170 2067h2M2171 1994h2M2173 2003h2M2173 2071h2M2174 1986h2M2174 2032h2M2176 1979h2M2177 2005h2M2178 2009h2M2178 2027h2M2179 1983h2M2179 2042h2M2180 1971h2M2180 1996h2M2181 2043h2M2182 2006h2M2183 1932h2M2183 2000h2M2184 2015h2M2184 2078h2M2185 1992h2M2186 2005h2M2186 2015h2M2187 2044h2M2188 1984h2M2190 1944h2M2190 2017h2M2191 1982h2M2191 1997h2M2191 2005h2M2191 2029h2M2192 1996h2M2192 2017h2M2192 2074h2M2193 1970h2M2193 1981h2M2193 2024h2M2195 2002h2M2195 2026h2M2195 2034h2M2195 2059h2M2196 1949h2M2196 1967h2M2196 1969h2M2196 1970h2M2196 2009h2M2196 2020h2M2196 2076h2M2197 2007h2M2197 2021h2M2198 1952h2M2198 1973h2M2198 1984h2M2198 1998h2M2199 1973h2M2199 2014h2M2199 2017h2M2200 1961h2M2200 2077h2M2201 1931h2M2201 1971h2M2201 2001h2M2201 2032h2M2201 2070h2M2202 2017h2M2203 2048h2M2204 1955h2M2204 2006h2M2204 2011h2M2204 2022h2M2205 2014h2M2205 2026h2M2206 2024h2M2206 2025h2M2206 2030h2M2206 2044h2M2206 2066h2M2206 2090h2M2207 1987h2M2207 2029h2M2207 2030h2M2207 2049h2M2208 1962h2M2209 2001h2M2209 2021h2M2209 2035h2M2209 2044h2M2210 2022h2M2210 2031h2M2211 2022h2M2211 2032h2M2211 2047h2M2211 2050h2M2211 2064h2M2212 2002h2M2212 2023h2M2212 2037h2M2212 2050h2M2213 2010h2M2213 2029h2M2213 2071h2M2214 1991h2M2214 1992h2M2214 2000h2M2214 2040h2M2215 1949h2M2215 1985h2M2215 1989h2M2215 1995h2M2215 1999h2M2215 2002h2M2215 2062h2M2216 1977h2M2216 2006h2M2216 2011h2M2216 2014h2M2216 2022h2M2216 2031h2M2216 2041h2M2216 2091h2M2217 1976h2M2217 1997h2M2217 2002h2M2217 2004h2M2217 2014h2M2217 2017h2M2217 2026h2M2218 2022h2M2218 2036h2M2219 2001h2M2219 2009h2M2219 2056h2M2220 1968h2M2220 1997h2M2220 2002h2M2220 2003h2M2220 2029h2M2220 2048h2M2220 2052h2M2221 1990h2M2221 2043h2M2221 2052h2M2221 2055h2M2222 1987h2M2222 1993h2M2222 2025h2M2222 2044h2M2222 2064h2M2223 1984h2M2223 1999h2M2223 2014h2M2223 2040h2M2224 1954h2M2224 1971h2M2224 1992h2M2224 2011h2M2225 1942h2M2225 1976h2M2225 2015h2M2225 2024h2M2225 2059h2M2225 2067h2M2226 1961h2M2226 1962h2M2226 1993h2M2226 2001h2M2226 2010h2M2226 2016h2M2227 1982h2M2227 1990h2M2227 2016h2M2227 2019h2M2227 2021h2M2228 1952h2M2228 2015h2M2228 2020h2M2228 2032h2M2228 2033h2M2228 2051h2M2229 1992h2M2229 1998h2M2229 2010h2M2229 2019h2M2229 2023h2M2229 2051h2M2230 1981h2M2230 2000h2M2230 2003h2M2230 2013h2M2230 2015h2M2230 2016h2M2230 2042h2M2230 2073h2M2231 2008h2M2231 2015h2M2231 2021h2M2232 1951h2M2232 1980h2M2232 1994h2M2232 1996h2M2232 2012h2M2232 2018h2M2232 2074h2M2233 1944h2M2233 1971h2M2233 1989h2M2233 2003h2M2233 2004h2M2233 2020h2M2233 2026h2M2233 2032h2M2234 1965h2M2234 1973h2M2234 1987h2M2234 1988h2M2234 2010h2M2234 2013h2M2234 2016h2M2234 2030h2M2234 2063h2M2235 1989h2M2235 2000h2M2235 2012h2M2235 2023h2M2235 2029h2M2236 1943h2M2236 1979h2M2236 1993h2M2236 2007h2M2236 2019h2M2236 2054h2M2236 2069h2M2237 1970h2M2237 1983h2M2237 1989h2M2237 1996h2M2237 1998h2M2237 2000h2M2237 2007h2M2237 2022h2M2237 2038h2M2237 2042h2M2237 2060h2M2237 2073h2M2238 1983h2M2238 1989h2M2238 1993h2M2238 1995h2M2238 2000h2M2238 2009h2M2238 2014h2M2238 2017h2M2238 2018h2M2238 2024h2M2238 2039h2M2239 1939h2M2239 1985h2M2239 1992h2M2239 2018h2M2239 2024h2M2240 1979h2M2240 2001h2M2240 2002h2M2240 2003h2M2240 2036h2M2240 2050h2M2240 2077h2M2241 1982h2M2241 1989h2M2241 2000h2M2241 2001h2M2241 2002h2M2241 2005h2M2241 2011h2M2241 2022h2M2241 2027h2M2241 2031h2M2241 2032h2M2241 2038h2M2241 2040h2M2241 2042h2M2241 2050h2M2241 2062h2M2242 1957h2M2242 1978h2M2242 1981h2M2242 1983h2M2242 1998h2M2242 2003h2M2242 2004h2M2242 2023h2M2242 2025h2M2242 2034h2M2243 1965h2M2243 1974h2M2243 1989h2M2243 1990h2M2243 1993h2M2243 1994h2M2243 2013h2M2243 2066h2M2243 2083h2M2243 2098h2M2244 1977h2M2244 1978h2M2244 1983h2M2244 1996h2M2244 1999h2M2244 2011h2M2244 2020h2M2244 2024h2M2244 2029h2M2244 2030h2M2244 2063h2M2245 1982h2M2245 1995h2M2245 1996h2M2245 2001h2M2245 2010h2M2245 2011h2M2245 2051h2M2246 1962h2M2246 1977h2M2246 1982h2M2246 1984h2M2246 1989h2M2246 1990h2M2246 1993h2M2246 1995h2M2246 1997h2M2246 2010h2M2246 2019h2M2246 2030h2M2246 2034h2M2246 2036h2M2246 2089h2M2247 1963h2M2247 1976h2M2247 1981h2M2247 1994h2M2247 2001h2M2247 2003h2M2247 2018h2M2247 2021h2M2247 2037h2M2247 2042h2M2247 2052h2M2247 2102h2M2248 1975h2M2248 1983h2M2248 1999h2M2248 2002h2M2248 2007h2M2248 2015h2M2248 2016h2M2248 2023h2M2248 2024h2M2248 2025h2M2248 2027h2M2248 2029h2M2248 2046h2M2248 2065h2M2249 1968h2M2249 1984h2M2249 1996h2M2249 2007h2M2249 2011h2M2249 2014h2M2249 2019h2M2249 2027h2M2249 2035h2M2250 1957h2M2250 1967h2M2250 1991h2M2250 1996h2M2250 2004h2M2250 2010h2M2250 2012h2M2250 2013h2M2250 2016h2M2250 2031h2M2251 1976h2M2251 1983h2M2251 1998h2M2251 2001h2M2251 2002h2M2251 2006h2M2251 2008h2M2251 2012h2M2251 2033h2M2252 1968h2M2252 1983h2M2252 1989h2M2252 1997h2M2252 2007h2M2252 2009h2M2252 2010h2M2252 2017h2M2252 2025h2M2252 2035h2M2252 2049h2M2252 2068h2M2253 1957h2M2253 1976h2M2253 1977h2M2253 1985h2M2253 1994h2M2253 1995h2M2253 2011h2M2253 2015h2M2253 2016h2M2253 2024h2M2253 2026h2M2253 2029h2M2253 2032h2M2253 2034h2M2253 2067h2M2254 1993h2M2254 2007h2M2254 2010h2M2254 2012h2M2254 2016h2M2254 2020h2M2254 2032h2M2254 2033h2M2254 2037h2M2255 1934h2M2255 1990h2M2255 1994h2M2255 1998h2M2255 2000h2M2255 2001h2M2255 2006h2M2255 2015h2M2255 2019h2M2255 2023h2M2255 2028h2M2255 2063h2M2255 2064h2M2255 2065h2M2255 2080h2M2256 1967h2M2256 1973h2M2256 1979h2M2256 1988h2M2256 1998h2M2256 2005h2M2256 2011h2M2256 2014h2M2256 2018h2M2256 2019h2M2256 2022h2M2256 2024h2M2256 2034h2M2257 1965h2M2257 1970h2M2257 1987h2M2257 1988h2M2257 1994h2M2257 1997h2M2257 1998h2M2257 2000h2M2257 2003h2M2257 2005h2M2257 2013h2M2257 2014h2M2257 2020h2M2257 2023h2M2257 2038h2M2257 2041h2M2257 2045h2M2257 2047h2M2257 2051h2M2257 2061h2M2257 2077h2M2257 2078h2M2258 1988h2M2258 1998h2M2258 2002h2M2258 2005h2M2258 2007h2M2258 2010h2M2258 2013h2M2258 2016h2M2258 2020h2M2258 2026h2M2258 2032h2M2258 2033h2M2258 2034h2M2258 2064h2M2258 2084h2M2259 1977h2M2259 1979h2M2259 1990h2M2259 1999h2M2259 2001h2M2259 2005h2M2259 2007h2M2259 2015h2M2259 2023h2M2259 2049h2M2259 2055h2M2259 2056h2M2259 2077h2M2260 1972h2M2260 1985h2M2260 1992h2M2260 1993h2M2260 1994h2M2260 2000h2M2260 2002h2M2260 2003h2M2260 2017h2M2261 1968h2M2261 1984h2M2261 1985h2M2261 1987h2M2261 1989h2M2261 1996h2M2261 1998h2M2261 2004h2M2261 2009h2M2261 2010h2M2261 2016h2M2261 2018h2M2261 2021h2M2261 2031h2M2261 2033h2M2261 2048h2M2261 2057h2M2261 2095h2M2262 1994h2M2262 1995h2M2262 1996h2M2262 1997h2M2262 1999h2M2262 2001h2M2262 2003h2M2262 2006h2M2262 2007h2M2262 2014h2M2262 2030h2M2262 2040h2M2263 1959h2M2263 1960h2M2263 1980h2M2263 1990h2M2263 1993h2M2263 1994h2M2263 1995h2M2263 2000h2M2263 2008h2M2263 2009h2M2263 2010h2M2263 2014h2M2263 2015h2M2263 2016h2M2263 2020h2M2263 2033h2M2263 2034h2M2263 2041h2M2263 2063h2M2263 2068h2M2264 1999h2M2264 2002h2M2264 2004h2M2264 2008h2M2264 2010h2M2264 2013h2M2264 2015h2M2264 2019h2M2264 2030h2M2264 2042h2M2264 2043h2M2264 2100h2M2265 1953h2M2265 1959h2M2265 1976h2M2265 1980h2M2265 1981h2M2265 1983h2M2265 1988h2M2265 1989h2M2265 1992h2M2265 1994h2M2265 1998h2M2265 2000h2M2265 2004h2M2265 2008h2M2265 2012h2M2265 2014h2M2265 2016h2M2265 2017h2M2265 2025h2M2265 2028h2M2265 2035h2M2265 2036h2M2265 2038h2M2265 2041h2M2265 2051h2M2266 1952h2M2266 1986h2M2266 1987h2M2266 1988h2M2266 2000h2M2266 2012h2M2266 2013h2M2266 2014h2M2266 2015h2M2266 2017h2M2266 2025h2M2266 2026h2M2266 2027h2M2266 2041h2M2266 2080h2M2267 1966h2M2267 1969h2M2267 1971h2M2267 1972h2M2267 1982h2M2267 1995h2M2267 1998h2M2267 2003h2M2267 2011h2M2267 2014h2M2267 2016h2M2267 2051h2M2267 2052h2M2267 2082h2M2268 1939h2M2268 1979h2M2268 1985h2M2268 1992h2M2268 1993h2M2268 1998h2M2268 1999h2M2268 2000h2M2268 2004h2M2268 2007h2M2268 2008h2M2268 2009h2M2268 2010h2M2268 2013h2M2268 2015h2M2268 2016h2M2268 2017h2M2268 2020h2M2268 2036h2M2268 2041h2M2268 2085h2M2269 1947h2M2269 1966h2M2269 1987h2M2269 1997h2M2269 1998h2M2269 2004h2M2269 2005h2M2269 2011h2M2269 2014h2M2269 2015h2M2269 2017h2M2269 2018h2M2269 2025h2M2269 2027h2M2269 2077h2M2270 1981h2M2270 1985h2M2270 1987h2M2270 1993h2M2270 1994h2M2270 2000h2M2270 2001h2M2270 2002h2M2270 2003h2M2270 2004h2M2270 2008h2M2270 2009h2M2270 2011h2M2270 2013h2M2270 2016h2M2270 2019h2M2270 2025h2M2270 2026h2M2270 2027h2M2270 2031h2M2270 2037h2M2271 1925h2M2271 1970h2M2271 1984h2M2271 1985h2M2271 1991h2M2271 1993h2M2271 1997h2M2271 1998h2M2271 1999h2M2271 2001h2M2271 2005h2M2271 2007h2M2271 2018h2M2271 2021h2M2271 2023h2M2271 2027h2M2271 2030h2M2271 2047h2M2271 2075h2M2271 2099h2M2272 1946h2M2272 1966h2M2272 1975h2M2272 1979h2M2272 1986h2M2272 1988h2M2272 1994h2M2272 1995h2M2272 2001h2M2272 2003h2M2272 2004h2M2272 2008h2M2272 2021h2M2272 2028h2M2272 2030h2M2272 2037h2M2272 2059h2M2272 2078h2M2273 1938h2M2273 1965h2M2273 1987h2M2273 1988h2M2273 1992h2M2273 2012h2M2273 2015h2M2273 2019h2M2273 2023h2M2273 2027h2M2273 2029h2M2273 2034h2M2273 2041h2M2273 2068h2M2273 2076h2M2274 1955h2M2274 1976h2M2274 1981h2M2274 1982h2M2274 1988h2M2274 1996h2M2274 2000h2M2274 2006h2M2274 2008h2M2274 2009h2M2274 2015h2M2274 2018h2M2274 2022h2M2274 2034h2M2274 2039h2M2274 2045h2M2274 2048h2M2274 2068h2M2275 1969h2M2275 1980h2M2275 1982h2M2275 2000h2M2275 2005h2M2275 2006h2M2275 2009h2M2275 2010h2M2275 2013h2M2275 2015h2M2275 2017h2M2275 2019h2M2275 2030h2M2275 2036h2M2276 1945h2M2276 1953h2M2276 1977h2M2276 1980h2M2276 1981h2M2276 1984h2M2276 1985h2M2276 1991h2M2276 2000h2M2276 2002h2M2276 2003h2M2276 2005h2M2276 2007h2M2276 2014h2M2276 2016h2M2276 2017h2M2276 2024h2M2276 2027h2M2276 2028h2M2276 2033h2M2276 2051h2M2276 2095h2M2277 1972h2M2277 1976h2M2277 1982h2M2277 1983h2M2277 1984h2M2277 1986h2M2277 1990h2M2277 1991h2M2277 2001h2M2277 2002h2M2277 2006h2M2277 2008h2M2277 2010h2M2277 2017h2M2277 2022h2M2277 2026h2M2277 2033h2M2277 2066h2M2278 1978h2M2278 1988h2M2278 1992h2M2278 1994h2M2278 1998h2M2278 2001h2M2278 2006h2M2278 2009h2M2278 2016h2M2278 2017h2M2278 2018h2M2278 2019h2M2278 2022h2M2278 2023h2M2278 2027h2M2278 2031h2M2278 2034h2M2278 2071h2M2278 2080h2M2279 1979h2M2279 1992h2M2279 1993h2M2279 1999h2M2279 2000h2M2279 2005h2M2279 2009h2M2279 2011h2M2279 2013h2M2279 2016h2M2279 2026h2M2279 2038h2M2279 2061h2M2280 1959h2M2280 1977h2M2280 1981h2M2280 1985h2M2280 1987h2M2280 1990h2M2280 1991h2M2280 1993h2M2280 1998h2M2280 2003h2M2280 2004h2M2280 2005h2M2280 2006h2M2280 2008h2M2280 2011h2M2280 2014h2M2280 2019h2M2280 2022h2M2280 2024h2M2280 2030h2M2280 2036h2M2280 2043h2M2280 2057h2M2280 2083h2M2281 1957h2M2281 1963h2M2281 1988h2M2281 1991h2M2281 1994h2M2281 1999h2M2281 2005h2M2281 2009h2M2281 2011h2M2281 2015h2M2281 2018h2M2281 2021h2M2281 2035h2M2281 2041h2M2282 1967h2M2282 1970h2M2282 1972h2M2282 1988h2M2282 1994h2M2282 1995h2M2282 1998h2M2282 1999h2M2282 2001h2M2282 2002h2M2282 2004h2M2282 2007h2M2282 2010h2M2282 2011h2M2282 2015h2M2282 2024h2M2282 2033h2M2282 2035h2M2282 2043h2M2282 2050h2M2282 2063h2M2283 1958h2M2283 1982h2M2283 1983h2M2283 1990h2M2283 1993h2M2283 1995h2M2283 1998h2M2283 2000h2M2283 2002h2M2283 2005h2M2283 2007h2M2283 2012h2M2283 2015h2M2283 2020h2M2283 2021h2M2283 2028h2M2283 2033h2M2283 2070h2M2283 2071h2M2284 1981h2M2284 1985h2M2284 1997h2M2284 1998h2M2284 2000h2M2284 2002h2M2284 2003h2M2284 2005h2M2284 2006h2M2284 2008h2M2284 2009h2M2284 2011h2M2284 2014h2M2284 2019h2M2284 2022h2M2284 2024h2M2284 2026h2M2284 2034h2M2284 2038h2M2284 2058h2M2285 1971h2M2285 1985h2M2285 1988h2M2285 1989h2M2285 1995h2M2285 1996h2M2285 2003h2M2285 2005h2M2285 2007h2M2285 2011h2M2285 2013h2M2285 2021h2M2285 2027h2M2285 2028h2M2285 2029h2M2285 2032h2M2285 2039h2M2285 2069h2M2286 1959h2M2286 1981h2M2286 1986h2M2286 1987h2M2286 1988h2M2286 1993h2M2286 2002h2M2286 2004h2M2286 2008h2M2286 2010h2M2286 2011h2M2286 2015h2M2286 2016h2M2286 2018h2M2286 2019h2M2286 2021h2M2286 2022h2M2286 2024h2M2286 2027h2M2286 2041h2M2286 2046h2M2287 1933h2M2287 1978h2M2287 1985h2M2287 1987h2M2287 1997h2M2287 1998h2M2287 2000h2M2287 2002h2M2287 2004h2M2287 2005h2M2287 2006h2M2287 2011h2M2287 2012h2M2287 2014h2M2287 2015h2M2287 2021h2M2287 2032h2M2287 2034h2M2287 2036h2M2287 2047h2M2288 1963h2M2288 1965h2M2288 1972h2M2288 1977h2M2288 1989h2M2288 2000h2M2288 2002h2M2288 2004h2M2288 2005h2M2288 2011h2M2288 2014h2M2288 2021h2M2288 2023h2M2288 2027h2M2288 2041h2M2288 2043h2M2289 1963h2M2289 1996h2M2289 2000h2M2289 2002h2M2289 2007h2M2289 2008h2M2289 2017h2M2289 2020h2M2289 2022h2M2289 2024h2M2289 2025h2M2289 2030h2M2289 2031h2M2289 2050h2M2289 2057h2M2289 2058h2M2290 1959h2M2290 1968h2M2290 1975h2M2290 1977h2M2290 1996h2M2290 2005h2M2290 2011h2M2290 2013h2M2290 2016h2M2290 2018h2M2290 2037h2M2290 2044h2M2290 2064h2M2290 2071h2M2291 1960h2M2291 1969h2M2291 1975h2M2291 1980h2M2291 1982h2M2291 1983h2M2291 1991h2M2291 1992h2M2291 1993h2M2291 1996h2M2291 1997h2M2291 2000h2M2291 2008h2M2291 2012h2M2291 2015h2M2291 2024h2M2291 2026h2M2291 2034h2M2291 2036h2M2291 2040h2M2291 2044h2M2291 2045h2M2291 2047h2M2292 1980h2M2292 1981h2M2292 1986h2M2292 1990h2M2292 1994h2M2292 1998h2M2292 1999h2M2292 2008h2M2292 2014h2M2292 2016h2M2292 2017h2M2292 2019h2M2292 2021h2M2292 2023h2M2292 2024h2M2292 2028h2M2292 2030h2M2292 2054h2M2292 2056h2M2292 2062h2M2292 2066h2M2292 2073h2M2292 2080h2M2293 1946h2M2293 1979h2M2293 1980h2M2293 1983h2M2293 1986h2M2293 1991h2M2293 2001h2M2293 2003h2M2293 2005h2M2293 2007h2M2293 2011h2M2293 2012h2M2293 2018h2M2293 2020h2M2293 2025h2M2293 2039h2M2293 2044h2M2293 2066h2M2294 1965h2M2294 1976h2M2294 1980h2M2294 1984h2M2294 1990h2M2294 1992h2M2294 1993h2M2294 1994h2M2294 1995h2M2294 1997h2M2294 2001h2M2294 2003h2M2294 2004h2M2294 2008h2M2294 2010h2M2294 2011h2M2294 2013h2M2294 2022h2M2294 2024h2M2294 2033h2M2294 2035h2M2294 2044h2M2294 2046h2M2294 2063h2M2294 2089h2M2295 1941h2M2295 1966h2M2295 1973h2M2295 1977h2M2295 1979h2M2295 1982h2M2295 1983h2M2295 1986h2M2295 1996h2M2295 1997h2M2295 1998h2M2295 2004h2M2295 2008h2M2295 2011h2M2295 2013h2M2295 2015h2M2295 2016h2M2295 2018h2M2295 2022h2M2295 2023h2M2295 2040h2M2295 2049h2M2295 2052h2M2295 2060h2M2296 1977h2M2296 1986h2M2296 1987h2M2296 1991h2M2296 1995h2M2296 2002h2M2296 2003h2M2296 2006h2M2296 2007h2M2296 2008h2M2296 2009h2M2296 2016h2M2296 2017h2M2296 2018h2M2296 2022h2M2296 2026h2M2296 2032h2M2296 2052h2M2297 1972h2M2297 1980h2M2297 1987h2M2297 1988h2M2297 1993h2M2297 1995h2M2297 2004h2M2297 2006h2M2297 2008h2M2297 2014h2M2297 2016h2M2297 2025h2M2297 2027h2M2297 2037h2M2297 2043h2M2297 2100h2M2298 1985h2M2298 1992h2M2298 1993h2M2298 1999h2M2298 2002h2M2298 2003h2M2298 2005h2M2298 2006h2M2298 2007h2M2298 2015h2M2298 2023h2M2298 2030h2M2298 2047h2M2298 2050h2M2298 2077h2M2299 1975h2M2299 1995h2M2299 1996h2M2299 2000h2M2299 2003h2M2299 2007h2M2299 2010h2M2299 2011h2M2299 2013h2M2299 2015h2M2299 2020h2M2299 2022h2M2299 2031h2M2299 2032h2M2299 2038h2M2299 2039h2M2299 2061h2M2299 2069h2M2300 1962h2M2300 1972h2M2300 1981h2M2300 1995h2M2300 2000h2M2300 2011h2M2300 2018h2M2300 2020h2M2300 2025h2M2300 2031h2M2300 2040h2M2300 2049h2M2300 2059h2M2300 2069h2M2301 1982h2M2301 1988h2M2301 1989h2M2301 1990h2M2301 1992h2M2301 1995h2M2301 2001h2M2301 2005h2M2301 2011h2M2301 2018h2M2301 2019h2M2301 2024h2M2301 2025h2M2301 2029h2M2301 2042h2M2301 2044h2M2301 2078h2M2302 1984h2M2302 1989h2M2302 1991h2M2302 1993h2M2302 1996h2M2302 1997h2M2302 1999h2M2302 2000h2M2302 2001h2M2302 2009h2M2302 2013h2M2302 2014h2M2302 2016h2M2302 2017h2M2302 2021h2M2302 2030h2M2302 2035h2M2302 2053h2M2302 2119h2M2303 1949h2M2303 1983h2M2303 1984h2M2303 1990h2M2303 1992h2M2303 1996h2M2303 2002h2M2303 2007h2M2303 2009h2M2303 2012h2M2303 2018h2M2303 2026h2M2303 2034h2M2303 2042h2M2303 2047h2M2303 2056h2M2303 2059h2M2303 2072h2M2304 1962h2M2304 1989h2M2304 1990h2M2304 1992h2M2304 1993h2M2304 1996h2M2304 1997h2M2304 1999h2M2304 2002h2M2304 2003h2M2304 2011h2M2304 2012h2M2304 2016h2M2304 2019h2M2304 2026h2M2305 1985h2M2305 2010h2M2305 2015h2M2305 2025h2M2305 2029h2M2305 2032h2M2305 2047h2M2305 2096h2M2305 2101h2M2306 1978h2M2306 1980h2M2306 1992h2M2306 2001h2M2306 2005h2M2306 2029h2M2306 2030h2M2306 2033h2M2306 2095h2M2307 1972h2M2307 1976h2M2307 1993h2M2307 1996h2M2307 2004h2M2307 2006h2M2307 2016h2M2307 2022h2M2307 2023h2M2307 2027h2M2307 2031h2M2308 1937h2M2308 1956h2M2308 1975h2M2308 1981h2M2308 1983h2M2308 1984h2M2308 1997h2M2308 1999h2M2308 2003h2M2308 2010h2M2308 2011h2M2308 2013h2M2308 2020h2M2308 2022h2M2308 2024h2M2308 2042h2M2309 1925h2M2309 1977h2M2309 1990h2M2309 1993h2M2309 1994h2M2309 1996h2M2309 1997h2M2309 1998h2M2309 2000h2M2309 2001h2M2309 2008h2M2309 2014h2M2309 2016h2M2309 2017h2M2309 2020h2M2309 2022h2M2309 2024h2M2309 2061h2M2310 1974h2M2310 1984h2M2310 1997h2M2310 2006h2M2310 2007h2M2310 2014h2M2310 2016h2M2310 2019h2M2310 2043h2M2310 2071h2M2310 2078h2M2311 1957h2M2311 1985h2M2311 1987h2M2311 1990h2M2311 1991h2M2311 2002h2M2311 2003h2M2311 2006h2M2311 2009h2M2311 2010h2M2311 2011h2M2311 2014h2M2311 2015h2M2311 2020h2M2311 2021h2M2311 2032h2M2311 2033h2M2311 2036h2M2311 2042h2M2311 2047h2M2312 1943h2M2312 1973h2M2312 1974h2M2312 1976h2M2312 1995h2M2312 2004h2M2312 2007h2M2312 2012h2M2312 2017h2M2312 2018h2M2312 2026h2M2312 2058h2M2313 1966h2M2313 1970h2M2313 1982h2M2313 1987h2M2313 1993h2M2313 1997h2M2313 2004h2M2313 2005h2M2313 2006h2M2313 2010h2M2313 2012h2M2313 2020h2M2313 2022h2M2313 2029h2M2313 2031h2M2313 2032h2M2313 2038h2M2313 2049h2M2313 2050h2M2313 2054h2M2314 1974h2M2314 1983h2M2314 1985h2M2314 2000h2M2314 2001h2M2314 2002h2M2314 2006h2M2314 2007h2M2314 2009h2M2314 2014h2M2314 2017h2M2314 2021h2M2314 2025h2M2314 2057h2M2314 2059h2M2314 2062h2M2315 1978h2M2315 1988h2M2315 2000h2M2315 2003h2M2315 2004h2M2315 2006h2M2315 2008h2M2315 2013h2M2315 2016h2M2315 2028h2M2315 2032h2M2315 2036h2M2315 2038h2M2315 2067h2M2315 2071h2M2316 1961h2M2316 1973h2M2316 2005h2M2316 2006h2M2316 2007h2M2316 2009h2M2316 2013h2M2316 2016h2M2316 2021h2M2316 2033h2M2316 2036h2M2316 2042h2M2316 2053h2M2316 2067h2M2317 1956h2M2317 1979h2M2317 1990h2M2317 1991h2M2317 1996h2M2317 1998h2M2317 2003h2M2317 2004h2M2317 2007h2M2317 2019h2M2317 2032h2M2317 2033h2M2317 2035h2M2317 2039h2M2317 2040h2M2317 2051h2M2317 2062h2M2317 2068h2M2317 2092h2M2318 1978h2M2318 1984h2M2318 1985h2M2318 1986h2M2318 1990h2M2318 1992h2M2318 1993h2M2318 1995h2M2318 2003h2M2318 2007h2M2318 2020h2M2318 2026h2M2318 2041h2M2318 2049h2M2319 1957h2M2319 1962h2M2319 1972h2M2319 1973h2M2319 1991h2M2319 2001h2M2319 2004h2M2319 2007h2M2319 2014h2M2319 2017h2M2319 2018h2M2319 2022h2M2319 2023h2M2319 2028h2M2319 2030h2M2319 2031h2M2319 2050h2M2319 2052h2M2320 1969h2M2320 1979h2M2320 1985h2M2320 1988h2M2320 1994h2M2320 2005h2M2320 2013h2M2320 2014h2M2320 2027h2M2320 2033h2M2320 2045h2M2321 1969h2M2321 1983h2M2321 1984h2M2321 1985h2M2321 1990h2M2321 1994h2M2321 2003h2M2321 2007h2M2321 2008h2M2321 2012h2M2321 2028h2M2322 1979h2M2322 1993h2M2322 1995h2M2322 1998h2M2322 2001h2M2322 2012h2M2322 2013h2M2322 2017h2M2322 2023h2M2322 2025h2M2322 2029h2M2322 2061h2M2322 2077h2M2322 2084h2M2323 1967h2M2323 1993h2M2323 2000h2M2323 2031h2M2323 2058h2M2324 1974h2M2324 1993h2M2324 1994h2M2324 1997h2M2324 1998h2M2324 2002h2M2324 2004h2M2324 2016h2M2324 2017h2M2324 2018h2M2324 2030h2M2324 2042h2M2324 2047h2M2325 1960h2M2325 1992h2M2325 2005h2M2325 2006h2M2325 2009h2M2325 2010h2M2325 2024h2M2325 2026h2M2325 2036h2M2325 2066h2M2325 2089h2M2326 1957h2M2326 1975h2M2326 1992h2M2326 1998h2M2326 2004h2M2326 2006h2M2326 2009h2M2326 2010h2M2326 2014h2M2326 2043h2M2326 2051h2M2326 2084h2M2327 1956h2M2327 1968h2M2327 1971h2M2327 1976h2M2327 1981h2M2327 1995h2M2327 1997h2M2327 2017h2M2327 2023h2M2327 2030h2M2327 2031h2M2327 2036h2M2327 2040h2M2328 1980h2M2328 1988h2M2328 1996h2M2328 2002h2M2328 2003h2M2328 2006h2M2328 2018h2M2328 2058h2M2328 2062h2M2328 2104h2M2329 2002h2M2329 2027h2M2329 2055h2M2330 1941h2M2330 1992h2M2330 1995h2M2330 1996h2M2330 2000h2M2330 2005h2M2330 2006h2M2330 2011h2M2330 2020h2M2330 2070h2M2331 1990h2M2331 1993h2M2331 1999h2M2331 2002h2M2331 2023h2M2331 2024h2M2331 2041h2M2331 2043h2M2331 2046h2M2331 2057h2M2332 1970h2M2332 1988h2M2332 1993h2M2332 1995h2M2332 1998h2M2332 2000h2M2332 2002h2M2332 2003h2M2332 2005h2M2332 2012h2M2332 2019h2M2332 2023h2M2332 2024h2M2332 2026h2M2332 2031h2M2332 2034h2M2333 1968h2M2333 1975h2M2333 1976h2M2333 1995h2M2333 1999h2M2333 2020h2M2333 2021h2M2333 2066h2M2334 1978h2M2334 1991h2M2334 1992h2M2334 2025h2M2334 2037h2M2335 1966h2M2335 1979h2M2335 1986h2M2335 1989h2M2335 1990h2M2335 2006h2M2335 2010h2M2335 2013h2M2336 1987h2M2336 2006h2M2336 2010h2M2336 2011h2M2336 2015h2M2336 2016h2M2336 2022h2M2336 2043h2M2336 2057h2M2337 1998h2M2337 2000h2M2337 2007h2M2337 2008h2M2337 2014h2M2337 2022h2M2337 2038h2M2337 2041h2M2338 1974h2M2338 1987h2M2338 1994h2M2338 1999h2M2338 2004h2M2338 2016h2M2338 2022h2M2338 2028h2M2338 2036h2M2338 2093h2M2339 1932h2M2339 1960h2M2339 1968h2M2339 1994h2M2339 2017h2M2339 2029h2M2339 2066h2M2339 2077h2M2339 2084h2M2339 2088h2M2340 1954h2M2340 1955h2M2340 1972h2M2340 1992h2M2340 2001h2M2340 2009h2M2340 2023h2M2340 2062h2M2341 1979h2M2341 1998h2M2341 2015h2M2341 2040h2M2341 2050h2M2341 2062h2M2341 2068h2M2341 2071h2M2342 1993h2M2342 1998h2M2342 2005h2M2342 2014h2M2342 2046h2M2342 2077h2M2343 2001h2M2343 2026h2M2343 2053h2M2344 1980h2M2344 2005h2M2344 2009h2M2344 2013h2M2344 2016h2M2344 2033h2M2344 2053h2M2344 2069h2M2345 1973h2M2345 1985h2M2345 2006h2M2345 2025h2M2345 2094h2M2345 2096h2M2346 1961h2M2346 1962h2M2346 2003h2M2346 2015h2M2346 2018h2M2347 1983h2M2347 1993h2M2347 2006h2M2347 2010h2M2347 2011h2M2347 2027h2M2347 2089h2M2348 1987h2M2348 1995h2M2348 2022h2M2348 2042h2M2348 2043h2M2348 2103h2M2349 1967h2M2349 1970h2M2349 1986h2M2349 2006h2M2349 2008h2M2349 2010h2M2349 2019h2M2350 1955h2M2350 2045h2M2350 2099h2M2351 1977h2M2351 1997h2M2351 2006h2M2351 2020h2M2352 2000h2M2352 2009h2M2352 2028h2M2352 2041h2M2352 2068h2M2353 2005h2M2353 2007h2M2353 2011h2M2353 2044h2M2354 1963h2M2354 1983h2M2354 2028h2M2355 2005h2M2355 2013h2M2355 2022h2M2355 2025h2M2356 1954h2M2356 1981h2M2356 1993h2M2356 2007h2M2356 2023h2M2356 2033h2M2356 2076h2M2357 2008h2M2358 1981h2M2358 2004h2M2358 2005h2M2358 2009h2M2359 2023h2M2359 2038h2M2360 1944h2M2360 2016h2M2360 2037h2M2360 2071h2M2361 2105h2M2362 1966h2M2362 1997h2M2363 1954h2M2363 1960h2M2363 2010h2M2363 2029h2M2363 2041h2M2364 1950h2M2364 1969h2M2364 1995h2M2364 2033h2M2364 2051h2M2365 1946h2M2365 2003h2M2365 2009h2M2366 1972h2M2366 1998h2M2366 2054h2M2366 2066h2M2366 2106h2M2367 1964h2M2367 1984h2M2367 2011h2M2367 2019h2M2367 2033h2M2367 2070h2M2367 2072h2M2368 1950h2M2368 2042h2M2369 1998h2M2369 2030h2M2370 1971h2M2370 2089h2M2372 1976h2M2372 2000h2M2372 2032h2M2373 1958h2M2374 2070h2M2375 2027h2M2376 1984h2M2377 1991h2M2378 1955h2M2378 1998h2M2378 2022h2M2378 2040h2M2378 2046h2M2379 2058h2M2380 2034h2M2381 1954h2M2381 2059h2M2382 1973h2M2383 1977h2M2383 2001h2M2383 2009h2M2384 2005h2M2384 2067h2" stroke="#ee3210" stroke-width="2"/><path d="M2167 1784h2M2181 1920h2M2183 1918h2M2218 1790h2M2232 1809h2M2238 1889h2M2250 1817h2M2255 1820h2M2263 1782h2M2265 1915h2M2270 1832h2M2273 1739h2M2275 1885h2M2279 1911h2M2284 1754h2M2285 1833h2M2286 1853h2M2290 1838h2M2292 1807h2M2296 1914h2M2302 1904h2M2305 1805h2M2306 1663h2M2313 1823h2M2316 1838h2M2324 1883h2M2325 1786h2M2325 1839h2M2327 1835h2M2327 1919h2M2341 1876h2M2343 1900h2M2345 1862h2M2354 1816h2M2360 1822h2M2367 1852h2M2373 1866h2M2376 1822h2M2378 1745h2M2385 1975h2M2386 1744h2M2386 1966h2M2386 2013h2M2386 2026h2M2387 1999h2M2389 2023h2M2389 2096h2M2389 2105h2M2390 1986h2M2391 1993h2M2392 1959h2M2392 2014h2M2392 2054h2M2395 1956h2M2395 1989h2M2395 2030h2M2397 1976h2M2397 2022h2M2397 2040h2M2397 2078h2M2400 1956h2M2402 1984h2M2402 1987h2M2403 2009h2M2404 1982h2M2404 1986h2M2405 1981h2M2406 2047h2M2408 2000h2M2408 2056h2M2409 1991h2M2410 1723h2M2411 1992h2M2412 2033h2M2412 2056h2M2415 2008h2M2415 2009h2M2420 1990h2M2420 2063h2M2421 1976h2M2422 1948h2M2422 1980h2M2424 1758h2M2425 1998h2M2425 2069h2M2428 2105h2M2429 1987h2M2432 1975h2M2433 1958h2M2433 1994h2M2433 2046h2M2435 1960h2M2435 2017h2M2435 2047h2M2435 2058h2M2436 1889h2M2437 1753h2M2437 1920h2M2442 2026h2M2442 2055h2M2443 1950h2M2444 2058h2M2444 2099h2M2445 2066h2M2446 1716h2M2447 1896h2M2448 1723h2M2448 2030h2M2454 1963h2M2455 1715h2M2455 1948h2M2456 1981h2M2458 1995h2M2459 1955h2M2459 2039h2M2461 1701h2M2461 1971h2M2462 1691h2M2463 1976h2M2463 2016h2M2464 1847h2M2464 1948h2M2464 1998h2M2465 1699h2M2466 2024h2M2470 1724h2M2470 1935h2M2472 2039h2M2473 1980h2M2474 1943h2M2475 1701h2M2475 1729h2M2477 1786h2M2477 2008h2M2480 1710h2M2482 1751h2M2483 1744h2M2483 1960h2M2484 1722h2M2484 2092h2M2487 1689h2M2488 2066h2M2489 1707h2M2491 1999h2M2493 1777h2M2497 1735h2M2497 1978h2M2499 1735h2M2499 1876h2M2500 2009h2M2501 2050h2M2505 2019h2M2506 1721h2M2506 1955h2M2507 1748h2M2511 1678h2M2511 1730h2M2512 1753h2M2512 1984h2M2513 1720h2M2516 1692h2M2520 1688h2M2520 1723h2M2521 1711h2M2522 1714h2M2524 1678h2M2524 1709h2M2525 1739h2M2526 1973h2M2528 2067h2M2531 1938h2M2532 1680h2M2535 1720h2M2536 1698h2M2541 1733h2M2542 1736h2M2542 1741h2M2543 1692h2M2543 1695h2M2543 1718h2M2548 1717h2M2549 1682h2M2549 1937h2M2551 1720h2M2551 1882h2M2552 1683h2M2566 1737h2M2567 1719h2M2568 1723h2M2568 1943h2M2569 1673h2M2579 1692h2M2580 1692h2M2580 1887h2M2586 1730h2M2591 1706h2M2610 1717h2M2613 1712h2M2626 1859h2M2628 1691h2M2634 2088h2M2641 1739h2M2652 1823h2" stroke="#ff2020" stroke-width="2"/><rect x="2126.0" y="1416.0" width="709.0" height="709.0" fill="none" stroke="#1a1a1a" stroke-width="3"/><line x1="2126.0" y1="2125.0" x2="2835.0" y2="2125.0" stroke="#3a3a3a" stroke-width="3.5"/><line x1="2385.0" y1="1416.0" x2="2385.0" y2="2125.0" stroke="#e8413c" stroke-width="4"/><line x1="2126.0" y1="1924.0" x2="2835.0" y2="1924.0" stroke="#e8413c" stroke-width="4"/><circle cx="2385" cy="1586" r="11.5" fill="#ee1c1c"/><circle cx="2685" cy="1924" r="11.5" fill="#ee1c1c"/><circle cx="2385" cy="1924" r="9" fill="#fff" stroke="#e8413c" stroke-width="4"/><path d="M2117.0 2125.0H2126.0M2121.0 2071.6H2126.0M2121.0 2040.4H2126.0M2121.0 2018.3H2126.0M2121.0 2001.1H2126.0M2121.0 1987.1H2126.0M2121.0 1975.2H2126.0M2121.0 1964.9H2126.0M2121.0 1955.9H2126.0M2117.0 1947.8H2126.0M2121.0 1894.4H2126.0M2121.0 1863.2H2126.0M2121.0 1841.0H2126.0M2121.0 1823.9H2126.0M2121.0 1809.8H2126.0M2121.0 1798.0H2126.0M2121.0 1787.7H2126.0M2121.0 1778.6H2126.0M2117.0 1770.5H2126.0M2121.0 1717.1H2126.0M2121.0 1685.9H2126.0M2121.0 1663.8H2126.0M2121.0 1646.6H2126.0M2121.0 1632.6H2126.0M2121.0 1620.7H2126.0M2121.0 1610.4H2126.0M2121.0 1601.4H2126.0M2117.0 1593.2H2126.0M2121.0 1539.9H2126.0M2121.0 1508.7H2126.0M2121.0 1486.5H2126.0M2121.0 1469.4H2126.0M2121.0 1455.3H2126.0M2121.0 1443.5H2126.0M2121.0 1433.2H2126.0M2121.0 1424.1H2126.0M2117.0 1416.0H2126.0" stroke="#555" stroke-width="2.2" fill="none"/><path d="M2126.0 2125.0V2134.0M2179.4 2125.0V2130.0M2210.6 2125.0V2130.0M2232.7 2125.0V2130.0M2249.9 2125.0V2130.0M2263.9 2125.0V2130.0M2275.8 2125.0V2130.0M2286.1 2125.0V2130.0M2295.1 2125.0V2130.0M2303.2 2125.0V2134.0M2356.6 2125.0V2130.0M2387.8 2125.0V2130.0M2410.0 2125.0V2130.0M2427.1 2125.0V2130.0M2441.2 2125.0V2130.0M2453.0 2125.0V2130.0M2463.3 2125.0V2130.0M2472.4 2125.0V2130.0M2480.5 2125.0V2134.0M2533.9 2125.0V2130.0M2565.1 2125.0V2130.0M2587.2 2125.0V2130.0M2604.4 2125.0V2130.0M2618.4 2125.0V2130.0M2630.3 2125.0V2130.0M2640.6 2125.0V2130.0M2649.6 2125.0V2130.0M2657.8 2125.0V2134.0M2711.1 2125.0V2130.0M2742.3 2125.0V2130.0M2764.5 2125.0V2130.0M2781.6 2125.0V2130.0M2795.7 2125.0V2130.0M2807.5 2125.0V2130.0M2817.8 2125.0V2130.0M2826.9 2125.0V2130.0M2835.0 2125.0V2134.0" stroke="#555" stroke-width="2.2" fill="none"/><text x="2110.0" y="2137.5" font-size="38" font-weight="normal" fill="#1e1e1e" text-anchor="end" stroke="#222" stroke-width="0.6">0</text><text x="2124.0" y="2172.0" font-size="38" font-weight="normal" fill="#1e1e1e" text-anchor="middle" stroke="#222" stroke-width="0.6">0</text><text x="2110.0" y="1960.2" font-size="38" font-weight="normal" fill="#1e1e1e" text-anchor="end" stroke="#222" stroke-width="0.6">1</text><text x="2301.2" y="2172.0" font-size="38" font-weight="normal" fill="#1e1e1e" text-anchor="middle" stroke="#222" stroke-width="0.6">1</text><text x="2110.0" y="1783.0" font-size="38" font-weight="normal" fill="#1e1e1e" text-anchor="end" stroke="#222" stroke-width="0.6">2</text><text x="2478.5" y="2172.0" font-size="38" font-weight="normal" fill="#1e1e1e" text-anchor="middle" stroke="#222" stroke-width="0.6">2</text><text x="2110.0" y="1605.8" font-size="38" font-weight="normal" fill="#1e1e1e" text-anchor="end" stroke="#222" stroke-width="0.6">3</text><text x="2655.8" y="2172.0" font-size="38" font-weight="normal" fill="#1e1e1e" text-anchor="middle" stroke="#222" stroke-width="0.6">3</text><text x="2110.0" y="1428.5" font-size="38" font-weight="normal" fill="#1e1e1e" text-anchor="end" stroke="#222" stroke-width="0.6">4</text><text x="2833.0" y="2172.0" font-size="38" font-weight="normal" fill="#1e1e1e" text-anchor="middle" stroke="#222" stroke-width="0.6">4</text><text x="2206.0" y="1328.0" font-size="67" font-weight="bold" fill="#000" text-anchor="start" textLength="437.0" lengthAdjust="spacingAndGlyphs">Solvent control</text><text x="2196.0" y="1407.0" font-size="53.5" font-weight="normal" fill="#1e1e1e" text-anchor="start" textLength="565.0" lengthAdjust="spacingAndGlyphs" stroke="#1e1e1e" stroke-width="0.6">APOPTOSIS PROFILE</text><text transform="translate(2062.0,1895.0) rotate(-90)" x="0" y="0" font-size="54" font-weight="normal" fill="#1e1e1e" text-anchor="start" textLength="251.0" lengthAdjust="spacingAndGlyphs" stroke="#1e1e1e" stroke-width="0.6">VIABILITY</text><text x="2128.0" y="2219.0" font-size="36" font-weight="normal" fill="#646464" text-anchor="start" textLength="71.0" lengthAdjust="spacingAndGlyphs" stroke="#646464" stroke-width="0.8">Live</text><text x="2336.0" y="2223.0" font-size="51" font-weight="normal" fill="#1e1e1e" text-anchor="start" textLength="286.0" lengthAdjust="spacingAndGlyphs" stroke="#1e1e1e" stroke-width="0.8">ANNEXIN V</text><text x="2672.0" y="2219.0" font-size="36" font-weight="normal" fill="#646464" text-anchor="start" textLength="161.0" lengthAdjust="spacingAndGlyphs" stroke="#646464" stroke-width="0.8">Apoptotic</text><text x="2138.0" y="1465.0" font-size="50" font-weight="normal" fill="#1e1e1e" text-anchor="start" textLength="112.0" lengthAdjust="spacingAndGlyphs" stroke="#1e1e1e" stroke-width="0.9">Dead</text><text x="2138.0" y="1522.0" font-size="50" font-weight="normal" fill="#1e1e1e" text-anchor="start" textLength="145.0" lengthAdjust="spacingAndGlyphs" stroke="#1e1e1e" stroke-width="0.9">0.96 %</text><text x="2464.0" y="1465.0" font-size="50" font-weight="normal" fill="#1e1e1e" text-anchor="start" textLength="357.0" lengthAdjust="spacingAndGlyphs" stroke="#1e1e1e" stroke-width="0.9">Late Apop./Dead</text><text x="2676.0" y="1522.0" font-size="50" font-weight="normal" fill="#1e1e1e" text-anchor="start" textLength="145.0" lengthAdjust="spacingAndGlyphs" stroke="#1e1e1e" stroke-width="0.9">2.59 %</text><text x="2138.0" y="2054.0" font-size="50" font-weight="normal" fill="#1e1e1e" text-anchor="start" textLength="171.0" lengthAdjust="spacingAndGlyphs" stroke="#1e1e1e" stroke-width="0.9">93.26 %</text><text x="2138.0" y="2111.0" font-size="50" font-weight="normal" fill="#1e1e1e" text-anchor="start" textLength="87.0" lengthAdjust="spacingAndGlyphs" stroke="#1e1e1e" stroke-width="0.9">Live</text><text x="2676.0" y="2054.0" font-size="50" font-weight="normal" fill="#1e1e1e" text-anchor="start" textLength="145.0" lengthAdjust="spacingAndGlyphs" stroke="#1e1e1e" stroke-width="0.9">3.19 %</text><text x="2578.0" y="2111.0" font-size="50" font-weight="normal" fill="#1e1e1e" text-anchor="start" textLength="243.0" lengthAdjust="spacingAndGlyphs" stroke="#1e1e1e" stroke-width="0.9">Early Apop.</text><line x1="437.0" y1="2935.0" x2="437.0" y2="2928.9" stroke="#000" stroke-width="3.2"/><line x1="419.0" y1="2928.9" x2="455.0" y2="2928.9" stroke="#000" stroke-width="3.2"/><rect x="400.0" y="2933.0" width="74.0" height="235.0" fill="#000"/><line x1="547.5" y1="2816.0" x2="547.5" y2="2809.9" stroke="#000" stroke-width="3.2"/><line x1="529.5" y1="2809.9" x2="565.5" y2="2809.9" stroke="#000" stroke-width="3.2"/><rect x="514.9" y="2817.9" width="65.2" height="350.1" fill="#a2a1a6" stroke="#000" stroke-width="7.8"/><line x1="659.0" y1="2824.2" x2="659.0" y2="2818.1" stroke="#000" stroke-width="3.2"/><line x1="641.0" y1="2818.1" x2="677.0" y2="2818.1" stroke="#000" stroke-width="3.2"/><rect x="626.9" y="2826.1" width="64.2" height="341.9" fill="#808080" stroke="#000" stroke-width="7.8"/><path d="M362.0 2609.3V3168.0" stroke="#000" stroke-width="5.4" fill="none"/><path d="M339.0 3168.0H735.0" stroke="#000" stroke-width="5.4" fill="none"/><text x="333.0" y="3184.5" font-size="41.5" font-weight="bold" fill="#000" text-anchor="end">0</text><text x="333.0" y="2999.2" font-size="41.5" font-weight="bold" fill="#000" text-anchor="end">50</text><text x="333.0" y="2813.8" font-size="41.5" font-weight="bold" fill="#000" text-anchor="end">100</text><text x="333.0" y="2628.5" font-size="41.5" font-weight="bold" fill="#000" text-anchor="end">150</text><path d="M337.0 3168.0H362.0M337.0 2982.7H362.0M337.0 2797.3H362.0M337.0 2612.0H362.0M436.0 3168.0V3191.5M548.0 3168.0V3191.5M658.0 3168.0V3191.5" stroke="#000" stroke-width="5.4" fill="none"/><path d="M436.0 2898.0V2742.0H548.0V2777.0" stroke="#000" stroke-width="5.4" fill="none" stroke-linejoin="miter"/><path d="M440.7 2691.8V2718.2M429.3 2698.4L452.1 2711.6M429.3 2711.6L452.1 2698.4M473.6 2691.8V2718.2M462.2 2698.4L485.0 2711.6M462.2 2711.6L485.0 2698.4M506.5 2691.8V2718.2M495.1 2698.4L517.9 2711.6M495.1 2711.6L517.9 2698.4M539.4 2691.8V2718.2M528.0 2698.4L550.8 2711.6M528.0 2711.6L550.8 2698.4" stroke="#000" stroke-width="5.10" fill="none"/><path d="M436.0 2659.0V2625.5H659.0V2785.0" stroke="#000" stroke-width="5.4" fill="none" stroke-linejoin="miter"/><path d="M494.4 2574.0V2600.4M483.0 2580.6L505.8 2593.8M483.0 2593.8L505.8 2580.6M527.3 2574.0V2600.4M515.9 2580.6L538.7 2593.8M515.9 2593.8L538.7 2580.6M560.2 2574.0V2600.4M548.8 2580.6L571.6 2593.8M548.8 2593.8L571.6 2580.6M593.1 2574.0V2600.4M581.7 2580.6L604.5 2593.8M581.7 2593.8L604.5 2580.6" stroke="#000" stroke-width="5.10" fill="none"/><text transform="translate(234.3,3032.0) rotate(-90)" x="0" y="0" font-size="45.2" font-weight="bold" fill="#000" text-anchor="start" textLength="285.0" lengthAdjust="spacingAndGlyphs">Live cells (%)</text><text transform="translate(448.0,3235.0) rotate(-45)" x="0" y="0" font-size="51.7" font-weight="bold" fill="#000" text-anchor="end" textLength="292.6" lengthAdjust="spacingAndGlyphs">Actinomycin D</text><text transform="translate(561.0,3235.0) rotate(-45)" x="0" y="0" font-size="51.7" font-weight="bold" fill="#000" text-anchor="end" textLength="162.3" lengthAdjust="spacingAndGlyphs">Medium</text><text transform="translate(673.0,3235.0) rotate(-45)" x="0" y="0" font-size="51.7" font-weight="bold" fill="#000" text-anchor="end" textLength="155.1" lengthAdjust="spacingAndGlyphs">Solvent</text><line x1="1114.0" y1="2711.1" x2="1114.0" y2="2658.7" stroke="#000" stroke-width="3.2"/><line x1="1096.0" y1="2658.7" x2="1132.0" y2="2658.7" stroke="#000" stroke-width="3.2"/><rect x="1076.0" y="2709.1" width="76.0" height="460.9" fill="#000"/><line x1="1229.5" y1="3056.8" x2="1229.5" y2="3050.1" stroke="#000" stroke-width="3.2"/><line x1="1211.5" y1="3050.1" x2="1247.5" y2="3050.1" stroke="#000" stroke-width="3.2"/><rect x="1195.9" y="3058.7" width="67.2" height="111.3" fill="#a2a1a6" stroke="#000" stroke-width="7.8"/><line x1="1344.5" y1="2987.3" x2="1344.5" y2="2970.2" stroke="#000" stroke-width="3.2"/><line x1="1326.5" y1="2970.2" x2="1362.5" y2="2970.2" stroke="#000" stroke-width="3.2"/><rect x="1310.9" y="2989.2" width="67.2" height="180.8" fill="#808080" stroke="#000" stroke-width="7.8"/><path d="M1038.0 2588.3V3170.0" stroke="#000" stroke-width="5.4" fill="none"/><path d="M1014.0 3170.0H1424.0" stroke="#000" stroke-width="5.4" fill="none"/><text x="1009.0" y="3186.5" font-size="41.5" font-weight="bold" fill="#000" text-anchor="end">0</text><text x="1009.0" y="3070.7" font-size="41.5" font-weight="bold" fill="#000" text-anchor="end">2</text><text x="1009.0" y="2954.9" font-size="41.5" font-weight="bold" fill="#000" text-anchor="end">4</text><text x="1009.0" y="2839.1" font-size="41.5" font-weight="bold" fill="#000" text-anchor="end">6</text><text x="1009.0" y="2723.3" font-size="41.5" font-weight="bold" fill="#000" text-anchor="end">8</text><text x="1009.0" y="2607.5" font-size="41.5" font-weight="bold" fill="#000" text-anchor="end">10</text><path d="M1013.0 3170.0H1038.0M1013.0 3054.2H1038.0M1013.0 2938.4H1038.0M1013.0 2822.6H1038.0M1013.0 2706.8H1038.0M1013.0 2591.0H1038.0M1114.0 3170.0V3193.5M1229.0 3170.0V3193.5M1345.0 3170.0V3193.5" stroke="#000" stroke-width="5.4" fill="none"/><path d="M1113.8 2625.0V2590.8H1229.3V3015.0" stroke="#000" stroke-width="5.4" fill="none" stroke-linejoin="miter"/><path d="M1116.9 2537.1V2564.9M1104.9 2544.1L1128.9 2557.9M1104.9 2557.9L1128.9 2544.1M1151.4 2537.1V2564.9M1139.4 2544.1L1163.4 2557.9M1139.4 2557.9L1163.4 2544.1M1185.9 2537.1V2564.9M1173.9 2544.1L1198.0 2557.9M1173.9 2557.9L1198.0 2544.1M1220.5 2537.1V2564.9M1208.5 2544.1L1232.5 2557.9M1208.5 2557.9L1232.5 2544.1" stroke="#000" stroke-width="5.35" fill="none"/><path d="M1113.8 2502.5V2468.5H1345.0V2935.0" stroke="#000" stroke-width="5.4" fill="none" stroke-linejoin="miter"/><path d="M1174.6 2414.8V2442.6M1162.6 2421.8L1186.6 2435.6M1162.6 2435.6L1186.6 2421.8M1209.1 2414.8V2442.6M1197.1 2421.8L1221.1 2435.6M1197.1 2435.6L1221.1 2421.8M1243.6 2414.8V2442.6M1231.6 2421.8L1255.7 2435.6M1231.6 2435.6L1255.7 2421.8M1278.2 2414.8V2442.6M1266.2 2421.8L1290.2 2435.6M1266.2 2435.6L1290.2 2421.8" stroke="#000" stroke-width="5.35" fill="none"/><text transform="translate(927.8,3152.0) rotate(-90)" x="0" y="0" font-size="47.3" font-weight="bold" fill="#000" text-anchor="start" textLength="545.0" lengthAdjust="spacingAndGlyphs">Early apoptotic cells (%)</text><text transform="translate(1126.0,3235.0) rotate(-45)" x="0" y="0" font-size="51.7" font-weight="bold" fill="#000" text-anchor="end" textLength="292.6" lengthAdjust="spacingAndGlyphs">Actinomycin D</text><text transform="translate(1241.0,3235.0) rotate(-45)" x="0" y="0" font-size="51.7" font-weight="bold" fill="#000" text-anchor="end" textLength="162.3" lengthAdjust="spacingAndGlyphs">Medium</text><text transform="translate(1357.0,3235.0) rotate(-45)" x="0" y="0" font-size="51.7" font-weight="bold" fill="#000" text-anchor="end" textLength="155.1" lengthAdjust="spacingAndGlyphs">Solvent</text><line x1="1825.0" y1="2737.2" x2="1825.0" y2="2721.1" stroke="#000" stroke-width="3.2"/><line x1="1807.0" y1="2721.1" x2="1843.0" y2="2721.1" stroke="#000" stroke-width="3.2"/><rect x="1789.0" y="2735.2" width="72.0" height="434.3" fill="#000"/><line x1="1933.0" y1="3131.4" x2="1933.0" y2="3127.5" stroke="#000" stroke-width="3.2"/><line x1="1915.0" y1="3127.5" x2="1951.0" y2="3127.5" stroke="#000" stroke-width="3.2"/><rect x="1901.9" y="3133.3" width="62.2" height="36.2" fill="#a2a1a6" stroke="#000" stroke-width="7.8"/><line x1="2041.5" y1="3115.4" x2="2041.5" y2="3097.4" stroke="#000" stroke-width="3.2"/><line x1="2023.5" y1="3097.4" x2="2059.5" y2="3097.4" stroke="#000" stroke-width="3.2"/><rect x="2009.9" y="3117.3" width="63.2" height="52.2" fill="#808080" stroke="#000" stroke-width="7.8"/><path d="M1753.0 2625.3V3169.5" stroke="#000" stroke-width="5.4" fill="none"/><path d="M1730.0 3169.5H2116.0" stroke="#000" stroke-width="5.4" fill="none"/><text x="1724.0" y="3186.0" font-size="41.5" font-weight="bold" fill="#000" text-anchor="end">0</text><text x="1724.0" y="3077.7" font-size="41.5" font-weight="bold" fill="#000" text-anchor="end">5</text><text x="1724.0" y="2969.4" font-size="41.5" font-weight="bold" fill="#000" text-anchor="end">10</text><text x="1724.0" y="2861.1" font-size="41.5" font-weight="bold" fill="#000" text-anchor="end">15</text><text x="1724.0" y="2752.8" font-size="41.5" font-weight="bold" fill="#000" text-anchor="end">20</text><text x="1724.0" y="2644.5" font-size="41.5" font-weight="bold" fill="#000" text-anchor="end">25</text><path d="M1728.0 3169.5H1753.0M1728.0 3061.2H1753.0M1728.0 2952.9H1753.0M1728.0 2844.6H1753.0M1728.0 2736.3H1753.0M1728.0 2628.0H1753.0M1825.5 3169.5V3193.0M1933.4 3169.5V3193.0M2041.5 3169.5V3193.0" stroke="#000" stroke-width="5.4" fill="none"/><path d="M1825.5 2689.0V2657.5H1933.6V3094.5" stroke="#000" stroke-width="5.4" fill="none" stroke-linejoin="miter"/><path d="M1828.1 2607.1V2632.9M1816.9 2613.5L1839.3 2626.5M1816.9 2626.5L1839.3 2613.5M1860.4 2607.1V2632.9M1849.2 2613.5L1871.6 2626.5M1849.2 2626.5L1871.6 2613.5M1892.6 2607.1V2632.9M1881.4 2613.5L1903.8 2626.5M1881.4 2626.5L1903.8 2613.5M1924.9 2607.1V2632.9M1913.7 2613.5L1936.1 2626.5M1913.7 2626.5L1936.1 2613.5" stroke="#000" stroke-width="5.00" fill="none"/><path d="M1825.5 2574.8V2543.0H2041.5V3065.0" stroke="#000" stroke-width="5.4" fill="none" stroke-linejoin="miter"/><path d="M1882.2 2492.4V2518.2M1871.0 2498.8L1893.4 2511.8M1871.0 2511.8L1893.4 2498.8M1914.5 2492.4V2518.2M1903.3 2498.8L1925.7 2511.8M1903.3 2511.8L1925.7 2498.8M1946.7 2492.4V2518.2M1935.5 2498.8L1957.9 2511.8M1935.5 2511.8L1957.9 2498.8M1979.0 2492.4V2518.2M1967.8 2498.8L1990.2 2511.8M1967.8 2511.8L1990.2 2498.8" stroke="#000" stroke-width="5.00" fill="none"/><text transform="translate(1613.5,3144.0) rotate(-90)" x="0" y="0" font-size="44.1" font-weight="bold" fill="#000" text-anchor="start" textLength="493.0" lengthAdjust="spacingAndGlyphs">Late apoptotic cells (%)</text><text transform="translate(1838.0,3235.0) rotate(-45)" x="0" y="0" font-size="51.7" font-weight="bold" fill="#000" text-anchor="end" textLength="292.6" lengthAdjust="spacingAndGlyphs">Actinomycin D</text><text transform="translate(1946.0,3235.0) rotate(-45)" x="0" y="0" font-size="51.7" font-weight="bold" fill="#000" text-anchor="end" textLength="162.3" lengthAdjust="spacingAndGlyphs">Medium</text><text transform="translate(2054.0,3235.0) rotate(-45)" x="0" y="0" font-size="51.7" font-weight="bold" fill="#000" text-anchor="end" textLength="155.1" lengthAdjust="spacingAndGlyphs">Solvent</text><line x1="2488.0" y1="2718.2" x2="2488.0" y2="2666.8" stroke="#000" stroke-width="3.2"/><line x1="2470.0" y1="2666.8" x2="2506.0" y2="2666.8" stroke="#000" stroke-width="3.2"/><rect x="2449.0" y="2716.2" width="78.0" height="449.8" fill="#000"/><line x1="2605.0" y1="3140.8" x2="2605.0" y2="3134.3" stroke="#000" stroke-width="3.2"/><line x1="2587.0" y1="3134.3" x2="2623.0" y2="3134.3" stroke="#000" stroke-width="3.2"/><rect x="2570.9" y="3142.7" width="68.2" height="23.3" fill="#a2a1a6" stroke="#000" stroke-width="7.8"/><line x1="2723.0" y1="3103.2" x2="2723.0" y2="3090.9" stroke="#000" stroke-width="3.2"/><line x1="2705.0" y1="3090.9" x2="2741.0" y2="3090.9" stroke="#000" stroke-width="3.2"/><rect x="2688.9" y="3105.1" width="68.2" height="60.9" fill="#808080" stroke="#000" stroke-width="7.8"/><path d="M2409.0 2574.3V3166.0" stroke="#000" stroke-width="5.4" fill="none"/><path d="M2385.0 3166.0H2804.0" stroke="#000" stroke-width="5.4" fill="none"/><text x="2380.0" y="3182.5" font-size="41.5" font-weight="bold" fill="#000" text-anchor="end">0</text><text x="2380.0" y="3035.2" font-size="41.5" font-weight="bold" fill="#000" text-anchor="end">2</text><text x="2380.0" y="2888.0" font-size="41.5" font-weight="bold" fill="#000" text-anchor="end">4</text><text x="2380.0" y="2740.8" font-size="41.5" font-weight="bold" fill="#000" text-anchor="end">6</text><text x="2380.0" y="2593.5" font-size="41.5" font-weight="bold" fill="#000" text-anchor="end">8</text><path d="M2384.0 3166.0H2409.0M2384.0 3018.8H2409.0M2384.0 2871.5H2409.0M2384.0 2724.2H2409.0M2384.0 2577.0H2409.0M2486.0 3166.0V3189.5M2605.0 3166.0V3189.5M2723.0 3166.0V3189.5" stroke="#000" stroke-width="5.4" fill="none"/><path d="M2486.0 2631.0V2596.0H2605.0V3099.0" stroke="#000" stroke-width="5.4" fill="none" stroke-linejoin="miter"/><path d="M2491.9 2542.6V2570.4M2479.9 2549.6L2503.9 2563.4M2479.9 2563.4L2503.9 2549.6M2526.4 2542.6V2570.4M2514.4 2549.6L2538.4 2563.4M2514.4 2563.4L2538.4 2549.6M2561.0 2542.6V2570.4M2548.9 2549.6L2573.0 2563.4M2548.9 2563.4L2573.0 2549.6M2595.5 2542.6V2570.4M2583.5 2549.6L2607.5 2563.4M2583.5 2563.4L2607.5 2549.6" stroke="#000" stroke-width="5.35" fill="none"/><path d="M2486.0 2506.0V2472.0H2723.0V3057.0" stroke="#000" stroke-width="5.4" fill="none" stroke-linejoin="miter"/><path d="M2549.9 2418.1V2445.9M2537.9 2425.1L2561.9 2438.9M2537.9 2438.9L2561.9 2425.1M2584.4 2418.1V2445.9M2572.4 2425.1L2596.4 2438.9M2572.4 2438.9L2596.4 2425.1M2619.0 2418.1V2445.9M2606.9 2425.1L2631.0 2438.9M2606.9 2438.9L2631.0 2425.1M2653.5 2418.1V2445.9M2641.5 2425.1L2665.5 2438.9M2641.5 2438.9L2665.5 2425.1" stroke="#000" stroke-width="5.35" fill="none"/><text transform="translate(2321.5,3032.0) rotate(-90)" x="0" y="0" font-size="44.1" font-weight="bold" fill="#000" text-anchor="start" textLength="321.0" lengthAdjust="spacingAndGlyphs">Dead cells (%)</text><text transform="translate(2498.0,3235.0) rotate(-45)" x="0" y="0" font-size="51.7" font-weight="bold" fill="#000" text-anchor="end" textLength="292.6" lengthAdjust="spacingAndGlyphs">Actinomycin D</text><text transform="translate(2617.0,3235.0) rotate(-45)" x="0" y="0" font-size="51.7" font-weight="bold" fill="#000" text-anchor="end" textLength="162.3" lengthAdjust="spacingAndGlyphs">Medium</text><text transform="translate(2735.0,3235.0) rotate(-45)" x="0" y="0" font-size="51.7" font-weight="bold" fill="#000" text-anchor="end" textLength="155.1" lengthAdjust="spacingAndGlyphs">Solvent</text><rect x="53.2" y="45.3" width="2875.1" height="3490.2" fill="none" stroke="#1a1a1a" stroke-width="9" stroke-linejoin="round"/><line x1="53.0" y1="1188.6" x2="2928.0" y2="1188.6" stroke="#222" stroke-width="9"/><line x1="53.0" y1="2336.6" x2="2928.0" y2="2336.6" stroke="#222" stroke-width="9"/></svg></body></html>
